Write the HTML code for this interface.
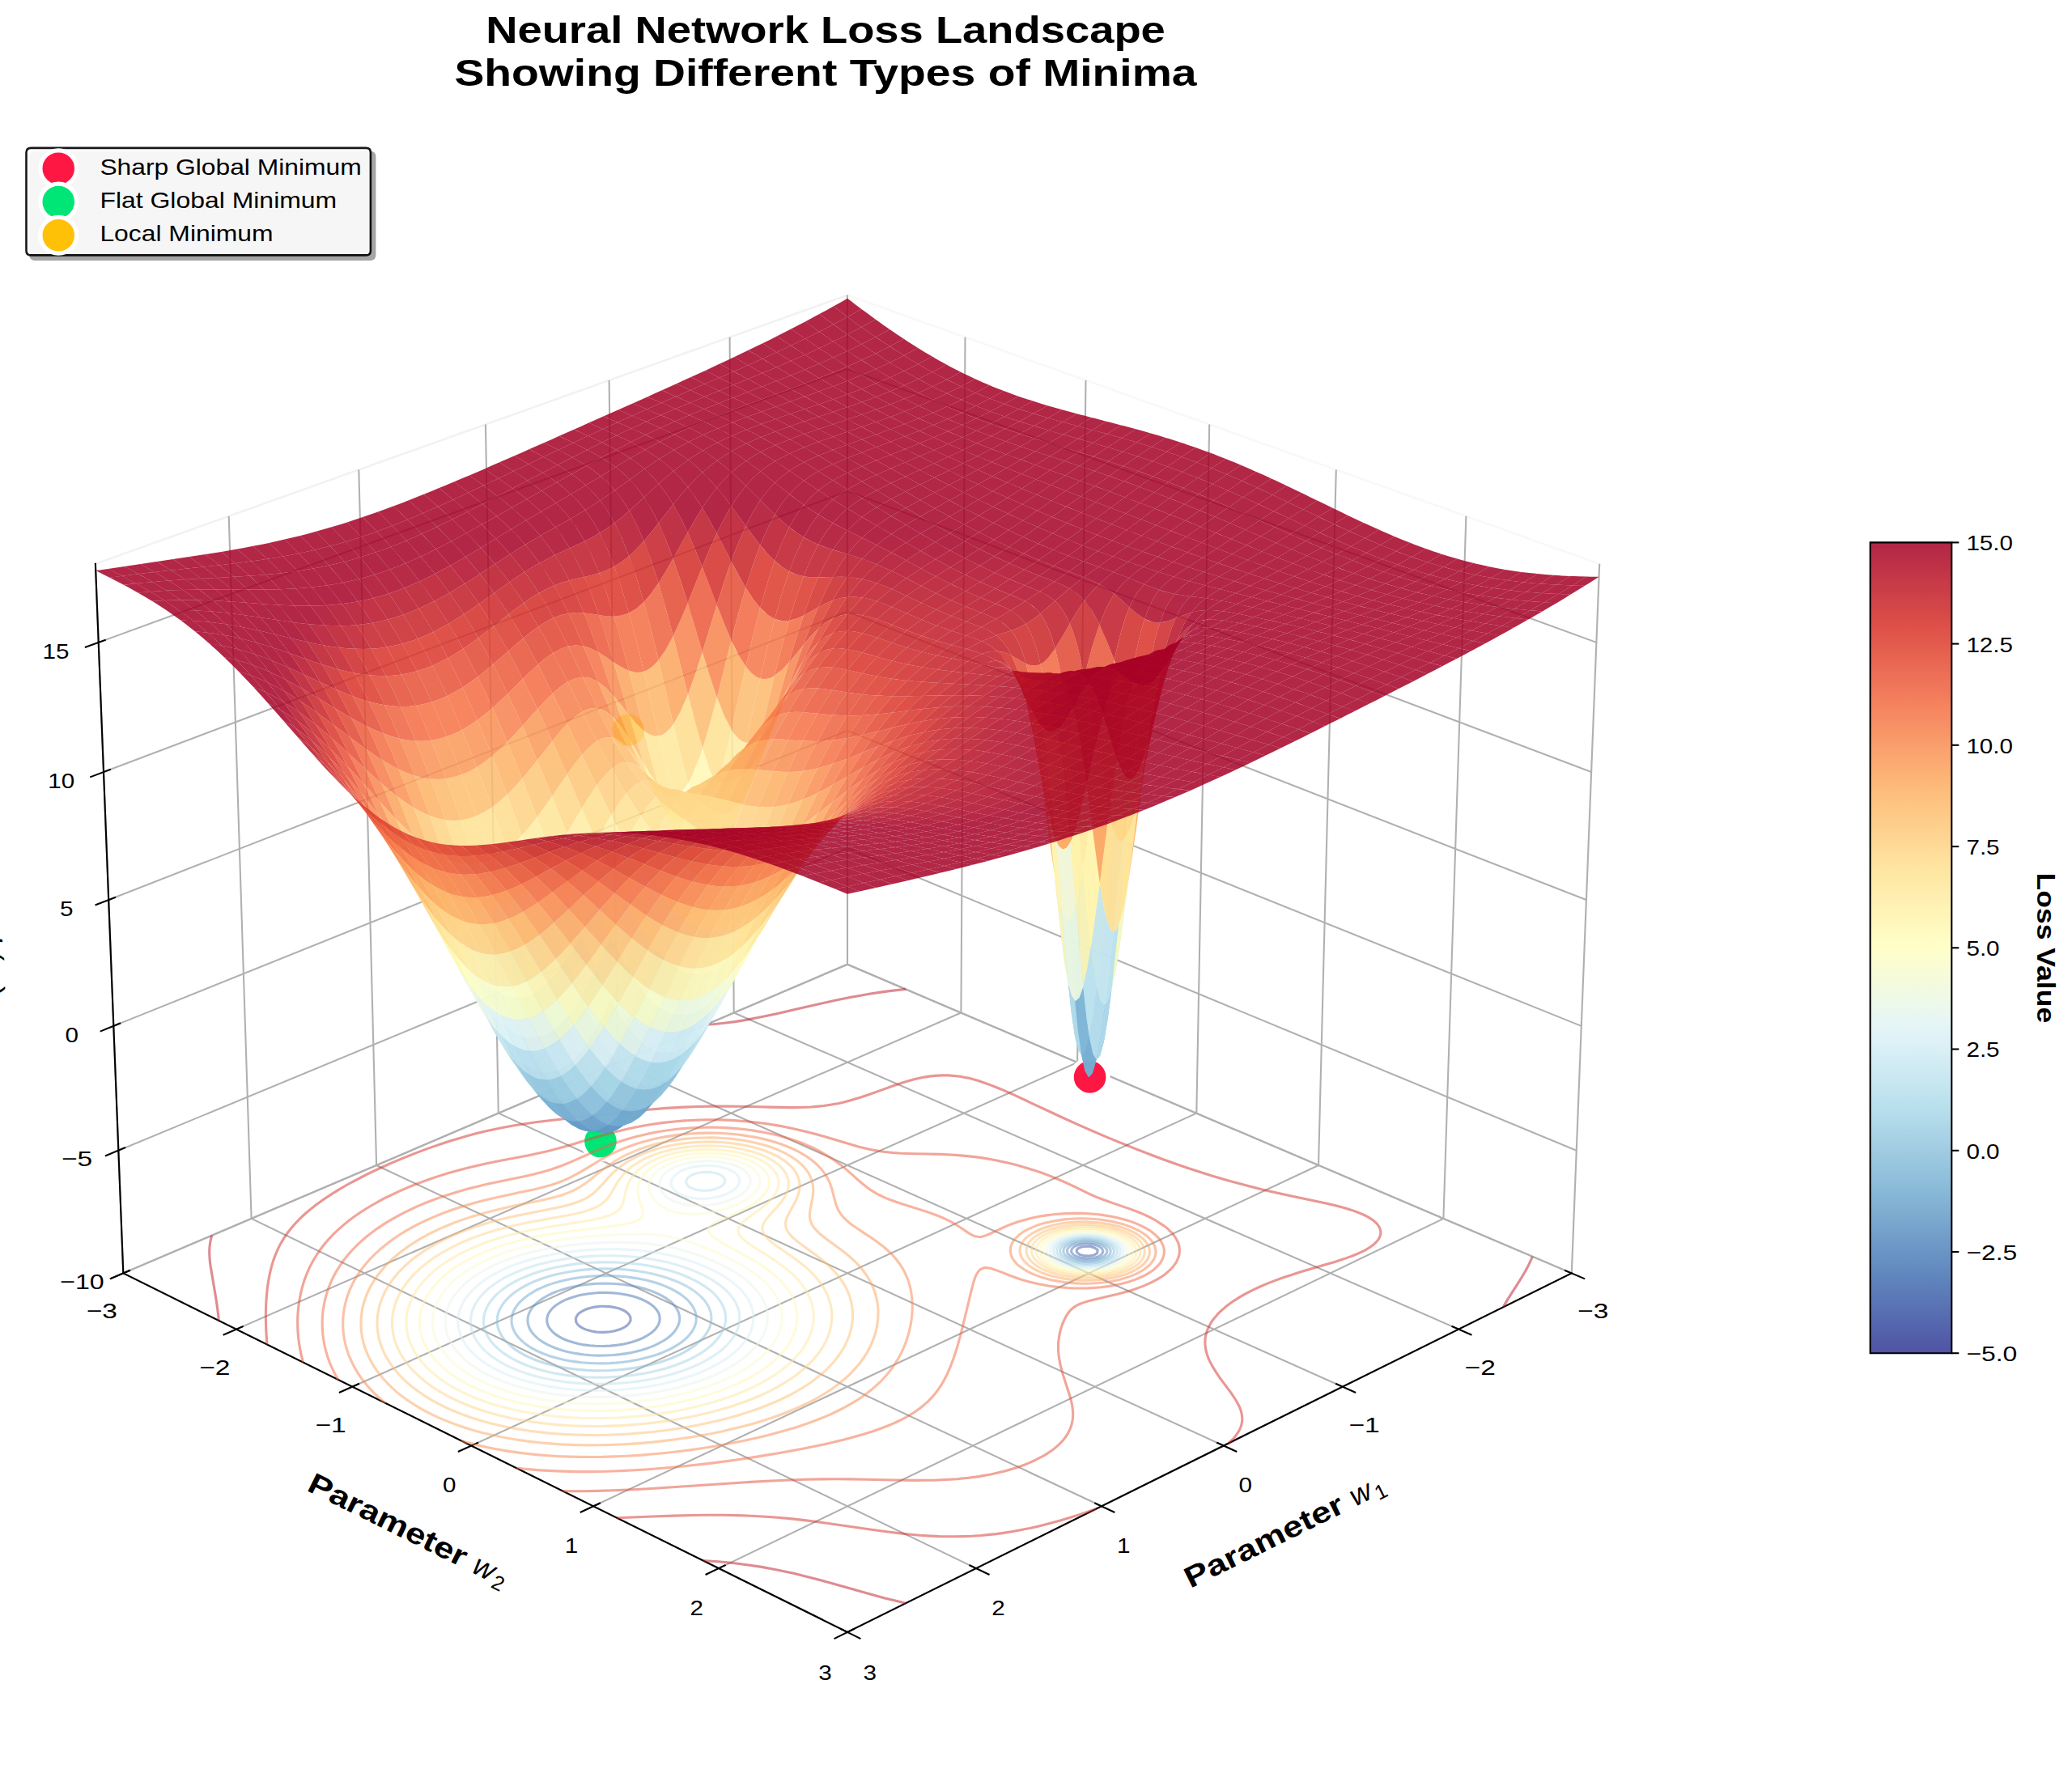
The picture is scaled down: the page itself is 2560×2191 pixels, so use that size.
<!DOCTYPE html><html><head><meta charset="utf-8"><title>Neural Network Loss Landscape</title><style>html,body{margin:0;padding:0;background:#fff;overflow:hidden}</style></head><body><svg xmlns="http://www.w3.org/2000/svg" width="2560" height="2191" viewBox="0 0 2560 2191" font-family="'Liberation Sans', sans-serif" style="display:block"><defs><clipPath id="c0"><rect x="18.3" y="168.7" width="2003.4" height="2003.4"/></clipPath></defs>
<g fill="#ffffff"><path d="M0 2191l2560 0l0-2191l-2560 0z"/><path d="M18.3 2172.1l2003.4 0l0-2003.4l-2003.4 0z"/></g>
<path d="M1047 1191.7l894.8 381.7l34.4-876.6l-929.2-332.1l0 0" fill="none" opacity="0.5" stroke="#f2f2f2" stroke-width="2.58" stroke-linejoin="miter"/>
<path d="M1047 1191.7l-894.7 381.7l-34.4-876.6l929.1-332.1l0 0" fill="none" opacity="0.5" stroke="#e6e6e6" stroke-width="2.58" stroke-linejoin="miter"/>
<path d="M1047 1191.7l-894.7 381.7l894.7 443.5l894.8-443.5l0 0" fill="none" opacity="0.5" stroke="#ececec" stroke-width="2.58" stroke-linejoin="miter"/>
<g fill="none" stroke="#b0b0b0" stroke-width="2.07"><path d="M1941.8 1573.4l-894.8-381.7l0-827l0 0"/><path d="M1802.1 1642.6l-895.4-391.1l-5.1-834.8l0 0"/><path d="M1658.8 1713.7l-895.8-400.8l-10.4-843l0 0"/><path d="M1511.8 1786.5l-896-410.9l-15.9-851.1l0 0"/><path d="M1361 1861.3l-895.9-421.3l-21.8-859.5l0 0"/><path d="M1206.1 1938.1l-895.5-432.2l-27.9-868l0 0"/><path d="M1047 2016.9l-894.7-443.5l-34.4-876.6l0 0"/><path d="M1047 364.7l0 827l-894.7 381.7l0 0"/><path d="M1192.5 416.7l-5.1 834.8l-895.4 391.1l0 0"/><path d="M1341.5 469.9l-10.4 843l-895.8 400.8l0 0"/><path d="M1494.2 524.5l-15.9 851.1l-896 410.9l0 0"/><path d="M1650.8 580.5l-21.8 859.5l-895.9 421.3l0 0"/><path d="M1811.4 637.9l-28 868l-895.4 432.2l0 0"/><path d="M1976.2 696.8l-34.4 876.6l-894.8 443.5l0 0"/><path d="M152.3 1573.4l894.7-381.7l894.8 381.7l0 0"/><path d="M146.4 1421.7l900.6-373.5l900.7 373.5l0 0"/><path d="M140.3 1267.9l906.7-365l906.7 365l0 0"/><path d="M134.2 1112l912.8-356.2l912.9 356.2l0 0"/><path d="M128 954l919-347.1l919.1 347.1l0 0"/><path d="M121.7 793.9l925.3-337.8l925.4 337.8l0 0"/></g>
<g fill="none" stroke="#000000" stroke-width="2.07" stroke-linecap="square"><path d="M1941.8 1573.4l-894.8 443.5l0 0"/><path d="M1934.1 1570.1l23.1 9.9l0 0"/></g>
<text transform="translate(1949.1 1628.9)" font-size="25.83" fill="#000000"  textLength="38.2" lengthAdjust="spacingAndGlyphs">−3</text>
<path d="M1794.4 1639.3l23.1 10.1l0 0" fill="none" stroke="#000000" stroke-width="2.07" stroke-linecap="square"/>
<text transform="translate(1809.6 1698.7)" font-size="25.83" fill="#000000"  textLength="38.2" lengthAdjust="spacingAndGlyphs">−2</text>
<path d="M1651.1 1710.2l23.1 10.4l0 0" fill="none" stroke="#000000" stroke-width="2.07" stroke-linecap="square"/>
<text transform="translate(1666.5 1770.2)" font-size="25.83" fill="#000000"  textLength="38.2" lengthAdjust="spacingAndGlyphs">−1</text>
<path d="M1504.1 1783l23.2 10.6l0 0" fill="none" stroke="#000000" stroke-width="2.07" stroke-linecap="square"/>
<text transform="translate(1530.6 1843.7)" font-size="25.83" fill="#000000"  textLength="16.5" lengthAdjust="spacingAndGlyphs">0</text>
<path d="M1353.2 1857.7l23.2 10.9l0 0" fill="none" stroke="#000000" stroke-width="2.07" stroke-linecap="square"/>
<text transform="translate(1379.9 1919)" font-size="25.83" fill="#000000"  textLength="16.5" lengthAdjust="spacingAndGlyphs">1</text>
<path d="M1198.4 1934.4l23.2 11.2l0 0" fill="none" stroke="#000000" stroke-width="2.07" stroke-linecap="square"/>
<text transform="translate(1225.2 1996.4)" font-size="25.83" fill="#000000"  textLength="16.5" lengthAdjust="spacingAndGlyphs">2</text>
<path d="M1039.3 2013.1l23.2 11.5l0 0" fill="none" stroke="#000000" stroke-width="2.07" stroke-linecap="square"/>
<text transform="translate(1066.4 2075.8)" font-size="25.83" fill="#000000"  textLength="16.5" lengthAdjust="spacingAndGlyphs">3</text>
<g transform="translate(1471.2 1963.8) rotate(-26.37)" fill="#000000"><text x="0" y="-0.8" font-size="36.17" font-weight="bold" textLength="214.8" lengthAdjust="spacingAndGlyphs">Parameter</text><text x="227.4" y="-0.8" font-size="36.17" font-style="italic">w</text><text x="256.9" y="5.2" font-size="25.32" >1</text></g>
<g fill="none" stroke="#000000" stroke-width="2.07" stroke-linecap="square"><path d="M152.3 1573.4l894.7 443.5l0 0"/><path d="M160 1570.1l-23.1 9.9l0 0"/></g>
<text transform="translate(106.8 1628.9)" font-size="25.83" fill="#000000"  textLength="38.2" lengthAdjust="spacingAndGlyphs">−3</text>
<path d="M299.7 1639.3l-23.1 10.1l0 0" fill="none" stroke="#000000" stroke-width="2.07" stroke-linecap="square"/>
<text transform="translate(246.3 1698.7)" font-size="25.83" fill="#000000"  textLength="38.2" lengthAdjust="spacingAndGlyphs">−2</text>
<path d="M443 1710.2l-23.2 10.4l0 0" fill="none" stroke="#000000" stroke-width="2.07" stroke-linecap="square"/>
<text transform="translate(389.4 1770.2)" font-size="25.83" fill="#000000"  textLength="38.2" lengthAdjust="spacingAndGlyphs">−1</text>
<path d="M590 1783l-23.2 10.6l0 0" fill="none" stroke="#000000" stroke-width="2.07" stroke-linecap="square"/>
<text transform="translate(547 1843.7)" font-size="25.83" fill="#000000"  textLength="16.5" lengthAdjust="spacingAndGlyphs">0</text>
<path d="M740.9 1857.7l-23.2 10.9l0 0" fill="none" stroke="#000000" stroke-width="2.07" stroke-linecap="square"/>
<text transform="translate(697.7 1919)" font-size="25.83" fill="#000000"  textLength="16.5" lengthAdjust="spacingAndGlyphs">1</text>
<path d="M895.7 1934.4l-23.2 11.2l0 0" fill="none" stroke="#000000" stroke-width="2.07" stroke-linecap="square"/>
<text transform="translate(852.4 1996.4)" font-size="25.83" fill="#000000"  textLength="16.5" lengthAdjust="spacingAndGlyphs">2</text>
<path d="M1054.8 2013.1l-23.3 11.5l0 0" fill="none" stroke="#000000" stroke-width="2.07" stroke-linecap="square"/>
<text transform="translate(1011.2 2075.8)" font-size="25.83" fill="#000000"  textLength="16.5" lengthAdjust="spacingAndGlyphs">3</text>
<g transform="translate(377.4 1842.1) rotate(-333.6)" fill="#000000"><text x="0" y="-0.8" font-size="36.17" font-weight="bold" textLength="214.8" lengthAdjust="spacingAndGlyphs">Parameter</text><text x="227.4" y="-0.8" font-size="36.17" font-style="italic">w</text><text x="256.9" y="5.2" font-size="25.32" >2</text></g>
<g fill="none" stroke="#000000" stroke-width="2.07" stroke-linecap="square"><path d="M152.3 1573.4l-34.4-876.6l0 0"/><path d="M160 1570.1l-23.1 9.9l0 0"/></g>
<text transform="translate(74.1 1593.1)" font-size="25.83" fill="#000000"  textLength="54.6" lengthAdjust="spacingAndGlyphs">−10</text>
<path d="M154.1 1418.4l-23.2 9.7l0 0" fill="none" stroke="#000000" stroke-width="2.07" stroke-linecap="square"/>
<text transform="translate(76 1441.4)" font-size="25.83" fill="#000000"  textLength="38.2" lengthAdjust="spacingAndGlyphs">−5</text>
<path d="M148.1 1264.7l-23.4 9.5l0 0" fill="none" stroke="#000000" stroke-width="2.07" stroke-linecap="square"/>
<text transform="translate(80.5 1287.6)" font-size="25.83" fill="#000000"  textLength="16.5" lengthAdjust="spacingAndGlyphs">0</text>
<path d="M142.1 1109l-23.6 9.2l0 0" fill="none" stroke="#000000" stroke-width="2.07" stroke-linecap="square"/>
<text transform="translate(74 1131.8)" font-size="25.83" fill="#000000"  textLength="16.5" lengthAdjust="spacingAndGlyphs">5</text>
<path d="M135.9 951.1l-23.7 8.9l0 0" fill="none" stroke="#000000" stroke-width="2.07" stroke-linecap="square"/>
<text transform="translate(59.2 973.8)" font-size="25.83" fill="#000000"  textLength="32.9" lengthAdjust="spacingAndGlyphs">10</text>
<path d="M129.7 791l-23.9 8.7l0 0" fill="none" stroke="#000000" stroke-width="2.07" stroke-linecap="square"/>
<text transform="translate(52.6 813.7)" font-size="25.83" fill="#000000"  textLength="32.9" lengthAdjust="spacingAndGlyphs">15</text>
<g transform="translate(-27 1052.8) rotate(-272.2)" fill="#000000"><text x="0" y="-0.7" font-size="36.17" font-weight="bold" textLength="90.8" lengthAdjust="spacingAndGlyphs">Loss</text><text x="103.4" y="-0.7" font-size="36.17" font-style="italic">L</text><text x="123.5" y="-0.7" font-size="36.17" >(</text><text x="137.6" y="-0.7" font-size="36.17" font-style="italic">w</text><text x="167.2" y="-0.7" font-size="36.17" >)</text></g>
<path d="M1346.6 1353.3c5.9 0 11.6-2.4 15.8-6.6c4.2-4.2 6.6-9.8 6.6-15.8c0-5.9-2.4-11.6-6.6-15.8c-4.2-4.2-9.9-6.6-15.8-6.6c-5.9 0-11.6 2.4-15.8 6.6c-4.2 4.2-6.6 9.9-6.6 15.8c0 6 2.4 11.6 6.6 15.8c4.2 4.2 9.9 6.6 15.8 6.6z" fill="#ff1744" stroke="#ffffff" stroke-width="5.17" clip-path="url(#c0)"/>
<text transform="translate(600.2 53.3)" font-size="46.5" fill="#000000" font-weight="bold" textLength="839.6" lengthAdjust="spacingAndGlyphs">Neural Network Loss Landscape</text>
<text transform="translate(561.4 106)" font-size="46.5" fill="#000000" font-weight="bold" textLength="917.2" lengthAdjust="spacingAndGlyphs">Showing Different Types of Minima</text>
<g stroke="#ffffff" stroke-width="5.17" clip-path="url(#c0)"><path d="M776.4 924.5c6 0 11.6-2.4 15.8-6.6c4.2-4.2 6.6-9.9 6.6-15.8c0-5.9-2.4-11.6-6.6-15.8c-4.2-4.2-9.8-6.6-15.8-6.6c-5.9 0-11.6 2.4-15.8 6.6c-4.2 4.2-6.6 9.9-6.6 15.8c0 5.9 2.4 11.6 6.6 15.8c4.2 4.2 9.9 6.6 15.8 6.6z" fill="#ffc107"/><path d="M742 1432.9c5.9 0 11.6-2.4 15.8-6.6c4.2-4.2 6.5-9.9 6.5-15.8c0-5.9-2.3-11.6-6.5-15.8c-4.2-4.2-9.9-6.6-15.8-6.6c-6 0-11.7 2.4-15.9 6.6c-4.2 4.2-6.5 9.9-6.5 15.8c0 5.9 2.3 11.6 6.5 15.8c4.2 4.2 9.9 6.6 15.9 6.6z" fill="#00e676"/></g>
<path d="M43.3 320.6l414.1 0q5.7 0 5.7-5.7l0-121.1q0-5.7-5.7-5.7l-414.1 0q-5.7 0-5.7 5.7l0 121.1q0 5.7 5.7 5.7z" fill="#4d4d4d" opacity="0.5" stroke="#4d4d4d" stroke-width="2.58" stroke-linejoin="miter"/>
<path d="M38.2 315.4l414.1 0q5.6 0 5.6-5.7l0-121.1q0-5.7-5.6-5.7l-414.1 0q-5.7 0-5.7 5.7l0 121.1q0 5.7 5.7 5.7z" fill="#ffffff" opacity="0.9" stroke="#000000" stroke-width="2.58" stroke-linejoin="miter"/>
<path d="M72.3 230.5c5.9 0 11.6-2.4 15.8-6.6c4.2-4.1 6.5-9.8 6.5-15.8c0-5.9-2.3-11.6-6.5-15.8c-4.2-4.2-9.9-6.5-15.8-6.5c-6 0-11.7 2.3-15.9 6.5c-4.2 4.2-6.5 9.9-6.5 15.8c0 6 2.3 11.7 6.5 15.8c4.2 4.2 9.9 6.6 15.9 6.6z" fill="#ff1744" stroke="#ffffff" stroke-width="5.17"/>
<text transform="translate(123.4 215.6)" font-size="28.42" fill="#000000"  textLength="323.2" lengthAdjust="spacingAndGlyphs">Sharp Global Minimum</text>
<path d="M72.3 271.8c5.9 0 11.6-2.3 15.8-6.5c4.2-4.2 6.5-9.9 6.5-15.9c0-5.9-2.3-11.6-6.5-15.8c-4.2-4.2-9.9-6.5-15.8-6.5c-6 0-11.7 2.3-15.9 6.5c-4.2 4.2-6.5 9.9-6.5 15.8c0 6 2.3 11.7 6.5 15.9c4.2 4.2 9.9 6.5 15.9 6.5z" fill="#00e676" stroke="#ffffff" stroke-width="5.17"/>
<text transform="translate(123.4 256.9)" font-size="28.42" fill="#000000"  textLength="292.8" lengthAdjust="spacingAndGlyphs">Flat Global Minimum</text>
<path d="M72.3 313.1c5.9 0 11.6-2.3 15.8-6.5c4.2-4.2 6.5-9.9 6.5-15.8c0-6-2.3-11.7-6.5-15.9c-4.2-4.2-9.9-6.5-15.8-6.5c-6 0-11.7 2.3-15.9 6.5c-4.2 4.2-6.5 9.9-6.5 15.9c0 5.9 2.3 11.6 6.5 15.8c4.2 4.2 9.9 6.5 15.9 6.5z" fill="#ffc107" stroke="#ffffff" stroke-width="5.17"/>
<text transform="translate(123.4 298.2)" font-size="28.42" fill="#000000"  textLength="214.1" lengthAdjust="spacingAndGlyphs">Local Minimum</text>
<path d="M728.6 1616.5l6.2-1.4l7.4-0.8l2.9-0.1l8.3 0.4l6.6 1.1l5.7 1.5l4.7 2l3.8 2.4l2.9 2.8l1.8 3.2l0.2 4.2l-1.9 3.4l-2.8 3l-3.9 2.5l-4.6 2.1l-6.6 2l-5.5 0.9l-7.7 0.7l-8-0.3l-2.2-0.2l-4.7-0.8l-5.8-1.5l-4.8-1.9l-3.9-2.3l-3.1-2.8l-1.3-2l-0.6-1.2l-0.4-3.9l1.4-3.4l1.6-2.1l0.9-1l3.7-2.5l4.4-2.2l5.3-1.8M1337.4 1540.5l0.4 0l7.8-0.3l1.4 0.1l5.5 1.7l3.5 2.5l0.2 0.4l-0.6 3.7l-1.7 1.1l-2.1 1.2l-1.1 0.3l-5.4 0.8l-5.1-0.1l-6-1.4l-3.4-2.6l-0.7-2.7l1.1-1.6l1.3-1.2l4.9-1.9l0 0" fill="none" stroke="#3a54a4" stroke-opacity="0.5" stroke-width="3.1" clip-path="url(#c0)"/>
<path d="M703.3 1604.5l5.3-1.8l5.8-1.6l6.2-1.3l6.7-1.1l9.3-1l6.1-0.3l3.7 0l8.5 0.2l7.7 0.6l6.9 1l6.6 1.2l5.6 1.4l5.4 1.7l4.9 1.8l4.6 2l4.1 2.3l3.7 2.4l3.2 2.6l2.8 2.9l2.2 3.1l1 1.7l0.7 1.7l0.9 3.7l-0.1 4.1l-1 3.7l-0.5 1.1l-1.2 2.4l-2.8 3.6l-2.5 2.5l-3.4 2.7l-3.8 2.5l-4.2 2.4l-4.6 2.1l-5.1 1.9l-5.4 1.8l-5.9 1.5l-6.4 1.4l-7 1l-7.5 0.7l-8.4 0.4l-9.5-0.2l-7.1-0.5l-7.2-0.9l-6.4-1.2l-6.3-1.6l-5.1-1.5l-5-1.9l-4.6-2.1l-4.1-2.3l-3.7-2.4l-3.2-2.7l-2.7-2.9l-2.3-3.2l-1.5-3.2l-0.6-2.2l-0.3-1.5l-0.1-3l0.2-1.1l0.6-2.9l0.7-1.8l0.9-1.8l2.7-3.9l2.2-2.4l3.2-2.7l3.7-2.6l4-2.4l4.5-2.2l4.9-1.9M1332.6 1538.4l1.4-0.3l5.1-0.8l5.7-0.1l3.9 0.4l3.1 0.5l5.2 1.8l3.8 2.4l0.9 1.1l1 2.2l-0.2 2.1l-2.1 3.1l-4 2.2l-1.5 0.4l-4.1 1.1l-8.5 0.6l-7.1-0.9l-5.4-1.6l-3.9-2.4l-2.3-3.1l-0.1-0.8l1.1-3.5l0.8-0.7l2.4-1.8l4.8-1.9l0 0" fill="none" stroke="#4471b2" stroke-opacity="0.5" stroke-width="3.1" clip-path="url(#c0)"/>
<path d="M708.8 1589.9l6.4-1.2l8.1-1.2l6-0.6l7.9-0.6l8.4-0.3l9.3 0.2l10.5 0.7l3.6 0.3l8.7 1.2l4.8 0.8l6.2 1.3l5.8 1.5l5.4 1.6l5.1 1.8l4.8 1.9l4.4 2.1l4.2 2.2l3.9 2.3l3.6 2.5l3.2 2.6l2.8 2.8l2.9 3.5l1.7 2.7l1.7 3.3l1.2 4.7l0.3 2.9l-0.1 1.5l-0.5 4l-1.3 3.7l-1.8 3.4l-2.2 3.3l-2.6 3.1l-3.1 2.9l-3.3 2.7l-3.7 2.5l-4.1 2.5l-4.3 2.2l-4.6 2.2l-4.9 2l-5.3 1.9l-5.5 1.7l-6.9 1.8l-5.3 1.1l-6.6 1.2l-7 1l-8.7 0.9l-10.3 0.5l-9.2 0.1l-8.4-0.4l-8.5-0.7l-6.4-0.9l-6.9-1.1l-6-1.3l-5.9-1.5l-5.4-1.7l-5.2-1.8l-4.8-2l-4.4-2.1l-4.2-2.2l-3.8-2.4l-3.5-2.6l-3.1-2.7l-3.4-3.6l-1.8-2.3l-2.4-4.1l-1-2.5l-1-3.6l-0.4-3.9l0.4-4.3l1-3.6l0.5-1.1l1.1-2.5l2.1-3.3l2.5-3.1l3.2-3.2l3-2.5l3.5-2.7l3.9-2.4l4.2-2.3l4.4-2.2l4.8-2l5.1-1.9l5.4-1.7l5.7-1.6l6.1-1.4M1334.8 1535.4l7.6-0.6l6.6 0.4l6.4 1.2l5.1 1.8l4.2 2.6l2.4 2.7l0.8 2.6l-0.1 1.3l-1 2.2l-2.7 2.8l-4.1 2.2l-5.3 1.6l-6.6 1.1l-1.6 0l-8.5-0.2l-6.5-1.1l-5.2-1.8l-4.1-2.3l-2.9-2.8l-0.4-0.9l-0.5-2.8l0.2-1.3l2.1-3l3.4-2.5l4.7-1.9l6-1.3l0 0" fill="none" stroke="#588cc0" stroke-opacity="0.5" stroke-width="3.1" clip-path="url(#c0)"/>
<path d="M672.5 1589.8l4.9-1.9l5.3-1.8l5.5-1.7l5.7-1.5l7.6-1.7l4.8-1l9.7-1.5l3.9-0.5l8.1-0.9l10.4-0.6l9.4-0.2l8.7 0.2l8.1 0.4l8.7 0.7l5.9 0.8l6.8 1l6.4 1.2l6.1 1.3l5.8 1.4l5.4 1.6l5.3 1.7l4.9 1.8l4.8 2l4.4 2l4.2 2.2l4 2.3l3.7 2.4l3.5 2.6l3.1 2.6l2.9 2.8l3.3 3.9l1.5 2.2l2.2 3.8l1.2 2.9l1 3.6l0.5 3.9l-0.1 4.2l-0.6 3.4l-0.4 1.2l-0.8 2.5l-1.7 3.6l-2 3.3l-2.5 3.2l-2.7 3l-3 2.9l-3.4 2.7l-3.6 2.6l-3.8 2.5l-4.2 2.4l-4.3 2.3l-4.7 2.1l-4.8 2.1l-5.2 1.9l-5.4 1.8l-5.6 1.6l-7.8 2l-4.4 1l-6.5 1.2l-6.8 1.2l-10.7 1.2l-4.2 0.4l-8.1 0.5l-8.7 0.3l-9.4-0.1l-10.3-0.6l-5.3-0.4l-7.3-0.9l-6.9-1l-6.6-1.2l-6.1-1.4l-5.9-1.5l-7.2-2.1l-3.6-1.3l-4.9-1.9l-4.7-2l-4.5-2.1l-4.1-2.3l-3.9-2.4l-3.6-2.5l-3.3-2.6l-3-2.7l-3.2-3.3l-2-2.6l-2.6-4l-1.2-2.5l-1.4-3.5l-0.9-4.5l-0.3-3.1l0-1.4l0.5-4.1l1-3.9l1.9-4.3l1.5-2.7l2.3-3.3l2.6-3.1l3.4-3.3l2.7-2.4l3.5-2.7l3.7-2.5l4-2.4l4.2-2.3l4.5-2.1l4.7-2.1M1331.2 1533.8l4.3-0.6l2.7-0.3l7 0l2 0.1l5.3 0.6l6 1.4l5 1.8l4.1 2.3l3 2.8l1.1 2l0.5 1.4l-0.1 2.7l-0.9 2l-0.8 1.2l-3.1 2.7l-4.1 2.1l-5.1 1.7l-6.2 1.3l-7.9 0.5l-1.9-0.1l-7.6-0.6l-1.6-0.3l-4.6-1l-5.1-1.8l-4.2-2.2l-3.2-2.7l-1.8-3.4l-0.2-1.4l0.6-3l0.3-0.6l2.6-2.9l3.6-2.3l4.6-1.9l5.7-1.5l0 0" fill="none" stroke="#6ea6ce" stroke-opacity="0.5" stroke-width="3.1" clip-path="url(#c0)"/>
<path d="M686.5 1575.1l6-1.4l6.3-1.3l6.9-1.2l6.5-0.9l7.2-0.9l10.3-0.9l10.1-0.5l9.3-0.1l8.7 0.1l8.1 0.4l7.7 0.6l10.2 1.1l4 0.6l9.6 1.6l3.4 0.6l6 1.4l8.3 2.1l3.1 0.8l5.3 1.7l5.1 1.8l4.9 1.8l4.7 2l4.4 2l4.3 2.2l4 2.3l3.8 2.3l3.6 2.5l3.3 2.6l3.1 2.7l2.9 2.8l2.6 2.9l2.3 3.1l2 3.2l1.7 3.3l1.3 3.5l1 3.8l0.4 3.9l-0.1 4.2l-0.8 4.5l-0.9 3.1l-1.5 3.6l-2.1 3.7l-2 3l-2.6 3.3l-2.7 2.8l-3 2.9l-3.3 2.8l-3.5 2.6l-3.7 2.6l-4 2.4l-4.2 2.4l-4.4 2.3l-4.6 2.1l-4.9 2.1l-5.1 1.9l-5.2 1.9l-5.5 1.7l-8.2 2.3l-3.6 0.9l-6.2 1.4l-7.7 1.5l-5.6 0.9l-8.1 1.1l-6.4 0.8l-7.8 0.6l-8.2 0.5l-9.7 0.2l-9 0l-9.4-0.4l-11-0.9l-3.5-0.4l-9-1.2l-4.9-0.8l-10.3-2.1l-2.4-0.6l-5.8-1.5l-5.7-1.6l-5.3-1.7l-5.1-1.8l-4.9-2l-4.6-2.1l-4.4-2.1l-4.1-2.3l-3.9-2.3l-3.7-2.5l-3.4-2.6l-3.2-2.7l-3.3-3.1l-2.3-2.6l-2.4-3l-2.2-3.1l-2.4-4.6l-0.8-2.1l-1.2-3.6l-0.8-4.4l-0.1-4.4l0.4-4.2l0.9-3.9l1.6-4.3l1.5-2.9l2-3.4l2.4-3.2l2.6-3.1l2.9-2.9l3.7-3.3l2.8-2.3l3.6-2.5l3.8-2.5l4-2.4l4.3-2.3l4.4-2.1l4.7-2.1l4.9-2l5.1-1.8l5.3-1.7l5.6-1.7l5.8-1.5M1327.9 1532.4l0.8-0.2l5.8-0.9l5.9-0.4l2.1 0l6.2 0.3l6.9 1l5.8 1.4l4.9 1.9l4.2 2.2l3.2 2.7l0.5 0.6l1.6 2.6l0.6 2.3l-0.1 1.7l-0.6 2l-2.1 3.1l-3.2 2.5l-4.2 2.2l-5 1.7l-6 1.3l-8.1 0.9l-8.7-0.1l-7.1-0.9l-6-1.4l-5.1-1.8l-4.2-2.3l-3.3-2.6l-2.3-3.1l-0.3-0.8l-0.5-3l0.2-1.1l1.5-3.3l1-1l1.8-1.8l3.8-2.3l4.6-1.9l5.4-1.5l0 0" fill="none" stroke="#87bdd9" stroke-opacity="0.5" stroke-width="3.1" clip-path="url(#c0)"/>
<path d="M674 1569.2l5.8-1.5l6.1-1.4l7.1-1.4l5.7-1l8.4-1.3l5.3-0.7l7.4-0.8l10.3-0.8l10-0.4l9.3-0.2l8.7 0.2l8.3 0.3l7.8 0.5l9.2 0.9l5.4 0.6l7.1 1l6.3 1l8.6 1.7l3.7 0.9l5.8 1.4l5.6 1.5l5.4 1.6l5.2 1.7l5 1.8l4.8 1.9l4.7 2l4.4 2.1l4.2 2.1l4.1 2.3l3.9 2.3l3.9 2.6l3.2 2.3l3.3 2.6l3.1 2.7l2.8 2.9l2.6 2.9l2.5 3.2l2 3l1.8 3.3l1.5 3.4l1.1 3.6l0.8 3.8l0.4 4l-0.1 4.2l-0.8 4.5l-0.7 2.8l-1.4 3.6l-1.8 3.8l-1.9 3.1l-2.2 3.2l-2.6 3.1l-3.3 3.5l-2.5 2.4l-3.2 2.8l-3.4 2.7l-3.7 2.6l-3.8 2.5l-4.1 2.4l-4.3 2.4l-4.4 2.2l-4.6 2.2l-4.9 2l-5 2l-5.2 1.9l-9.2 3l-1.8 0.5l-5.8 1.6l-6.1 1.5l-6.7 1.5l-6 1.2l-9.2 1.5l-4.6 0.7l-8.3 1l-11.4 1.1l-3.2 0.2l-8.3 0.4l-8.8 0.2l-9.3 0l-10-0.4l-10.8-0.8l-3.3-0.3l-8.7-1l-5.7-0.9l-8-1.3l-5.1-1l-6.2-1.4l-5.9-1.5l-5.7-1.6l-5.4-1.7l-5.2-1.8l-5-1.9l-4.8-2l-4.5-2.1l-4.4-2.2l-4.1-2.2l-3.9-2.4l-3.8-2.5l-3.5-2.5l-4.2-3.5l-2.1-1.9l-2.9-2.8l-3.2-3.6l-1.8-2.4l-2.8-4.3l-1.1-2.1l-1.7-3.7l-1.2-3.2l-0.9-3.6l-0.5-3.9l-0.1-4l0.3-4.2l1-4.5l1-3l1.5-3.6l1.8-3.5l2.1-3.3l2.4-3.2l2.6-3.1l2.9-3l3-2.8l3.3-2.8l3.5-2.6l3.7-2.6l3.9-2.4l4.1-2.4l4.2-2.2l4.5-2.2l4.6-2l4.9-2l5-1.9l5.2-1.8l5.4-1.7l5.6-1.6M1331.2 1529.8l3.4-0.3l4-0.3l5.6-0.1l3.7 0.2l4 0.4l6.6 1.1l5.7 1.5l4.9 1.9l4.7 2.7l2.8 2.2l2.5 3l0.6 1.3l0.6 2.3l0 2l-0.9 2.6l-0.4 0.8l-2.4 2.9l-3.4 2.5l-4.1 2.1l-5 1.8l-5.8 1.4l-6.8 1l-8.4 0.4l-8-0.5l-6.7-1l-5.9-1.5l-5-1.9l-4.3-2.1l-3.5-2.6l-2.6-3l-1.4-3.5l-0.1-0.8l0.6-3.7l2-3.1l2.9-2.7l3.8-2.3l4.6-1.9l5.4-1.6l6.3-1.2l0 0" fill="none" stroke="#a3d3e6" stroke-opacity="0.5" stroke-width="3.1" clip-path="url(#c0)"/>
<path d="M861.1 1449.8l6.1-1.2l8.8-0.2l6.6 0.9l5.4 1.5l4 2.1l2.7 2.7l1 2l0.2 1.4l-0.5 2.4l-2.2 3l-3.5 2.5l-4.5 2l-5.4 1.5l-1.3 0.2l-5.7 0.6l-4.6 0.1l-5.1-0.5l-2-0.3l-5.3-1.6l-4.1-2l-2.9-2.7l-1.2-3.3l0.1-1.1l1.3-3.5l3-2.6l4-2.2l5.1-1.7M651.3 1567l5.3-1.8l5.5-1.6l5.6-1.6l10.7-2.6l1.2-0.3l6.3-1.2l8.3-1.5l4.8-0.8l8.5-1.1l11.8-1.3l1.3-0.1l9.4-0.7l10-0.4l9.3-0.2l8.9 0l8.4 0.3l8 0.4l9 0.7l5.9 0.6l7 0.9l6.8 1l6.5 1.1l6.2 1.2l9.3 2.1l2.6 0.7l5.6 1.5l5.4 1.6l5.2 1.7l7.4 2.6l2.6 1l4.8 1.9l4.5 2l4.4 2l4.3 2.2l5.3 2.9l2.7 1.6l3.7 2.4l3.6 2.5l3.4 2.5l3.9 3.3l2.3 2.1l2.8 2.8l2.6 2.9l2.4 3.1l2.3 3.3l1.8 3.1l1.6 3.4l1.6 4.3l0.8 2.9l0.6 3.8l0.3 4l-0.2 4.3l-0.3 2.6l-0.9 3.8l-1.2 3.7l-2 4.5l-1.4 2.5l-2 3.3l-2.4 3.2l-2.6 3.2l-2.7 2.9l-3 2.9l-3.2 2.9l-3.4 2.7l-3.5 2.6l-3.8 2.6l-5.8 3.5l-2.3 1.3l-4.2 2.4l-4.5 2.2l-4.7 2.2l-4.8 2l-5 2l-5.1 2l-5.4 1.8l-5.5 1.7l-5.7 1.7l-8.8 2.3l-3.2 0.8l-6.3 1.4l-7.7 1.5l-5.5 1l-8.7 1.3l-5.5 0.7l-7.5 0.8l-10.7 0.9l-10.5 0.6l-9.7 0.2l-9.2 0l-8.7-0.2l-8.3-0.5l-7.9-0.6l-10-1l-4.8-0.6l-8.2-1.3l-5.4-0.9l-10.1-2.1l-2.5-0.6l-5.9-1.4l-5.8-1.6l-6.9-2.2l-3.9-1.3l-5.1-1.8l-4.9-2l-4.7-2l-4.5-2.1l-4.3-2.2l-4.1-2.3l-4-2.3l-5.9-4.1l-1.4-0.9l-3.3-2.6l-3.2-2.7l-4.2-4l-1.5-1.7l-2.6-2.9l-2.3-3.1l-2.1-3.1l-1.9-3.3l-1.6-3.4l-1.3-3.5l-1.1-3.7l-0.8-4.8l-0.3-4.5l0.3-4.3l0.6-4l1-3.9l1.4-3.7l2.3-5l1.2-2l2.3-3.6l2.2-2.9l2.8-3.3l2.7-2.8l3-2.9l3.2-2.8l3.4-2.6l3.5-2.6l6.4-4.1l1.3-0.9l4.1-2.3l4.3-2.3l4.4-2.1l4.6-2.1l4.8-2l5-1.9l5.1-1.8M1321.9 1529.7l6.1-1.3l7.1-0.8l3.9-0.2l4.5 0l4.2 0.1l7.3 0.8l6.3 1.2l5.5 1.6l4.9 1.9l4.2 2.2l3.5 2.5l2.7 3l1.7 3.4l0.3 1.3l-0.1 2.8l-0.2 1l-1.7 3.3l-2.6 2.8l-3.5 2.4l-4.1 2.2l-4.9 1.8l-6.2 1.6l-6 1l-7.6 0.6l-9.3-0.2l-5.9-0.5l-7.5-1.4l-4.7-1.3l-5-1.9l-4.4-2.2l-3.8-2.6l-2.6-2.7l-1.9-3.4l-0.5-4.2l1.2-3.4l1.1-1.5l1.2-1.5l3.1-2.6l3.9-2.3l4.6-1.9l5.2-1.6l0 0" fill="none" stroke="#bde2ee" stroke-opacity="0.5" stroke-width="3.1" clip-path="url(#c0)"/>
<path d="M848.6 1444.2l5.4-1.6l6.2-1.2l7-0.8l9.2-0.2l7.5 0.6l2.5 0.3l3.9 0.7l5.5 1.4l4.9 1.8l4.2 2l3.4 2.4l2.8 2.6l0.4 0.5l1.4 2.6l0.7 2.4l0.1 1.2l-0.3 2.7l-0.6 1.6l-0.9 1.7l-2.3 3l-3 2.6l-3.7 2.4l-4.1 2.1l-4.8 1.9l-5.3 1.6l-5.9 1.3l-6.8 1l-3.3 0.3l-4.6 0.1l-4.5 0l-7.3-0.7l-6.2-1.2l-5.3-1.6l-4.5-1.9l-3.8-2.2l-3.1-2.6l-2.4-2.8l-1.5-3.2l-0.3-1.6l-0.1-2.1l0.3-1.8l1-2.7l0.4-0.7l2.3-3l2.9-2.7l3.7-2.3l4.2-2.1l4.7-1.8M661.6 1554.9l5.9-1.5l6-1.4l6.7-1.3l6-1.1l8.6-1.4l4.8-0.7l8-1l11.6-1.2l10-0.8l8.1-0.4l8.3-0.3l8.7-0.1l9.1 0.1l9.6 0.3l2.2 0.1l8.1 0.5l11.1 1.1l3.4 0.3l9 1.3l4.6 0.7l9.8 1.8l2.8 0.6l5.9 1.3l9.8 2.5l1.5 0.5l5.5 1.6l5.2 1.6l5.1 1.8l4.9 1.8l4.8 1.9l4.7 1.9l4.5 2l4.4 2.1l4.2 2.2l4.1 2.2l3.9 2.3l3.8 2.3l3.7 2.5l5.1 3.7l1.7 1.4l3.1 2.6l3 2.8l2.8 2.8l2.6 2.9l2.6 3.3l2 2.9l2 3.2l1.7 3.3l1.5 3.5l1.2 3.7l1.1 4.7l0.4 4.5l0.1 4.2l-0.4 4.1l-0.8 3.9l-1.1 3.8l-2.1 5.2l-1 1.9l-2.1 3.7l-1.9 2.9l-2.5 3.3l-2.5 3l-4 4.2l-1.7 1.7l-3.2 2.9l-3.3 2.7l-3.5 2.7l-3.7 2.6l-3.8 2.5l-4 2.4l-4.2 2.4l-4.3 2.3l-4.5 2.3l-4.7 2.1l-4.8 2.1l-4.9 2l-5.2 2l-5.2 1.8l-5.5 1.8l-8.2 2.5l-3.2 0.9l-6 1.5l-10.8 2.5l-1.6 0.4l-6.5 1.3l-7.6 1.3l-6.1 1l-7.4 1l-12.2 1.3l-2.6 0.3l-8.6 0.7l-10.4 0.5l-9.8 0.3l-9.3 0l-8.8-0.2l-8.4-0.4l-8.5-0.5l-11.5-1.1l-3.3-0.4l-9.4-1.3l-4.6-0.7l-9.8-1.8l-3.3-0.7l-6.1-1.4l-8.3-2.1l-3.5-0.9l-5.6-1.7l-5.3-1.7l-5.2-1.8l-5-1.9l-4.8-2l-4.7-2.1l-4.4-2.1l-4.3-2.2l-4.1-2.3l-4-2.4l-3.7-2.4l-3.6-2.5l-3.5-2.6l-3.6-3.1l-2.6-2.3l-2.9-2.9l-3.1-3.4l-2.1-2.5l-3.2-4.5l-1.1-1.7l-2.5-4.5l-1-2.1l-1.4-3.5l-1.5-5.1l-0.5-2.1l-0.5-3.8l-0.2-4l0.1-4.1l0.6-4.3l1.1-4.5l0.8-2.8l1.5-3.7l1.7-3.5l2-3.4l2.1-3.3l3.6-4.6l1.4-1.7l2.8-3l2.9-2.9l3.2-2.8l3.3-2.7l3.4-2.7l3.7-2.6l3.8-2.4l3.9-2.4l4.2-2.4l4.2-2.2l4.4-2.2l4.6-2.1l4.8-2l4.8-1.9l5.1-1.9l5.2-1.8l5.4-1.7l5.5-1.6l5.7-1.5M1319 1528.4l5.9-1.4l8.3-1.1l6.3-0.3l3.4 0l8.1 0.4l6.9 0.9l6.1 1.3l5.5 1.6l4.8 1.9l4.3 2.2l3.9 2.8l2.5 2.6l2.2 3.5l0.8 3.5l0 0.8l-1.1 3.9l-1.8 2.8l-2.8 2.7l-3.5 2.5l-4.2 2.1l-4.8 1.8l-5.5 1.6l-6.3 1.2l-7.2 0.8l-8.5 0.2l-6.1-0.3l-7.2-0.8l-6.4-1.3l-5.6-1.5l-5-1.9l-4.3-2.2l-3.7-2.4l-3-2.8l-2.2-3.2l-1.2-3.6l0.4-3.8l0.2-0.6l1.4-2.7l2.5-2.9l3.2-2.5l3.9-2.2l4.6-2l5.2-1.6l0 0" fill="none" stroke="#d6eef5" stroke-opacity="0.5" stroke-width="3.1" clip-path="url(#c0)"/>
<path d="M844.8 1438.4l5.7-1.4l6.3-1.1l7-0.8l8.1-0.5l8.8 0.2l7 0.6l6.5 1l5.8 1.3l5.3 1.6l4.8 1.7l4.2 2.1l3.7 2.2l3.2 2.5l2.6 2.7l1.9 3.1l0.8 2l0.4 1.4l0.2 2.8l0 1l-0.6 2.7l-0.8 1.8l-0.8 1.5l-2.1 3.1l-2.8 2.7l-3.1 2.6l-3.6 2.4l-4 2.2l-4.4 2l-4.8 1.9l-5.2 1.7l-5.6 1.5l-6 1.2l-6.7 1l-7.4 0.7l-8.6 0.1l-6.9-0.4l-6.8-0.9l-5.8-1.4l-5.2-1.6l-4.6-1.9l-4-2.1l-3.5-2.4l-3-2.6l-2.4-2.8l-1.9-3.1l-1.3-3.3l-0.4-3.7l0.3-2.7l0.3-1.5l0.8-2.1l1.8-3.2l2.4-2.9l2.9-2.7l3.5-2.4l3.8-2.3l4.3-2l4.7-1.8l5.2-1.7M638.7 1552.5l5.4-1.7l5.6-1.6l5.7-1.5l10-2.4l8.2-1.7l8-1.5l11.6-1.9l6.9-0.9l7.9-0.9l14-1.4l8.3-0.6l10.2-0.6l13.8-0.4l8.7-0.1l9.1 0l9.5 0.3l3.6 0.2l7.8 0.5l9.9 0.9l4.7 0.6l7.9 1.1l5.4 0.9l9.6 2l2.6 0.5l5.8 1.4l5.6 1.5l10.7 3.3l10.2 3.5l9.6 3.7l9.2 3.9l8.8 4.2l8.2 4.4l4 2.2l3.8 2.4l6 4l1.3 0.9l3.4 2.5l3.2 2.6l4.4 3.9l1.7 1.6l2.8 2.8l2.8 3.2l2.2 2.7l2.6 3.7l1.7 2.6l1.8 3.3l1.6 3.5l1.3 3.5l1.1 3.7l0.8 4.1l0.5 4.5l0 4.2l-0.3 4.1l-0.7 4l-1.3 4.5l-1 2.9l-1.6 3.6l-2.1 4.1l-1.6 2.7l-2.3 3.3l-2.3 3.1l-3.2 3.7l-2.2 2.4l-2.9 2.9l-3.2 2.8l-3.3 2.8l-3.4 2.7l-3.6 2.6l-3.9 2.6l-3.8 2.5l-4.1 2.4l-4.2 2.4l-4.4 2.3l-4.5 2.2l-4.6 2.1l-4.8 2.1l-5 2.1l-5.1 1.9l-5.2 1.9l-11 3.6l-5.7 1.7l-5.8 1.6l-6.8 1.7l-5.4 1.3l-12 2.4l-7.6 1.4l-7.1 1.2l-13.1 1.7l-8.7 1l-7.9 0.7l-8 0.6l-8.9 0.4l-9.8 0.3l-9.4 0l-8.9-0.1l-8.6-0.3l-10.6-0.7l-11.3-1l-1.7-0.2l-10.6-1.3l-3.9-0.5l-9.8-1.7l-3.6-0.6l-6.4-1.3l-6.2-1.4l-6-1.5l-5.8-1.5l-9.4-2.9l-1.6-0.5l-5.3-1.8l-5.1-1.9l-4.9-1.9l-4.8-2l-4.5-2.1l-4.5-2.2l-4.2-2.2l-4.1-2.3l-3.9-2.4l-3.8-2.4l-4.5-3.2l-2.6-1.9l-3.3-2.7l-3.1-2.7l-3.3-3.1l-2.4-2.5l-2.6-3l-2.4-3l-2.3-3.1l-2-3.2l-1.9-3.2l-1.6-3.4l-1.9-4.7l-0.7-2.3l-1-3.6l-0.7-4.1l-0.4-4.6l0.1-4.4l0.3-4.2l0.8-4l1-3.9l1.5-4.2l1.3-3.2l1.8-3.5l2.2-3.7l2-3l2.3-3.2l2.6-3.1l2.7-3l2.9-2.9l5.1-4.6l1.2-1l3.4-2.7l3.5-2.6l5.4-3.6l2.2-1.4l3.9-2.4l4.2-2.3l4.2-2.3l4.4-2.2l4.6-2.1l4.7-2l4.8-2l5-1.8l5.1-1.9l5.3-1.7M1321.8 1525.7l6.5-1.1l9.4-0.7l8.8 0l8.7 0.8l5.6 0.9l6 1.3l5.4 1.7l4.8 1.9l4.2 2.2l3.7 2.5l3.1 2.7l2.2 3.1l1.5 3.8l-0.1 4l-1.3 3.3l-2.2 3l-2.9 2.7l-3.6 2.4l-4.2 2.2l-4.8 1.8l-5.4 1.6l-6.1 1.3l-6.9 0.9l-4.1 0.3l-3.8 0.2l-5.5 0l-7.9-0.5l-6.9-1l-6.2-1.3l-5.6-1.6l-5-1.9l-4.3-2.1l-3.8-2.5l-3.2-2.8l-2.4-2.9l-1.6-3.5l-0.3-4l0.8-3.1l1.9-3.1l2.7-2.8l3.4-2.5l3.9-2.2l4.6-2l5.1-1.7l5.8-1.3l0 0" fill="none" stroke="#e9f6e8" stroke-opacity="0.5" stroke-width="3.1" clip-path="url(#c0)"/>
<path d="M831.8 1436.5l5-1.7l5.6-1.5l5.9-1.3l6.4-1l7-0.8l7.8-0.5l8.7 0l4.6 0.2l7.3 0.6l6.7 0.9l6.1 1.2l5.5 1.4l5.1 1.6l4.7 1.8l4.3 2l3.9 2.2l3.4 2.4l3 2.5l2.4 2.8l2 3.2l1.3 3.2l0.3 1.5l0.2 2.2l0 1.8l-0.4 2.3l-0.4 1.4l-1.4 3.3l-2 3.1l-2.4 2.9l-2.9 2.8l-3.2 2.5l-3.5 2.5l-3.8 2.3l-4.1 2.1l-4.3 2.1l-4.7 1.9l-5.9 2.1l-4.2 1.4l-5.5 1.5l-5.7 1.4l-6.2 1.3l-6.6 1l-7.1 0.9l-9 0.4l-8.4-0.3l-6.8-0.8l-6-1.3l-5.2-1.6l-4.7-1.9l-4.1-2.1l-3.7-2.3l-3.3-2.4l-3-2.6l-2.8-3.2l-1.9-2.5l-1.9-3.3l-1.3-3.1l-0.8-3.6l-0.2-3.8l0.6-4.1l0.7-2.1l1.5-3.3l2-3.1l2.5-2.9l2.9-2.7l3.3-2.5l3.6-2.4l4-2.2l4.3-2l4.8-1.8M621.6 1548.6l10.5-3.4l11.1-3.3l11.6-2.9l12.2-2.7l6.4-1.2l13.1-2.2l13.7-1.9l14.4-1.7l14.8-1.4l7.7-0.6l7.8-0.5l18.1-1l19.2-0.6l12.8 0.1l4.8 0l8 0.4l7.6 0.7l6.8 0.9l6.3 1.1l6.1 1.3l5.7 1.4l8.9 2.7l6.8 2.3l9.8 3.6l9.5 3.8l9.2 3.9l8.9 4l8.6 4.2l8.4 4.4l7.9 4.5l7.6 4.7l7.1 5l3.3 2.5l4.3 3.6l2 1.8l2.9 2.7l3.4 3.5l2 2.3l3.6 4.5l1.1 1.6l2.9 4.5l1.1 1.9l1.8 3.6l1.4 3.3l1.2 3.6l1 3.7l0.7 4.1l0.4 4.4l0 4.2l-0.3 4.1l-0.7 4l-1.2 4.7l-0.9 2.8l-1.4 3.6l-2 4l-1.6 2.9l-2 3.3l-2.3 3.2l-2.4 3.2l-2.6 3l-3.7 3.9l-2.1 2.1l-3.1 2.8l-4.5 3.8l-2.1 1.7l-3.6 2.7l-3.7 2.6l-3.8 2.5l-6.7 4l-1.5 0.8l-4.2 2.4l-4.4 2.3l-4.6 2.2l-4.6 2.1l-4.8 2.1l-10.1 4l-10.5 3.8l-11.1 3.5l-11.8 3.2l-12.3 3l-12.9 2.7l-13.6 2.3l-7.1 1l-12.6 1.6l-9.8 1l-7.9 0.7l-8.2 0.5l-8.5 0.4l-8.7 0.2l-9.4 0.1l-9.2-0.1l-10-0.4l-10.5-0.6l-11.1-0.9l-8.4-0.9l-7.3-0.9l-9.5-1.5l-4.3-0.7l-10.6-2l-2.4-0.5l-6.2-1.4l-9.4-2.3l-2.4-0.7l-5.7-1.6l-5.4-1.7l-5.4-1.8l-8.9-3.3l-1.2-0.5l-4.8-2l-4.7-2l-4.5-2.2l-4.4-2.1l-4.2-2.3l-6.1-3.5l-1.9-1.2l-3.8-2.4l-3.6-2.6l-3.5-2.5l-3.3-2.7l-3.2-2.7l-3-2.7l-2.9-2.9l-2.6-2.9l-2.6-2.9l-3.2-4.4l-1.3-1.8l-2.9-4.6l-1-1.9l-1.9-4l-1.2-2.7l-1.2-3.6l-1.2-4.3l-0.9-4.8l-0.2-2l-0.3-3.9l0-4.1l0.4-4.2l0.7-4.3l1.2-4.6l0.7-2.1l1.3-3.7l1.8-3.9l1.7-3.2l2-3.4l2.9-4.3l1.6-2.2l3.3-4l1.9-2.2l4.8-4.7l1.1-1.1l3.2-2.8l5.4-4.3l1.3-1.1l3.6-2.6l3.7-2.5l3.8-2.4l6.3-3.7l1.9-1l4.2-2.3l4.4-2.1l4.5-2.2l4.7-2l4.7-2l4.9-1.9l5.1-1.9M1318.6 1524.3l6.3-1.2l7.3-0.8l9.6-0.4l8.3 0.4l7.2 0.7l6.5 1.2l5.9 1.4l5.3 1.7l4.8 1.9l4.2 2.2l3.7 2.4l3.2 2.7l2.5 3l1.7 3.4l0.7 3.9l-0.6 3.5l-0.6 1.3l-1 2l-2.4 2.9l-3.1 2.6l-3.6 2.4l-4.2 2.1l-4.7 1.9l-5.4 1.6l-5.9 1.4l-8.1 1.2l-6.1 0.5l-4.3 0.1l-4.4 0l-4.3-0.1l-7.5-0.7l-6.7-1.1l-6.1-1.3l-5.5-1.7l-4.9-1.8l-4.4-2.2l-4-2.5l-3.2-2.5l-2.7-3l-1-1.6l-0.9-1.6l-0.9-3.8l0.3-3.3l0.3-1.1l0.9-2.3l2.2-3l2.8-2.7l3.5-2.5l4-2.2l4.5-1.9l5.1-1.7l5.7-1.4l0 0" fill="none" stroke="#f7fcce" stroke-opacity="0.5" stroke-width="3.1" clip-path="url(#c0)"/>
<path d="M840.5 1428.5l6.2-1.2l6.5-1l7.1-0.7l7.7-0.5l8.5-0.1l9.6 0.4l5.8 0.5l6.8 0.8l6.2 1.1l5.9 1.3l5.4 1.5l5 1.6l4.7 1.8l4.3 2l4 2.1l3.6 2.3l3.2 2.5l2.8 2.6l2.6 3.2l1.7 2.7l1.5 3.3l0.8 3.7l0 4l-0.9 4.1l-1.2 3l-1.7 3.2l-2.2 3l-2.6 2.8l-2.8 2.8l-3.1 2.6l-3.4 2.5l-3.6 2.4l-3.7 2.3l-4 2.2l-4.1 2.2l-8.7 4.1l-9 4l-9.1 4l-4.5 2.1l-4.1 2.1l-3.6 2.5l-2.5 2.9l-0.6 2.4l0.2 1.5l0.9 2l2.4 2.9l1.6 1.5l1.4 1.2l3.4 2.4l3.7 2.4l7.7 4.6l12 6.6l12.2 6.6l7.9 4.6l7.7 4.6l7.3 4.8l7 5l5.9 4.8l0.6 0.5l3 2.7l2.9 2.7l2.8 2.9l2.6 2.9l2.8 3.4l2 2.7l2.4 3.6l1.7 2.7l1.8 3.4l2.1 4.8l0.8 2.1l1.2 3.7l0.9 4l0.8 4.5l0.3 4.4l-0.1 4.2l-0.3 4.1l-0.7 3.9l-1 4.2l-1.6 4.9l-0.8 2.1l-1.5 3.5l-2.8 5.2l-1 1.6l-3 4.5l-1.4 2l-3.8 4.7l-1.4 1.5l-2.7 3l-3.2 3.1l-2.9 2.7l-3.2 2.8l-4.9 3.9l-2 1.5l-3.7 2.6l-3.8 2.6l-3.9 2.5l-4 2.4l-8.1 4.5l-4.9 2.5l-9.2 4.3l-9.8 4.2l-10.2 3.9l-10.8 3.6l-11.3 3.5l-11.8 3.2l-12.4 2.9l-13 2.7l-6.7 1.2l-13.9 2.2l-14.7 1.9l-7.6 0.8l-9.9 0.9l-10.9 0.7l-11.8 0.5l-8.8 0.3l-9.1 0l-9.5-0.1l-9.9-0.3l-10.4-0.5l-10.9-0.8l-9-0.9l-7.4-0.9l-7.9-1l-6.2-1l-7.8-1.3l-5.5-1.1l-10.5-2.2l-8.1-2l-5.8-1.5l-11.2-3.4l-5.4-1.7l-5.2-1.9l-5-1.9l-4.9-1.9l-4.8-2.1l-4.6-2l-4.5-2.2l-4.3-2.2l-4.2-2.3l-4-2.3l-3.9-2.4l-3.8-2.5l-3.6-2.5l-5.5-4.1l-1.3-1.1l-3.2-2.7l-3.1-2.7l-3.5-3.4l-2.2-2.3l-2.6-3l-2.5-3l-2.3-3l-2.3-3.5l-1.8-2.9l-1.9-3.3l-1.6-3.3l-1.4-3.4l-1.6-4.5l-0.8-2.6l-0.8-3.7l-0.7-3.7l-0.4-4.6l-0.1-4.5l0.2-4.3l0.5-4.1l0.8-4l1-3.9l1.5-4.4l2.1-4.9l0.8-1.7l1.8-3.5l2-3.4l2.2-3.3l3.6-4.7l1.3-1.6l4.3-4.8l1.2-1.2l2.9-3l3.5-3.2l2.8-2.4l3.4-2.7l5.2-3.8l1.9-1.3l3.7-2.6l3.9-2.4l4-2.4l4.1-2.3l4.2-2.2l8.8-4.3l9.4-4.1l9.8-3.8l10.3-3.6l10.9-3.3l11.4-3.1l11.9-2.8l12.4-2.5l12.9-2.3l13.5-2.1l13.8-1.8l21.3-2.6l21.3-2.5l13.7-1.9l6.5-1.1l6.2-1.2l5.7-1.5l5.1-1.8l4.2-2.2l2.8-2.7l1.2-3.6l0-0.3l-0.3-3.9l-1.1-3.3l-0.3-1.5l-0.8-1.9l-3.1-10.4l-0.8-6.1l-0.1-1.3l0.2-4l0.9-4.2l0.6-2l1.5-3.3l1.8-3.2l2.2-3.1l2.5-2.8l2.9-2.7l3.2-2.6l3.5-2.4l3.8-2.2l4.1-2.2l4.5-2l4.7-1.8l5-1.7l5.4-1.5l5.7-1.4M1309.7 1524.3l5.6-1.5l6.1-1.3l6.9-0.9l8.7-0.5l8.8 0l9.7 0.8l5.1 0.6l6.2 1.2l5.8 1.5l5.2 1.7l4.8 2l4.3 2.1l3.7 2.5l3.3 2.6l2.7 2.9l2 3.3l1.1 3.7l0.1 3.4l-0.2 0.9l-0.8 2.6l-1.9 3.2l-2.5 2.8l-3.2 2.6l-3.7 2.3l-4.2 2.2l-4.7 1.9l-5.2 1.6l-5.9 1.4l-6.4 1.2l-7.2 0.8l-2.8 0.2l-5.3 0.2l-4.2 0l-8.1-0.4l-9-1.1l-4.9-0.8l-5.9-1.5l-5.4-1.6l-5-1.9l-4.4-2.2l-4-2.3l-3.4-2.6l-3.1-3.3l-1.9-2.7l-1.4-3.5l-0.3-3.4l0.1-0.7l0.6-3l1.7-3.2l2.3-3l3.4-2.8l3.2-2.2l4-2.2l4.5-1.9l5.1-1.7l0 0" fill="none" stroke="#fff7b3" stroke-opacity="0.5" stroke-width="3.1" clip-path="url(#c0)"/>
<path d="M827.4 1426.5l5.6-1.4l6-1.3l8.2-1.4l4.8-0.6l7.1-0.7l9.9-0.6l8.9-0.1l8.1 0.3l9 0.8l5.3 0.6l7.6 1.3l4.9 0.9l5.7 1.4l5.3 1.5l6.3 2.2l3.3 1.3l4.4 2l4 2l3.8 2.3l3.4 2.3l3.1 2.6l2.7 2.7l2.4 2.8l1.9 3l1.5 3.3l0.6 1.6l0.4 1.9l0.4 2.5l0.1 1.2l-0.1 2.8l-0.2 1.3l-0.5 2.3l-1.2 3.5l-1.8 3.6l-1.8 2.8l-2.2 3l-2.5 2.9l-4.2 4l-1.5 1.4l-3.1 2.7l-6.6 5l-13.7 10l-3.2 2.6l-2.9 2.7l-2.5 3l-1.7 3.3l-0.3 1.1l0 2.8l0.2 1.1l1.5 3.4l0.4 0.6l1.9 2.3l2.8 2.8l3.1 2.6l3.4 2.5l7.2 4.8l15 9.4l7.4 4.8l7.1 4.9l6.9 5.1l3.2 2.6l6.2 5.3l2.9 2.8l2.9 3l2.6 2.7l3.4 4.2l1.4 1.9l3 4.3l1.3 2l2 3.7l1.5 3l1.5 3.4l1.5 4l1.3 4.9l0.5 2.1l0.6 3.9l0.4 4l0.1 4.1l-0.2 4.3l-0.6 4.5l-0.9 4.6l-0.5 1.8l-1.1 3.7l-1.7 4.5l-1.1 2.7l-1.7 3.4l-2.9 5l-1.1 1.7l-3.1 4.5l-1.5 2l-4 4.8l-1.2 1.3l-2.8 3l-3.6 3.5l-2.4 2.3l-3.3 2.8l-5.5 4.4l-1.3 1l-3.6 2.6l-3.8 2.6l-3.8 2.5l-4 2.5l-8.4 4.8l-8.8 4.5l-9.3 4.4l-9.8 4.1l-10.3 3.9l-10.7 3.7l-11.2 3.5l-11.7 3.3l-12.3 3l-12.7 2.8l-13.3 2.5l-13.9 2.2l-14.5 2l-7.5 0.9l-15.6 1.4l-8.1 0.6l-8.3 0.5l-8.8 0.3l-9.8 0.3l-9.4 0l-9.1-0.1l-8.8-0.2l-10-0.5l-10.8-0.7l-11.6-1l-11.8-1.4l-10-1.3l-6.9-1.1l-10.8-2l-8.8-1.8l-12.1-2.9l-5.9-1.6l-11.2-3.3l-10.6-3.6l-10.1-3.8l-9.4-4.1l-9-4.3l-4.3-2.3l-4.1-2.3l-4-2.3l-3.9-2.4l-3.7-2.5l-5.9-4.2l-1.2-0.9l-3.4-2.7l-3.2-2.6l-4.9-4.6l-1.1-1l-2.8-2.8l-4.1-4.5l-1.2-1.4l-2.4-3.1l-2.2-3.1l-2.1-3.1l-2-3.2l-1.8-3.3l-1.6-3.4l-2-4.8l-0.8-2.1l-1.1-3.5l-1.2-4.8l-0.8-4.9l-0.2-1.5l-0.3-3.9l-0.1-4l0.2-4.1l0.4-4.2l0.8-4.4l1.1-4.5l1.5-4.6l0.7-2l1.5-3.6l2.2-4.4l1.4-2.6l2-3.4l3.4-4.9l1.2-1.6l3.6-4.5l1.5-1.7l4.7-5l0.9-1l3-2.8l4.3-3.8l2.1-1.8l3.4-2.6l6.8-4.9l0.4-0.3l3.7-2.5l3.9-2.4l4-2.4l8.3-4.6l8.8-4.3l9.2-4.1l9.7-3.9l10.1-3.6l10.7-3.4l11.1-3.2l11.6-2.9l12.1-2.7l12.6-2.5l13.1-2.3l13.9-2.2l27.4-4.2l11.5-2l6.1-1.3l5.9-1.4l5.6-1.6l5-1.7l4.5-2.1l3.9-2.3l3.2-2.6l2.4-3l1.8-3.3l0.2-0.9l1-2.6l0.4-1.9l0.5-1.7l0.5-2.6l0.3-1.2l0.7-3.7l0.9-3.7l1.4-4.5l2-4.8l0.5-1l2.5-4.1l1.5-2.2l3.1-3.7l1.9-2l3-2.7l3.6-2.9l3-2.1l3.7-2.3l3.9-2.2l4.2-2.1l4.5-2l4.7-1.8l5-1.7l5.3-1.6M1317.7 1519.9l6.7-1l7.7-0.7l9.5-0.3l8.2 0.3l7.4 0.7l6.7 1l6.2 1.3l5.6 1.6l5.2 1.7l4.7 2l4.3 2.1l3.9 2.4l3.4 2.6l2.9 3l2.1 3l1.5 3.5l0.5 4l-0.4 3.1l-1.3 3.4l-2.1 3l-2.7 2.8l-3.2 2.6l-3.7 2.3l-4.3 2.1l-4.7 1.9l-5.1 1.7l-6.7 1.7l-5.3 1l-8.2 1l-6.4 0.5l-3.9 0.1l-8.7 0l-7.8-0.6l-7.1-0.9l-6.4-1.3l-5.9-1.4l-5.4-1.7l-4.9-1.9l-4.4-2.1l-4.1-2.3l-3.5-2.6l-3-2.7l-2.4-3.1l-1.8-3.3l-0.8-3.8l0.2-3.7l0.2-0.6l0.9-2.9l2-3.1l2.5-2.8l3.1-2.6l3.7-2.4l4.1-2.1l4.5-2l5-1.7l5.5-1.5l6-1.3l0 0" fill="none" stroke="#fee99d" stroke-opacity="0.5" stroke-width="3.1" clip-path="url(#c0)"/>
<path d="M814.7 1424.7l5.3-1.6l5.5-1.4l5.8-1.4l6.1-1.2l6.4-1l6.8-0.9l10.6-0.9l4.3-0.2l8.3-0.3l9 0.2l4.8 0.2l7.5 0.5l9.4 1.2l4.2 0.6l6.1 1.1l5.9 1.3l5.5 1.4l5.3 1.5l4.9 1.7l4.7 1.8l4.4 1.9l4.1 2.1l3.9 2.2l3.6 2.3l3.3 2.4l3 2.6l2.7 2.6l2.7 3.5l1.7 2.4l1.6 3.2l1.5 4.5l0.5 2.5l0.2 1.8l-0.1 3.9l-0.6 3.7l-1 3.5l-1.9 4.4l-1.2 2.3l-2 3.1l-2.1 3l-4.8 5.9l-10.5 11.4l-4.2 5.3l-0.5 0.6l-1.9 3.3l-0.7 1.4l-0.5 2l-0.5 2.5l0.1 1.5l0.4 2.3l1.4 3.3l2.1 3.1l2.6 2.9l3 2.7l3.1 2.6l3.9 2.9l6.5 4.5l14.2 9.8l6.9 5l6.5 5.2l3.2 2.7l5.1 4.6l0.9 0.8l2.8 2.9l3.4 3.8l1.8 2l3.5 4.5l1.2 1.6l2.9 4.5l1.1 1.9l2 3.7l1.5 3l1.4 3.5l1.3 3.8l1.4 4.8l0.9 4.6l0.3 1.7l0.4 4l0.2 4.2l-0.2 4.2l-0.4 4.4l-0.7 4.5l-0.4 1.9l-0.9 3.8l-1.3 4l-2 5.2l-0.7 1.7l-1.9 3.7l-1.7 3.2l-2 3.3l-2.1 3.3l-2.3 3.2l-2.5 3.2l-2.5 3l-2.7 3.1l-4 4l-1.9 1.8l-3.1 2.9l-4.9 4.2l-1.7 1.4l-3.4 2.7l-3.6 2.6l-3.8 2.6l-7.8 5l-8.2 4.8l-8.7 4.6l-9.2 4.5l-9.6 4.2l-10.1 4l-10.5 3.8l-10.9 3.6l-11.4 3.4l-11.9 3.2l-12.4 3l-12.8 2.8l-13.3 2.5l-13.8 2.3l-14.4 2l-15.1 1.7l-14 1.3l-11 0.8l-10.5 0.5l-14 0.5l-9 0.1l-9.3 0l-9.7-0.2l-13.5-0.5l-8.3-0.5l-9.7-0.7l-11.5-1.1l-9.6-1.1l-7.1-1l-13.8-2.2l-13.1-2.5l-6.3-1.4l-12.1-2.9l-11.5-3.2l-11-3.5l-10.3-3.7l-9.9-4l-9.3-4.2l-8.8-4.3l-8.3-4.6l-7.8-4.9l-3.7-2.4l-7-5.2l-3.4-2.6l-3.2-2.7l-4.8-4.4l-1.3-1.2l-2.8-2.8l-4.2-4.5l-1.1-1.4l-2.5-3l-2.3-3.1l-2.2-3l-2.3-3.7l-1.7-2.7l-1.8-3.5l-1.6-3.2l-1.5-3.4l-1.7-4.6l-0.8-2.4l-1-3.6l-0.9-4.3l-0.7-4.8l-0.5-4.6l-0.1-4.5l0.2-4.3l0.4-4.3l0.6-4.1l0.9-3.9l1-3.9l1.2-3.8l1.4-3.7l2-4.5l1.4-2.7l1.8-3.4l2.8-4.5l1.5-2.2l2.5-3.5l2.2-2.9l2.8-3.2l2.5-2.9l3.8-3.9l2-1.9l3.1-2.9l6.5-5.5l3.4-2.6l7.2-5.2l3.7-2.5l7.8-4.8l8.3-4.5l8.7-4.4l9.1-4.2l9.5-3.9l10-3.7l10.5-3.5l10.8-3.3l11.4-3l11.8-2.8l12.1-2.7l12.6-2.4l19.3-3.5l19.2-3.4l12.3-2.5l7.2-1.8l4.2-1.2l5.2-1.7l4.8-1.9l4.3-2.1l3.9-2.3l3.3-2.6l3-2.7l2.7-3.2l2-2.8l3.8-6.4l1.8-3.2l3.8-6.4l2.1-3.1l2.2-3l2.4-2.9l2.6-2.9l3.1-3l2.7-2.4l3.2-2.5l3.5-2.5l3.6-2.3l3.9-2.2l4-2.2l4.3-2l4.6-1.9l4.7-1.9l5-1.7M1313.7 1518.1l6.4-1.1l7.4-0.8l10.1-0.6l8.6 0.1l7.9 0.6l7 0.8l6.5 1.2l6 1.3l5.6 1.5l5.1 1.8l4.7 2l4.3 2.1l3.9 2.4l3.4 2.6l3 2.8l2.4 3l1.8 3.4l1.1 3.7l0 3.6l-0.1 0.6l-0.8 2.9l-1.6 3.3l-2.3 3l-3.4 3.1l-2.7 2.1l-3.8 2.3l-4.2 2.1l-4.7 2l-5.1 1.7l-5.6 1.5l-6 1.3l-6.7 1.1l-7.3 0.7l-8.1 0.4l-5.1 0l-8.3-0.3l-7.5-0.7l-6.9-1l-7.2-1.6l-4.8-1.2l-5.4-1.7l-4.9-1.9l-4.5-2.1l-4.1-2.3l-3.6-2.5l-3.2-2.7l-2.7-2.9l-2-3.2l-1.5-3.9l-0.3-4.2l0.9-4l1.4-3l2.2-3l2.7-2.8l3.3-2.5l3.7-2.3l4.1-2.1l4.5-2l5-1.7l5.4-1.6l6-1.3l0 0" fill="none" stroke="#fed687" stroke-opacity="0.5" stroke-width="3.1" clip-path="url(#c0)"/>
<path d="M802 1422.9l5-1.7l5.2-1.6l5.4-1.5l5.7-1.4l6-1.2l6.2-1.2l6.6-1l6.8-0.8l7.3-0.7l7.6-0.5l9.3-0.2l8.6 0l8.7 0.4l6.7 0.5l7.1 0.7l9.4 1.4l3.6 0.6l6 1.2l6.7 1.6l4.5 1.2l5.2 1.5l4.9 1.7l4.7 1.8l4.5 1.9l4.2 2l4 2.1l3.7 2.3l3.5 2.3l3.2 2.5l3 2.5l2.7 2.7l2.5 2.9l2.1 2.9l1.8 3.1l1.7 3.8l0.9 2.9l0.4 1.6l0.3 2l0.3 2.3l0 3.9l-0.5 3.8l-0.9 3.6l-1.1 3.5l-1.3 3.4l-5 9.8l-1.2 1.8l-0.7 1.4l-2.2 3.9l-2.8 5.9l-1.2 3.9l-0.6 4.2l0.5 3.9l1.2 3.4l0.6 1.1l1.3 2.1l2.3 3l2.7 2.8l3 2.7l5.2 4.1l4.7 3.5l17.2 12.5l6.6 5.3l3.1 2.6l3.1 2.7l5.8 5.5l2.7 2.9l5.1 5.9l4.5 6.2l2.1 3.2l2.8 5.1l0.8 1.5l1.8 3.8l1.9 5.1l0.6 1.6l1.1 3.7l1 4.2l0.7 4.6l0.5 4.4l0.2 4.3l-0.1 4.1l-0.3 4.1l-0.5 4l-0.7 3.9l-1 4.3l-1.5 4.9l-0.7 2l-1.4 3.6l-2.2 4.9l-1 2.1l-1.9 3.5l-1.9 3.2l-2.1 3.3l-2.3 3.3l-4.9 6.2l-5.4 6.1l-2.9 3l-6.1 5.7l-3.3 2.8l-6.8 5.4l-3.6 2.7l-3.7 2.6l-7.8 5l-8.2 4.9l-8.7 4.6l-9.1 4.5l-9.5 4.2l-9.9 4.1l-10.4 3.9l-10.8 3.7l-11.2 3.5l-11.6 3.4l-12.1 3.1l-12.4 2.9l-12.9 2.8l-13.4 2.5l-13.9 2.3l-14.3 2.1l-14.9 1.8l-15.4 1.5l-15.8 1.2l-10.6 0.6l-15.2 0.6l-14.6 0.3l-13.1-0.1l-13.9-0.4l-8.5-0.4l-16.3-1l-7.8-0.7l-15.1-1.7l-7.2-0.9l-13.9-2.2l-13.3-2.4l-12.6-2.8l-12.1-3l-11.4-3.2l-10.9-3.5l-10.4-3.8l-9.8-3.9l-9.4-4.2l-8.8-4.4l-8.4-4.6l-7.9-4.7l-7.5-5l-3.5-2.6l-6.8-5.2l-3.2-2.7l-3.1-2.8l-5.8-5.6l-2.8-2.9l-5.1-6l-3.8-4.9l-0.8-1.2l-2.2-3.2l-3.9-6.4l-1.7-3.3l-2.3-4.8l-0.8-2l-1.4-3.5l-1.7-5.4l-0.5-1.7l-0.9-3.6l-0.9-4.7l-0.7-4.8l-0.3-4.6l-0.1-4.4l0.2-4.4l0.4-4.2l0.6-4.2l0.8-4l0.9-3.9l1.2-3.8l1.3-3.8l1.5-3.7l2.2-4.8l1.1-2.3l2-3.4l3-4.9l1.2-1.8l2.7-3.9l2-2.5l5.2-6.2l5.6-5.9l3-2.8l6.3-5.6l3.4-2.7l6.9-5.3l7.4-5l7.8-4.8l8.1-4.6l8.6-4.4l9-4.2l9.4-4l9.8-3.8l10.2-3.6l10.7-3.4l11-3.1l11.5-3l11.9-2.7l12.2-2.6l18.8-3.7l18.7-3.7l12.1-2.6l5.7-1.4l7.9-2.4l2.8-0.9l4.9-1.8l4.5-2l4.2-2.2l3.8-2.3l3.5-2.5l3.1-2.7l2.9-2.7l2.8-2.8l5.2-5.7l5.1-5.8l4.8-4.9l3.5-3.4l4.9-4.1l1.3-1.1l3.3-2.5l3.5-2.4l3.7-2.3l4.9-2.8l3-1.6l4.2-2.1l4.4-2l4.6-1.9l4.8-1.8M1309.1 1516l6.2-1.1l8.4-1.1l5.9-0.5l8.2-0.3l5.3 0.1l8.1 0.3l7.3 0.8l6.9 0.9l7.2 1.5l4.9 1.2l5.5 1.6l5.1 1.8l4.6 1.9l4.3 2.2l4 2.3l3.5 2.6l3.1 2.7l2.6 3l2.1 3.2l1.4 3.5l0.6 4.3l-0.6 4.1l-1.1 3.1l-1.9 3.1l-2.5 2.9l-2.9 2.7l-3.5 2.4l-3.7 2.3l-4.2 2.2l-4.7 1.9l-5.1 1.7l-5.4 1.6l-5.9 1.4l-6.4 1.2l-7 0.9l-7.6 0.6l-8.5 0.2l-9.6-0.3l-5.4-0.3l-7.2-0.9l-6.8-1l-7.7-1.8l-4.2-1.1l-5.3-1.7l-5-1.9l-4.5-2.1l-4.2-2.2l-3.7-2.5l-3.3-2.6l-2.9-2.8l-2.3-3.1l-1.9-3.4l-0.5-1.7l-0.5-1.9l-0.2-2.4l0.1-1.7l0.3-2.1l1.3-3.4l1.8-3.2l2.5-2.9l2.9-2.7l3.4-2.4l3.8-2.3l4.1-2.1l4.6-2l4.9-1.7l5.4-1.6l5.9-1.4l0 0" fill="none" stroke="#fdbf71" stroke-opacity="0.5" stroke-width="3.1" clip-path="url(#c0)"/>
<path d="M580.9 1504.1l10.7-3.2l11.2-3.1l11.5-2.9l12-2.8l12.1-2.6l30.7-6.3l11.9-2.7l5.6-1.5l5.4-1.6l5.2-1.7l4.9-1.8l4.6-1.9l4.3-2.1l4.1-2.2l3.8-2.4l3.6-2.4l4.2-3.1l5.7-4.5l12.8-10.2l6.8-5l3.5-2.4l3.6-2.4l3.8-2.3l7.9-4.3l4.2-2.1l4.4-2l4.5-2l4.6-1.8l6.7-2.4l3.2-1.1l5.2-1.6l5.5-1.5l5.6-1.4l5.9-1.3l6-1.2l7.4-1.2l5.6-0.8l6.9-0.9l10.8-0.9l4.1-0.2l8-0.3l8.6-0.1l9.2 0.2l10.1 0.6l2.6 0.2l8.5 1l5.4 0.6l7.6 1.3l5 0.9l5.8 1.2l6 1.5l5.1 1.4l5.2 1.5l4.9 1.7l4.8 1.8l4.5 1.8l4.3 2l4.1 2l3.9 2.2l3.7 2.2l3.5 2.4l3.2 2.4l3.1 2.6l2.8 2.6l2.6 2.8l2.3 2.9l2.1 2.9l1.8 3.2l1.6 3.2l1.2 3.4l1.1 4.4l0.6 4.2l0.2 4.1l-0.2 3.9l-0.4 3.8l-1.5 7.4l-1.7 8.7l-0.5 4.2l-0.1 4.1l0.5 3.8l1.1 3.5l1.5 3.3l2.1 3.1l2.4 2.9l2.8 2.8l2.9 2.7l6.2 5l3.7 2.7l13.7 10l6.7 5.1l6.3 5.3l3.1 2.7l5.7 5.6l4.3 4.8l0.9 1l2.4 3l4.5 6.3l2 3.2l2.5 4.4l1.1 2.2l1.5 3.5l1.9 4.7l0.8 2.4l1.1 3.6l0.9 3.8l0.9 4.4l0.6 4.4l0.4 4.4l0.1 4.2l-0.1 4.2l-0.2 4l-0.5 4l-0.6 4l-0.9 4.4l-1.2 4.9l-0.6 2l-1.3 3.7l-1.7 4.4l-1.1 2.8l-1.6 3.5l-2.5 4.7l-1.1 2.1l-4.1 6.6l-4.6 6.4l-5.1 6.2l-4.7 5.1l-0.9 0.9l-2.9 3l-6.3 5.7l-3.3 2.7l-3.4 2.8l-7.1 5.3l-3.8 2.6l-7.8 5l-8.3 4.8l-8.7 4.7l-9.1 4.4l-9.5 4.3l-9.9 4.1l-10.4 3.9l-10.7 3.7l-11.2 3.6l-11.5 3.4l-11.9 3.2l-12.3 3l-12.6 2.9l-13.1 2.7l-13.5 2.4l-13.9 2.3l-14.3 2.1l-14.8 1.9l-15.2 1.7l-17.3 1.5l-14.9 1l-17 0.8l-17.8 0.4l-11.2 0.1l-9.2-0.1l-8.8-0.2l-17.1-0.7l-13.7-1l-10.4-0.9l-13-1.4l-9.3-1.2l-14-2.1l-13.4-2.5l-12.7-2.7l-12.2-2.9l-11.6-3.3l-11-3.4l-10.6-3.7l-10.1-3.9l-9.5-4.1l-9.1-4.3l-8.7-4.4l-8.2-4.7l-7.7-4.9l-7.3-5l-6.9-5.3l-3.3-2.6l-5.9-5.2l-3.3-3.2l-2.8-2.8l-5.4-5.9l-4-4.9l-0.9-1.1l-2.3-3.1l-4.3-6.3l-3.8-6.5l-3.3-6.7l-1.5-3.4l-1.6-4.1l-1.7-5.4l-0.3-1l-1.1-4.1l-1.1-5l-0.7-4.9l-0.1-0.9l-0.4-3.9l-0.2-4.4l0-4.5l0.2-4.3l0.4-4.2l0.6-4.2l0.7-4l0.9-4l1.2-4l1.5-4.7l1.9-4.8l0.6-1.5l1.7-3.6l2.5-4.9l1.2-2l4.1-6.7l4.7-6.5l5.1-6.2l5.5-6l5.9-5.7l6.4-5.6l3.3-2.7l6.9-5.2l7.3-5l7.7-4.9l8.1-4.6l8.5-4.5l8.8-4.3l9.2-4l9.6-3.9l10-3.7l10.4-3.5M1282.9 1520.2l4.6-1.9l4.9-1.8l5.3-1.6l5.7-1.4l6.2-1.2l6.5-1l7.2-0.8l8.6-0.5l9.1-0.1l8.3 0.4l7.5 0.5l7 0.9l6.5 1.1l6 1.4l5.8 1.4l5.4 1.7l5 1.8l4.6 2l4.3 2.1l4 2.4l3.5 2.5l3.2 2.7l2.9 2.8l2.2 3.1l1.8 3.4l0.4 1.1l0.8 2.6l0.2 1.8l0 2.3l-0.1 1.6l-1 3.5l-1.6 3.3l-2.2 3l-2.5 2.9l-3.1 2.6l-3.6 2.4l-3.8 2.3l-4.2 2.2l-4.6 1.9l-5 1.8l-5.3 1.7l-5.7 1.4l-7.2 1.4l-5.6 0.9l-7.3 0.8l-10 0.6l-9.1 0l-8.2-0.3l-7.6-0.7l-7.1-0.9l-6.5-1.2l-6-1.4l-5.8-1.5l-5.4-1.7l-4.9-1.9l-4.6-2l-4.3-2.2l-3.9-2.4l-3.5-2.6l-3.1-2.7l-2.7-2.9l-2.2-3.2l-1.6-3.4l-0.3-0.9l-0.6-2.8l-0.2-1.6l0.3-3.8l1.2-3.5l1.6-3.3l2.3-3l2.6-2.8l3.2-2.6l3.5-2.4l4-2.2l4.2-2.1l0 0" fill="none" stroke="#fca55d" stroke-opacity="0.5" stroke-width="3.1" clip-path="url(#c0)"/>
<path d="M476.1 1733.9l-5.3-4.4l-3.1-2.8l-5.9-5.6l-2.8-2.9l-5.3-5.9l-4.3-5.3l-0.6-0.8l-2.3-3l-4.3-6.3l-3.8-6.5l-3.5-6.7l-3-6.8l-1.4-3.4l-2.3-7.1l-1-3.6l-0.9-3.7l-1-4.6l-0.7-4.9l-0.5-4.7l-0.3-4.6l-0.1-4.5l0-4.4l0.3-4.3l0.4-4.3l0.6-4.1l0.8-4.1l0.9-3.9l1.1-4.3l1.4-4.6l1.7-4.7l0.6-1.7l1.6-3.6l2.1-4.5l1.3-2.6l3.9-6.8l4.3-6.6l2.3-3.2l5-6.3l5.3-6.1l5.8-5.8l6.1-5.6l3.2-2.8l6.7-5.3l7-5.2l7.4-5l7.8-4.8l8.1-4.6l8.5-4.4l8.8-4.3l9.2-4l9.5-3.9l9.9-3.7l10.2-3.6l10.6-3.3l11-3.1l11.4-3l11.7-2.8l15-3.3l16.9-3.6l17.4-3.7l10.8-2.6l5.6-1.5l5.5-1.6l5-1.6l5-1.8l4.7-1.9l4.5-2l4.4-2.1l4.1-2.1l8-4.4l26.6-16l8.1-4.4l8.4-4.1l8.9-3.9l4.7-1.9l4.8-1.8l4.9-1.7l5.1-1.7l10.7-3l5.6-1.5l9.4-2l2.3-0.5l6.2-1.2l13.1-2l6.9-0.8l9.7-0.8l10.1-0.6l9.3-0.3l8.7 0l8.2 0.2l7.8 0.4l7.4 0.6l9.6 1l4.3 0.6l8.5 1.3l4.3 0.7l6.1 1.2l11.4 2.6l5.4 1.5l5.1 1.6l5 1.6l4.8 1.8l4.7 1.8l4.4 1.9l4.3 2l5.6 2.8l2.4 1.4l3.8 2.2l3.6 2.3l3.4 2.3l4.8 3.8l1.5 1.3l2.8 2.6l3.5 3.6l1.7 1.9l3.3 4.3l1.1 1.6l2.4 3.9l1.3 2.3l1.5 3.3l1.8 4.4l1.5 4.6l5 19l1.5 4l1.3 2.7l1.9 3.2l2.1 3.1l2.5 2.9l2.7 2.7l3 2.7l3.2 2.6l6.9 4.9l10.9 7.3l7.3 4.7l7 5l6.8 5.1l3.2 2.6l6 5.4l2.8 2.8l5.2 5.9l4.6 6.1l4.1 6.4l1.7 3.3l1.7 3.7l1.4 3.2l1.4 3.6l1.1 3.6l1.2 4.2l1 4.6l0.7 4.5l0.6 4.4l0.3 4.3l0.2 4.2l0 4.2l-0.1 4.1l-0.3 4.1l-0.4 3.9l-0.5 4l-0.6 3.9l-1.6 7.6l-1.6 5.8l-1.5 5l-1.4 4l-2.6 6.4l-0.3 0.8l-3.3 6.9l-3.7 6.8l-4.2 6.6l-4.5 6.5l-5 6.2l-5.5 6l-2.9 3l-6.2 5.7l-3.3 2.8l-6.8 5.5l-3.6 2.6l-3.8 2.6l-3.8 2.6l-8.1 4.9l-8.5 4.7l-8.9 4.6l-9.4 4.3l-9.8 4.2l-10.2 3.9l-10.6 3.8l-11 3.7l-11.4 3.4l-11.7 3.3l-12 3.2l-12.5 3l-19.3 4.2l-13.1 2.6l-20.4 3.7l-14.1 2.2l-14.4 2.1l-14.8 1.9l-19.9 2.2l-11.7 1.1l-15.1 1.3l-18.1 1.1l-15.6 0.7l-15 0.5l-11.9 0.1l-16.3-0.1l-12.6-0.3l-13.7-0.5l-16.4-1.1l-12.9-1.1l-10.4-1.1l-7.4-0.9l-14.3-2l-13.6-2.4l-13.1-2.6l-12.5-2.8l-11.9-3.1l-7.2-2.1M1295.9 1510.2l0.1 0l5.8-1.3l8.7-1.3l4.7-0.7l7.5-0.6l9.2-0.4l8.9 0l8.4 0.4l7.3 0.5l7.1 0.9l6.6 1l6.2 1.3l5.9 1.4l5.5 1.5l5.2 1.8l4.9 1.8l4.6 2.1l4.3 2.1l4 2.3l3.7 2.5l3.3 2.6l1 1l1.9 1.8l2.6 3l2.1 3.2l1.5 3.5l1 4.4l0 3.9l-0.8 3.7l-1.3 3.3l-2.1 3.1l-2.2 3l-2.8 2.7l-3.3 2.6l-3.4 2.4l-3.9 2.3l-4.2 2.1l-4.5 2l-5 1.8l-5.3 1.7l-5.4 1.6l-6 1.3l-6.4 1.2l-6.7 1l-7.4 0.8l-8.7 0.5l-9.3 0.2l-8.5-0.3l-7.9-0.5l-7.4-0.8l-8-1.3l-5.3-0.9l-6.1-1.4l-7.9-2.3l-3.1-0.9l-5.1-1.9l-4.8-1.9l-4.4-2.2l-4.1-2.3l-7.3-4.9l-3.1-2.8l-2.5-3l-2.4-3.1l-1.6-3.3l-1.1-3.7l-0.3-4l0.4-3.8l1.2-3.5l1.8-3.2l2.1-3l2.9-2.8l2.8-2.7l3.4-2.5l3.7-2.3l4.1-2.1l4.4-2l4.6-1.9l5-1.8l5.4-1.5l5.8-1.4l0 0" fill="none" stroke="#f7844e" stroke-opacity="0.5" stroke-width="3.1" clip-path="url(#c0)"/>
<path d="M417.9 1705.1l-0.7-1.2l-2.9-5.2l-0.8-1.4l-3.2-6.7l-3-6.8l-2.5-7.1l-2.1-7.1l-1.8-7.3l-1.2-7l-0.6-4.3l-0.5-5.2l-0.3-4.6l-0.1-5.9l0-4l0.2-4.1l0.4-4.1l0.4-4.2l0.7-4.2l0.8-4.4l0.9-4.3l1.2-4.5l1.3-4.5l0.5-1.5l1.3-3.7l2.9-7.4l3.4-7.1l2.5-4.6l1.3-2.3l4.2-6.6l4.5-6.5l5-6.2l5.3-6.1l5.7-5.8l6-5.7l6.4-5.5l6.8-5.3l7.1-5.1l7.4-5l7.8-4.7l8-4.6l8.4-4.5l8.7-4.2l9.1-4.2l9.3-3.9l9.7-3.8l10-3.6l10.4-3.4l10.7-3.3l11-3.1l11.4-2.9l11.7-2.8l18-3.9l30.4-6.3l11.8-2.7l11.2-3l5.4-1.5l5.3-1.7l9.9-3.5l9.4-3.7l9-4l26.6-11.8l9.2-3.9l9.4-3.6l9.9-3.5l10.3-3.2l10.8-3l5.6-1.4l11.7-2.6l10.6-2l1.8-0.3l6.4-1l13.7-1.7l7.1-0.7l7.5-0.6l9.4-0.5l9.4-0.3l8.8-0.1l8.4 0.2l8 0.3l8.4 0.5l10.8 1l2.9 0.2l9 1.2l4.4 0.6l12.5 2.1l6 1.2l11.4 2.7l5.4 1.4l5.3 1.5l10.1 3.3l4.8 1.7l4.7 1.8l4.6 1.9l4.4 1.9l4.3 1.9l4.1 2.1l4.1 2.1l7.6 4.4l3.7 2.2l3.6 2.3l3.4 2.4l6.6 4.9l6.3 5l9 7.8l5.8 5.3l6.4 5.5l6 4.8l3.4 2.4l5.3 3.4l2.1 1.2l4 2.2l4.3 2.1l4.4 2l4.7 1.9l7.8 2.8l7.2 2.4l31.4 9.9l9.9 3.6l4.8 1.9l4.6 1.9l4.4 2.1l4.2 2.1l4.1 2.2l3.9 2.3l7.3 4.8l7.2 4.9l3.8 2.3l4.5 2.1l7 0.9l0.8-0.2l5.4-1.6l4.6-1.9l17.4-8.2l4.5-1.9l4.7-1.9l4.9-1.8l5.1-1.6l10.9-3.1l5.6-1.4l12.4-2.5l6.6-1l3-0.3l3.9-0.5l15-1.2l12.1-0.3l8.6 0.1l8.1 0.4l8.9 0.7l5.9 0.6l13.2 2.1l6.1 1.3l11.5 3l5.3 1.6l5 1.8l4.8 2l4.5 2l4.3 2.2l4 2.3l3.6 2.4l6.5 5.3l2.7 3l0.8 1l1.7 2l1.9 3.5l1.5 3.3l0.9 3.8l0.2 2l-0.1 2.2l-0.1 1.6l-0.9 3.6l-1.3 3.4l-1.8 3.2l-2.2 3l-5.6 5.5l-3.3 2.5l-3.6 2.4l-3.9 2.2l-4.2 2.2l-4.5 2l-4.7 1.9l-5 1.8l-5.4 1.6l-5.7 1.5l-12.2 2.6l-6.8 1l-7 0.9l-7.6 0.6l-8.1 0.5l-8.6 0.1l-9.4-0.1l-7.7-0.4l-14.9-1.4l-7.1-0.9l-13.1-2.4l-6-1.4l-5.8-1.4l-5.8-1.6l-5.5-1.6l-5.2-1.8l-10-3.7l-9.7-3.9l-5-1.8l-5.3-1.8l-6.3-1.2l-2.9-0.1l-4.6 2l-2.9 2.9l-1.9 3l-1.6 3.4l-1.5 4.3l-0.9 2.8l-3.8 14.7l-1.7 7.4l-7.2 29.9l-3.8 14.9l-4.2 14.9l-3.6 11.1l-4 10.8l-4.7 10.7l-4.1 7.7l-1.4 2.5l-4.3 6.6l-4.8 6.4l-4 4.6l-1.4 1.5l-2.9 3l-4.6 4.1l-1.8 1.5l-3.4 2.8l-3.6 2.6l-3.8 2.6l-6.3 3.9l-1.8 1.1l-4.2 2.3l-4.5 2.3l-4.6 2.2l-4.7 2.2l-4.9 2l-10.2 4l-10.7 3.8l-11.2 3.5l-11.6 3.3l-12 3.2l-20.7 4.9l-10.7 2.4l-19.6 4l-27 5l-27.9 4.6l-28.6 4.3l-29.5 3.9l-30.4 3.4l-23.6 2.3l-24.2 1.9l-16.7 1.1l-16.9 0.8l-17.5 0.7l-18.1 0.3l-17.2 0l-11.3-0.2l-15.4-0.5l-15.4-0.8l-10.9-0.7l-14.5-1.3l-8.9-1l0 0" fill="none" stroke="#f16640" stroke-opacity="0.5" stroke-width="3.1" clip-path="url(#c0)"/>
<path d="M374.6 1683.6l-0.4-1.4l-1.9-7.3l-1.5-7.4l-1.3-7.5l-0.9-7.6l-0.7-8.3l-0.2-7.3l0-6.2l0.2-5.9l0.6-7.1l0.6-5.3l1.1-7.1l1.6-8.1l2-7.8l2.4-7.7l1.7-4.6l2-4.8l0.6-1.5l3.3-7.1l3.8-6.9l4.1-6.7l4.5-6.5l4.8-6.2l5.2-6.1l5.6-5.9l6-5.7l6.3-5.5l6.5-5.4l7-5.1l7.2-5.1l7.5-4.8l7.9-4.7l8.1-4.6l8.3-4.4l8.7-4.2l8.9-4.2l9.2-4l9.5-3.8l9.7-3.7l10-3.6l10.3-3.4l10.6-3.3l10.9-3.1l11.2-2.9l11.6-2.8l11.8-2.7l18.3-3.7l37.1-7.2l12.4-2.6l11.2-2.6l11.2-2.9l16.2-4.6l10.5-3.2l15.8-4.7l16-4.7l10.9-2.9l17.1-4.1l11.9-2.5l12.4-2.3l6.3-1l13.3-1.9l15.7-1.7l10.6-0.8l2.5-0.2l15.7-0.7l10.4-0.2l8.7 0l8.4 0.1l15.8 0.7l14.8 1.1l14 1.5l13.3 1.8l12.6 2.1l12.1 2.3l5.9 1.3l17 4l10.8 2.9l10.7 3l41.9 12.4l11.3 2.7l5.9 1.3l6.3 1.1l7.4 1.2l11.6 1.2l10.3 0.7l15.1 0.5l16.8 0.3l16.7 0.4l8 0.3l9.2 0.6l10.6 0.8l10 1l6.9 0.8l7.1 1l12.4 2.1l6.2 1.2l12.6 2.7l10.6 2.7l11.6 3.3l9.7 3l10.1 3.4l9.7 3.6l9.4 3.8l9.1 3.9l8.7 4l12.9 6.3l8.6 4.2l9 4l9.6 3.7l10 3.6l10.2 3.5l10.2 3.5l9.9 3.6l9.4 3.9l4.4 2.1l4.4 2.1l4.1 2.2l3.9 2.4l7.3 4.9l3.5 2.5l3 2.8l1.3 1.4l1.6 1.4l2.6 3l1.3 1.9l1 1.2l1.9 3.3l0.4 0.9l1.3 2.5l1.1 3.7l0.6 4l0 4.2l-0.3 2.5l-0.9 3.6l-1.6 3.7l-1.4 2.9l-4.4 6l-2.7 2.8l-6 5.3l-3.4 2.5l-3.7 2.4l-3.9 2.2l-4.1 2.2l-4.2 2.1l-4.5 2l-4.7 2l-4.8 1.8l-5.1 1.8l-5.2 1.7l-11.1 3.1l-5.7 1.5l-11.9 2.8l-17.9 4.1l-5.7 1.6l-5.3 1.6l-4.9 1.9l-4.3 2.2l-3.6 2.4l-3.1 2.7l-2.5 3l-2.2 3.1l-1.9 3.3l-1.9 3.9l-2.1 5.3l-0.4 1.1l-1.3 4l-1.2 4.9l-0.9 4.8l-0.6 4.6l-0.4 4.6l0 4.3l0.1 4.3l0.4 4.2l0.6 4.4l0.8 4.6l1 4.6l1.6 6.4l2.5 8.2l8 24.9l1.4 5.6l0.8 4.1l0.6 4.4l0.4 4.4l-0.1 4.3l-0.4 4.6l-1 5l-0.7 2.4l-1.3 3.6l-1.7 3.6l-1.9 3.4l-2.2 3.3l-2.5 3.2l-2.8 3.1l-3.9 3.8l-2.3 2l-3.4 2.8l-3.6 2.6l-3.9 2.6l-4 2.5l-4.3 2.4l-6.7 3.4l-2.3 1.1l-4.9 2.1l-5 2.1l-5.2 2l-5.4 1.8l-5.6 1.8l-8.4 2.4l-3.3 0.9l-6.2 1.5l-8.6 1.9l-4.5 0.8l-10.2 1.8l-3.8 0.5l-9.2 1.2l-11.9 1.2l-1.8 0.2l-9.3 0.6l-10.5 0.5l-10 0.4l-9.8 0.1l-13.2 0.1l-23.8-0.4l-25.2-0.5l-10.8-0.3l-18.5-0.3l-19.1-0.1l-18.5 0.1l-19.4 0.4l-25 0.9l-17.2 0.8l-25.3 1.4l-16.7 1.1l-109.4 7.3l-23.9 1.2l-18.1 0.8l-20.2 0.6l-19.5 0.3l-14.3 0l-9.7-0.1l0 0" fill="none" stroke="#e34933" stroke-opacity="0.5" stroke-width="3.1" clip-path="url(#c0)"/>
<path d="M330 1661.5l-0.4-4.8l-0.5-7l-0.4-7.8l-0.3-11.8l0-8l0.2-8l0.4-8l0.7-8.2l0.9-8.2l1.2-7.7l1.8-9.2l1-4.3l1.2-4.4l1.3-4.5l0.3-1.1l2.7-7.4l3.1-7.2l3.5-7l4-6.7l3.3-4.8l1.1-1.7l4.9-6.2l5.2-6l5.7-5.9l6-5.6l6.4-5.4l6.7-5.3l7.2-5.3l7-4.8l7.5-4.8l7.7-4.8l7.9-4.6l8.1-4.5l12.6-6.5l8.5-4.3l13.1-6.2l13.5-6.1l13.8-5.8l14.2-5.7l14.5-5.5l9.9-3.5l10-3.4l10.3-3.4l10.5-3.2l10.7-3.1l11.1-3l11.3-2.8l11.7-2.6l12.1-2.4l12.5-2.3l12.9-2l13.4-1.9l20.6-2.5l27.8-3.1l18.7-2.1l9-1.1l6.9-0.8l42.7-4.7l13.3-1.3l19.4-1.6l2.7-0.2l22.9-1.3l16-0.6l16.5-0.4l17.2 0l17.6 0.1l24 0.5l12.6 0.4l28.8 0.5l8.8-0.1l9.3-0.3l4.8-0.2l7.4-0.6l9-0.9l4.7-0.7l8.8-1.5l3.6-0.6l5.7-1.3l9.3-2.4l1.6-0.5l10.2-3.1l9.8-3.2l14.4-5.1l19-6.8l9.8-3.2l10.2-3l5.4-1.5l5.6-1.3l5.8-1.2l6.3-1l6.8-0.7l8.6-0.5l8.4 0l9.5 0.8l4.6 0.6l6.2 1.1l5.8 1.2l5.4 1.4l5.2 1.5l5 1.7l9.5 3.4l9.2 3.6l8.8 3.7l12.9 5.8l21.2 9.9l34.1 15.9l21.6 9.8l17.7 7.8l17.9 7.7l18.3 7.6l18.6 7.5l19.1 7.4l14.5 5.4l14.8 5.3l15.1 5.2l15.4 5.1l15.7 4.9l16.2 4.8l16.6 4.6l11.3 3l17.3 4.3l17.8 4.1l18.2 3.9l42.8 9l11.8 2.8l11.3 3.1l5.4 1.6l5.3 1.7l5 1.9l4.8 1.9l4.5 2.1l4.2 2.2l3.9 2.4l3.5 2.6l3.5 3.4l1.9 2.6l1.7 3.4l0.8 3.9l-0.3 3.4l-0.4 1.2l-0.8 2.1l-1.9 3.1l-0.5 0.7l-1.9 2.1l-2.8 2.6l-3.2 2.5l-3.5 2.3l-3.8 2.3l-4.1 2.1l-4.3 2l-4.5 1.9l-4.8 1.8l-9.8 3.5l-10.3 3.3l-10.7 3.2l-32.2 9.5l-10.5 3.3l-10.2 3.4l-9.9 3.6l-9.6 3.7l-9.1 3.9l-8.8 4.1l-8.4 4.3l-7.9 4.5l-7.4 4.7l-3.5 2.5l-5.4 4l-1.3 1l-3.1 2.7l-3 2.7l-3 2.9l-2.4 2.8l-3.8 4.6l-1 1.4l-3.1 5l-0.7 1.4l-2 4.3l-0.9 2.5l-1.1 3.6l-0.8 4l-0.3 4.6l0.1 4.4l0.5 4.1l0.8 4.1l1.2 4.1l1.9 5l1 2.2l1.8 3.6l2.8 5l3.6 5.8l4.3 6.4l9 12.1l5.7 7.8l4.5 6.8l2.1 3.5l2.9 5.5l0.8 1.9l1.4 3.8l1 4.2l0.5 4.5l-0.2 4.4l-0.7 3.6l-0.4 1.5l-0.8 2.2l-1.7 3.7l-1.9 3.2l-2.7 3.7l-2.2 2.6l-2.8 2.9l-3.5 3.3M1353.9 1864.8l-9.8 3.4l-11.1 3.7l-11.4 3.6l-11.7 3.5l-12 3.3l-12.4 3.1l-12.8 3l-13.4 2.7l-9.3 1.6l-11.9 1.9l-7.5 1l-7.7 0.8l-11 1.1l-11.1 0.7l-10.4 0.4l-10.1 0.2l-9.6 0l-10-0.2l-10.4-0.5l-14.1-0.9l-16-1.5l-7.8-0.8l-15.3-1.9l-20.2-2.7l-68-9.8l-15.1-1.9l-15.5-1.7l-17.7-1.6l-14.6-1.1l-18.1-1l-16.5-0.6l-18.3-0.3l-18.9 0l-19.5 0.2l-22 0.6l-26.5 0.9l-43.9 1.8l0 0" fill="none" stroke="#d42d27" stroke-opacity="0.5" stroke-width="3.1" clip-path="url(#c0)"/>
<path d="M872.1 1266.3l8.9-0.6l7-0.7l6.8-0.7l13.1-1.7l12.4-2l13.3-2.5l10.3-2l16.9-3.7l27.7-6.4l27.6-6.3l16.9-3.6l17.2-3.5l11.7-2.2l12-2.1l12.4-1.9l12.8-1.8l13.3-1.5l6.8-0.7M270.3 1631.9l-0.4-4.7l-1.3-10.6l-1.2-8.6l-1.6-9.8l-5.7-33.7l-0.8-6.2l-0.3-3.7l-0.2-3.9l-0.1-4.4l0.2-4.3l0.4-4.1l0.7-4.1l0.9-3.9l1-3.3M1893.3 1552.7l-1.3 3.3l-1.4 3.2l-3.1 6.4l-3.4 6.2l-3.7 6.2l-5.7 9.1l-11.7 18.3l-3.7 6.2l-2 3.6M1119.2 1981.2l-13.2-3.1l-12.8-3.2l-12.5-3.3l-22.2-6.3l-32.8-9.3l-18.5-5.1l-14-3.5l-11.5-2.8l-13.2-2.9l-13.6-2.7l-14-2.6l-14.5-2.2l-15-2l-8.4-0.9l-15.5-1.5l-8.3-0.6l-10.3-0.6l0 0" fill="none" stroke="#bd1726" stroke-opacity="0.5" stroke-width="3.1" clip-path="url(#c0)"/>
<g fill-opacity="0.85" clip-path="url(#c0)"><path d="M1047 368.8l-8.6 4.9l-8.7 4.9l8.7 6.5l8.6 6.4l8.7-4.7l8.7-4.9l-8.7-6.5l-4.3-3.3z" fill="#a50026"/><path d="M1064.4 381.9l-8.7 4.9l-8.7 4.7l8.7 6.4l8.7 6.3l8.7-4.7l8.7-4.8l-8.7-6.4l-4.4-3.2z" fill="#a50026"/><path d="M1029.7 378.6l-8.7 4.8l-8.7 4.7l8.7 6.4l8.7 6.3l8.7-4.6l8.6-4.7l-8.6-6.4l-4.4-3.3z" fill="#a50026"/><path d="M1081.8 394.7l-8.7 4.8l-8.7 4.7l8.7 6.1l8.8 6.1l8.6-4.6l8.7-4.8l-8.7-6.1l-4.4-3.1z" fill="#a50026"/><path d="M1047 391.5l-8.6 4.7l-8.7 4.6l8.6 6.3l8.7 6.2l8.7-4.5l8.7-4.6l-8.7-6.3l-4.3-3.2z" fill="#a50026"/><path d="M1012.3 388.1l-8.7 4.7l-8.7 4.6l8.6 6.3l8.7 6.2l8.7-4.5l8.8-4.6l-8.7-6.3l-4.4-3.2z" fill="#a50026"/><path d="M1099.2 407l-8.7 4.8l-8.6 4.6l8.7 5.9l8.7 5.8l8.7-4.6l8.7-4.7l-8.8-5.8l-4.3-3z" fill="#a50026"/><path d="M1064.4 404.2l-8.7 4.6l-8.7 4.5l8.8 6l8.7 6l8.7-4.4l8.7-4.5l-8.8-6.1l-4.3-3z" fill="#a50026"/><path d="M1029.7 400.8l-8.8 4.6l-8.7 4.5l8.7 6.1l8.7 6l8.7-4.3l8.7-4.4l-8.7-6.2l-4.3-3.1z" fill="#a50026"/><path d="M994.9 397.4l-8.8 4.6l-8.7 4.6l8.6 6l8.7 6l8.8-4.4l8.7-4.3l-8.7-6.2l-4.3-3.1z" fill="#a50026"/><path d="M1116.7 418.8l-8.7 4.7l-8.7 4.6l8.8 5.7l8.8 5.5l8.6-4.6l8.7-4.7l-8.8-5.5l-4.3-2.8z" fill="#a50026"/><path d="M1081.9 416.4l-8.7 4.5l-8.7 4.4l8.7 5.9l8.8 5.7l8.7-4.3l8.6-4.5l-8.7-5.8l-4.4-2.9z" fill="#a50026"/><path d="M1047 413.3l-8.7 4.4l-8.7 4.3l8.7 5.9l8.7 5.9l8.8-4.2l8.7-4.3l-8.7-6l-4.4-3z" fill="#a50026"/><path d="M1012.2 409.9l-8.7 4.3l-8.8 4.4l8.7 5.9l8.7 5.8l8.8-4.1l8.7-4.2l-8.7-6l-4.3-3.1z" fill="#a50026"/><path d="M977.4 406.6l-8.8 4.5l-8.8 4.4l8.7 5.8l8.7 5.7l8.8-4.2l8.7-4.2l-8.7-6l-4.3-3z" fill="#a50026"/><path d="M1134.2 430l-8.7 4.7l-8.6 4.6l8.7 5.4l8.8 5.2l8.7-4.6l8.7-4.7l-8.8-5.2l-4.4-2.7z" fill="#a50026"/><path d="M1099.3 428.1l-8.6 4.5l-8.7 4.3l8.7 5.6l8.8 5.4l8.7-4.2l8.7-4.4l-8.8-5.5l-4.4-2.8z" fill="#a50026"/><path d="M1064.5 425.3l-8.7 4.3l-8.8 4.2l8.8 5.7l8.7 5.6l8.7-4l8.8-4.2l-8.8-5.7l-4.4-3z" fill="#a50026"/><path d="M1029.6 422l-8.7 4.2l-8.8 4.1l8.7 5.8l8.8 5.7l8.7-4l8.7-4l-8.7-5.9l-4.3-2.9z" fill="#a50026"/><path d="M994.7 418.6l-8.7 4.2l-8.8 4.2l8.7 5.7l8.7 5.7l8.8-4l8.7-4.1l-8.7-5.8l-4.3-3z" fill="#a50026"/><path d="M959.8 415.5l-8.7 4.4l-8.8 4.3l8.6 5.6l8.7 5.5l8.8-4.1l8.8-4.2l-8.7-5.7l-4.3-2.9z" fill="#a50026"/><path d="M1151.8 440.6l-8.7 4.7l-8.7 4.6l8.8 5l8.8 4.8l8.7-4.5l8.7-4.7l-8.8-4.8l-4.4-2.5z" fill="#a50026"/><path d="M1116.9 439.3l-8.7 4.4l-8.7 4.2l8.8 5.4l8.7 5.1l8.7-4.2l8.7-4.3l-8.8-5.2l-4.4-2.7z" fill="#a50026"/><path d="M1082 436.9l-8.8 4.2l-8.7 4l8.8 5.5l8.7 5.4l8.8-4l8.7-4.1l-8.8-5.4l-4.4-2.8z" fill="#a50026"/><path d="M1047 433.8l-8.7 4l-8.7 4l8.7 5.6l8.7 5.5l8.8-3.9l8.7-3.9l-8.7-5.6l-4.4-2.9z" fill="#a50026"/><path d="M1012.1 430.3l-8.7 4.1l-8.8 4l8.7 5.5l8.7 5.5l8.8-3.7l8.8-3.9l-8.8-5.7l-4.3-2.9z" fill="#a50026"/><path d="M977.2 427l-8.8 4.2l-8.8 4.1l8.7 5.4l8.7 5.4l8.8-3.8l8.8-3.9l-8.7-5.7l-4.4-2.8z" fill="#a50026"/><path d="M942.3 424.2l-8.9 4.4l-8.8 4.2l8.7 5.3l8.7 5.2l8.8-4l8.8-4l-8.7-5.5l-4.3-2.8z" fill="#a50026"/><path d="M1169.4 450.5l-8.7 4.7l-8.7 4.5l8.9 4.7l8.8 4.6l8.7-4.6l8.6-4.7l-8.8-4.5l-4.4-2.3z" fill="#a50026"/><path d="M1134.4 449.9l-8.7 4.3l-8.7 4.2l8.8 5l8.9 4.9l8.7-4.2l8.6-4.4l-8.8-4.8l-4.4-2.5z" fill="#a50026"/><path d="M1099.5 447.9l-8.7 4.1l-8.8 4l8.8 5.3l8.8 5.1l8.7-3.9l8.7-4.1l-8.7-5.1l-4.4-2.7z" fill="#a50026"/><path d="M1064.5 445.1l-8.7 3.9l-8.8 3.9l8.8 5.4l8.8 5.2l8.7-3.7l8.7-3.8l-8.7-5.4l-4.4-2.7z" fill="#a50026"/><path d="M1029.6 441.8l-8.8 3.9l-8.8 3.7l8.8 5.5l8.7 5.3l8.8-3.6l8.7-3.7l-8.7-5.5l-4.4-2.8z" fill="#a50026"/><path d="M994.6 438.4l-8.8 3.9l-8.8 3.8l8.7 5.4l8.7 5.3l8.8-3.7l8.8-3.7l-8.7-5.5l-4.4-2.7z" fill="#a50026"/><path d="M959.6 435.3l-8.8 4l-8.8 4l8.7 5.2l8.7 5.2l8.8-3.8l8.8-3.8l-8.7-5.4l-4.3-2.7z" fill="#a50026"/><path d="M924.6 432.8l-8.8 4.3l-8.9 4.2l8.7 5l8.7 4.9l8.8-3.9l8.9-4l-8.7-5.2l-4.3-2.6z" fill="#a50026"/><path d="M1152 459.7l-8.6 4.4l-8.7 4.2l8.8 4.7l8.8 4.5l8.7-4.2l8.7-4.3l-8.8-4.6l-4.5-2.3z" fill="#a50026"/><path d="M1187 459.7l-8.6 4.7l-8.7 4.6l8.9 4.3l8.8 4.2l8.7-4.6l8.7-4.7l-8.9-4.1l-4.4-2.2z" fill="#a50026"/><path d="M1117 458.4l-8.7 4.1l-8.7 3.9l8.8 5l8.8 4.8l8.8-3.9l8.7-4l-8.9-4.9l-4.4-2.5z" fill="#a50026"/><path d="M1082 456l-8.7 3.8l-8.7 3.7l8.7 5.2l8.8 5.1l8.8-3.7l8.7-3.7l-8.8-5.1l-4.4-2.7z" fill="#a50026"/><path d="M1047 452.9l-8.7 3.7l-8.8 3.6l8.8 5.3l8.7 5.1l8.8-3.5l8.8-3.6l-8.8-5.2l-4.4-2.7z" fill="#a50026"/><path d="M1012 449.4l-8.8 3.7l-8.8 3.7l8.8 5.2l8.7 5.2l8.8-3.5l8.8-3.5l-8.7-5.3l-4.4-2.7z" fill="#a50026"/><path d="M977 446.1l-8.8 3.8l-8.8 3.8l8.7 5.1l8.7 5.1l8.8-3.5l8.8-3.6l-8.7-5.3l-4.3-2.7z" fill="#a50026"/><path d="M942 443.3l-8.9 4l-8.8 3.9l8.7 5l8.7 4.9l8.8-3.7l8.9-3.7l-8.7-5.2l-4.4-2.6z" fill="#a50026"/><path d="M906.9 441.3l-8.8 4.2l-8.9 4.1l8.7 4.8l8.7 4.6l8.8-3.8l8.9-4l-8.7-4.9l-4.3-2.5z" fill="#a50026"/><path d="M1169.7 469l-8.7 4.3l-8.7 4.2l8.9 4.4l8.8 4.2l8.7-4.2l8.7-4.4l-8.8-4.2l-4.5-2.1z" fill="#a50026"/><path d="M1134.7 468.3l-8.7 4l-8.8 3.9l8.9 4.7l8.8 4.6l8.7-3.9l8.7-4.1l-8.8-4.5l-4.4-2.3z" fill="#a50026"/><path d="M1204.8 468.2l-8.7 4.7l-8.7 4.6l8.9 4l8.9 3.9l8.7-4.6l8.6-4.8l-8.9-3.8l-4.4-2z" fill="#a50026"/><path d="M1099.6 466.4l-8.7 3.7l-8.8 3.7l8.8 4.9l8.9 4.8l8.7-3.6l8.7-3.7l-8.8-4.8l-4.4-2.5z" fill="#a50026"/><path d="M1064.6 463.5l-8.8 3.6l-8.8 3.5l8.8 5.1l8.8 5l8.8-3.4l8.7-3.5l-8.8-5.1l-4.3-2.6z" fill="#a50026"/><path d="M1029.5 460.2l-8.8 3.5l-8.8 3.5l8.8 5.1l8.8 5.1l8.8-3.4l8.7-3.4l-8.7-5.1l-4.4-2.7z" fill="#a50026"/><path d="M994.4 456.8l-8.8 3.6l-8.8 3.5l8.8 5l8.7 5l8.8-3.3l8.8-3.4l-8.7-5.2l-4.4-2.6z" fill="#a50026"/><path d="M959.4 453.7l-8.9 3.7l-8.8 3.7l8.7 4.9l8.7 4.8l8.9-3.4l8.8-3.5l-8.7-5.1l-4.4-2.5z" fill="#a50026"/><path d="M924.3 451.2l-8.9 4l-8.8 3.8l8.7 4.7l8.7 4.7l8.8-3.7l8.9-3.6l-8.7-4.9l-4.4-2.5z" fill="#a50026"/><path d="M889.2 449.6l-8.9 4.2l-8.9 4.1l8.7 4.4l8.7 4.5l8.9-3.9l8.9-3.9l-8.7-4.6l-4.4-2.4z" fill="#a50026"/><path d="M1152.3 477.5l-8.7 4.1l-8.7 3.9l8.9 4.4l8.8 4.2l8.7-3.9l8.7-4.1l-8.8-4.2l-4.5-2.2z" fill="#a50026"/><path d="M1187.4 477.5l-8.7 4.4l-8.7 4.2l8.9 4.1l8.9 3.9l8.7-4.3l8.7-4.4l-8.9-3.9l-4.4-2z" fill="#a50026"/><path d="M1117.2 476.2l-8.7 3.7l-8.7 3.6l8.8 4.7l8.8 4.6l8.8-3.6l8.7-3.7l-8.8-4.6l-4.5-2.3z" fill="#a50026"/><path d="M1222.5 476l-8.6 4.8l-8.7 4.6l8.9 3.7l8.9 3.5l8.7-4.6l8.6-4.9l-8.9-3.4l-4.4-1.8z" fill="#a50026"/><path d="M1082.1 473.8l-8.7 3.5l-8.8 3.4l8.8 4.9l8.8 4.8l8.8-3.4l8.8-3.5l-8.9-4.8l-4.4-2.4z" fill="#a50026"/><path d="M1047 470.6l-8.7 3.4l-8.8 3.4l8.7 4.9l8.8 4.9l8.8-3.2l8.8-3.3l-8.8-5l-4.4-2.5z" fill="#a50026"/><path d="M1011.9 467.2l-8.8 3.4l-8.8 3.3l8.8 5l8.7 4.9l8.9-3.2l8.8-3.2l-8.8-5.1l-4.4-2.5z" fill="#a50026"/><path d="M976.8 463.9l-8.8 3.5l-8.9 3.4l8.8 4.9l8.7 4.8l8.9-3.3l8.8-3.3l-8.7-5l-4.4-2.5z" fill="#a50026"/><path d="M941.7 461.1l-8.9 3.6l-8.8 3.7l8.7 4.6l8.7 4.7l8.9-3.4l8.8-3.5l-8.7-4.8l-4.4-2.5z" fill="#a50026"/><path d="M906.6 459l-8.9 3.9l-8.9 3.9l8.7 4.4l8.7 4.4l8.9-3.6l8.9-3.6l-8.7-4.7l-4.4-2.3z" fill="#a50026"/><path d="M871.4 457.9l-8.9 4.1l-8.9 4.1l8.7 4.2l8.6 4.2l9-3.9l8.9-3.8l-8.7-4.5l-4.3-2.2z" fill="#a50026"/><path d="M1170 486.1l-8.7 4.1l-8.7 3.9l8.9 4.2l8.9 4l8.7-4l8.7-4.2l-8.9-3.9l-4.4-2z" fill="#a50026"/><path d="M1134.9 485.5l-8.7 3.7l-8.8 3.6l8.9 4.5l8.8 4.3l8.8-3.7l8.7-3.8l-8.8-4.2l-4.5-2.2z" fill="#a50026"/><path d="M1205.2 485.4l-8.7 4.4l-8.7 4.3l8.9 3.8l8.9 3.6l8.7-4.4l8.7-4.5l-8.9-3.5l-4.5-1.9z" fill="#a50026"/><path d="M1099.8 483.5l-8.8 3.5l-8.8 3.4l8.9 4.7l8.8 4.6l8.8-3.4l8.7-3.5l-8.8-4.6l-4.4-2.3z" fill="#a50026"/><path d="M1240.3 483.1l-8.6 4.9l-8.7 4.6l8.9 3.4l9 3.3l8.7-4.8l8.6-4.8l-8.9-3.2l-4.5-1.7z" fill="#a50026"/><path d="M1064.6 480.7l-8.8 3.3l-8.8 3.2l8.8 4.9l8.9 4.7l8.8-3.1l8.7-3.3l-8.8-4.8l-4.4-2.4z" fill="#a50026"/><path d="M1029.5 477.4l-8.8 3.2l-8.9 3.2l8.8 4.9l8.8 4.8l8.8-3.1l8.8-3.2l-8.8-4.9l-4.3-2.5z" fill="#a50026"/><path d="M994.3 473.9l-8.8 3.3l-8.9 3.3l8.8 4.8l8.8 4.8l8.8-3.2l8.8-3.1l-8.7-4.9l-4.4-2.5z" fill="#a50026"/><path d="M959.1 470.8l-8.8 3.5l-8.9 3.4l8.7 4.6l8.8 4.6l8.9-3.2l8.8-3.2l-8.7-4.8l-4.4-2.5z" fill="#a50026"/><path d="M924 468.4l-8.9 3.6l-8.9 3.6l8.7 4.5l8.7 4.4l8.9-3.4l8.9-3.4l-8.7-4.7l-4.4-2.3z" fill="#a50026"/><path d="M888.8 466.8l-8.9 3.8l-9 3.9l8.7 4.2l8.7 4.2l9-3.6l8.9-3.7l-8.7-4.4l-4.4-2.2z" fill="#a50026"/><path d="M853.6 466.1l-8.9 4l-9 4.1l8.7 4l8.7 4l8.9-3.9l8.9-3.8l-8.6-4.2l-4.4-2.1z" fill="#a50026"/><path d="M1152.6 494.1l-8.7 3.8l-8.8 3.7l8.9 4.2l8.9 4.1l8.8-3.7l8.7-3.9l-8.9-4l-4.4-2.1z" fill="#a50026"/><path d="M1187.8 494.1l-8.7 4.2l-8.7 4l8.9 3.9l8.9 3.7l8.7-4.1l8.7-4.3l-8.9-3.6l-4.4-1.9z" fill="#a50026"/><path d="M1117.4 492.8l-8.7 3.5l-8.8 3.4l8.9 4.5l8.8 4.4l8.8-3.5l8.7-3.5l-8.8-4.3l-4.4-2.2z" fill="#a50026"/><path d="M1223 492.6l-8.7 4.5l-8.7 4.4l9 3.5l8.9 3.4l8.7-4.5l8.7-4.6l-9-3.3l-4.4-1.7z" fill="#a50026"/><path d="M1082.2 490.4l-8.7 3.3l-8.8 3.1l8.8 4.7l8.8 4.6l8.8-3.1l8.8-3.3l-8.8-4.6l-4.4-2.4z" fill="#a50026"/><path d="M1258.2 489.7l-8.6 4.8l-8.7 4.8l9 3.1l8.9 3l8.7-4.8l8.7-5l-9-2.9l-4.5-1.5z" fill="#a50026"/><path d="M1047 487.2l-8.8 3.2l-8.8 3.1l8.8 4.8l8.8 4.7l8.9-3.1l8.8-3.1l-8.9-4.7l-4.4-2.4z" fill="#a50026"/><path d="M1011.8 483.8l-8.8 3.1l-8.8 3.2l8.7 4.7l8.8 4.7l8.9-3l8.8-3l-8.8-4.8l-4.4-2.5z" fill="#a50026"/><path d="M976.6 480.5l-8.8 3.2l-8.9 3.2l8.7 4.7l8.8 4.6l8.9-3.1l8.9-3l-8.8-4.8l-4.4-2.4z" fill="#a50026"/><path d="M941.4 477.7l-8.9 3.4l-8.9 3.4l8.7 4.4l8.8 4.5l8.9-3.2l8.9-3.3l-8.8-4.6l-4.3-2.3z" fill="#a50026"/><path d="M906.2 475.6l-8.9 3.7l-9 3.6l8.7 4.2l8.8 4.3l8.9-3.5l8.9-3.4l-8.7-4.4l-4.4-2.3z" fill="#a50026"/><path d="M870.9 474.5l-8.9 3.8l-8.9 3.9l8.6 4l8.7 4l9-3.7l8.9-3.6l-8.7-4.2l-4.3-2.1z" fill="#a50026"/><path d="M835.7 474.2l-8.9 4l-9 4.1l8.6 3.8l8.7 3.8l9-3.8l9-3.9l-8.7-4l-4.4-2z" fill="#a50026"/><path d="M1170.4 502.3l-8.7 3.9l-8.8 3.7l8.9 4l8.9 3.9l8.8-3.9l8.7-4l-8.9-3.7l-4.5-2z" fill="#a50026"/><path d="M1135.1 501.6l-8.7 3.5l-8.8 3.5l8.9 4.3l8.9 4.2l8.8-3.5l8.7-3.7l-8.9-4.1l-4.4-2.1z" fill="#a50026"/><path d="M1205.6 501.5l-8.7 4.3l-8.7 4.1l8.9 3.6l9 3.5l8.7-4.2l8.7-4.4l-8.9-3.4l-4.5-1.7z" fill="#a50026"/><path d="M1099.9 499.7l-8.8 3.3l-8.8 3.1l8.9 4.6l8.9 4.5l8.8-3.3l8.7-3.3l-8.8-4.4l-4.5-2.3z" fill="#a50026"/><path d="M1240.9 499.3l-8.7 4.6l-8.7 4.5l9 3.2l8.9 3.2l8.7-4.7l8.7-4.7l-8.9-3l-4.5-1.5z" fill="#a50026"/><path d="M1064.7 496.8l-8.8 3.1l-8.9 3.1l8.9 4.7l8.8 4.6l8.8-3l8.8-3.2l-8.8-4.6l-4.4-2.3z" fill="#a50026"/><path d="M1276.2 495.6l-8.7 5l-8.7 4.8l9 2.9l9 2.8l8.7-4.9l8.7-5l-9-2.7l-4.5-1.4z" fill="#a50026"/><path d="M1029.4 493.5l-8.8 3l-8.9 3l8.8 4.8l8.9 4.7l8.8-3l8.8-3l-8.8-4.7l-4.4-2.4z" fill="#a50026"/><path d="M994.2 490.1l-8.9 3l-8.9 3.1l8.8 4.7l8.8 4.6l8.9-3l8.8-3l-8.8-4.7l-4.4-2.4z" fill="#a50026"/><path d="M958.9 486.9l-8.9 3.3l-8.9 3.2l8.8 4.5l8.7 4.5l8.9-3.1l8.9-3.1l-8.8-4.6l-4.3-2.3z" fill="#a50026"/><path d="M923.6 484.5l-8.9 3.4l-8.9 3.5l8.7 4.2l8.8 4.4l8.9-3.3l8.9-3.3l-8.8-4.5l-4.3-2.2z" fill="#a50026"/><path d="M888.3 482.9l-8.9 3.6l-9 3.7l8.8 4.1l8.7 4.1l8.9-3.6l9-3.4l-8.8-4.3l-4.3-2.1z" fill="#a50026"/><path d="M817.8 482.3l-9 4l-9 4.1l8.7 3.7l8.6 3.7l9-4l9-3.9l-8.7-3.8l-4.3-1.9z" fill="#a50026"/><path d="M853.1 482.2l-9 3.9l-9 3.8l8.7 3.9l8.7 3.9l9-3.8l8.9-3.7l-8.7-4l-4.3-2z" fill="#a50026"/><path d="M1152.9 509.9l-8.7 3.7l-8.8 3.5l8.9 4.1l8.9 4l8.8-3.7l8.7-3.7l-8.9-3.9l-4.4-2z" fill="#a50026"/><path d="M1188.2 509.9l-8.7 4l-8.8 3.9l9 3.7l8.9 3.7l8.8-4l8.7-4.2l-9-3.5l-4.4-1.8z" fill="#a50026"/><path d="M1117.6 508.6l-8.7 3.3l-8.8 3.3l8.8 4.4l8.9 4.3l8.8-3.4l8.8-3.4l-8.9-4.2l-4.4-2.2z" fill="#a50026"/><path d="M1223.5 508.4l-8.7 4.4l-8.7 4.2l8.9 3.4l9 3.3l8.7-4.4l8.7-4.5l-8.9-3.2l-4.5-1.6z" fill="#a50026"/><path d="M1082.3 506.1l-8.8 3.2l-8.8 3l8.9 4.6l8.8 4.6l8.9-3.2l8.8-3.1l-8.9-4.5l-4.4-2.3z" fill="#a50026"/><path d="M1258.8 505.4l-8.7 4.7l-8.7 4.7l9 3l9 2.9l8.7-4.7l8.7-4.9l-9-2.8l-4.5-1.4z" fill="#a50026"/><path d="M1047 503l-8.8 3l-8.8 3l8.8 4.6l8.8 4.7l8.9-3l8.8-3l-8.8-4.6l-4.4-2.4z" fill="#a50026"/><path d="M1294.2 501.2l-8.7 5l-8.7 4.9l9 2.7l9.1 2.7l8.7-5.1l8.6-5.1l-9-2.5l-4.5-1.3z" fill="#a50026"/><path d="M1011.7 499.5l-8.8 3l-8.9 3l8.8 4.7l8.8 4.7l8.9-3l8.9-2.9l-8.9-4.7l-4.4-2.4z" fill="#a50026"/><path d="M976.4 496.2l-8.9 3.1l-8.9 3.1l8.8 4.6l8.8 4.5l8.9-3l8.9-3l-8.8-4.6l-4.4-2.3z" fill="#a50026"/><path d="M941.1 493.4l-8.9 3.3l-8.9 3.3l8.7 4.3l8.8 4.4l8.9-3.1l8.9-3.2l-8.7-4.5l-4.4-2.2z" fill="#a50026"/><path d="M905.8 491.4l-9 3.4l-8.9 3.6l8.7 4.1l8.8 4.2l8.9-3.4l9-3.3l-8.8-4.4l-4.4-2.1z" fill="#a50026"/><path d="M799.8 490.4l-9 4l-9 4l8.6 3.6l8.7 3.7l9-4l9-3.9l-8.6-3.7l-4.4-1.9z" fill="#a50026"/><path d="M870.4 490.2l-8.9 3.7l-9 3.8l8.7 3.9l8.7 3.9l9-3.6l9-3.5l-8.7-4.1l-4.4-2.1z" fill="#a50026"/><path d="M835.1 489.9l-9 3.9l-9 4l8.7 3.7l8.7 3.8l9-3.9l9-3.7l-8.7-3.9l-4.3-1.9z" fill="#a50026"/><path d="M1170.7 517.8l-8.7 3.7l-8.8 3.7l9 4l8.9 3.8l8.8-3.8l8.7-4l-8.9-3.7l-4.5-1.8z" fill="#a50026"/><path d="M1135.4 517.1l-8.8 3.4l-8.8 3.4l8.9 4.2l9 4.2l8.7-3.5l8.8-3.6l-8.9-4l-4.5-2z" fill="#a50026"/><path d="M1206.1 517l-8.7 4.2l-8.8 4l9 3.6l8.9 3.5l8.8-4.3l8.7-4.3l-9-3.3l-4.4-1.7z" fill="#a50026"/><path d="M1100.1 515.2l-8.8 3.1l-8.9 3.2l8.9 4.5l8.9 4.4l8.8-3.2l8.8-3.3l-8.9-4.3l-4.4-2.2z" fill="#a50026"/><path d="M1241.4 514.8l-8.7 4.5l-8.7 4.4l9 3.2l9 3.1l8.7-4.6l8.7-4.7l-9-2.9l-4.5-1.5z" fill="#a50026"/><path d="M1064.7 512.3l-8.8 3l-8.9 3l8.9 4.6l8.9 4.7l8.8-3.1l8.8-3l-8.8-4.6l-4.5-2.3z" fill="#a50026"/><path d="M1276.8 511.1l-8.7 4.9l-8.7 4.7l9.1 2.9l9 2.7l8.7-4.9l8.7-4.9l-9.1-2.7l-4.5-1.3z" fill="#a50026"/><path d="M1029.4 509l-8.9 2.9l-8.9 3l8.9 4.6l8.8 4.7l8.9-2.9l8.8-3l-8.8-4.7l-4.4-2.3z" fill="#a50026"/><path d="M1312.2 506.3l-8.6 5.1l-8.7 5.1l9 2.5l9.1 2.5l8.7-5.1l8.6-5.2l-9-2.4l-4.5-1.2z" fill="#a50026"/><path d="M994 505.5l-8.9 3l-8.9 3l8.8 4.6l8.9 4.7l8.8-3l8.9-2.9l-8.8-4.7l-4.4-2.3z" fill="#a50026"/><path d="M958.6 502.4l-8.9 3.2l-8.9 3.1l8.8 4.5l8.8 4.5l8.9-3.1l8.9-3.1l-8.8-4.5l-4.4-2.3z" fill="#a50026"/><path d="M923.3 500l-9 3.3l-8.9 3.4l8.7 4.2l8.8 4.4l9-3.3l8.9-3.3l-8.8-4.4l-4.4-2.2z" fill="#a50026"/><path d="M781.8 498.4l-9.1 4l-9 4.1l8.6 3.6l8.7 3.6l9.1-4l9-4l-8.7-3.7l-4.3-1.8z" fill="#a50026"/><path d="M887.9 498.4l-9 3.5l-9 3.6l8.8 4.1l8.7 4.1l9-3.6l9-3.4l-8.8-4.2l-4.4-2.1z" fill="#a50026"/><path d="M817.1 497.8l-9 3.9l-9 4l8.7 3.7l8.7 3.7l9-4l9-3.8l-8.7-3.8l-4.3-1.9z" fill="#a50026"/><path d="M852.5 497.7l-9 3.7l-9 3.9l8.7 3.8l8.7 3.9l9-3.8l9-3.7l-8.7-3.9l-4.3-2z" fill="#a50026"/><path d="M1153.2 525.2l-8.8 3.6l-8.7 3.5l8.9 4.2l8.9 4l8.8-3.7l8.8-3.8l-8.9-3.8l-4.5-2z" fill="#a50026"/><path d="M1188.6 525.2l-8.7 4l-8.8 3.8l9 3.8l8.9 3.7l8.8-4.1l8.7-4.1l-8.9-3.5l-4.5-1.8z" fill="#a50026"/><path d="M1117.8 523.9l-8.8 3.3l-8.8 3.2l8.9 4.4l8.9 4.4l8.9-3.4l8.8-3.5l-9-4.2l-4.4-2.1z" fill="#a50026"/><path d="M1224 523.7l-8.7 4.3l-8.8 4.3l9 3.4l9 3.3l8.8-4.5l8.7-4.5l-9-3.1l-4.5-1.6z" fill="#a50026"/><path d="M1082.4 521.5l-8.8 3l-8.8 3.1l8.8 4.6l8.9 4.6l8.9-3.2l8.8-3.2l-8.9-4.4l-4.4-2.3z" fill="#a50026"/><path d="M1259.4 520.7l-8.7 4.7l-8.7 4.6l9 3l9 3l8.8-4.8l8.7-4.9l-9-2.7l-4.6-1.4z" fill="#a50026"/><path d="M1047 518.3l-8.8 3l-8.9 2.9l8.9 4.7l8.8 4.7l8.9-3l8.9-3l-8.9-4.7l-4.4-2.3z" fill="#a50026"/><path d="M1294.9 516.5l-8.7 4.9l-8.7 4.9l9 2.8l9.1 2.6l8.7-5l8.7-5.2l-9.1-2.5l-4.5-1.2z" fill="#a50026"/><path d="M1011.6 514.9l-8.9 2.9l-8.8 3l8.8 4.7l8.8 4.7l8.9-3l8.9-3l-8.8-4.7l-4.4-2.3z" fill="#a50026"/><path d="M976.2 511.5l-8.9 3.1l-8.9 3.1l8.8 4.6l8.8 4.6l8.9-3.1l9-3l-8.9-4.7l-4.4-2.3z" fill="#a50026"/><path d="M1330.3 511.2l-8.6 5.2l-8.7 5.1l9.1 2.5l9.1 2.5l8.7-5.3l8.6-5.2l-9.1-2.4l-4.5-1.2z" fill="#a50026"/><path d="M940.8 508.7l-8.9 3.3l-9 3.3l8.8 4.3l8.8 4.5l8.9-3.2l9-3.2l-8.8-4.5l-4.4-2.3z" fill="#a50026"/><path d="M905.4 506.7l-9 3.4l-9 3.6l8.8 4.1l8.8 4.3l8.9-3.5l9-3.3l-8.8-4.4l-4.4-2.1z" fill="#a50026"/><path d="M763.7 506.5l-9.1 4l-9.1 4l8.7 3.7l8.7 3.7l9-4.1l9.1-4.1l-8.7-3.6l-4.3-1.8z" fill="#a50026"/><path d="M799.1 505.7l-9 4l-9.1 4l8.7 3.7l8.7 3.7l9-4l9.1-4l-8.7-3.7l-4.4-1.9z" fill="#a50026"/><path d="M869.9 505.5l-9 3.7l-9 3.8l8.8 3.9l8.7 4.1l9-3.7l9-3.6l-8.7-4.1l-4.4-2.1z" fill="#a50026"/><path d="M834.5 505.3l-9 3.8l-9 4l8.7 3.7l8.7 3.9l9-3.9l9-3.8l-8.7-3.9l-4.3-1.9z" fill="#a50026"/><path d="M1171.1 533l-8.8 3.8l-8.8 3.7l9 4l9 4l8.7-4l8.8-4l-8.9-3.7l-4.5-1.9z" fill="#a50026"/><path d="M1135.7 532.3l-8.8 3.5l-8.9 3.4l9 4.3l8.9 4.3l8.8-3.6l8.8-3.7l-8.9-4l-4.5-2.1z" fill="#a50026"/><path d="M1206.5 532.3l-8.7 4.1l-8.8 4.1l9 3.6l9 3.6l8.8-4.3l8.7-4.4l-9-3.3l-4.5-1.7z" fill="#a50026"/><path d="M1100.2 530.4l-8.8 3.2l-8.9 3.2l8.9 4.5l9 4.6l8.8-3.4l8.8-3.3l-8.9-4.4l-4.4-2.2z" fill="#a50026"/><path d="M1242 530l-8.7 4.5l-8.8 4.5l9 3.2l9.1 3.2l8.7-4.7l8.7-4.7l-9-3l-4.5-1.5z" fill="#a50026"/><path d="M1064.8 527.6l-8.9 3l-8.9 3l8.9 4.7l8.9 4.7l8.9-3.1l8.8-3.1l-8.9-4.6l-4.4-2.3z" fill="#a50026"/><path d="M1277.5 526.3l-8.7 4.9l-8.8 4.8l9.1 2.9l9.1 2.9l8.7-5l8.7-5.1l-9.1-2.6l-4.5-1.4z" fill="#a50026"/><path d="M1029.3 524.2l-8.9 3l-8.9 3l8.9 4.7l8.9 4.8l8.9-3.1l8.8-3l-8.8-4.7l-4.5-2.3z" fill="#a50026"/><path d="M1313 521.5l-8.7 5.2l-8.7 5l9.1 2.7l9.1 2.6l8.7-5.3l8.7-5.2l-9.1-2.5l-4.6-1.2z" fill="#a50026"/><path d="M993.9 520.8l-9 3l-8.9 3.1l8.8 4.7l8.9 4.7l8.9-3.1l8.9-3l-8.8-4.7l-4.4-2.4z" fill="#a50026"/><path d="M958.4 517.7l-9 3.2l-8.9 3.2l8.8 4.6l8.8 4.6l9-3.3l8.9-3.1l-8.8-4.6l-4.4-2.3z" fill="#a50026"/><path d="M1348.5 516l-8.6 5.2l-8.7 5.3l9.1 2.4l9.1 2.5l8.7-5.4l8.7-5.3l-9.2-2.4l-4.5-1.2z" fill="#a50026"/><path d="M922.9 515.3l-9 3.3l-8.9 3.5l8.7 4.4l8.8 4.5l9-3.5l9-3.4l-8.8-4.5l-4.4-2.2z" fill="#a50026"/><path d="M745.5 514.5l-9 4.1l-9.1 4l8.6 3.8l8.7 3.8l9.1-4.2l9.1-4.1l-8.7-3.7l-4.3-1.8z" fill="#a50026"/><path d="M887.4 513.7l-9 3.6l-9 3.7l8.8 4.1l8.8 4.3l9-3.7l9-3.6l-8.8-4.3l-4.4-2.1z" fill="#a50026"/><path d="M781 513.7l-9.1 4.1l-9 4.1l8.6 3.7l8.7 3.8l9.1-4.2l9.1-4.1l-8.7-3.7l-4.4-1.9z" fill="#a50026"/><path d="M816.5 513.1l-9.1 4l-9 4l8.7 3.8l8.7 3.9l9.1-4.1l9-4l-8.7-3.9l-4.4-1.8z" fill="#a50026"/><path d="M851.9 513l-9 3.8l-9 3.9l8.7 4l8.8 4.1l9-4l9-3.8l-8.7-4.1l-4.4-2z" fill="#a50026"/><path d="M1153.5 540.5l-8.8 3.7l-8.8 3.6l9 4.2l8.9 4.2l8.8-3.8l8.9-3.9l-9-4l-4.5-2z" fill="#a50026"/><path d="M1189 540.5l-8.8 4l-8.7 4l8.9 3.9l9 3.8l8.8-4.2l8.8-4.3l-9-3.6l-4.5-1.8z" fill="#a50026"/><path d="M1118 539.2l-8.8 3.3l-8.8 3.4l8.9 4.5l8.9 4.5l8.9-3.5l8.8-3.6l-8.9-4.3l-4.5-2.1z" fill="#a50026"/><path d="M1224.5 539l-8.7 4.4l-8.8 4.3l9 3.5l9 3.5l8.8-4.6l8.8-4.7l-9.1-3.2l-4.5-1.6z" fill="#a50026"/><path d="M1082.5 536.8l-8.8 3.1l-8.9 3.1l8.9 4.8l8.9 4.7l8.9-3.3l8.9-3.3l-9-4.6l-4.4-2.3z" fill="#a50026"/><path d="M1260 536l-8.7 4.7l-8.7 4.7l9 3.2l9.1 3.1l8.7-5l8.8-4.9l-9.1-2.9l-4.5-1.4z" fill="#a50026"/><path d="M1047 533.6l-8.8 3l-8.9 3.1l8.8 4.8l8.9 4.9l8.9-3.2l8.9-3.2l-8.9-4.7l-4.4-2.3z" fill="#a50026"/><path d="M1295.6 531.7l-8.7 5.1l-8.7 5l9 2.8l9.1 2.8l8.7-5.2l8.8-5.2l-9.1-2.6l-4.6-1.4z" fill="#a50026"/><path d="M1011.5 530.2l-8.9 3l-8.9 3.1l8.9 4.8l8.8 4.9l9-3.2l8.9-3.1l-8.9-4.8l-4.4-2.4z" fill="#a50026"/><path d="M976 526.9l-8.9 3.1l-9 3.3l8.9 4.7l8.8 4.9l9-3.4l8.9-3.2l-8.9-4.7l-4.4-2.4z" fill="#a50026"/><path d="M1331.2 526.5l-8.7 5.2l-8.7 5.3l9.1 2.5l9.1 2.6l8.7-5.4l8.7-5.3l-9.1-2.5l-4.6-1.2z" fill="#a50026"/><path d="M940.5 524.1l-9 3.4l-9 3.5l8.9 4.6l8.8 4.7l9-3.6l8.9-3.4l-8.8-4.6l-4.4-2.3z" fill="#a50026"/><path d="M727.4 522.6l-9.2 4.1l-9.1 4l8.7 3.9l8.6 4l9.2-4.2l9.1-4.2l-8.7-3.8l-4.3-1.9z" fill="#a50026"/><path d="M905 522.1l-9 3.6l-9 3.7l8.7 4.5l8.9 4.5l9-3.8l8.9-3.6l-8.8-4.5l-4.4-2.2z" fill="#a50026"/><path d="M762.9 521.9l-9.1 4.1l-9.1 4.2l8.7 3.8l8.7 4l9.1-4.4l9-4.2l-8.7-3.8l-4.3-1.9z" fill="#a50026"/><path d="M798.4 521.1l-9.1 4.1l-9.1 4.2l8.7 3.9l8.8 4l9-4.3l9.1-4.2l-8.7-3.9l-4.4-1.9z" fill="#a50026"/><path d="M869.4 521l-9 3.8l-9 4l8.7 4.2l8.8 4.4l9-4.1l9.1-3.9l-8.8-4.3l-4.4-2z" fill="#a50026"/><path d="M833.9 520.7l-9 4l-9.1 4.1l8.7 4.1l8.8 4.2l9-4.3l9.1-4l-8.8-4.1l-4.3-2z" fill="#a50026"/><path d="M1366.8 520.7l-8.7 5.3l-8.7 5.4l9.1 2.4l9.2 2.5l8.7-5.5l8.6-5.4l-9.1-2.4l-4.6-1.2z" fill="#a50026"/><path d="M1171.5 548.5l-8.9 3.9l-8.8 3.8l9 4.2l9 4.1l8.8-4.1l8.8-4.2l-9-3.8l-4.5-2z" fill="#a50026"/><path d="M1135.9 547.8l-8.8 3.6l-8.9 3.5l9 4.5l9 4.4l8.8-3.8l8.8-3.8l-8.9-4.2l-4.5-2.1z" fill="#a50026"/><path d="M1207 547.7l-8.8 4.3l-8.8 4.2l9 3.8l9.1 3.7l8.8-4.5l8.7-4.5l-9-3.5l-4.5-1.7z" fill="#a50026"/><path d="M1100.4 545.9l-8.9 3.3l-8.9 3.3l9 4.7l8.9 4.7l8.9-3.5l8.8-3.5l-8.9-4.5l-4.5-2.3z" fill="#a50026"/><path d="M1242.6 545.4l-8.8 4.7l-8.8 4.6l9.1 3.4l9 3.3l8.8-4.8l8.8-4.9l-9.1-3.1l-4.5-1.6z" fill="#a50026"/><path d="M1064.8 543l-8.9 3.2l-8.9 3.2l9 4.8l8.9 5l8.9-3.4l8.8-3.3l-8.9-4.7l-4.4-2.4z" fill="#a50026"/><path d="M1278.2 541.8l-8.8 4.9l-8.7 5l9 3l9.1 3.1l8.8-5.2l8.7-5.2l-9.1-2.8l-4.5-1.4z" fill="#a50026"/><path d="M1029.3 539.7l-8.9 3.1l-9 3.2l8.9 5l8.9 4.9l8.9-3.3l8.9-3.2l-8.9-4.9l-4.4-2.4z" fill="#a50026"/><path d="M1313.8 537l-8.8 5.2l-8.7 5.2l9.1 2.8l9.1 2.7l8.8-5.4l8.7-5.4l-9.1-2.6l-4.6-1.2z" fill="#a50026"/><path d="M993.7 536.3l-8.9 3.2l-9 3.4l8.9 4.9l8.8 5l9-3.5l8.9-3.3l-8.8-4.9l-4.5-2.4z" fill="#a50026"/><path d="M958.1 533.3l-8.9 3.4l-9 3.6l8.8 4.8l8.9 5l8.9-3.7l9-3.5l-8.8-4.9l-4.5-2.3z" fill="#a50026"/><path d="M922.5 531l-8.9 3.6l-9 3.8l8.8 4.8l8.8 4.9l9-4l9-3.8l-8.8-4.7l-4.5-2.4z" fill="#a50026"/><path d="M1349.4 531.4l-8.7 5.3l-8.7 5.4l9.1 2.6l9.2 2.6l8.7-5.5l8.7-5.5l-9.2-2.5l-4.5-1.2z" fill="#a50026"/><path d="M709.1 530.7l-9.1 4.1l-9.2 4l8.7 4.2l8.6 4.2l9.2-4.3l9.1-4.3l-8.6-4l-4.4-1.9z" fill="#a50026"/><path d="M744.7 530.2l-9.1 4.2l-9.2 4.2l8.7 4l8.7 4.2l9.1-4.5l9.2-4.3l-8.7-4l-4.4-1.9z" fill="#a50026"/><path d="M887 529.4l-9.1 3.9l-9 4.1l8.8 4.6l8.8 4.9l9-4.4l9.1-4.1l-8.9-4.5l-4.3-2.3z" fill="#a50026"/><path d="M780.2 529.4l-9 4.2l-9.1 4.4l8.7 4l8.7 4.3l9.1-4.5l9.1-4.5l-8.8-4l-4.3-2z" fill="#a50026"/><path d="M851.4 528.8l-9.1 4l-9 4.3l8.8 4.4l8.7 4.7l9.1-4.5l9-4.3l-8.8-4.4l-4.3-2.2z" fill="#a50026"/><path d="M815.8 528.8l-9.1 4.2l-9 4.3l8.7 4.3l8.8 4.5l9-4.6l9.1-4.4l-8.8-4.2l-4.3-2.1z" fill="#a50026"/><path d="M1385 525.4l-8.6 5.4l-8.7 5.5l9.1 2.5l9.2 2.5l8.7-5.5l8.7-5.5l-9.2-2.5l-4.6-1.2z" fill="#a50026"/><path d="M1153.8 556.2l-8.8 3.8l-8.8 3.8l8.9 4.5l9 4.4l8.9-4.1l8.8-4.1l-9-4.1l-4.5-2.1z" fill="#a50026"/><path d="M1189.4 556.2l-8.8 4.2l-8.8 4.1l9 4.1l9 4l8.9-4.4l8.8-4.5l-9.1-3.7l-4.5-1.9z" fill="#a50026"/><path d="M1118.2 554.9l-8.8 3.5l-8.9 3.5l9 4.8l8.9 4.7l8.9-3.8l8.9-3.8l-9-4.4l-4.5-2.3z" fill="#a50026"/><path d="M1225 554.7l-8.7 4.5l-8.8 4.5l9 3.7l9 3.7l8.8-4.8l8.8-4.9l-9-3.3l-4.5-1.7z" fill="#a50026"/><path d="M1082.6 552.5l-8.8 3.3l-8.9 3.4l8.9 4.9l8.9 4.9l8.9-3.5l8.9-3.6l-8.9-4.7l-4.5-2.4z" fill="#a50026"/><path d="M1260.7 551.7l-8.8 4.9l-8.8 4.8l9.1 3.4l9.1 3.3l8.7-5.2l8.8-5.1l-9.1-3.1l-4.5-1.5z" fill="#a50026"/><path d="M1047 549.4l-8.9 3.2l-8.9 3.3l8.9 5.1l8.9 5.1l9-3.5l8.9-3.4l-8.9-5l-4.5-2.4z" fill="#a50026"/><path d="M1296.3 547.4l-8.7 5.2l-8.8 5.2l9.1 3l9.1 3l8.8-5.4l8.7-5.5l-9.1-2.7l-4.5-1.4z" fill="#a50026"/><path d="M1011.4 546l-8.9 3.3l-9 3.5l8.9 5.1l8.9 5.1l9-3.6l8.9-3.5l-8.9-4.9l-4.4-2.5z" fill="#a50026"/><path d="M975.8 542.9l-9 3.5l-8.9 3.7l8.8 5.1l8.9 5.3l9-4l8.9-3.7l-8.8-5l-4.5-2.5z" fill="#a50026"/><path d="M1332 542.1l-8.7 5.4l-8.8 5.4l9.2 2.8l9.1 2.8l8.7-5.6l8.8-5.6l-9.2-2.6l-4.6-1.3z" fill="#a50026"/><path d="M940.2 540.3l-9 3.8l-9 4l8.8 5.2l8.9 5.3l9-4.4l9-4.1l-8.9-5l-4.4-2.4z" fill="#a50026"/><path d="M904.6 538.4l-9.1 4.1l-9 4.4l8.8 5.1l8.9 5.5l9-4.9l9-4.5l-8.8-4.9l-4.4-2.4z" fill="#a50026"/><path d="M690.8 538.8l-9.1 4.1l-9.2 4.1l8.6 4.4l8.7 4.4l9.2-4.3l9.1-4.3l-8.6-4.2l-4.4-2.1z" fill="#a50026"/><path d="M726.4 538.6l-9.1 4.3l-9.2 4.3l8.7 4.3l8.7 4.4l9.2-4.6l9.1-4.5l-8.7-4.2l-4.3-2z" fill="#a50026"/><path d="M868.9 537.4l-9 4.3l-9.1 4.5l8.8 5.1l8.8 5.4l9.1-5.1l9-4.7l-8.8-4.9l-4.4-2.3z" fill="#a50026"/><path d="M762.1 538l-9.2 4.3l-9.1 4.5l8.7 4.3l8.8 4.6l9.1-4.7l9.1-4.7l-8.7-4.3l-4.4-2z" fill="#a50026"/><path d="M797.7 537.3l-9.1 4.5l-9.1 4.5l8.7 4.6l8.8 4.9l9.1-5l9.1-4.7l-8.8-4.5l-4.4-2.2z" fill="#a50026"/><path d="M833.3 537.1l-9.1 4.4l-9 4.6l8.7 4.8l8.8 5.2l9.1-5.1l9-4.8l-8.7-4.7l-4.4-2.2z" fill="#a50026"/><path d="M1367.7 536.3l-8.7 5.5l-8.7 5.5l9.1 2.7l9.2 2.6l8.7-5.6l8.7-5.7l-9.2-2.5l-4.5-1.3z" fill="#a50026"/><path d="M1403.4 530.3l-8.7 5.5l-8.7 5.5l9.2 2.7l9.2 2.6l8.7-5.6l8.7-5.6l-9.2-2.6l-4.6-1.2z" fill="#a50026"/><path d="M1171.8 564.5l-8.8 4.1l-8.9 4.1l9 4.3l9.1 4.4l8.8-4.4l8.8-4.4l-9-4l-4.5-2.1z" fill="#a50026"/><path d="M1136.2 563.8l-8.9 3.8l-8.9 3.8l9 4.7l9 4.7l8.9-4.1l8.8-4l-9-4.4l-4.4-2.3z" fill="#a50026"/><path d="M1207.5 563.7l-8.8 4.5l-8.9 4.4l9.1 4l9 4l8.8-4.8l8.8-4.7l-9-3.7l-4.5-1.8z" fill="#a50026"/><path d="M1100.5 561.9l-8.9 3.6l-8.9 3.5l9 5l9 4.9l8.9-3.8l8.8-3.7l-8.9-4.7l-4.5-2.4z" fill="#a50026"/><path d="M1243.1 561.4l-8.8 4.9l-8.8 4.8l9.1 3.6l9.1 3.6l8.8-5.1l8.8-5.1l-9.1-3.3l-4.5-1.7z" fill="#a50026"/><path d="M1064.9 559.2l-8.9 3.4l-9 3.5l9 5.1l8.9 5.1l8.9-3.7l8.9-3.6l-8.9-4.9l-4.5-2.5z" fill="#a50026"/><path d="M1278.8 557.8l-8.8 5.1l-8.7 5.2l9.1 3.2l9.1 3.3l8.8-5.4l8.7-5.4l-9.1-3l-4.5-1.5z" fill="#a50026"/><path d="M1029.2 555.9l-8.9 3.5l-9 3.6l8.9 5.3l9 5.3l8.9-3.9l8.9-3.6l-8.9-5.1l-4.4-2.5z" fill="#a50026"/><path d="M993.5 552.8l-8.9 3.7l-9 4l8.9 5.3l8.9 5.5l9-4.3l8.9-4l-8.9-5.1l-4.4-2.6z" fill="#a50026"/><path d="M1314.5 552.9l-8.7 5.5l-8.8 5.4l9.1 3l9.2 3l8.7-5.7l8.8-5.6l-9.1-2.8l-4.6-1.4z" fill="#a50026"/><path d="M957.9 550.1l-9 4.1l-9 4.4l8.9 5.6l8.8 5.7l9-5l9-4.4l-8.9-5.3l-4.4-2.5z" fill="#a50026"/><path d="M922.2 548.1l-9 4.5l-9 4.9l8.8 5.8l8.9 6.1l9-5.8l9-5l-8.9-5.3l-4.4-2.6z" fill="#a50026"/><path d="M886.5 546.9l-9 4.7l-9.1 5.1l8.9 5.9l8.8 6.4l9-6.1l9.1-5.4l-8.9-5.5l-4.4-2.6z" fill="#a50026"/><path d="M850.8 546.2l-9 4.8l-9.1 5.1l8.8 5.8l8.8 6.4l9.1-6l9-5.6l-8.8-5.4l-4.4-2.6z" fill="#a50026"/><path d="M815.2 546.1l-9.1 4.7l-9.1 5l8.8 5.4l8.7 6l9.1-5.7l9.1-5.4l-8.8-5.2l-4.4-2.5z" fill="#a50026"/><path d="M708.1 547.2l-9.1 4.3l-9.2 4.3l8.7 4.6l8.7 4.8l9.2-4.7l9.1-4.6l-8.7-4.4l-4.3-2.2z" fill="#a50026"/><path d="M743.8 546.8l-9.1 4.5l-9.2 4.6l8.7 4.6l8.8 5l9.1-4.9l9.2-4.9l-8.8-4.6l-4.3-2.2z" fill="#a50026"/><path d="M779.5 546.3l-9.1 4.7l-9.1 4.7l8.7 5l8.8 5.5l9.1-5.3l9.1-5.1l-8.8-4.9l-4.3-2.4z" fill="#a50026"/><path d="M1350.3 547.3l-8.8 5.6l-8.7 5.6l9.2 2.8l9.1 2.8l8.8-5.7l8.7-5.8l-9.2-2.6l-4.6-1.4z" fill="#a50026"/><path d="M672.5 547l-9.2 4l-9.2 4.1l8.6 4.7l8.7 4.8l9.2-4.4l9.2-4.4l-8.7-4.4l-4.3-2.2z" fill="#a50026"/><path d="M1386 541.3l-8.7 5.7l-8.7 5.6l9.2 2.8l9.2 2.8l8.7-5.8l8.7-5.8l-9.2-2.6l-4.6-1.4z" fill="#a50026"/><path d="M1421.8 535.4l-8.7 5.6l-8.7 5.6l9.2 2.8l9.3 2.8l8.7-5.7l8.6-5.6l-9.2-2.8l-4.6-1.3z" fill="#a50026"/><path d="M1154.1 572.7l-8.8 4l-8.9 4.1l9 4.6l9 4.7l8.9-4.4l8.9-4.3l-9.1-4.4l-4.5-2.1z" fill="#a50026"/><path d="M1189.8 572.6l-8.8 4.4l-8.8 4.4l9 4.3l9 4.3l8.9-4.7l8.8-4.7l-9-4l-4.5-2z" fill="#a50026"/><path d="M1118.4 571.4l-8.8 3.7l-8.9 3.8l9 5l8.9 5l8.9-4.1l8.9-4l-9-4.7l-4.5-2.4z" fill="#a50026"/><path d="M1225.5 571.1l-8.8 4.7l-8.8 4.8l9.1 3.9l9.1 3.9l8.8-5l8.8-5.1l-9.1-3.6l-4.5-1.8z" fill="#a50026"/><path d="M1082.7 569l-8.9 3.6l-8.9 3.7l9 5.2l8.9 5.2l9-3.9l8.9-3.9l-9-4.9l-4.5-2.5z" fill="#a50026"/><path d="M1261.3 568.1l-8.8 5.1l-8.8 5.1l9.1 3.6l9.1 3.5l8.8-5.4l8.8-5.4l-9.1-3.3l-4.6-1.6z" fill="#a50026"/><path d="M1047 566.1l-8.9 3.6l-8.9 3.9l8.9 5.3l8.9 5.4l9-4.1l8.9-3.9l-8.9-5.1l-4.5-2.6z" fill="#a50026"/><path d="M1011.3 563l-8.9 4l-9 4.3l8.9 5.5l8.9 5.6l9-4.7l9-4.1l-9-5.3l-4.4-2.6z" fill="#a50026"/><path d="M1297 563.8l-8.7 5.4l-8.8 5.4l9.1 3.3l9.1 3.2l8.8-5.7l8.8-5.6l-9.2-3l-4.5-1.5z" fill="#a50026"/><path d="M975.6 560.5l-9 4.4l-9 5l8.9 5.9l8.9 5.9l9-5.6l9-4.8l-8.9-5.5l-4.4-2.7z" fill="#a50026"/><path d="M939.9 558.6l-9 5l-9 5.8l8.8 6.4l8.9 6.7l9-6.8l9-5.8l-8.8-5.7l-4.5-2.8z" fill="#a50026"/><path d="M904.2 557.5l-9.1 5.4l-9 6.1l8.8 7l8.9 7.6l9-7.7l9.1-6.5l-8.9-6.1l-4.4-3z" fill="#a50026"/><path d="M868.4 556.7l-9 5.6l-9.1 6l8.9 7.3l8.8 8.1l9-7.8l9.1-6.9l-8.8-6.4l-4.5-3z" fill="#a50026"/><path d="M832.7 556.1l-9.1 5.4l-9.1 5.7l8.8 6.9l8.9 8l9.1-7.2l9-6.6l-8.8-6.4l-4.4-3z" fill="#a50026"/><path d="M1332.8 558.5l-8.8 5.6l-8.7 5.7l9.1 3l9.2 3l8.8-5.8l8.7-5.9l-9.1-2.8l-4.6-1.4z" fill="#a50026"/><path d="M797 555.8l-9.1 5.1l-9.1 5.3l8.7 6.2l8.8 7.1l9.1-6.3l9.1-6l-8.7-6l-4.4-2.8z" fill="#a50026"/><path d="M761.3 555.7l-9.2 4.9l-9.1 4.9l8.7 5.5l8.8 6.1l9.1-5.5l9.2-5.4l-8.8-5.5l-4.4-2.5z" fill="#a50026"/><path d="M725.5 555.9l-9.1 4.6l-9.2 4.7l8.7 5l8.8 5.4l9.1-5.1l9.2-5l-8.8-5l-4.3-2.3z" fill="#a50026"/><path d="M689.8 555.8l-9.2 4.4l-9.2 4.4l8.7 4.9l8.7 5.1l9.2-4.7l9.2-4.7l-8.7-4.8l-4.3-2.3z" fill="#a50026"/><path d="M654.1 555.1l-9.2 4.1l-9.3 4l8.7 5.1l8.7 5.1l9.2-4.4l9.2-4.4l-8.7-4.8l-4.3-2.3z" fill="#a50026"/><path d="M1368.6 552.6l-8.7 5.8l-8.8 5.7l9.2 2.9l9.2 3l8.8-6l8.7-5.8l-9.2-2.8l-4.6-1.4z" fill="#a50026"/><path d="M1404.4 546.6l-8.7 5.8l-8.7 5.8l9.2 2.8l9.2 2.9l8.8-5.9l8.7-5.8l-9.3-2.8l-4.6-1.4z" fill="#a50026"/><path d="M1440.2 540.9l-8.6 5.6l-8.7 5.7l9.2 3l9.3 3l8.7-5.8l8.6-5.6l-9.2-3l-4.6-1.5z" fill="#a50026"/><path d="M868 924.8l-8.9 24.6l-4.5 10l-4.5 8.2l9 29.1l4.5 11.9l4.5 10l4.5-9l8.9-23.7l4.4-14.4l-4.4-9.2l-9-23.5z" fill="#fff8b5"/><path d="M1172.2 581.4l-8.9 4.3l-8.9 4.4l9.1 4.6l9 4.6l8.9-4.6l8.8-4.7l-9-4.3l-4.5-2.1z" fill="#a50026"/><path d="M1136.4 580.8l-8.9 4l-8.9 4.1l9.1 4.9l9 5l8.9-4.4l8.8-4.3l-9-4.7l-4.5-2.3z" fill="#a50026"/><path d="M1207.9 580.6l-8.8 4.7l-8.9 4.7l9.1 4.3l9.1 4.2l8.8-5l8.9-5.1l-9.1-3.9l-4.6-1.9z" fill="#a50026"/><path d="M1100.7 578.9l-8.9 3.9l-9 3.9l9 5.2l9 5.2l8.9-4.1l8.9-4.1l-8.9-5l-4.5-2.5z" fill="#a50026"/><path d="M1243.7 578.3l-8.8 5.1l-8.8 5l9 3.9l9.1 3.9l8.9-5.4l8.8-5.4l-9.1-3.5l-4.6-1.8z" fill="#a50026"/><path d="M1064.9 576.3l-8.9 3.9l-9 4.1l9 5.4l9 5.4l8.9-4.3l8.9-4.1l-8.9-5.2l-4.5-2.6z" fill="#a50026"/><path d="M886.1 569l-9.1 6.9l-9 7.8l8.9 9l8.8 10l9.1-10.2l9-8.9l-8.9-7.6l-4.4-3.5z" fill="#a50026"/><path d="M850.3 568.3l-9 6.6l-9.1 7.2l8.8 9.2l8.9 10.6l9-9.6l9.1-8.6l-8.8-8.1l-4.5-3.8z" fill="#a50026"/><path d="M921.9 569.4l-9.1 6.5l-9 7.7l8.9 8.1l8.9 8.5l9-9.7l9-8l-8.9-6.7l-4.4-3.3z" fill="#a50026"/><path d="M1279.5 574.6l-8.8 5.4l-8.8 5.4l9.1 3.6l9.1 3.5l8.8-5.7l8.8-5.7l-9.1-3.2l-4.6-1.7z" fill="#a50026"/><path d="M1029.2 573.6l-9 4.1l-9 4.7l9 5.6l8.9 5.6l9-4.9l8.9-4.4l-8.9-5.4l-4.5-2.7z" fill="#a50026"/><path d="M885.9 971.5l-8.9 27.1l-4.4 11l-4.5 9l4.4 7.9l4.5 5.8l4.4 3.5l4.4 1.4l4.5-9.4l8.9-24.3l4.5-14.7l-4.4-1.4l-4.5-3.3l-4.4-5.3z" fill="#f8fccb"/><path d="M957.6 569.9l-9 5.8l-9 6.8l8.9 6.9l8.9 7l9-8l9-6.7l-8.9-5.9l-4.4-3z" fill="#a50026"/><path d="M993.4 571.3l-9 4.8l-9 5.6l8.9 6.1l9 6.1l8.9-6.3l9-5.2l-8.9-5.6l-4.4-2.8z" fill="#a50026"/><path d="M814.5 567.2l-9.1 6l-9.1 6.3l8.9 8.4l8.8 9.8l9.1-8l9.1-7.6l-8.9-8l-4.4-3.5z" fill="#a50026"/><path d="M850.1 967.6l-4.5 6.5l-4.5 4.7l-4.6 2.8l-4.5 1l9 29.5l4.5 12.2l4.5 10.2l4.5-0.9l4.6-3l4.5-4.9l4.5-7.1l-4.5-10l-9-25.6z" fill="#fafdc9"/><path d="M778.8 566.2l-9.2 5.4l-9.1 5.5l8.8 7.1l8.8 8.3l9.1-6.5l9.1-6.5l-8.8-7.1l-4.4-3.2z" fill="#a50026"/><path d="M1315.3 569.8l-8.8 5.6l-8.8 5.7l9.2 3.3l9.1 3.2l8.8-5.9l8.8-5.9l-9.2-3l-4.5-1.5z" fill="#a50026"/><path d="M885.8 861.7l-8.9 33.3l-8.9 29.8l9 26.6l4.5 10.9l4.4 9.2l8.9-32.9l8.9-36.9l-9-17.4l-4.4-10.7z" fill="#fee090"/><path d="M743 565.5l-9.2 5l-9.1 5.1l8.7 6l8.8 6.8l9.1-5.7l9.2-5.6l-8.8-6.1l-4.4-2.8z" fill="#a50026"/><path d="M707.2 565.2l-9.2 4.7l-9.2 4.7l8.7 5.4l8.8 5.8l9.2-5.1l9.2-5.1l-8.8-5.4l-4.3-2.5z" fill="#a50026"/><path d="M671.4 564.6l-9.2 4.4l-9.2 4.4l8.7 5.3l8.7 5.5l9.2-4.8l9.2-4.8l-8.7-5.1l-4.3-2.4z" fill="#a50026"/><path d="M849.9 858.3l-9 20.8l-9 15.8l9.1 38.1l9.1 34.6l4.5-8.2l9-21.6l4.4-13l-9-31.7l-4.6-17.1z" fill="#fedc8c"/><path d="M1351.1 564.1l-8.7 5.9l-8.8 5.8l9.2 3.1l9.2 3.1l8.8-6.1l8.7-5.9l-9.2-3l-4.6-1.4z" fill="#a50026"/><path d="M868.1 1018.6l-4.5 7.1l-4.5 4.9l-4.6 3l-4.5 0.9l4.4 8.2l4.5 6.1l4.4 3.9l4.4 1.7l4.6-1.3l4.5-3.3l4.5-5.3l4.5-7.3l-4.4-1.4l-4.4-3.5l-4.5-5.8z" fill="#ecf8e2"/><path d="M635.6 563.2l-9.2 4.1l-9.3 4l8.7 5.5l8.7 5.5l9.2-4.4l9.3-4.5l-8.7-5.1l-4.3-2.6z" fill="#a50026"/><path d="M1387 558.2l-8.7 5.8l-8.8 6l9.2 2.9l9.2 3.1l8.8-6.1l8.7-6l-9.2-2.9l-4.6-1.4z" fill="#a50026"/><path d="M867.8 805.7l-9 27.7l-8.9 24.9l9.1 34.8l9 31.7l8.9-29.8l8.9-33.3l-9-26.7l-4.5-14.4z" fill="#fdbb6d"/><path d="M903.7 901.7l-8.9 36.9l-8.9 32.9l4.5 7.3l4.4 5.3l4.5 3.3l4.4 1.4l8.9-33.6l8.9-37.5l-4.5-1.6l-4.4-3.2l-4.5-4.8z" fill="#feeba1"/><path d="M868 583.7l-9.1 8.6l-9 9.6l8.9 12.1l8.9 13.6l9-13.1l9-11.8l-8.8-10l-4.5-4.6z" fill="#a50026"/><path d="M1422.9 552.2l-8.7 5.8l-8.8 5.9l9.3 3l9.2 3.1l8.7-5.9l8.8-5.9l-9.3-3l-4.6-1.5z" fill="#a50026"/><path d="M903.8 583.6l-9 8.9l-9.1 10.2l8.9 10.9l8.9 11.7l9.1-13.6l9-11.5l-8.9-8.5l-4.5-4.1z" fill="#a50026"/><path d="M831.9 894.9l-4.5 5.8l-4.5 4.3l-4.6 2.9l-4.6 1.4l9.2 38.4l9.1 34.9l4.5-1l4.6-2.8l4.5-4.7l4.5-6.5l-9.1-34.6l-4.5-18.7z" fill="#fee79b"/><path d="M832.2 582.1l-9.1 7.6l-9.1 8l8.9 11.8l8.9 13.8l9-11.1l9.1-10.3l-8.9-10.6l-4.4-4.8z" fill="#a50026"/><path d="M1154.4 590.1l-8.8 4.3l-8.9 4.4l9 4.9l9 4.9l8.9-4.6l8.9-4.7l-9-4.6l-4.5-2.3z" fill="#a50026"/><path d="M1190.2 590l-8.8 4.7l-8.9 4.6l9.1 4.6l9 4.6l8.9-5l8.9-5l-9.1-4.2l-4.5-2.2z" fill="#a50026"/><path d="M939.6 582.5l-9 8l-9 9.7l8.9 8.9l8.9 9l9-11.9l9-9.8l-8.9-7l-4.4-3.5z" fill="#a50026"/><path d="M1118.6 588.9l-8.9 4.1l-8.9 4.1l9 5.3l9 5.2l9-4.5l8.9-4.3l-9-5l-4.6-2.5z" fill="#a50026"/><path d="M1458.7 546.8l-8.6 5.6l-8.7 5.8l9.2 3.1l9.3 3.3l8.7-5.9l8.7-5.6l-9.3-3.2l-4.6-1.6z" fill="#a50026"/><path d="M1226.1 588.4l-8.9 5.1l-8.8 5l9.1 4.2l9.1 4.2l8.8-5.4l8.8-5.3l-9.1-3.9l-4.5-1.9z" fill="#a50026"/><path d="M1082.8 586.7l-8.9 4.1l-8.9 4.3l9 5.4l8.9 5.4l9-4.5l8.9-4.3l-9-5.2l-4.5-2.6z" fill="#a50026"/><path d="M796.3 579.5l-9.1 6.5l-9.1 6.5l8.8 10l8.9 12l9.1-8.4l9.1-8.4l-8.8-9.8l-4.5-4.4z" fill="#a50026"/><path d="M975.4 581.7l-9 6.7l-9 8l8.9 7.1l9 7l9-9.2l9-7.4l-9-6.1l-4.4-3z" fill="#a50026"/><path d="M1261.9 585.4l-8.8 5.4l-8.9 5.4l9.2 3.8l9.1 3.8l8.8-5.7l8.8-5.6l-9.1-3.5l-4.6-1.8z" fill="#a50026"/><path d="M1047 584.3l-8.9 4.4l-9 4.9l9 5.6l8.9 5.6l9-5.1l9-4.6l-9-5.4l-4.5-2.7z" fill="#a50026"/><path d="M1011.2 582.4l-9 5.2l-8.9 6.3l8.9 6l8.9 6l9-6.7l9-5.6l-8.9-5.6l-4.5-2.8z" fill="#a50026"/><path d="M760.5 577.1l-9.2 5.6l-9.1 5.7l8.8 7.9l8.8 9.5l9.2-6.6l9.1-6.7l-8.8-8.3l-4.4-3.7z" fill="#a50026"/><path d="M903.5 791.3l-8.9 35.2l-8.8 35.2l8.9 22.6l9 17.4l8.8-39l8.9-39.2l-8.9-14.2l-4.5-8.6z" fill="#fcaa5f"/><path d="M1297.7 581.1l-8.8 5.7l-8.8 5.7l9.2 3.5l9.1 3.5l8.8-6l8.8-5.9l-9.1-3.2l-4.6-1.7z" fill="#a50026"/><path d="M885.6 747.5l-8.9 29.1l-8.9 29.1l9 29.3l9 26.7l8.8-35.2l8.9-35.2l-8.9-21l-4.5-11.3z" fill="#f7844e"/><path d="M724.7 575.6l-9.2 5.1l-9.2 5.1l8.7 6.5l8.8 7.3l9.2-5.6l9.2-5.6l-8.8-6.8l-4.4-3.1z" fill="#a50026"/><path d="M849.7 745.2l-9 21.4l-9 19.5l9.1 35.9l9.1 36.3l8.9-24.9l9-27.7l-9.1-30.4l-4.5-15.2z" fill="#f7814c"/><path d="M885.7 602.7l-9 11.8l-9 13.1l8.9 15.2l9 16.3l8.9-18l9-15.8l-8.9-11.7l-4.4-5.5z" fill="#a50026"/><path d="M688.8 574.6l-9.2 4.8l-9.2 4.8l8.7 5.7l8.8 6.2l9.2-5.1l9.2-5.2l-8.8-5.8l-4.3-2.7z" fill="#a50026"/><path d="M1333.6 575.8l-8.8 5.9l-8.8 5.9l9.2 3.3l9.2 3.3l8.8-6.1l8.8-6.1l-9.2-3.1l-4.6-1.6z" fill="#a50026"/><path d="M849.9 601.9l-9.1 10.3l-9 11.1l8.9 16l9 18.4l9-15.5l9-14.6l-8.9-13.6l-4.5-6.3z" fill="#a50026"/><path d="M831.7 786.1l-9 16.6l-9.1 13l9.2 39.5l9.1 39.7l9-15.8l9-20.8l-9.1-36.3l-4.5-18.1z" fill="#fca55d"/><path d="M903.7 988.8l-8.9 27.7l-4.5 11.3l-4.5 9.4l4.4-0.8l4.4-2.9l4.4-4.8l4.4-6.6l4.5-9.2l8.9-23.4l4.5-14l-4.4 5.9l-4.4 4.2l-4.4 2.5z" fill="#fbfdc7"/><path d="M653 573.4l-9.3 4.5l-9.2 4.4l8.7 5.7l8.7 5.8l9.3-4.8l9.2-4.8l-8.7-5.5l-4.4-2.6z" fill="#a50026"/><path d="M617.1 571.3l-9.3 4l-9.2 4.1l8.6 5.8l8.7 6l9.3-4.5l9.3-4.4l-8.7-5.5l-4.3-2.8z" fill="#a50026"/><path d="M921.6 600.2l-9 11.5l-9.1 13.6l9 12.2l8.9 12.3l9-17.3l9-14.4l-8.9-9l-4.5-4.5z" fill="#a50026"/><path d="M867.6 700.5l-9 22.3l-8.9 22.4l9 30.1l9.1 30.4l8.9-29.1l8.9-29.1l-9-23.7l-4.5-11.7z" fill="#ea5739"/><path d="M832 982.6l-4.6-0.6l-4.6-2.3l-4.7-3.7l-4.6-5l9 27.9l9 21.7l4.7 5.8l4.6 4.4l4.6 2.8l4.6 0.9l-4.5-10.2l-9-26.1z" fill="#fdfec2"/><path d="M1369.5 570l-8.7 5.9l-8.8 6.1l9.2 3.1l9.2 3.2l8.8-6.2l8.7-6.1l-9.2-3.1l-4.6-1.5z" fill="#a50026"/><path d="M814 597.7l-9.1 8.4l-9.1 8.4l8.9 14.5l9 17.3l9-11.6l9.1-11.4l-8.9-13.8l-4.5-6.1z" fill="#a50026"/><path d="M867.7 627.6l-9 14.6l-9 15.5l8.9 20.5l9 22.3l9-21.5l9-19.9l-9-16.3l-4.4-7.8z" fill="#bb1526"/><path d="M885.8 1037.2l-4.5 7.3l-4.5 5.3l-4.5 3.3l-4.6 1.3l4.4-0.4l4.4-2.5l4.4-4.4l4.4-6.1l4.5-2l4.5-3.8l4.6-5.6l4.5-7.5l-4.4 6.6l-4.4 4.8l-4.4 2.9z" fill="#eff9dd"/><path d="M921.4 823.5l-8.9 39.2l-8.8 39l4.4 6.4l4.5 4.8l4.4 3.2l4.5 1.6l8.8-39.6l8.9-39.7l-4.4-2l-4.5-3.1l-4.4-4.3z" fill="#fdbb6d"/><path d="M850 1034.5l-4.6-0.9l-4.6-2.8l-4.6-4.4l-4.7-5.8l4.5 8.2l4.5 6.3l4.4 4.3l4.4 2.4l4.6 5.5l4.6 4l4.6 2.4l4.6 0.7l-4.4-1.7l-4.4-3.9l-4.5-6.1z" fill="#eff9dd"/><path d="M1405.4 563.9l-8.7 6l-8.8 6.1l9.3 3.1l9.2 3.1l8.8-6.1l8.7-6.1l-9.2-3.1l-4.7-1.5z" fill="#a50026"/><path d="M885.6 659.1l-9 19.9l-9 21.5l9 23.3l9 23.7l8.9-28.1l8.9-25.9l-8.9-17.3l-4.5-8.6z" fill="#d42d27"/><path d="M957.4 596.4l-9 9.8l-9 11.9l8.9 9l8.9 8.6l9-13.9l9.1-11.3l-9-7l-4.4-3.5z" fill="#a50026"/><path d="M903.5 625.3l-9 15.8l-8.9 18l8.9 17.1l8.9 17.3l9-23.3l9-20.4l-8.9-12.3l-4.5-6.2z" fill="#b71126"/><path d="M849.7 657.7l-9.1 16.2l-9 16.3l9 26.3l9.1 28.7l8.9-22.4l9-22.3l-9-22.3l-4.5-10.5z" fill="#d22b27"/><path d="M903.4 693.5l-8.9 25.9l-8.9 28.1l9 22.8l8.9 21l8.9-33.9l8.9-31.4l-8.9-15.7l-4.5-8.3z" fill="#e44c34"/><path d="M831.8 623.3l-9.1 11.4l-9 11.6l8.9 20.4l9 23.5l9-16.3l9.1-16.2l-9-18.4l-4.5-8.3z" fill="#b50f26"/><path d="M778.1 592.5l-9.1 6.7l-9.2 6.6l8.9 11.4l8.9 13.9l9.1-8.1l9.1-8.5l-8.9-12l-4.4-5.2z" fill="#a50026"/><path d="M1441.4 558.2l-8.8 5.9l-8.7 5.9l9.3 3.2l9.3 3.3l8.7-6l8.7-5.9l-9.3-3.3l-4.6-1.6z" fill="#a50026"/><path d="M921.5 917.7l-8.9 37.5l-8.9 33.6l4.4-0.7l4.4-2.5l4.4-4.2l4.4-5.9l8.9-31.6l9-35.1l-4.5 4.3l-4.4 3l-4.4 1.5z" fill="#fee99d"/><path d="M1172.5 599.3l-8.9 4.7l-8.9 4.6l9.1 4.9l9.1 4.8l8.9-4.9l8.8-4.9l-9-4.6l-4.6-2.3z" fill="#a50026"/><path d="M813.6 815.7l-4.5 5.1l-4.6 4l-4.5 3l-4.6 2l9.2 39.6l9.1 39.9l4.6-1.4l4.6-2.9l4.5-4.3l4.5-5.8l-9.1-39.7l-4.6-19.9z" fill="#fdb567"/><path d="M993.3 593.9l-9 7.4l-9 9.2l8.9 6.8l8.9 6.5l9-9.9l9-8l-8.9-6l-4.5-3z" fill="#a50026"/><path d="M1136.7 598.8l-8.9 4.3l-9 4.5l9.1 5.2l9 5.1l8.9-4.6l8.9-4.7l-9-4.9l-4.5-2.5z" fill="#a50026"/><path d="M831.6 690.2l-9 15.7l-9.1 14.6l9.1 31.3l9.1 34.3l9-19.5l9-21.4l-9.1-28.7l-4.5-13.5z" fill="#e34933"/><path d="M1208.4 598.5l-8.9 5l-8.9 5l9.1 4.5l9.1 4.4l8.9-5.2l8.9-5.3l-9.1-4.2l-4.6-2.1z" fill="#a50026"/><path d="M1100.8 597.1l-8.9 4.3l-9 4.5l9.1 5.4l9 5.4l8.9-4.6l8.9-4.5l-9-5.2l-4.5-2.7z" fill="#a50026"/><path d="M1244.2 596.2l-8.8 5.3l-8.8 5.4l9.1 4.1l9.1 4.1l8.8-5.7l8.9-5.6l-9.1-3.8l-4.6-1.9z" fill="#a50026"/><path d="M1065 595.1l-9 4.6l-9 5.1l9 5.5l9 5.6l9-5.2l8.9-4.8l-8.9-5.4l-4.5-2.7z" fill="#a50026"/><path d="M1029.1 593.6l-9 5.6l-9 6.7l9 5.8l9 5.7l9-6.8l8.9-5.8l-8.9-5.6l-4.5-2.8z" fill="#a50026"/><path d="M1477.3 553.1l-8.7 5.6l-8.7 5.9l9.3 3.3l9.3 3.4l8.7-5.8l8.7-5.7l-9.3-3.4l-4.7-1.7z" fill="#a50026"/><path d="M921.3 726l-8.9 31.4l-8.9 33.9l9 18l8.9 14.2l8.9-37.6l8.9-34.8l-8.9-11.3l-4.5-6.7z" fill="#f16640"/><path d="M813.7 909.3l-4.6 0.1l-4.6-1.1l-4.6-2.4l-4.6-3.3l9.1 35.8l9.1 32.6l4.6 5l4.7 3.7l4.6 2.3l4.6 0.6l-9.1-34.9l-4.6-18.8z" fill="#fee597"/><path d="M742.2 588.4l-9.2 5.6l-9.2 5.6l8.8 8.6l8.9 10.3l9.2-6.3l9.1-6.4l-8.8-9.5l-4.4-4.1z" fill="#a50026"/><path d="M1280.1 592.5l-8.8 5.6l-8.8 5.7l9.1 3.8l9.2 3.7l8.8-5.9l8.8-5.9l-9.1-3.5l-4.6-1.8z" fill="#a50026"/><path d="M939.4 618.1l-9 14.4l-9 17.3l8.9 12.2l9 11.5l8.9-20.6l9-17.2l-8.9-8.6l-4.5-4.5z" fill="#ad0826"/><path d="M921.4 649.8l-9 20.4l-9 23.3l9 16.8l8.9 15.7l9-28.1l9-24.4l-9-11.5l-4.4-6z" fill="#c82227"/><path d="M706.3 585.8l-9.2 5.2l-9.2 5.1l8.7 6.9l8.8 7.7l9.2-5.5l9.2-5.6l-8.8-7.3l-4.3-3.3z" fill="#a50026"/><path d="M795.8 614.5l-9.1 8.5l-9.1 8.1l8.9 17l9 20.4l9.1-10.8l9.1-11.4l-9-17.3l-4.4-7.5z" fill="#a90426"/><path d="M1316 587.6l-8.8 5.9l-8.8 6l9.2 3.5l9.2 3.5l8.8-6.2l8.8-6.1l-9.2-3.3l-4.6-1.7z" fill="#a50026"/><path d="M813.5 720.5l-9 12.8l-9.1 10.6l9.1 34.3l9.1 37.5l9.1-13l9-16.6l-9.1-34.3l-4.5-16z" fill="#ee613e"/><path d="M813.7 646.3l-9.1 11.4l-9.1 10.8l9 24.1l9 27.9l9.1-14.6l9-15.7l-9-23.5l-4.5-10.6z" fill="#c41e27"/><path d="M670.4 584.2l-9.2 4.8l-9.3 4.8l8.7 6.1l8.8 6.6l9.2-5.2l9.3-5.2l-8.8-6.2l-4.3-2.9z" fill="#a50026"/><path d="M634.5 582.3l-9.3 4.4l-9.3 4.5l8.7 6l8.8 6.3l9.2-4.9l9.3-4.8l-8.7-5.8l-4.4-2.9z" fill="#a50026"/><path d="M1352 582l-8.8 6.1l-8.8 6.1l9.2 3.3l9.2 3.3l8.8-6.3l8.8-6.2l-9.2-3.2l-4.6-1.6z" fill="#a50026"/><path d="M598.6 579.4l-9.3 4l-9.4 4l8.7 6.2l8.7 6.4l9.3-4.4l9.3-4.4l-8.7-6l-4.3-2.9z" fill="#a50026"/><path d="M975.3 610.5l-9.1 11.3l-9 13.9l9 8.2l8.9 7.5l9-15.3l9-12.3l-8.9-6.5l-4.5-3.4z" fill="#a50026"/><path d="M1387.9 576l-8.7 6.1l-8.8 6.2l9.2 3.2l9.3 3.3l8.8-6.3l8.7-6.3l-9.2-3.1l-4.6-1.6z" fill="#a50026"/><path d="M939.3 673.5l-9 24.4l-9 28.1l9 13.8l8.9 11.3l9-31.1l8.9-27l-8.9-9l-4.5-5.1z" fill="#d83128"/><path d="M759.8 605.8l-9.1 6.4l-9.2 6.3l8.9 12.4l8.9 15.2l9.1-7.2l9.2-7.8l-8.9-13.9l-4.5-6z" fill="#a50026"/><path d="M939.2 751.1l-8.9 34.8l-8.9 37.6l4.5 5.5l4.4 4.3l4.5 3.1l4.4 2l8.9-38.2l9-35.3l-8.9-5.3l-4.5-3.9z" fill="#f57547"/><path d="M1423.9 570l-8.7 6.1l-8.8 6.1l9.3 3.3l9.3 3.3l8.7-6.2l8.8-6.1l-9.3-3.3l-4.6-1.6z" fill="#a50026"/><path d="M939.2 838.4l-8.9 39.7l-8.8 39.6l4.4-0.1l4.4-1.5l4.4-3l4.5-4.3l8.9-36.8l8.9-36.9l-4.4 2.3l-4.5 1.4l-4.4 0.3z" fill="#fdb96b"/><path d="M957.2 635.7l-9 17.2l-8.9 20.6l8.9 10.5l8.9 9l9-22.8l9-18.8l-8.9-7.5l-4.5-4z" fill="#b71126"/><path d="M1011.1 605.9l-9 8l-9 9.9l9 6.2l9 5.8l9-10.1l9-8.3l-9-5.7l-4.5-2.9z" fill="#a50026"/><path d="M795.5 668.5l-9.1 9.8l-9.2 8.6l9.1 26.4l9.1 30.6l9.1-10.6l9-12.8l-9-27.9l-4.5-12.6z" fill="#d22b27"/><path d="M867.7 1054.4l-4.6-0.7l-4.6-2.4l-4.6-4l-4.6-5.5l4.4 0.6l4.4-1.3l4.4-2.9l4.4-4.6l4.6 3.9l4.6 2.7l4.6 1.2l4.6-0.4l-4.4 6.1l-4.4 4.4l-4.4 2.5z" fill="#f0f9db"/><path d="M1154.7 608.6l-8.9 4.7l-8.9 4.6l9.1 5.2l9 5.1l9-4.9l8.9-5l-9.1-4.8l-4.5-2.4z" fill="#a50026"/><path d="M1190.6 608.5l-8.8 4.9l-8.9 4.9l9 4.8l9.1 4.8l8.9-5.2l8.9-5.3l-9.1-4.4l-4.5-2.3z" fill="#a50026"/><path d="M1118.8 607.6l-8.9 4.5l-8.9 4.6l9 5.4l9 5.4l9-4.8l8.9-4.8l-9-5.1l-4.5-2.6z" fill="#a50026"/><path d="M795.4 743.9l-9.2 8.1l-9.1 5.5l9.1 34.6l9.2 37.7l4.6-2l4.5-3l4.6-4l4.5-5.1l-9.1-37.5l-4.6-17.6z" fill="#f46d43"/><path d="M1047 604.8l-8.9 5.8l-9 6.8l8.9 5.6l9 5.5l9-6.8l9-5.8l-9-5.6l-4.5-2.7z" fill="#a50026"/><path d="M1459.9 564.6l-8.7 5.9l-8.7 6l9.3 3.4l9.3 3.4l8.7-6l8.7-6l-9.3-3.4l-4.6-1.7z" fill="#a50026"/><path d="M1226.6 606.9l-8.9 5.3l-8.9 5.2l9.1 4.4l9.1 4.4l8.9-5.5l8.9-5.6l-9.1-4.1l-4.6-2.1z" fill="#a50026"/><path d="M1082.9 605.9l-8.9 4.8l-9 5.2l9 5.5l9 5.5l9-5.3l9-4.9l-9-5.4l-4.6-2.7z" fill="#a50026"/><path d="M777.6 631.1l-9.2 7.8l-9.1 7.2l8.9 18.5l9 22.3l9.2-8.6l9.1-9.8l-9-20.4l-4.5-8.9z" fill="#b30d26"/><path d="M723.8 599.6l-9.2 5.6l-9.2 5.5l8.8 8.9l8.9 10.7l9.2-5.8l9.2-6l-8.9-10.3l-4.4-4.5z" fill="#a50026"/><path d="M1262.5 603.8l-8.9 5.6l-8.8 5.7l9.1 4l9.2 4l8.8-5.9l8.9-5.9l-9.2-3.7l-4.5-1.9z" fill="#a50026"/><path d="M795.4 829.8l-4.6 1l-4.6 0.1l-9.3-2.1l9.2 36.7l9.2 37.1l4.6 3.3l4.6 2.4l4.6 1.1l4.6-0.1l-9.1-39.9l-4.6-20z" fill="#fdb366"/><path d="M1495.9 559.8l-8.7 5.7l-8.7 5.8l9.3 3.6l9.4 3.7l8.7-5.8l8.6-5.8l-9.3-3.6l-4.6-1.8z" fill="#a50026"/><path d="M1298.4 599.5l-8.8 5.9l-8.8 5.9l9.1 3.8l9.2 3.7l8.9-6.2l8.8-6.1l-9.2-3.5l-4.6-1.8z" fill="#a50026"/><path d="M687.9 596.1l-9.3 5.2l-9.2 5.2l8.8 7.1l8.8 7.9l9.2-5.4l9.2-5.4l-8.8-7.7l-4.4-3.5z" fill="#a50026"/><path d="M651.9 593.8l-9.3 4.8l-9.2 4.9l8.7 6.5l8.8 6.8l9.2-5.2l9.3-5.1l-8.8-6.6l-4.3-3.1z" fill="#a50026"/><path d="M1334.4 594.2l-8.8 6.1l-8.8 6.2l9.2 3.4l9.2 3.5l8.8-6.3l8.8-6.3l-9.2-3.3l-4.6-1.7z" fill="#a50026"/><path d="M615.9 591.2l-9.3 4.4l-9.3 4.4l8.8 6.5l8.7 6.7l9.3-4.9l9.3-4.8l-8.8-6.3l-4.3-3z" fill="#a50026"/><path d="M957.1 693l-8.9 27l-9 31.1l9 8.5l8.9 5.3l8.9-31.5l9-27.3l-8.9-5.7l-4.5-3.5z" fill="#dc3b2c"/><path d="M993.1 623.8l-9 12.3l-9 15.3l9 6.7l8.9 5.8l9-15.6l9.1-12.5l-9-5.8l-4.5-3z" fill="#a70226"/><path d="M813.5 971l-9.3-13l-9.4-15.7l9 25.1l9 20.2l9.4 18l9.3 15l-9-21.7l-4.5-13.2z" fill="#fff2ac"/><path d="M921.3 975.5l-8.9 26.5l-4.5 10.9l-4.5 9.2l8.7-17.6l8.8-22.1l9-18.8l9-23.7l-8.8 19.8l-4.4 8.5z" fill="#fff1aa"/><path d="M579.9 587.4l-9.3 3.9l-9.3 4l8.7 6.7l8.7 6.8l9.3-4.4l9.3-4.4l-8.7-6.4l-4.3-3.1z" fill="#a50026"/><path d="M1370.4 588.3l-8.8 6.2l-8.8 6.3l9.3 3.3l9.2 3.4l8.8-6.4l8.8-6.3l-9.3-3.3l-4.6-1.6z" fill="#a50026"/><path d="M741.5 618.5l-9.2 6l-9.2 5.8l8.9 12.8l8.9 15.5l9.2-5.9l9.2-6.6l-8.9-15.2l-4.5-6.5z" fill="#a50026"/><path d="M777.2 686.9l-9.1 7.3l-9.2 5.8l9.1 26.7l9.1 30.8l9.1-5.5l9.2-8.1l-9.1-30.6l-4.5-13.7z" fill="#d93429"/><path d="M975.1 651.4l-9 18.8l-9 22.8l9 7.4l8.9 5.7l9-23.1l9-19.1l-8.9-5.8l-4.5-3.2z" fill="#bd1726"/><path d="M1406.4 582.2l-8.7 6.3l-8.8 6.3l9.3 3.3l9.2 3.4l8.8-6.4l8.8-6.3l-9.3-3.3l-4.6-1.6z" fill="#a50026"/><path d="M831.5 1020.6l-9.3-15l-9.4-18l4.5 8l4.5 6.5l4.4 5l4.5 3.4l9.3 17.1l9.3 14.2l-4.4-2.4l-4.4-4.3l-4.5-6.3z" fill="#feffc0"/><path d="M1029.1 617.4l-9 8.3l-9 10.1l8.9 5.4l9 5.1l9-9.8l9-8l-9-5.5l-4.4-2.7z" fill="#a50026"/><path d="M957.1 764.9l-9 35.3l-8.9 38.2l4.5 0.7l4.4-0.3l4.5-1.4l4.4-2.3l9-35.4l9-32.7l-9 0.3l-4.5-0.8z" fill="#f57547"/><path d="M903.4 1022.1l-4.5 7.5l-4.6 5.6l-4.5 3.8l-4.5 2l8.7-16.7l8.7-21.1l4.6-3.1l4.5-4.5l4.6-5.9l4.5-7.3l-8.8 22.1l-4.3 9.5z" fill="#fffebe"/><path d="M759.3 646.1l-9.2 6.6l-9.2 5.9l9 18.8l9 22.6l9.2-5.8l9.1-7.3l-9-22.3l-4.5-9.7z" fill="#b91326"/><path d="M939.2 908.8l-9 35.1l-8.9 31.6l8.8-15.8l8.8-19.8l9-27.7l9-30.4l-8.9 15.1l-4.4 6.5z" fill="#fed687"/><path d="M1442.5 576.5l-8.8 6.1l-8.7 6.2l9.3 3.4l9.3 3.5l8.7-6.2l8.8-6.2l-9.3-3.4l-4.7-1.7z" fill="#a50026"/><path d="M1172.9 618.3l-8.9 5l-9 4.9l9.1 5.1l9.1 5l8.9-5.2l8.9-5.2l-9.1-4.8l-4.5-2.4z" fill="#a50026"/><path d="M1136.9 617.9l-8.9 4.8l-9 4.8l9.1 5.3l9.1 5.4l8.9-5.1l8.9-4.9l-9-5.1l-4.6-2.6z" fill="#a50026"/><path d="M1065 615.9l-9 5.8l-9 6.8l9 5.3l9.1 5.3l9-6.5l8.9-5.7l-9-5.5l-4.5-2.8z" fill="#a50026"/><path d="M795.3 902.6l-9.4-9.1l-9.4-11.2l9.2 31.2l9.1 28.8l9.4 15.7l9.3 13l-9.1-32.6l-4.6-17.7z" fill="#fed485"/><path d="M1208.8 617.4l-8.9 5.3l-8.9 5.2l9.1 4.7l9.2 4.6l8.9-5.4l8.8-5.6l-9.1-4.4l-4.5-2.2z" fill="#a50026"/><path d="M1101 616.7l-9 4.9l-9 5.3l9.1 5.4l9 5.4l9-5.2l8.9-5l-9-5.4l-4.5-2.7z" fill="#a50026"/><path d="M705.4 610.7l-9.2 5.4l-9.2 5.4l8.8 9.1l8.8 10.6l9.3-5.4l9.2-5.5l-8.9-10.7l-4.4-4.6z" fill="#a50026"/><path d="M1244.8 615.1l-8.9 5.6l-8.9 5.5l9.2 4.3l9.1 4.3l8.9-5.8l8.9-5.9l-9.2-4l-4.5-2z" fill="#a50026"/><path d="M777.1 757.5l-9.2 3.1l-9.3 1.2l9.1 32.1l9.2 34.9l9.3 2.1l4.6-0.1l4.6-1l-9.2-37.7l-4.6-17.8z" fill="#f46d43"/><path d="M1478.5 571.3l-8.7 6l-8.7 6l9.3 3.6l9.3 3.7l8.7-6.1l8.8-5.9l-9.4-3.7l-4.6-1.8z" fill="#a50026"/><path d="M1280.8 611.3l-8.9 5.9l-8.8 5.9l9.1 4l9.2 3.9l8.9-6.1l8.8-6.1l-9.2-3.7l-4.5-1.9z" fill="#a50026"/><path d="M1514.5 567l-8.6 5.8l-8.7 5.8l9.3 3.8l9.3 3.9l8.8-5.9l8.6-5.7l-9.3-3.9l-4.7-1.9z" fill="#a50026"/><path d="M669.4 606.5l-9.3 5.1l-9.2 5.2l8.7 7.4l8.8 8.1l9.3-5.4l9.3-5.4l-8.8-7.9l-4.4-3.7z" fill="#a50026"/><path d="M1316.8 606.5l-8.8 6.1l-8.9 6.2l9.2 3.7l9.2 3.6l8.9-6.3l8.8-6.4l-9.2-3.5l-4.6-1.7z" fill="#a50026"/><path d="M633.4 603.5l-9.3 4.8l-9.3 4.9l8.7 6.9l8.8 7.2l9.3-5.3l9.3-5.2l-8.8-6.8l-4.4-3.3z" fill="#a50026"/><path d="M1011.1 635.8l-9.1 12.5l-9 15.6l9 4.9l9 4.1l9-14.7l9-11.9l-9-5.1l-4.5-2.6z" fill="#ab0626"/><path d="M597.3 600l-9.3 4.4l-9.3 4.4l8.7 6.9l8.8 7.1l9.3-4.8l9.3-4.8l-8.7-6.7l-4.4-3.3z" fill="#a50026"/><path d="M1352.8 600.8l-8.8 6.3l-8.8 6.3l9.2 3.5l9.3 3.5l8.8-6.4l8.8-6.5l-9.2-3.4l-4.7-1.6z" fill="#a50026"/><path d="M975 706.1l-9 27.3l-8.9 31.5l8.9 2.4l9-0.3l8.9-29.2l9-25.5l-8.9-2.3l-4.5-1.8z" fill="#dd3d2d"/><path d="M723.1 630.3l-9.2 5.5l-9.3 5.4l8.9 12.5l8.9 15l9.3-4.8l9.2-5.3l-8.9-15.5l-4.5-6.7z" fill="#a70226"/><path d="M561.3 595.3l-9.4 3.9l-9.4 3.9l8.7 7.1l8.8 7.3l9.3-4.3l9.4-4.4l-8.7-6.8l-4.4-3.4z" fill="#a50026"/><path d="M957 835.1l-8.9 36.9l-8.9 36.8l8.8-11.9l8.9-15.1l9-31.7l8.9-31.5l-8.9 9.5l-4.4 3.9z" fill="#fca55d"/><path d="M1388.9 594.8l-8.8 6.3l-8.8 6.4l9.3 3.5l9.2 3.4l8.8-6.5l8.8-6.4l-9.2-3.4l-4.7-1.7z" fill="#a50026"/><path d="M758.9 700l-9.2 4.6l-9.3 3.4l9.1 25l9.1 28.8l9.3-1.2l9.2-3.1l-9.1-30.8l-4.6-13.9z" fill="#da362a"/><path d="M993 663.9l-9 19.1l-9 23.1l9 3.9l8.9 2.3l9.1-21.5l9-17.9l-9-4.1l-4.5-2.4z" fill="#c01a27"/><path d="M776.9 828.8l-9.3-4.5l-9.3-5.9l9.1 31.8l9.1 32.1l9.4 11.2l9.4 9.1l-9.2-37.1l-4.6-18.4z" fill="#fba35c"/><path d="M1047 628.5l-9 8l-9 9.8l9 4.8l9 4.5l9.1-8.9l9-7.6l-9.1-5.3l-4.5-2.6z" fill="#a50026"/><path d="M849.3 1041.8l-9.3-14.2l-9.3-17.1l4.4 2l4.4 0.4l4.4-0.8l4.4-2.1l9.3 13l9.3 10.6l-4.4 4.6l-4.4 2.9l-4.4 1.3z" fill="#feffc0"/><path d="M1425 588.8l-8.8 6.3l-8.8 6.4l9.3 3.4l9.3 3.5l8.8-6.4l8.8-6.3l-9.3-3.5l-4.7-1.7z" fill="#a50026"/><path d="M740.9 658.6l-9.2 5.3l-9.3 4.8l9 18l9 21.3l9.3-3.4l9.2-4.6l-9-22.6l-4.5-9.8z" fill="#bd1726"/><path d="M1155 628.2l-8.9 4.9l-8.9 5.1l9 5.2l9.1 5.3l9-5.2l8.9-5.2l-9.1-5l-4.5-2.6z" fill="#a50026"/><path d="M1083 626.9l-8.9 5.7l-9 6.5l9 5.2l9 5.2l9-6.1l9-5.7l-9-5.4l-4.5-2.7z" fill="#a50026"/><path d="M1119 627.5l-8.9 5l-9 5.2l9.1 5.4l9 5.4l9-5.2l9-5.1l-9.1-5.4l-4.5-2.6z" fill="#a50026"/><path d="M885.3 1041l-4.6 0.4l-4.6-1.2l-4.6-2.7l-4.6-3.9l8.7-13l8.8-17l4.6 1.4l4.6 0.6l4.6-0.6l4.5-1.8l-8.7 21.1l-4.4 9z" fill="#fffebe"/><path d="M1191 627.9l-8.9 5.2l-8.9 5.2l9.1 4.9l9.1 4.9l9-5.4l8.9-5.5l-9.2-4.6l-4.5-2.3z" fill="#a50026"/><path d="M687 621.5l-9.3 5.4l-9.3 5.4l8.9 9l8.8 10.3l9.3-5.2l9.2-5.2l-8.8-10.6l-4.4-4.7z" fill="#a50026"/><path d="M1227 626.2l-8.8 5.6l-8.9 5.4l9.1 4.6l9.1 4.5l8.9-5.7l8.9-5.8l-9.1-4.3l-4.6-2.1z" fill="#a50026"/><path d="M1461.1 583.3l-8.8 6.2l-8.7 6.2l9.3 3.6l9.3 3.6l8.8-6.2l8.7-6.1l-9.3-3.7l-4.7-1.8z" fill="#a50026"/><path d="M1263.1 623.1l-8.9 5.9l-8.9 5.8l9.2 4.2l9.2 4.2l8.9-6.1l8.8-6.1l-9.2-3.9l-4.5-2z" fill="#a50026"/><path d="M1497.2 578.6l-8.8 5.9l-8.7 6.1l9.3 3.7l9.4 3.9l8.7-6l8.7-5.9l-9.3-3.9l-4.7-1.9z" fill="#a50026"/><path d="M650.9 616.8l-9.3 5.2l-9.3 5.3l8.8 7.6l8.8 8.2l9.3-5.4l9.2-5.4l-8.8-8.1l-4.3-3.8z" fill="#a50026"/><path d="M1299.1 618.8l-8.8 6.1l-8.9 6.1l9.2 3.9l9.2 3.9l8.9-6.3l8.8-6.4l-9.2-3.6l-4.6-1.9z" fill="#a50026"/><path d="M1533.2 574.7l-8.6 5.7l-8.8 5.9l9.4 3.9l9.4 4.1l8.7-5.8l8.7-5.6l-9.4-4.1l-4.7-2.1z" fill="#a50026"/><path d="M614.8 613.2l-9.3 4.8l-9.3 4.8l8.7 7.4l8.8 7.6l9.3-5.3l9.3-5.2l-8.8-7.2l-4.3-3.5z" fill="#a50026"/><path d="M975 767l-9 32.7l-9 35.4l8.9-7l8.9-9.5l9-30.2l9.1-27.9l-9 4l-4.5 1.5z" fill="#f26841"/><path d="M1335.2 613.4l-8.8 6.4l-8.9 6.3l9.3 3.7l9.2 3.6l8.8-6.5l8.9-6.5l-9.3-3.5l-4.6-1.7z" fill="#a50026"/><path d="M758.6 761.8l-9.3-0.4l-9.3-1.3l9.1 28l9.2 30.3l9.3 5.9l9.3 4.5l-9.2-34.9l-4.5-16.5z" fill="#ef633f"/><path d="M1029 646.3l-9 11.9l-9 14.7l9 3.4l9 3l9-12.9l9-10.8l-9-4.5l-4.5-2.4z" fill="#ab0626"/><path d="M578.7 608.8l-9.4 4.4l-9.3 4.3l8.7 7.4l8.8 7.5l9.3-4.7l9.4-4.9l-8.8-7.1l-4.4-3.5z" fill="#a50026"/><path d="M1371.3 607.5l-8.8 6.5l-8.8 6.4l9.2 3.6l9.3 3.5l8.8-6.6l8.8-6.5l-9.2-3.4l-4.7-1.8z" fill="#a50026"/><path d="M704.6 641.2l-9.2 5.2l-9.3 5.2l8.9 11.9l8.9 13.9l9.3-4.2l9.2-4.5l-8.9-15l-4.4-6.5z" fill="#a90426"/><path d="M542.5 603.1l-9.4 3.9l-9.4 3.8l8.8 7.5l8.7 7.7l9.4-4.3l9.4-4.2l-8.8-7.3l-4.3-3.5z" fill="#a50026"/><path d="M1407.4 601.5l-8.8 6.4l-8.8 6.5l9.3 3.5l9.3 3.5l8.8-6.5l8.8-6.5l-9.3-3.5l-4.6-1.7z" fill="#a50026"/><path d="M992.9 712.3l-9 25.5l-8.9 29.2l8.9-2.5l9-4l9-25l9-21.9l-9-0.2l-4.5-0.4z" fill="#da362a"/><path d="M1065.1 639.1l-9 7.6l-9.1 8.9l9.1 4.5l9 4.4l9-8l9-7l-9-5.2l-4.5-2.6z" fill="#a50026"/><path d="M1011 672.9l-9 17.9l-9.1 21.5l9 1.1l9 0.2l9.1-18.6l9-15.7l-9-3l-4.5-1.6z" fill="#be1827"/><path d="M740.4 708l-9.2 2.7l-9.3 2.2l9 22.1l9.1 25.1l9.3 1.3l9.3 0.4l-9.1-28.8l-4.5-12.9z" fill="#d93429"/><path d="M794.8 942.3l-9.5-16.5l-9.4-15.8l9 22.1l9 18.6l9.5 18.1l9.4 18.8l-9-20.2l-4.5-12z" fill="#fedc8c"/><path d="M1101.1 637.7l-9 5.7l-9 6.1l9.1 5.2l9.1 5.2l9-5.8l8.9-5.6l-9-5.4l-4.6-2.7z" fill="#a50026"/><path d="M722.4 668.7l-9.2 4.5l-9.3 4.2l9 16.4l9 19.1l9.3-2.2l9.2-2.7l-9-21.3l-4.5-9.4z" fill="#bd1726"/><path d="M1137.2 638.2l-9 5.1l-9 5.2l9.1 5.4l9.1 5.3l9-5.3l8.9-5.2l-9.1-5.3l-4.5-2.6z" fill="#a50026"/><path d="M1173.2 638.3l-8.9 5.2l-9 5.2l9.1 5.1l9.2 5.1l8.9-5.4l8.9-5.4l-9.1-4.9l-4.5-2.4z" fill="#a50026"/><path d="M1443.6 595.7l-8.8 6.3l-8.8 6.4l9.3 3.6l9.4 3.6l8.7-6.4l8.8-6.3l-9.3-3.6l-4.7-1.8z" fill="#a50026"/><path d="M1209.3 637.2l-8.9 5.5l-9 5.4l9.2 4.9l9.1 4.7l8.9-5.7l8.9-5.7l-9.1-4.5l-4.6-2.3z" fill="#a50026"/><path d="M668.4 632.3l-9.2 5.4l-9.3 5.4l8.8 9l8.9 9.9l9.2-5.2l9.3-5.2l-8.8-10.3l-4.4-4.7z" fill="#a50026"/><path d="M1245.3 634.8l-8.9 5.8l-8.9 5.7l9.2 4.5l9.2 4.3l8.9-5.9l8.9-6l-9.2-4.2l-4.6-2.1z" fill="#a50026"/><path d="M1479.7 590.6l-8.7 6.1l-8.8 6.2l9.3 3.8l9.4 3.8l8.8-6.2l8.7-6.1l-9.4-3.9l-4.6-1.9z" fill="#a50026"/><path d="M776.5 882.3l-9.4-11.9l-9.4-11.2l9.1 26.2l9.1 24.6l9.4 15.8l9.5 16.5l-9.1-28.8l-4.6-15.4z" fill="#fdb96b"/><path d="M1281.4 631l-8.8 6.1l-8.9 6.1l9.2 4.1l9.2 4l8.9-6.2l8.8-6.3l-9.2-3.9l-4.6-1.9z" fill="#a50026"/><path d="M632.3 627.3l-9.3 5.2l-9.3 5.3l8.8 8l8.8 8.4l9.3-5.6l9.3-5.5l-8.8-8.2l-4.4-3.9z" fill="#a50026"/><path d="M812.8 987.6l-9.4-18.8l-9.5-18.1l9 14.7l4.5 5.7l4.4 4.6l9.5 16.9l9.4 17.9l-4.5-3.4l-4.4-5l-4.5-6.5z" fill="#feea9f"/><path d="M938.9 939.9l-9 23.7l-9 18.8l8.8-24.7l8.8-25.2l9.1-17l9-20.4l-8.9 22.6l-4.4 11.3z" fill="#fed485"/><path d="M1515.8 586.3l-8.7 5.9l-8.7 6l9.4 3.9l9.3 4.1l8.8-6l8.7-5.9l-9.4-4.1l-4.7-2z" fill="#a50026"/><path d="M1317.5 626.1l-8.8 6.4l-8.9 6.3l9.2 3.8l9.3 3.7l8.8-6.4l8.9-6.5l-9.2-3.6l-4.7-1.8z" fill="#a50026"/><path d="M1552 582.9l-8.7 5.6l-8.7 5.8l9.4 4.2l9.4 4.3l8.7-5.8l8.7-5.6l-9.4-4.3l-4.7-2.1z" fill="#a50026"/><path d="M596.2 622.8l-9.4 4.9l-9.3 4.7l8.7 7.8l8.8 8.1l9.4-5.2l9.3-5.3l-8.8-7.6l-4.4-3.7z" fill="#a50026"/><path d="M956.9 881.8l-9 30.4l-9 27.7l8.8-22.2l8.9-22.6l9-23l9.1-24.7l-8.9 17.4l-4.5 8.6z" fill="#fdb366"/><path d="M1353.7 620.4l-8.9 6.5l-8.8 6.5l9.3 3.6l9.2 3.6l8.9-6.5l8.8-6.6l-9.3-3.5l-4.6-1.8z" fill="#a50026"/><path d="M560 617.5l-9.4 4.2l-9.4 4.3l8.8 7.8l8.7 8.1l9.4-4.7l9.4-4.8l-8.8-7.5l-4.4-3.8z" fill="#a50026"/><path d="M1047 655.6l-9 10.8l-9 12.9l9 2.8l9 2.6l9.1-10.9l9-9.3l-9-4.4l-4.5-2.3z" fill="#ad0826"/><path d="M758.3 818.4l-9.4-6.4l-9.4-6l9.1 26.4l9.1 26.8l9.4 11.2l9.4 11.9l-9.1-32.1l-4.6-16z" fill="#f88950"/><path d="M920.9 982.4l-4.5 7.3l-4.6 5.9l-4.5 4.5l-4.6 3.1l8.8-23.7l8.8-24.3l9.1-9.5l9.1-13.2l-8.8 25.2l-4.4 12.5z" fill="#fee496"/><path d="M686.1 651.6l-9.3 5.2l-9.2 5.2l8.8 11.3l8.9 12.7l9.3-4.4l9.3-4.2l-8.9-13.9l-4.4-6.2z" fill="#ab0626"/><path d="M866.9 1033.6l-9.3-10.6l-9.3-13l4.4-3.3l8.8-9.2l4.4-5.6l9.3 6.7l9.2 5l-8.8 17l-4.3 7.1z" fill="#fff5af"/><path d="M1389.8 614.4l-8.8 6.5l-8.8 6.6l9.3 3.5l9.3 3.6l8.8-6.6l8.8-6.6l-9.3-3.5l-4.6-1.8z" fill="#a50026"/><path d="M974.8 818.6l-8.9 31.5l-9 31.7l8.9-17l8.9-17.4l9-25.4l9-25.2l-8.9 11.1l-4.5 5.4z" fill="#f7844e"/><path d="M523.7 610.8l-9.4 3.7l-9.4 3.8l8.7 7.9l8.8 8l9.4-4.1l9.4-4.1l-8.7-7.7l-4.4-3.8z" fill="#a50026"/><path d="M1083.1 649.5l-9 7l-9 8l9.1 4.4l9 4.5l9.1-7.1l9-6.4l-9.1-5.2l-4.5-2.6z" fill="#a50026"/><path d="M1426 608.4l-8.8 6.5l-8.8 6.5l9.3 3.6l9.4 3.6l8.8-6.5l8.8-6.5l-9.4-3.6l-4.6-1.8z" fill="#a50026"/><path d="M1119.2 648.5l-8.9 5.6l-9 5.8l9 5.2l9.1 5.3l9-5.7l9-5.5l-9.1-5.3l-4.5-2.7z" fill="#a50026"/><path d="M1155.3 648.7l-8.9 5.2l-9 5.3l9.1 5.3l9.1 5.2l9-5.4l9-5.4l-9.2-5.1l-4.5-2.5z" fill="#a50026"/><path d="M1191.4 648.1l-8.9 5.4l-8.9 5.4l9.1 5l9.1 5l9-5.6l8.9-5.6l-9.1-4.7l-4.6-2.4z" fill="#a50026"/><path d="M649.9 643.1l-9.3 5.5l-9.3 5.6l8.8 9l8.9 9.8l9.3-5.5l9.3-5.5l-8.9-9.9l-4.4-4.6z" fill="#a50026"/><path d="M740 760.1l-9.3-1.5l-9.4-1.1l9.1 23.4l9.1 25.1l9.4 6l9.4 6.4l-9.2-30.3l-4.5-14.3z" fill="#ea5739"/><path d="M1227.5 646.3l-8.9 5.7l-8.9 5.7l9.2 4.6l9.1 4.6l9-5.9l8.9-5.9l-9.2-4.3l-4.6-2.2z" fill="#a50026"/><path d="M1462.2 602.9l-8.8 6.3l-8.7 6.4l9.3 3.7l9.4 3.8l8.7-6.4l8.8-6.2l-9.4-3.8l-4.6-1.9z" fill="#a50026"/><path d="M703.9 677.4l-9.3 4.2l-9.3 4.4l9 14.6l9 16.7l9.3-2.3l9.3-2.1l-9-19.1l-4.5-8.5z" fill="#bd1726"/><path d="M1029 679.3l-9 15.7l-9.1 18.6l9-0.3l9-0.4l9.1-15.2l9-13l-9-2.6l-4.5-1.4z" fill="#bd1726"/><path d="M830.7 1010.5l-9.4-17.9l-9.5-16.9l4.5 3.5l4.4 2.5l4.5 1.5l4.4 0.7l9.4 12.5l9.3 13.6l-4.4 2.1l-4.4 0.8l-4.4-0.4z" fill="#feeda4"/><path d="M1263.7 643.2l-8.9 6l-8.9 5.9l9.2 4.3l9.2 4.2l8.9-6.1l8.9-6.2l-9.2-4l-4.6-2.1z" fill="#a50026"/><path d="M992.9 760.5l-9.1 27.9l-9 30.2l9-10.7l8.9-11.1l9.1-24l9-22.3l-9 5.1l-4.5 2.5z" fill="#e75337"/><path d="M613.7 637.8l-9.3 5.3l-9.4 5.2l8.8 8.4l8.8 8.8l9.4-5.7l9.3-5.6l-8.8-8.4l-4.4-4.1z" fill="#a50026"/><path d="M1498.4 598.2l-8.7 6.1l-8.8 6.2l9.4 3.8l9.3 4l8.8-6.1l8.7-6l-9.3-4.1l-4.7-2z" fill="#a50026"/><path d="M721.9 712.9l-9.3 2.1l-9.3 2.3l9 18.9l9 21.3l9.4 1.1l9.3 1.5l-9.1-25.1l-4.5-11.4z" fill="#d62f27"/><path d="M1299.8 638.8l-8.8 6.3l-8.9 6.2l9.2 4l9.2 3.8l8.9-6.3l8.9-6.5l-9.3-3.7l-4.6-1.9z" fill="#a50026"/><path d="M1010.9 713.6l-9 21.9l-9 25l8.9-4.9l9-5.1l9.1-20l9-17.6l-9 0.4l-4.5 0.2z" fill="#d42d27"/><path d="M1534.6 594.3l-8.7 5.9l-8.8 6l9.4 4.1l9.4 4.1l8.8-5.8l8.7-5.8l-9.4-4.3l-4.7-2.1z" fill="#a50026"/><path d="M577.5 632.4l-9.4 4.8l-9.4 4.7l8.8 8.3l8.8 8.5l9.4-5.2l9.3-5.2l-8.8-8.1l-4.4-3.9z" fill="#a50026"/><path d="M1570.8 591.4l-8.7 5.6l-8.7 5.8l9.4 4.3l9.4 4.4l8.7-5.7l8.7-5.6l-9.4-4.4l-4.7-2.2z" fill="#a50026"/><path d="M1336 633.4l-8.9 6.5l-8.8 6.4l9.2 3.8l9.3 3.6l8.9-6.5l8.8-6.6l-9.2-3.6l-4.7-1.8z" fill="#a50026"/><path d="M902.7 1003.2l-4.5 1.8l-4.6 0.6l-4.6-0.6l-4.6-1.4l8.8-19.3l8.8-20l9.1-3.2l9.2-5.9l-8.8 24.3l-4.4 12z" fill="#fee79b"/><path d="M541.2 626l-9.4 4.1l-9.4 4.1l8.7 8.3l8.8 8.5l9.4-4.5l9.4-4.6l-8.7-8.1l-4.4-3.9z" fill="#a50026"/><path d="M1372.2 627.5l-8.8 6.6l-8.9 6.5l9.3 3.6l9.3 3.6l8.8-6.6l8.9-6.6l-9.3-3.6l-4.7-1.8z" fill="#a50026"/><path d="M667.6 662l-9.3 5.5l-9.3 5.5l8.8 10.8l8.9 11.9l9.3-5l9.3-4.7l-8.9-12.7l-4.4-5.8z" fill="#ad0826"/><path d="M1354.8 1217.9l-4.9 36.8l-4.7 27.5l-4.6 16.8l-4.4 5l4.4 19.7l4.5 7.6l4.7-4.8l4.9-17l4.5-5l4.6-16.7l4.7-27.6l4.9-36.9l-4.8 14.5l-4.8 4l-4.5-6.8z" fill="#6da4cc"/><path d="M1065.1 664.5l-9 9.3l-9.1 10.9l9.1 2.8l9.1 3l9-9.1l9-8l-9-4.5l-4.6-2.2z" fill="#ad0826"/><path d="M1408.4 621.4l-8.8 6.6l-8.8 6.6l9.3 3.5l9.3 3.6l8.8-6.6l8.9-6.5l-9.4-3.6l-4.6-1.8z" fill="#a50026"/><path d="M504.9 618.3l-9.4 3.6l-9.5 3.6l8.7 8.2l8.8 8.5l9.4-3.9l9.5-4.1l-8.8-8l-4.3-4z" fill="#a50026"/><path d="M1101.3 659.9l-9 6.4l-9.1 7.1l9.1 4.6l9.1 4.8l9-6.4l9-6l-9.1-5.3l-4.5-2.6z" fill="#a70226"/><path d="M1137.4 659.2l-9 5.5l-9 5.7l9.1 5.2l9.2 5.2l8.9-5.6l9-5.5l-9.1-5.2l-4.5-2.6z" fill="#a70226"/><path d="M1173.6 658.9l-9 5.4l-9 5.4l9.2 5.2l9.1 5l9-5.5l8.9-5.5l-9.1-5l-4.6-2.5z" fill="#a50026"/><path d="M631.3 654.2l-9.3 5.6l-9.4 5.7l8.9 9.3l8.8 9.9l9.3-5.9l9.4-5.8l-8.9-9.8l-4.4-4.6z" fill="#a50026"/><path d="M1444.7 615.6l-8.8 6.5l-8.8 6.5l9.3 3.6l9.4 3.7l8.8-6.4l8.8-6.4l-9.4-3.8l-4.7-1.8z" fill="#a50026"/><path d="M1209.7 657.7l-8.9 5.6l-9 5.6l9.2 4.8l9.2 4.7l8.9-5.7l8.9-5.8l-9.1-4.6l-4.6-2.3z" fill="#a50026"/><path d="M1245.9 655.1l-8.9 5.9l-9 5.9l9.2 4.4l9.2 4.4l9-6l8.9-6.1l-9.2-4.2l-4.6-2.1z" fill="#a50026"/><path d="M1480.9 610.5l-8.8 6.2l-8.7 6.4l9.3 3.8l9.4 3.8l8.8-6.2l8.7-6.2l-9.3-4l-4.7-1.9z" fill="#a50026"/><path d="M685.3 686l-9.3 4.7l-9.3 5l9 13.2l8.9 14.7l9.3-3.5l9.4-2.8l-9-16.7l-4.5-7.5z" fill="#bd1726"/><path d="M595 648.3l-9.3 5.2l-9.4 5.2l8.8 8.9l8.8 9.3l9.4-5.7l9.3-5.7l-8.8-8.8l-4.4-4.2z" fill="#a50026"/><path d="M1282.1 651.3l-8.9 6.2l-8.9 6.1l9.2 4.1l9.2 4l8.9-6.2l8.9-6.4l-9.2-3.8l-4.6-2z" fill="#a50026"/><path d="M775.9 910l-9.5-13.7l-9.4-10.6l9 19.6l9 17.7l9.5 12.1l9.4 15.6l-9-18.6l-4.5-10.7z" fill="#fdbd6f"/><path d="M757.7 859.2l-9.4-9.6l-9.5-7.2l9.1 22l9.1 21.3l9.4 10.6l9.5 13.7l-9.1-24.6l-4.5-13z" fill="#fa9b58"/><path d="M1517.1 606.2l-8.7 6l-8.8 6.1l9.4 4l9.4 4.1l8.8-6l8.7-6l-9.4-4.1l-4.7-2.1z" fill="#a50026"/><path d="M1047 684.7l-9 13l-9.1 15.2l9.1-0.2l9 0.3l9.1-12l9.1-10.5l-9.1-3l-4.5-1.4z" fill="#b91326"/><path d="M1318.3 646.3l-8.9 6.5l-8.9 6.3l9.3 3.9l9.2 3.7l8.9-6.5l8.9-6.5l-9.3-3.6l-4.6-1.9z" fill="#a50026"/><path d="M1553.4 602.8l-8.7 5.8l-8.8 5.8l9.4 4.3l9.5 4.3l8.7-5.8l8.7-5.7l-9.4-4.4l-4.7-2.2z" fill="#a50026"/><path d="M558.7 641.9l-9.4 4.6l-9.4 4.5l8.8 8.8l8.8 9.1l9.4-5.1l9.4-5.1l-8.8-8.5l-4.4-4.2z" fill="#a50026"/><path d="M739.5 806l-9.4-4.7l-9.4-3l9.1 21.8l9 22.3l9.5 7.2l9.4 9.6l-9.1-26.8l-4.6-13.3z" fill="#f57245"/><path d="M1589.6 600.2l-8.7 5.6l-8.7 5.7l9.4 4.4l9.5 4.5l8.7-5.6l8.7-5.5l-9.5-4.6l-4.7-2.2z" fill="#a50026"/><path d="M703.3 717.3l-9.4 2.8l-9.3 3.5l9 16.3l9 18l9.4-0.8l9.3 0.4l-9-21.3l-4.5-9.7z" fill="#d22b27"/><path d="M721.3 757.5l-9.3-0.4l-9.4 0.8l9 19.5l9.1 20.9l9.4 3l9.4 4.7l-9.1-25.1l-4.5-12z" fill="#e34933"/><path d="M1354.5 640.6l-8.8 6.6l-8.9 6.5l9.3 3.7l9.3 3.6l8.8-6.6l8.9-6.6l-9.3-3.6l-4.6-1.8z" fill="#a50026"/><path d="M793.9 950.7l-9.4-15.6l-9.5-12.1l9 15.1l9 12.3l9.4 10.9l9.4 14.4l-4.4-4.6l-9-12.5z" fill="#fed081"/><path d="M848.3 1010l-9.3-13.6l-9.4-12.5l4.4-0.2l8.9-2.4l4.4-2l9.3 5.7l9.3 6.9l-8.8 10.6l-4.4 4.2z" fill="#fee79b"/><path d="M649 673l-9.4 5.8l-9.3 5.9l8.9 10.7l8.9 11.4l9.3-5.7l9.3-5.4l-8.9-11.9l-4.4-5.5z" fill="#b10b26"/><path d="M522.4 634.2l-9.5 4.1l-9.4 3.9l8.8 8.6l8.7 9l9.5-4.3l9.4-4.5l-8.8-8.5l-4.3-4.2z" fill="#a50026"/><path d="M1390.8 634.6l-8.9 6.6l-8.8 6.6l9.3 3.5l9.3 3.6l8.9-6.6l8.8-6.6l-9.3-3.6l-4.7-1.8z" fill="#a50026"/><path d="M1028.9 712.9l-9 17.6l-9.1 20l9.1-4.7l9-3.8l9.1-15.4l9-13.6l-9-0.3l-4.5 0.1z" fill="#ca2427"/><path d="M1083.2 673.4l-9 8l-9 9.1l9 3.3l9.1 3.6l9.1-7.7l9-6.9l-9.1-4.8l-4.5-2.3z" fill="#ad0826"/><path d="M1427.1 628.6l-8.9 6.5l-8.8 6.6l9.4 3.6l9.3 3.6l8.8-6.5l8.9-6.5l-9.4-3.7l-4.7-1.8z" fill="#a50026"/><path d="M884.4 1003.6l-9.2-5l-9.3-6.7l8.8-12.6l8.8-13.2l9.3-0.5l9.2-1.3l-8.8 20l-4.4 9.8z" fill="#fee294"/><path d="M1119.4 670.4l-9 6l-9 6.4l9.1 4.8l9.1 4.9l9-6l9.1-5.7l-9.2-5.2l-4.5-2.6z" fill="#a90426"/><path d="M974.7 847.4l-9.1 24.7l-9 23l8.9-21.7l8.9-19.5l9.1-18.5l9.1-19.4l-9 14.8l-4.5 8.1z" fill="#f8864f"/><path d="M612.6 665.5l-9.3 5.7l-9.4 5.7l8.9 9.7l8.8 10.3l9.4-6.1l9.3-6.1l-8.8-9.9l-4.5-4.7z" fill="#a90426"/><path d="M1010.8 750.5l-9 22.3l-9.1 24l9-10.5l9-9.1l9.1-18.3l9.1-16.9l-9 3.8l-4.6 2.3z" fill="#dd3d2d"/><path d="M992.7 796.8l-9 25.2l-9 25.4l8.9-16.6l9-14.8l9.1-19.6l9-19.2l-9 9.1l-4.5 5.2z" fill="#ee613e"/><path d="M1155.6 669.7l-9 5.5l-8.9 5.6l9.1 5.2l9.1 5l9-5.5l9-5.6l-9.1-5l-4.6-2.6z" fill="#a90426"/><path d="M486 625.5l-9.5 3.5l-9.5 3.5l8.8 8.5l8.7 8.7l9.5-3.7l9.5-3.8l-8.8-8.5l-4.3-4.1z" fill="#a50026"/><path d="M1191.8 668.9l-8.9 5.5l-9 5.5l9.2 5l9.1 4.8l9-5.6l9-5.7l-9.2-4.7l-4.6-2.4z" fill="#a70226"/><path d="M1338 1074.3l-4.8 26.5l-4.6 19.9l-4.6 12.5l-4.5 4.3l8.2 96.4l4.2 39.5l4.3 30.6l4.4-5l4.6-16.8l4.7-27.5l4.9-36.8l-4.3-26.4l-4.2-34.1l-4.2-39.8z" fill="#b0dcea"/><path d="M956.6 895.1l-9 20.4l-9.1 17l8.8-24.3l8.9-21.9l9.1-15.2l9.1-17.2l-8.9 19.5l-4.5 10.7z" fill="#fca85e"/><path d="M1228 666.9l-8.9 5.8l-8.9 5.7l9.1 4.6l9.2 4.5l9-5.9l8.9-5.9l-9.2-4.4l-4.6-2.2z" fill="#a70226"/><path d="M1463.4 623.1l-8.8 6.4l-8.8 6.4l9.3 3.7l9.4 3.7l8.8-6.3l8.8-6.3l-9.4-3.8l-4.7-1.9z" fill="#a50026"/><path d="M1336.2 1304l-4.3-7l-4.2-18.2l-4.1-28.2l-3.9-36.2l4.4 16.2l4.6 6.3l4.8-3.9l4.8-13.7l4 36.4l4 28.4l4.1 18.3l4.3 7.1l-4.9 17l-4.7 4.8l-4.5-7.6z" fill="#76afd2"/><path d="M1264.3 663.6l-8.9 6.1l-9 6l9.2 4.2l9.3 4.1l8.9-6.1l8.9-6.2l-9.2-4l-4.6-2z" fill="#a50026"/><path d="M576.3 658.7l-9.4 5.1l-9.4 5.1l8.8 9.4l8.9 9.8l9.4-5.5l9.3-5.7l-8.8-9.3l-4.4-4.5z" fill="#a50026"/><path d="M666.7 695.7l-9.3 5.4l-9.3 5.7l8.9 12.5l8.9 13.6l9.4-5.1l9.3-4.2l-8.9-14.7l-4.5-6.8z" fill="#be1827"/><path d="M1499.6 618.3l-8.7 6.2l-8.8 6.2l9.4 3.9l9.4 3.9l8.8-6.1l8.7-6l-9.4-4.1l-4.7-2z" fill="#a50026"/><path d="M1300.5 659.1l-8.9 6.4l-8.9 6.2l9.3 3.9l9.2 3.9l8.9-6.4l8.9-6.4l-9.2-3.7l-4.7-1.9z" fill="#a50026"/><path d="M811.8 975.7l-9.4-14.4l-9.4-10.9l9 9.7l8.9 7.1l4.7 2.8l9.3 8.5l4.7 5.4l-4.4-0.7l-4.5-1.5l-4.4-2.5z" fill="#feda8a"/><path d="M1535.9 614.4l-8.7 6l-8.8 6l9.5 4.1l9.4 4.2l8.7-5.9l8.8-5.8l-9.5-4.3l-4.7-2.1z" fill="#a50026"/><path d="M1572.2 611.5l-8.7 5.7l-8.7 5.8l9.4 4.3l9.5 4.4l8.7-5.6l8.7-5.7l-9.5-4.5l-4.7-2.2z" fill="#a50026"/><path d="M539.9 651l-9.4 4.5l-9.5 4.3l8.8 9.2l8.9 9.6l9.4-4.8l9.4-4.9l-8.8-9.1l-4.4-4.4z" fill="#a50026"/><path d="M1336.8 653.7l-8.9 6.5l-8.9 6.5l9.3 3.7l9.3 3.6l8.9-6.5l8.9-6.5l-9.3-3.6l-4.7-1.8z" fill="#a50026"/><path d="M938.5 932.5l-9.1 13.2l-9.1 9.5l8.8-23.4l8.9-21.1l9.1-11.1l9.1-13.3l-8.9 21.9l-4.4 11.9z" fill="#fdbb6d"/><path d="M1608.5 609.3l-8.7 5.5l-8.7 5.6l9.5 4.6l9.4 4.5l8.7-5.5l8.7-5.5l-9.5-4.6l-4.7-2.3z" fill="#a50026"/><path d="M1065.2 690.5l-9.1 10.5l-9.1 12l9.1 0.9l9.1 1.6l9.1-9.6l9-8.5l-9.1-3.6l-4.5-1.7z" fill="#b71126"/><path d="M630.3 684.7l-9.3 6.1l-9.4 6.1l8.9 10.9l8.9 11.6l9.3-6.4l9.4-6.2l-8.9-11.4l-4.5-5.5z" fill="#b50f26"/><path d="M684.6 723.6l-9.3 4.2l-9.4 5.1l9 14.7l9 15.9l9.3-3.5l9.4-2.1l-9-18l-4.5-8.3z" fill="#d02927"/><path d="M1373.1 647.8l-8.9 6.6l-8.8 6.6l9.3 3.5l9.3 3.5l8.9-6.6l8.8-6.5l-9.3-3.6l-4.6-1.7z" fill="#a50026"/><path d="M503.5 642.2l-9.5 3.8l-9.5 3.7l8.8 9l8.8 9.3l9.5-4l9.4-4.2l-8.7-9l-4.4-4.3z" fill="#a50026"/><path d="M1409.4 641.7l-8.8 6.6l-8.9 6.6l9.4 3.5l9.3 3.5l8.9-6.5l8.8-6.5l-9.3-3.6l-4.7-1.8z" fill="#a50026"/><path d="M1101.4 682.8l-9 6.9l-9.1 7.7l9.1 4l9.1 4.2l9.1-6.7l9-6.4l-9.1-4.9l-4.5-2.4z" fill="#af0926"/><path d="M702.6 757.9l-9.4 2.1l-9.3 3.5l9 17l9 18.1l9.4-1.2l9.4 0.9l-9.1-20.9l-4.5-9.9z" fill="#e0422f"/><path d="M593.9 676.9l-9.3 5.7l-9.4 5.5l8.8 10.3l8.9 10.9l9.4-6.2l9.3-6.2l-8.8-10.3l-4.5-4.9z" fill="#ad0826"/><path d="M1137.7 680.8l-9.1 5.7l-9 6l9.2 5l9.1 5l9-5.8l9-5.7l-9.1-5l-4.6-2.6z" fill="#ad0826"/><path d="M1173.9 679.9l-9 5.6l-9 5.5l9.2 5l9.1 4.9l9-5.6l9-5.6l-9.1-4.8l-4.6-2.5z" fill="#ab0626"/><path d="M720.7 798.3l-9.4-0.9l-9.4 1.2l9.1 18.8l9 19.4l4.7 0.2l4.7 1.1l9.4 4.3l-9-22.3l-4.6-11z" fill="#ef633f"/><path d="M1445.8 635.9l-8.9 6.5l-8.8 6.5l9.4 3.6l9.4 3.6l8.8-6.4l8.8-6.4l-9.4-3.7l-4.7-1.9z" fill="#a50026"/><path d="M1210.2 678.4l-9 5.7l-9 5.6l9.2 4.7l9.2 4.6l9-5.7l8.9-5.8l-9.2-4.5l-4.6-2.3z" fill="#a90426"/><path d="M738.8 842.4l-9.4-4.3l-4.7-1.1l-4.7-0.2l9.1 19.4l9 19.2l4.7 1.1l4.7 2.1l4.8 3.1l4.7 4l-9.1-21.3l-4.5-10.9z" fill="#f7844e"/><path d="M467 632.5l-9.5 3.3l-9.5 3.3l8.7 8.7l8.8 9l9.5-3.5l9.5-3.6l-8.7-8.7l-4.4-4.3z" fill="#a50026"/><path d="M1246.4 675.7l-8.9 5.9l-9 5.9l9.3 4.3l9.2 4.2l8.9-5.9l9-6.1l-9.3-4.1l-4.6-2.1z" fill="#a70226"/><path d="M1482.1 630.7l-8.8 6.3l-8.8 6.3l9.4 3.8l9.4 3.8l8.8-6.2l8.8-6.2l-9.4-3.9l-4.7-1.9z" fill="#a50026"/><path d="M1047 713l-9 13.6l-9.1 15.4l9.1-2.8l9-1.5l9.1-11.7l9.1-10.5l-9.1-1.6l-4.5-0.6z" fill="#c21c27"/><path d="M757 885.7l-4.7-4l-4.8-3.1l-4.7-2.1l-4.7-1.1l9.1 18.4l9 17.4l4.7 1.3l4.7 2.4l4.7 3.5l4.7 4.6l-9-17.7l-4.5-9.6z" fill="#fca55d"/><path d="M557.5 668.9l-9.4 4.9l-9.4 4.8l8.8 10l8.9 10.4l9.4-5.4l9.4-5.5l-8.9-9.8l-4.4-4.8z" fill="#a50026"/><path d="M648.1 706.8l-9.4 6.2l-9.3 6.4l8.9 12.4l9 13.2l9.3-6.4l9.3-5.7l-8.9-13.6l-4.5-6.4z" fill="#c21c27"/><path d="M1282.7 671.7l-8.9 6.2l-8.9 6.1l9.2 4l9.3 3.9l8.9-6.2l8.9-6.2l-9.2-3.9l-4.7-1.9z" fill="#a50026"/><path d="M920.3 955.2l-9.2 5.9l-9.1 3.2l8.8-19.2l8.9-17.3l9.1-7.9l9.2-9.2l-8.9 21.1l-4.4 11.5z" fill="#fdc374"/><path d="M1518.4 626.4l-8.7 6l-8.8 6.1l9.4 4l9.4 4l8.8-5.9l8.8-5.9l-9.4-4.2l-4.8-2.1z" fill="#a50026"/><path d="M1319.5 1137.5l-4.3-4l-4.3-11.9l-4.2-18.8l-4.2-24.4l8.5 78.7l4.3 32.3l4.4 25l3.9 36.2l4.1 28.2l4.2 18.2l4.3 7l-4.3-30.6l-4.2-39.5l-4.1-46.2z" fill="#b6dfec"/><path d="M1319 666.7l-8.9 6.4l-8.9 6.4l9.3 3.7l9.3 3.6l8.9-6.4l8.9-6.4l-9.3-3.6l-4.6-1.8z" fill="#a50026"/><path d="M1554.8 623l-8.8 5.8l-8.7 5.9l9.4 4.2l9.5 4.2l8.7-5.7l8.8-5.7l-9.5-4.4l-4.7-2.1z" fill="#a50026"/><path d="M865.9 991.9l-9.3-6.9l-9.3-5.7l8.9-5l8.9-5.6l9.2-2l9.2-0.6l-8.8 13.2l-4.4 6.4z" fill="#feda8a"/><path d="M829.6 983.9l-9.4-10.1l-4.6-3.8l-4.7-2.8l8.9 5l8.9 3.2l4.7-0.2l4.6 0.6l9.3 3.5l-8.8 3.5l-4.5 0.9z" fill="#feda8a"/><path d="M1591.1 620.4l-8.7 5.7l-8.7 5.6l9.4 4.4l9.5 4.5l8.7-5.6l8.7-5.5l-9.4-4.5l-4.8-2.3z" fill="#a50026"/><path d="M521 659.8l-9.4 4.2l-9.5 4l8.8 9.7l8.9 10l9.4-4.5l9.5-4.6l-8.9-9.6l-4.4-4.6z" fill="#a50026"/><path d="M775 923l-4.7-4.6l-4.7-3.5l-4.7-2.4l-4.7-1.3l9.1 16.1l9 14.5l4.6 0.5l4.7 1.6l4.7 2.7l4.7 3.8l-9-12.3l-4.5-7.3z" fill="#fdbd6f"/><path d="M1627.4 618.5l-8.7 5.5l-8.7 5.5l9.5 4.6l9.5 4.5l8.7-5.4l8.7-5.5l-9.5-4.6l-4.7-2.3z" fill="#a50026"/><path d="M611.6 696.9l-9.3 6.2l-9.4 6.2l8.9 11.4l8.9 12l9.4-6.7l9.3-6.6l-8.9-11.6l-4.4-5.5z" fill="#b91326"/><path d="M1355.4 661l-8.9 6.5l-8.9 6.5l9.3 3.5l9.3 3.5l8.9-6.5l8.9-6.5l-9.3-3.5l-4.7-1.8z" fill="#a50026"/><path d="M1028.9 742l-9.1 16.9l-9.1 18.3l9.1-7.4l9.1-5.5l9.1-13.8l9-12.8l-9 1.5l-4.6 1.3z" fill="#d42d27"/><path d="M665.9 732.9l-9.3 5.7l-9.3 6.4l8.9 14.1l9 15.1l9.4-5.9l9.3-4.8l-9-15.9l-4.5-7.5z" fill="#d22b27"/><path d="M1083.3 697.4l-9 8.5l-9.1 9.6l9.1 2.2l9.1 3l9.1-7.9l9-7.2l-9.1-4.2l-4.5-2z" fill="#b50f26"/><path d="M1391.7 654.9l-8.8 6.5l-8.9 6.6l9.3 3.4l9.4 3.5l8.9-6.5l8.8-6.5l-9.3-3.5l-4.7-1.8z" fill="#a50026"/><path d="M484.5 649.7l-9.5 3.6l-9.5 3.5l8.8 9.3l8.8 9.6l9.5-3.8l9.5-3.9l-8.8-9.3l-4.4-4.5z" fill="#a50026"/><path d="M575.2 688.1l-9.4 5.5l-9.4 5.4l8.8 10.9l8.9 11.4l9.4-5.9l9.4-6.1l-8.9-10.9l-4.4-5.2z" fill="#b10b26"/><path d="M1119.6 692.5l-9 6.4l-9.1 6.7l9.2 4.4l9.1 4.6l9.1-6.2l9-5.9l-9.1-5l-4.6-2.5z" fill="#b10b26"/><path d="M1428.1 648.9l-8.8 6.5l-8.9 6.5l9.4 3.5l9.4 3.4l8.8-6.4l8.9-6.3l-9.4-3.6l-4.7-1.8z" fill="#a50026"/><path d="M1155.9 691l-9 5.7l-9 5.8l9.2 4.9l9.1 4.8l9-5.6l9-5.7l-9.1-4.9l-4.6-2.4z" fill="#af0926"/><path d="M1010.7 777.2l-9 19.2l-9.1 19.6l9-12.4l9-9.7l9.2-15.1l9.1-14.5l-9.1 5.5l-4.5 3.4z" fill="#e14430"/><path d="M1375 1023.7l-10.2 101.7l-10 92.5l4.5 17.1l4.5 6.8l4.8-4l4.8-14.5l10.1-92.7l10.3-102l-4.8 8.2l-4.8 2l-4.6-4.4z" fill="#e4f4f1"/><path d="M1192.2 689.7l-9 5.6l-9 5.6l9.2 4.8l9.2 4.6l9-5.6l9-5.7l-9.2-4.6l-4.6-2.3z" fill="#ad0826"/><path d="M683.9 763.5l-9.3 4.8l-9.4 5.9l9 15.9l9 16.8l9.4-5l9.3-3.3l-9-18.1l-4.5-8.6z" fill="#e0422f"/><path d="M793 950.4l-4.7-3.8l-4.7-2.7l-4.7-1.6l-4.6-0.5l9 12.9l8.9 11.5l4.7-1.3l4.7-0.3l4.6 0.8l4.7 1.8l-8.9-7.1l-4.5-4.5z" fill="#feca7c"/><path d="M1228.5 687.5l-8.9 5.8l-9 5.7l9.2 4.4l9.2 4.3l9-5.8l9-5.9l-9.2-4.2l-4.7-2.1z" fill="#ab0626"/><path d="M1464.5 643.3l-8.8 6.4l-8.8 6.4l9.4 3.6l9.4 3.6l8.8-6.2l8.8-6.2l-9.4-3.8l-4.7-1.9z" fill="#a50026"/><path d="M629.4 719.4l-9.3 6.6l-9.4 6.7l8.9 12.8l9 13.5l9.3-7.2l9.4-6.8l-9-13.2l-4.4-6.3z" fill="#c62027"/><path d="M448 639.1l-9.6 3.2l-9.5 3.1l8.7 8.9l8.8 9.1l9.6-3.2l9.5-3.4l-8.8-9l-4.3-4.3z" fill="#a50026"/><path d="M1264.9 684l-9 6.1l-8.9 5.9l9.2 4.1l9.3 3.9l8.9-6l9-6.1l-9.3-3.9l-4.6-1.9z" fill="#a90426"/><path d="M538.7 678.6l-9.5 4.6l-9.4 4.5l8.8 10.5l8.9 10.9l9.4-5l9.5-5.1l-8.9-10.4l-4.4-5.1z" fill="#a90426"/><path d="M992.6 816l-9.1 19.4l-9.1 18.5l9-16.6l9-13.2l9.1-15.1l9.1-15.1l-9 9.7l-4.5 5.8z" fill="#ed5f3c"/><path d="M701.9 798.6l-9.3 3.3l-9.4 5l9.1 17.6l9 18l9.4-4.1l9.3-1.6l-9-19.4l-4.5-9.5z" fill="#ed5f3c"/><path d="M902 964.3l-9.2 1.3l-9.3 0.5l8.9-12.8l8.9-11.4l9.2-7l9.2-7.1l-8.9 17.3l-4.4 9.4z" fill="#fdc576"/><path d="M1500.9 638.5l-8.8 6.2l-8.8 6.2l9.4 3.8l9.5 3.8l8.8-6l8.7-6l-9.4-4l-4.7-2z" fill="#a50026"/><path d="M1301.2 679.5l-8.9 6.2l-8.9 6.2l9.2 3.8l9.3 3.6l9-6.2l8.9-6.3l-9.3-3.6l-4.6-1.9z" fill="#a50026"/><path d="M1537.3 634.7l-8.8 5.9l-8.8 5.9l9.5 4.1l9.5 4l8.7-5.7l8.8-5.8l-9.5-4.2l-4.7-2.1z" fill="#a50026"/><path d="M1373.4 1223.3l-4.9 36.9l-4.7 27.6l-4.6 16.7l-4.5 5l5.1-28l5.2-37.2l10.7-92.4l4.4-4.2l4.6-12.4l4.7-20l4.8-26.6l-10.6 79l-5.1 31.7z" fill="#b4deec"/><path d="M720 836.8l-9.3 1.6l-9.4 4.1l9.1 18.5l9 18.5l4.7-2.3l4.7-1.4l4.7-0.7l4.6 0.3l-9-19.2l-4.5-9.7z" fill="#f67c4a"/><path d="M1573.7 631.7l-8.8 5.7l-8.7 5.7l9.5 4.3l9.4 4.2l8.8-5.5l8.7-5.5l-9.5-4.5l-4.7-2.2z" fill="#a50026"/><path d="M1065.2 715.5l-9.1 10.5l-9.1 11.7l9.1-0.2l9.2 0.9l9-9.2l9.1-8.5l-9.1-3l-4.5-1.2z" fill="#be1827"/><path d="M592.9 709.3l-9.4 6.1l-9.4 5.9l8.9 12.1l9 12.8l9.3-6.7l9.4-6.8l-8.9-12l-4.5-5.8z" fill="#bd1726"/><path d="M1337.6 674l-8.9 6.4l-8.9 6.4l9.3 3.5l9.3 3.5l8.9-6.4l8.9-6.4l-9.3-3.5l-4.6-1.7z" fill="#a50026"/><path d="M1610 629.5l-8.7 5.5l-8.7 5.6l9.5 4.4l9.5 4.4l8.7-5.4l8.7-5.4l-9.5-4.5l-4.7-2.3z" fill="#a50026"/><path d="M502.1 668l-9.5 3.9l-9.5 3.8l8.8 10l8.9 10.4l9.5-4.1l9.5-4.3l-8.9-10l-4.4-4.9z" fill="#a50026"/><path d="M974.4 853.9l-9.1 17.2l-9.1 15.2l9-18.7l9-15.1l9.1-13.8l9.1-14.6l-9 13.2l-4.5 7.9z" fill="#f57748"/><path d="M1646.4 627.7l-8.7 5.5l-8.7 5.4l9.5 4.5l9.6 4.5l8.7-5.3l8.6-5.4l-9.5-4.6l-4.7-2.3z" fill="#a50026"/><path d="M647.3 745l-9.4 6.8l-9.3 7.2l9 14.4l9 15.1l9.3-7.5l9.3-6.8l-9-15.1l-4.4-7.2z" fill="#d62f27"/><path d="M738.1 875.4l-4.6-0.3l-4.7 0.7l-4.7 1.4l-4.7 2.3l9.1 18.3l9 18l4.7-2.5l4.7-1.6l4.6-0.8l4.7 0.3l-9-17.4l-4.5-9.1z" fill="#fa9b58"/><path d="M1357.4 936.2l-9.8 72.2l-9.6 65.9l8.3 83.1l4.2 34.1l4.3 26.4l10-92.5l10.2-101.7l-4.4-16.2l-8.8-45z" fill="#fffebe"/><path d="M1374 668l-8.9 6.5l-8.9 6.5l9.4 3.4l9.3 3.3l8.9-6.4l8.9-6.4l-9.4-3.5l-4.6-1.7z" fill="#a50026"/><path d="M1101.5 705.6l-9 7.2l-9.1 7.9l9.2 3.4l9.1 3.9l9.1-6.9l9-6.5l-9.1-4.6l-4.6-2.2z" fill="#b50f26"/><path d="M847.3 979.3l-9.3-3.5l-4.6-0.6l-4.7 0.2l9 2.1l8.9 1.5l9.2-6.4l9.3-3.9l-8.9 5.6l-4.4 2.6z" fill="#fed485"/><path d="M556.4 699l-9.5 5.1l-9.4 5l8.9 11.5l8.9 12.1l9.4-5.6l9.4-5.8l-8.9-11.4l-4.4-5.5z" fill="#b50f26"/><path d="M1410.4 661.9l-8.8 6.5l-8.9 6.5l9.4 3.3l9.3 3.3l8.9-6.3l8.9-6.4l-9.4-3.4l-4.7-1.8z" fill="#a50026"/><path d="M810.9 967.2l-4.7-1.8l-4.6-0.8l-4.7 0.3l-4.7 1.3l9 10l9 8.9l4.6-3.7l4.7-2.9l4.6-2l4.6-1.1l-8.9-3.2l-4.4-2.3z" fill="#fed283"/><path d="M756.2 911.2l-4.7-0.3l-4.6 0.8l-4.7 1.6l-4.7 2.5l9.1 17.4l9 16.7l4.7-3.4l4.6-2.6l4.7-1.6l4.7-0.5l-9-14.5l-4.6-7.9z" fill="#fdb567"/><path d="M1137.9 702.5l-9 5.9l-9.1 6.2l9.2 4.7l9.1 4.6l9.1-5.9l9-5.8l-9.1-4.8l-4.6-2.5z" fill="#b30d26"/><path d="M465.5 656.8l-9.5 3.4l-9.6 3.2l8.8 9.4l8.8 9.8l9.6-3.3l9.5-3.6l-8.8-9.6l-4.4-4.7z" fill="#a50026"/><path d="M665.2 774.2l-9.3 6.8l-9.3 7.5l9 16l9 16.8l9.3-7.8l9.3-6.6l-9-16.8l-4.5-8.1z" fill="#e24731"/><path d="M1174.2 700.9l-9 5.7l-9 5.6l9.2 4.8l9.2 4.6l9-5.6l9-5.7l-9.2-4.6l-4.6-2.4z" fill="#b10b26"/><path d="M610.7 732.7l-9.4 6.8l-9.3 6.7l8.9 13.4l9 14.3l9.3-7.5l9.4-7.4l-9-13.5l-4.4-6.5z" fill="#cc2627"/><path d="M956.2 886.3l-9.1 13.3l-9.1 11.1l8.9-18.1l9-14.6l9.1-12.3l9.2-13.2l-9 15.1l-4.5 9z" fill="#f88c51"/><path d="M1210.6 699l-9 5.7l-9 5.6l9.2 4.5l9.3 4.3l9-5.7l8.9-5.7l-9.2-4.3l-4.6-2.2z" fill="#af0926"/><path d="M1446.9 656.1l-8.9 6.3l-8.8 6.4l9.4 3.5l9.4 3.4l8.8-6.2l8.9-6.2l-9.4-3.6l-4.7-1.8z" fill="#a50026"/><path d="M1047 737.7l-9 12.8l-9.1 13.8l9-3.5l9.1-1.7l9.2-10.7l9.1-10l-9.2-0.9l-4.5 0z" fill="#ca2427"/><path d="M1247 696l-9 5.9l-9 5.8l9.3 4.1l9.2 4l9-5.8l9-6l-9.3-3.9l-4.6-2z" fill="#ad0826"/><path d="M1483.3 650.9l-8.8 6.2l-8.8 6.2l9.4 3.6l9.4 3.6l8.9-6l8.8-6l-9.5-3.8l-4.7-1.9z" fill="#a50026"/><path d="M519.8 687.7l-9.5 4.3l-9.5 4.1l8.8 10.8l8.9 11.5l9.5-4.5l9.5-4.8l-8.9-10.9l-4.4-5.3z" fill="#a90426"/><path d="M683.2 806.9l-9.3 6.6l-9.3 7.8l9 17.5l9.1 18.1l9.3-8l9.3-6.4l-9-18l-4.5-8.9z" fill="#ee613e"/><path d="M1283.4 691.9l-9 6.1l-8.9 6l9.2 3.8l9.3 3.7l9-6.1l8.9-6.1l-9.3-3.6l-4.6-1.9z" fill="#a90426"/><path d="M774.3 941.8l-4.7 0.5l-4.7 1.6l-4.6 2.6l-4.7 3.4l9.1 15.9l9 15l9.3-9.1l4.6-3.2l4.6-2.3l-8.9-11.5l-4.5-6.2z" fill="#fdc778"/><path d="M428.9 645.4l-9.6 3l-9.6 2.9l8.8 8.9l8.7 9.2l9.6-2.9l9.6-3.1l-8.8-9.1l-4.4-4.5z" fill="#a50026"/><path d="M883.5 966.1l-9.2 0.6l-9.2 2l8.9-5.5l8.9-4.9l9.2-8.8l9.2-7.6l-8.9 11.4l-4.4 6.3z" fill="#fdc778"/><path d="M1519.7 646.5l-8.7 6l-8.8 6l9.4 3.8l9.5 3.8l8.8-5.7l8.8-5.8l-9.5-4l-4.7-2.1z" fill="#a50026"/><path d="M574.1 721.3l-9.4 5.8l-9.4 5.6l8.9 12.8l8.9 13.5l9.5-6.3l9.4-6.5l-9-12.8l-4.4-6.1z" fill="#c21c27"/><path d="M1319.8 686.8l-8.9 6.3l-9 6.2l9.3 3.5l9.4 3.5l8.9-6.2l8.9-6.3l-9.3-3.5l-4.7-1.7z" fill="#a50026"/><path d="M1556.2 643.1l-8.8 5.8l-8.7 5.7l9.4 4.1l9.5 4l8.8-5.5l8.7-5.6l-9.4-4.2l-4.8-2.2z" fill="#a50026"/><path d="M701.3 842.5l-9.3 6.4l-9.3 8l9.1 18.7l9 18.9l9.3-8.6l9.3-6.4l-9-18.5l-4.5-9.3z" fill="#f67f4b"/><path d="M628.6 759l-9.4 7.4l-9.3 7.5l9 15l9 15.8l9.3-8.2l9.4-8l-9-15.1l-4.5-7.3z" fill="#db382b"/><path d="M1592.6 640.6l-8.7 5.5l-8.8 5.5l9.5 4.3l9.5 4.3l8.8-5.4l8.7-5.4l-9.5-4.4l-4.7-2.2z" fill="#a50026"/><path d="M1629 638.6l-8.7 5.4l-8.7 5.4l9.5 4.4l9.6 4.4l8.7-5.3l8.7-5.3l-9.6-4.5l-4.7-2.2z" fill="#a50026"/><path d="M1356.2 681l-8.9 6.4l-8.9 6.4l9.4 3.3l9.3 3.3l8.9-6.3l8.9-6.4l-9.3-3.3l-4.7-1.7z" fill="#a50026"/><path d="M719.4 879.5l-9.3 6.4l-9.3 8.6l9.1 19.2l9.1 19.2l9.3-9.7l9.2-7.4l-9-18l-4.5-9.1z" fill="#fb9d59"/><path d="M1665.4 636.9l-8.6 5.4l-8.7 5.3l9.5 4.5l9.6 4.4l8.7-5.3l8.6-5.3l-9.5-4.5l-4.8-2.2z" fill="#a50026"/><path d="M483.1 675.7l-9.5 3.6l-9.6 3.3l8.9 10.3l8.8 10.6l9.6-3.6l9.5-3.8l-8.9-10.4l-4.4-5.1z" fill="#a50026"/><path d="M1083.4 720.7l-9.1 8.5l-9 9.2l9.1 1.9l9.1 2.7l9.1-7.8l9.1-7.2l-9.1-3.9l-4.6-1.8z" fill="#bd1726"/><path d="M938 910.7l-9.2 9.2l-9.1 7.9l8.9-14.7l8.9-11.8l9.2-11.5l9.2-11.8l-9 14.6l-4.5 8.6z" fill="#fb9d59"/><path d="M1028.9 764.3l-9.1 14.5l-9.2 15.1l9.1-7l9.1-4.5l9.1-11.9l9.1-11.4l-9.1 1.7l-4.5 1.5z" fill="#d83128"/><path d="M1354.7 1309.5l-4.3-7.1l-4.1-18.3l-4-28.4l-4-36.4l5-22.8l5.1-30.2l10.4-75.1l4.1 24.9l4.2 19.3l4.2 12.2l4.4 4.3l-10.7 92.4l-5.2 37.2z" fill="#bde2ee"/><path d="M1392.7 674.9l-8.9 6.4l-8.9 6.4l9.4 3.3l9.4 3.2l8.9-6.3l8.8-6.4l-9.3-3.3l-4.7-1.7z" fill="#a50026"/><path d="M646.6 788.5l-9.4 8l-9.3 8.2l9 16.7l9 17.5l9.4-9l9.3-8.6l-9-16.8l-4.5-8.1z" fill="#e65036"/><path d="M737.5 915.8l-9.2 7.4l-9.3 9.7l9.1 19.1l9 18.8l9.3-11.7l9.2-9.2l-9-16.7l-4.5-8.6z" fill="#fdb96b"/><path d="M792.2 966.2l-4.6 2.3l-4.6 3.2l-9.3 9.1l9 14.1l9.1 13.3l9.2-13.1l9.2-10l-9-8.9l-4.5-4.9z" fill="#fed485"/><path d="M828.7 975.4l-4.6 1.1l-4.6 2l-4.7 2.9l-4.6 3.7l9 8l9 7.3l9.2-12.1l9.2-9.3l-8.9-1.5l-4.5-0.9z" fill="#fed485"/><path d="M537.5 709.1l-9.5 4.8l-9.5 4.5l8.9 12l8.9 12.7l9.5-5l9.5-5.4l-8.9-12.1l-4.5-5.8z" fill="#b71126"/><path d="M1119.8 714.6l-9 6.5l-9.1 6.9l9.2 4.1l9.1 4.2l9.1-6.3l9-6.1l-9.1-4.6l-4.6-2.4z" fill="#b71126"/><path d="M592 746.2l-9.4 6.5l-9.5 6.3l9 14.3l9 15l9.4-7.1l9.4-7.3l-9-14.3l-4.5-6.8z" fill="#d22b27"/><path d="M1156.2 712.2l-9 5.8l-9.1 5.9l9.2 4.6l9.2 4.6l9.1-5.8l9-5.7l-9.2-4.6l-4.6-2.4z" fill="#b50f26"/><path d="M1429.2 668.8l-8.9 6.4l-8.9 6.3l9.4 3.3l9.5 3.3l8.8-6.2l8.9-6.2l-9.4-3.4l-4.7-1.7z" fill="#a50026"/><path d="M1192.6 710.3l-9 5.7l-9 5.6l9.2 4.5l9.2 4.3l9.1-5.6l9-5.7l-9.3-4.3l-4.6-2.2z" fill="#b30d26"/><path d="M446.4 663.4l-9.6 3.1l-9.6 2.9l8.8 9.5l8.9 9.9l9.6-3l9.5-3.2l-8.8-9.8l-4.4-4.7z" fill="#a50026"/><path d="M664.6 821.3l-9.3 8.6l-9.4 9l9.1 18.3l9.1 19l9.3-10l9.3-9.3l-9.1-18.1l-4.5-8.8z" fill="#f36b42"/><path d="M755.6 949.9l-9.2 9.2l-9.3 11.7l9.1 18.5l9.1 17.9l9.2-14.4l9.2-12l-9-15l-4.5-7.8z" fill="#fece7f"/><path d="M1229 707.7l-8.9 5.7l-9 5.7l9.2 4.2l9.3 3.9l9-5.6l8.9-5.8l-9.2-4l-4.6-2z" fill="#b10b26"/><path d="M1465.7 663.3l-8.9 6.2l-8.8 6.2l9.4 3.4l9.5 3.4l8.8-6l8.8-6l-9.4-3.6l-4.7-1.8z" fill="#a50026"/><path d="M1321.2 906.7l-4.6 14l-4.5 11.1l-4.6 7.3l-4.5 3.5l8.4 92.1l8.1 102.8l4.5-4.3l4.6-12.5l4.6-19.9l4.8-26.5l-8.3-88.4l-4.2-41.4z" fill="#fee699"/><path d="M1010.6 793.9l-9.1 15.1l-9.1 15.1l9.1-9.9l9-6.8l9.2-12.7l9.1-12.3l-9.1 4.5l-4.5 3.1z" fill="#e14430"/><path d="M1265.5 704l-9 6l-9 5.8l9.3 3.8l9.3 3.7l9-5.9l8.9-5.9l-9.3-3.7l-4.6-1.9z" fill="#ad0826"/><path d="M682.7 856.9l-9.3 9.3l-9.3 10l9.1 19.6l9.1 20.1l9.2-11.2l9.3-10.2l-9-18.9l-4.6-9.4z" fill="#f88950"/><path d="M865.1 968.7l-9.3 3.9l-9.2 6.4l8.9 1.3l9 1.3l9.2-12.7l9.2-10.6l-8.9 4.9l-4.5 2.6z" fill="#feca7c"/><path d="M1502.2 658.5l-8.8 6l-8.9 6l9.5 3.6l9.5 3.6l8.8-5.8l8.8-5.8l-9.5-3.8l-4.7-1.9z" fill="#a50026"/><path d="M500.8 696.1l-9.5 3.8l-9.6 3.6l8.9 11.2l8.9 11.8l9.5-3.9l9.5-4.2l-8.9-11.5l-4.4-5.5z" fill="#ab0626"/><path d="M609.9 773.9l-9.4 7.3l-9.4 7.1l9 16l9 16.8l9.4-8.1l9.4-8.3l-9-15.8l-4.5-7.6z" fill="#de402e"/><path d="M700.8 894.5l-9.3 10.2l-9.2 11.2l9.1 20.6l9.1 20.8l9.2-12.8l9.3-11.6l-9.1-19.2l-4.5-9.6z" fill="#fcaa5f"/><path d="M1301.9 699.3l-8.9 6.1l-9 6.1l9.3 3.6l9.4 3.6l8.9-6.2l9-6.2l-9.4-3.5l-4.6-1.7z" fill="#a90426"/><path d="M555.3 732.7l-9.5 5.4l-9.5 5l9 13.4l9 14.2l9.4-5.7l9.4-6l-8.9-13.5l-4.5-6.5z" fill="#c41e27"/><path d="M919.7 927.8l-9.2 7.1l-9.2 7l8.9-9.6l9-7.5l9.2-12l9.1-11.5l-8.9 11.8l-4.5 7z" fill="#fca85e"/><path d="M1538.7 654.6l-8.8 5.8l-8.8 5.7l9.5 3.9l9.4 3.8l8.8-5.5l8.8-5.6l-9.5-4l-4.7-2.1z" fill="#a50026"/><path d="M773.7 980.8l-9.2 12l-9.2 14.4l9 17.2l9.1 16.6l9.2-17.4l9.2-15.4l-9.1-13.3l-4.5-7z" fill="#fee192"/><path d="M1065.3 738.4l-9.1 10l-9.2 10.7l9.2 0l9.1 1.1l9.1-8.8l9.1-8.4l-9.1-2.7l-4.6-1z" fill="#c41e27"/><path d="M409.7 651.3l-9.6 2.8l-9.7 2.7l8.8 8.9l8.8 9.1l9.6-2.6l9.6-2.8l-8.7-9.2l-4.4-4.5z" fill="#a50026"/><path d="M719 932.9l-9.3 11.6l-9.2 12.8l9.1 20.9l9.1 20.9l9.2-14.7l9.2-13.6l-9-18.8l-4.6-9.5z" fill="#fdc576"/><path d="M1575.1 651.6l-8.7 5.6l-8.8 5.5l9.5 4.1l9.5 4l8.8-5.3l8.7-5.3l-9.5-4.3l-4.7-2.1z" fill="#a50026"/><path d="M810.2 985.1l-9.2 10l-9.2 13.1l9 12.4l9 11.7l9.2-17.1l9.2-14.8l-9-7.3l-4.5-3.9z" fill="#fee090"/><path d="M1338.4 693.8l-8.9 6.3l-8.9 6.2l9.3 3.5l9.3 3.5l9-6.5l8.9-6.4l-9.3-3.3l-4.7-1.7z" fill="#a50026"/><path d="M1611.6 649.4l-8.7 5.4l-8.8 5.4l9.6 4.2l9.5 4.2l8.7-5.2l8.8-5.2l-9.6-4.4l-4.7-2.2z" fill="#a50026"/><path d="M737.1 970.8l-9.2 13.6l-9.2 14.7l9.1 20.6l9.1 20.4l9.2-17l9.2-15.9l-9.1-17.9l-4.5-9.2z" fill="#fede8e"/><path d="M627.9 804.7l-9.4 8.3l-9.4 8.1l9.1 17.7l9.1 18.6l9.3-9.2l9.3-9.3l-9-17.5l-4.5-8.4z" fill="#eb5a3a"/><path d="M1648.1 647.6l-8.7 5.3l-8.7 5.3l9.5 4.3l9.6 4.3l8.7-5.1l8.7-5.2l-9.6-4.4l-4.8-2.2z" fill="#a50026"/><path d="M992.4 824.1l-9.1 14.6l-9.1 13.8l9-11.4l9-8.1l9.2-12.9l9.1-12.7l-9 6.8l-4.6 4.5z" fill="#ea5739"/><path d="M1684.5 645.9l-8.6 5.3l-8.7 5.3l9.6 4.3l9.6 4.3l8.6-5.2l8.7-5.3l-9.6-4.3l-4.8-2.2z" fill="#a50026"/><path d="M1374.9 687.7l-8.9 6.4l-8.9 6.3l9.4 3.3l9.3 3.4l9-6.5l8.9-6.4l-9.4-3.2l-4.7-1.7z" fill="#a50026"/><path d="M755.3 1007.2l-9.2 15.9l-9.2 17l9.1 19.8l9.1 19.1l9.1-19.3l9.2-18.7l-9.1-16.6l-4.5-8.5z" fill="#feefa6"/><path d="M464 682.6l-9.5 3.2l-9.6 3l8.8 10.4l8.9 10.8l9.6-3.1l9.5-3.4l-8.8-10.6l-4.5-5.2z" fill="#a50026"/><path d="M1101.7 728l-9.1 7.2l-9.1 7.8l9.2 3.3l9.1 3.7l9.1-7l9.1-6.7l-9.1-4.2l-4.6-2.1z" fill="#bb1526"/><path d="M645.9 838.9l-9.3 9.3l-9.3 9.2l9.1 19.4l9.1 20.2l9.3-10.4l9.3-10.4l-9.1-19l-4.5-9.2z" fill="#f57748"/><path d="M573.1 759l-9.4 6l-9.4 5.7l9 15l9 16l9.4-6.5l9.4-6.9l-9-15l-4.5-7.3z" fill="#d62f27"/><path d="M791.8 1008.2l-9.2 15.4l-9.2 17.4l9.1 15.8l9 14.9l9.2-20.4l9.1-19l-9-11.7l-4.5-6.1z" fill="#feeca2"/><path d="M518.5 718.4l-9.5 4.2l-9.5 3.9l8.9 12.5l8.9 13.1l9.6-4.3l9.4-4.7l-8.9-12.7l-4.4-6.1z" fill="#b91326"/><path d="M1138.1 723.9l-9 6.1l-9.1 6.3l9.2 4.4l9.2 4.3l9.1-6.1l9-5.8l-9.2-4.6l-4.6-2.3z" fill="#b91326"/><path d="M664.1 876.2l-9.3 10.4l-9.3 10.4l9.1 20.9l9.1 21.6l9.3-11.8l9.3-11.8l-9.1-20.1l-4.6-9.9z" fill="#fa9857"/><path d="M1411.4 681.5l-8.8 6.4l-8.9 6.3l9.4 3.2l9.4 3.1l8.9-6.2l8.9-6.2l-9.5-3.3l-4.7-1.6z" fill="#a50026"/><path d="M846.6 979l-9.2 9.3l-9.2 12.1l8.9 6.8l9 6.3l9.2-17l9.2-14.9l-9-1.3l-4.4-0.7z" fill="#fed687"/><path d="M718.7 999.1l-9.2 15.2l-9.2 15.3l9.1 22.7l9.1 22.5l9.2-17.4l9.2-17.3l-9.1-20.4l-4.6-10.3z" fill="#feeba1"/><path d="M700.5 957.3l-9.3 13.3l-9.2 13.5l9.1 22.7l9.2 22.8l9.2-15.3l9.2-15.2l-9.1-20.9l-4.6-10.5z" fill="#fed687"/><path d="M682.3 915.9l-9.3 11.8l-9.3 11.8l9.1 22.1l9.2 22.5l9.2-13.5l9.3-13.3l-9.1-20.8l-4.6-10.3z" fill="#fdb96b"/><path d="M736.9 1040.1l-9.2 17.3l-9.2 17.4l9.2 21.9l9.1 21.2l9.1-19.3l9.2-19.6l-9.1-19.1l-4.5-9.8z" fill="#fffcba"/><path d="M1174.6 721.6l-9 5.7l-9.1 5.8l9.2 4.4l9.3 4.2l9-5.7l9-5.6l-9.2-4.3l-4.6-2.2z" fill="#b50f26"/><path d="M1393.8 1028.6l-10.3 102l-10.1 92.7l5.1-23.9l5.1-31.7l10.6-79l9.8-66.3l10-72.6l-10.2 46.3l-5 18.6z" fill="#fffcba"/><path d="M773.4 1041l-9.2 18.7l-9.1 19.3l9.1 18.4l9.1 17.3l9.1-21.7l9.1-21.3l-9-14.9l-4.6-7.8z" fill="#fffcba"/><path d="M755.1 1079l-9.2 19.6l-9.1 19.3l9.1 20.4l9.1 19.2l9.1-21.1l9.2-21.7l-9.1-17.3l-4.6-9.1z" fill="#f2fad6"/><path d="M1211.1 719.1l-9 5.7l-9.1 5.6l9.3 4.1l9.2 4l9-5.6l9.1-5.7l-9.3-3.9l-4.6-2.1z" fill="#b30d26"/><path d="M1448 675.7l-8.9 6.2l-8.8 6.2l9.4 3.2l9.4 3.2l8.9-6l8.9-6l-9.5-3.4l-4.7-1.7z" fill="#a50026"/><path d="M901.3 941.9l-9.2 7.6l-9.2 8.8l8.9-3.7l9-2.6l9.2-14.2l9.2-13l-9 7.5l-4.4 4.5z" fill="#fdb567"/><path d="M1047 759.1l-9.1 11.4l-9.1 11.9l9.1-2.2l9.1-0.5l9.2-10l9.1-9.5l-9.1-1.1l-4.6-0.2z" fill="#ce2827"/><path d="M974.2 852.5l-9.2 13.2l-9.1 12.3l9-11.1l9-7.8l9.2-13.1l9.1-13l-9 8.1l-4.5 5.3z" fill="#f36b42"/><path d="M591.1 788.3l-9.4 6.9l-9.4 6.5l9 16.8l9.1 17.8l9.4-7.4l9.3-7.8l-9-16.8l-4.5-8.1z" fill="#e24731"/><path d="M1247.5 715.8l-8.9 5.8l-9 5.6l9.2 3.9l9.3 3.7l9-5.7l9-5.8l-9.3-3.7l-4.6-1.9z" fill="#b10b26"/><path d="M718.5 1074.8l-9.1 16.8l-9.3 16l9.2 23.7l9.1 22.9l9.2-17.6l9.2-18.7l-9.1-21.2l-4.6-10.9z" fill="#f3fbd4"/><path d="M736.8 1117.9l-9.2 18.7l-9.2 17.6l9.2 22l9.1 20.9l9.2-19.2l9.1-20.4l-9.1-19.2l-4.5-10.1z" fill="#e2f4f4"/><path d="M427.2 669.4l-9.6 2.8l-9.6 2.6l8.8 9.5l8.8 9.9l9.7-2.6l9.6-2.8l-8.9-9.9l-4.4-4.8z" fill="#a50026"/><path d="M1484.5 670.5l-8.8 6l-8.8 6l9.4 3.3l9.5 3.4l8.8-5.8l8.9-5.7l-9.5-3.6l-4.7-1.8z" fill="#a50026"/><path d="M700.3 1029.6l-9.3 15l-9.2 14.3l9.2 24.5l9.1 24.2l9.3-16l9.1-16.8l-9.1-22.5l-4.6-11.3z" fill="#fff7b3"/><path d="M828.2 1000.4l-9.2 14.8l-9.2 17.1l9 10.9l9 10.1l9.2-20.7l9.1-19.1l-9-6.3l-4.5-3.4z" fill="#fee699"/><path d="M1339.9 834.7l-9.4 37.5l-9.3 34.5l8.5 79.2l8.3 88.4l9.6-65.9l9.8-72.2l-8.7-53.5l-4.4-25.1z" fill="#fdaf62"/><path d="M1284 711.5l-8.9 5.9l-9 5.9l9.3 3.7l9.3 4l9-6.2l9-6.1l-9.4-3.6l-4.6-1.8z" fill="#ad0826"/><path d="M773.3 1114.7l-9.2 21.7l-9.1 21.1l9.1 18l9 16.5l9.2-22.8l9.1-23.4l-9.1-14.9l-4.5-7.9z" fill="#e4f4f1"/><path d="M755 1157.5l-9.1 20.4l-9.2 19.2l9.1 19.4l9.1 17.8l9.1-20.5l9.1-21.8l-9-16.5l-4.6-8.8z" fill="#c9e8f2"/><path d="M791.5 1071.7l-9.1 21.3l-9.1 21.7l9 16.2l9.1 14.9l9.1-23.7l9.1-23.6l-9-12.8l-4.6-6.9z" fill="#f7fcce"/><path d="M1521.1 666.1l-8.8 5.8l-8.8 5.8l9.4 3.6l9.5 3.5l8.8-5.5l8.8-5.5l-9.4-3.8l-4.8-1.9z" fill="#a50026"/><path d="M1303 942.6l-4.4-0.6l-4.4-4.4l-4.4-7.7l-4.4-10.4l8.6 75.1l8.5 83.8l4.2 24.4l4.2 18.8l4.3 11.9l4.3 4l-8.1-102.8l-4.2-48.2z" fill="#fee496"/><path d="M536.3 743.1l-9.4 4.7l-9.6 4.3l9 14l9 14.8l9.5-4.9l9.5-5.3l-9-14.2l-4.5-6.8z" fill="#c82227"/><path d="M481.7 703.5l-9.5 3.4l-9.6 3.1l8.9 11.4l8.9 12.1l9.5-3.3l9.6-3.7l-8.9-11.8l-4.5-5.6z" fill="#ab0626"/><path d="M682 984.1l-9.3 13.2l-9.3 12.7l9.2 24.4l9.2 24.5l9.2-14.3l9.3-15l-9.2-22.8l-4.5-11.3z" fill="#fee496"/><path d="M809.8 1032.3l-9.1 19l-9.2 20.4l9.1 14l9 12.8l9.1-23.1l9.1-22.1l-9-10.1l-4.5-5.3z" fill="#fff6b1"/><path d="M609.1 821.1l-9.3 7.8l-9.4 7.4l9 18.8l9.1 19.7l9.4-8.5l9.4-8.9l-9.1-18.6l-4.5-9z" fill="#ee613e"/><path d="M718.4 1154.2l-9.2 16.4l-9.2 14.8l9.2 23.3l9.1 22.1l9.2-16l9.2-17.7l-9.1-20.9l-4.6-10.8z" fill="#cbe9f2"/><path d="M1320.6 706.3l-9 6.2l-8.9 6.2l9.3 3.9l9.3 4.6l9-7.1l8.9-6.8l-9.3-3.5l-4.7-1.8z" fill="#a90426"/><path d="M1557.6 662.7l-8.8 5.6l-8.8 5.5l9.6 3.8l9.5 3.8l8.8-5.3l8.7-5.3l-9.5-4l-4.7-2z" fill="#a50026"/><path d="M736.7 1197.1l-9.2 17.7l-9.2 16l9.1 20.6l9.1 18.9l9.2-17.1l9.2-18.9l-9.1-17.8l-4.5-9.5z" fill="#aedbea"/><path d="M663.7 939.5l-9.3 11.6l-9.3 11.1l9.2 23.7l9.1 24.1l9.3-12.7l9.3-13.2l-9.2-22.5l-4.5-11.1z" fill="#fdc778"/><path d="M700.1 1107.6l-9.2 14.8l-9.3 13.5l9.2 25.1l9.2 24.4l9.2-14.8l9.2-16.4l-9.1-22.9l-4.6-11.8z" fill="#e7f6eb"/><path d="M627.3 857.4l-9.4 8.9l-9.4 8.5l9.2 20.6l9.1 21.5l9.3-9.7l9.4-10.2l-9.1-20.2l-4.6-9.8z" fill="#f7814c"/><path d="M645.5 897l-9.4 10.2l-9.3 9.7l9.1 22.3l9.2 23l9.3-11.1l9.3-11.6l-9.1-21.6l-4.6-10.5z" fill="#fca85e"/><path d="M1594.1 660.2l-8.7 5.3l-8.8 5.3l9.6 4l9.5 4l8.8-5.1l8.7-5.1l-9.5-4.2l-4.8-2.1z" fill="#a50026"/><path d="M390.4 656.8l-9.6 2.6l-9.7 2.5l8.8 8.7l8.8 9.1l9.6-2.4l9.7-2.5l-8.8-9.1l-4.4-4.5z" fill="#a50026"/><path d="M1083.5 743l-9.1 8.4l-9.1 8.8l9.2 2.2l9.1 2.8l9.1-7.8l9.1-7.4l-9.1-3.7l-4.6-1.7z" fill="#c21c27"/><path d="M1630.7 658.2l-8.8 5.2l-8.7 5.2l9.6 4.2l9.5 4.1l8.8-5l8.7-5.1l-9.6-4.3l-4.8-2.1z" fill="#a50026"/><path d="M1357.1 700.4l-8.9 6.4l-9 6.5l9.4 4l9.4 4.5l8.9-7.7l8.9-7l-9.3-3.4l-4.7-1.6z" fill="#a50026"/><path d="M882.9 958.3l-9.2 10.6l-9.2 12.7l9 1.6l9 2l9.1-17.4l9.2-15.8l-9 2.6l-4.4 1.7z" fill="#fdc374"/><path d="M773.1 1192l-9.1 21.8l-9.1 20.5l9 16l9.1 14l9.1-21.5l9.1-22.9l-9-13l-4.5-7.2z" fill="#b4deec"/><path d="M1667.2 656.5l-8.7 5.2l-8.7 5.1l9.6 4.2l9.6 4.2l8.7-5l8.7-5.1l-9.6-4.3l-4.8-2.1z" fill="#a50026"/><path d="M681.8 1058.9l-9.3 13.3l-9.3 12.1l9.2 25.9l9.2 25.7l9.3-13.5l9.2-14.8l-9.1-24.2l-4.6-12.2z" fill="#fcfec5"/><path d="M955.9 878l-9.2 11.8l-9.2 11.5l9-8.9l9.1-6.1l9.1-13.8l9.2-13.4l-9 7.8l-4.5 5.1z" fill="#f67c4a"/><path d="M1703.7 654.6l-8.7 5.3l-8.6 5.2l9.6 4.1l9.6 4.1l8.7-5.1l8.6-5.2l-9.6-4.2l-4.8-2.1z" fill="#a50026"/><path d="M791.4 1145.8l-9.1 23.4l-9.2 22.8l9.1 14.9l9 13l9.2-24l9.1-24.8l-9.1-11.8l-4.5-6.6z" fill="#d4edf4"/><path d="M754.9 1234.3l-9.2 18.9l-9.2 17.1l9.1 16.9l9 14.8l9.2-17.9l9.2-19.8l-9.1-14l-4.5-7.7z" fill="#97c9e0"/><path d="M1028.8 782.4l-9.1 12.3l-9.2 12.7l9.1-4.1l9.1-1.9l9.2-11.1l9.1-10.6l-9.1 0.5l-4.5 0.8z" fill="#d93429"/><path d="M554.3 770.7l-9.5 5.3l-9.5 4.9l9 15.7l9 16.6l9.5-5.5l9.5-6l-9-16l-4.5-7.6z" fill="#d93429"/><path d="M1120 736.3l-9.1 6.7l-9.1 7l9.2 3.9l9.2 3.9l9.1-6.5l9.1-6.3l-9.2-4.3l-4.6-2.2z" fill="#bd1726"/><path d="M1393.7 694.2l-8.9 6.4l-9 6.5l9.4 3.5l9.4 3.6l9-7.1l8.9-6.6l-9.4-3.1l-4.7-1.6z" fill="#a50026"/><path d="M718.3 1230.8l-9.2 14.2l-9.3 12l9.1 21.5l9.1 19.6l9.3-12.8l9.2-15l-9.1-18.9l-4.5-10.1z" fill="#9bcce2"/><path d="M700 1185.4l-9.3 13l-9.3 11.1l9.2 24.4l9.2 23.1l9.3-12l9.2-14.2l-9.1-22.1l-4.6-11.5z" fill="#bbe1ed"/><path d="M444.9 688.8l-9.6 2.8l-9.7 2.6l8.9 10.4l8.8 10.9l9.7-2.6l9.6-2.9l-8.9-10.8l-4.4-5.2z" fill="#a50026"/><path d="M809.6 1098.5l-9.1 23.6l-9.1 23.7l9 13.5l9.1 11.8l9.1-25.2l9.1-25.3l-9.1-10.4l-4.5-5.7z" fill="#edf8df"/><path d="M663.4 1010l-9.3 11.7l-9.3 10.8l9.2 25.8l9.2 26l9.3-12.1l9.3-13.3l-9.2-24.5l-4.6-12.3z" fill="#feeca2"/><path d="M1319.7 1214.4l-7.9-87.2l-7.9-91l4.6 9.5l4.7 3.8l4.7-1.9l4.8-7.6l7.8 91.5l7.8 87.8l-4.8 13.7l-4.8 3.9l-4.6-6.3z" fill="#edf8df"/><path d="M1156.5 733.1l-9 5.8l-9.1 6.1l9.2 4.2l9.2 4.1l9.1-5.9l9.1-5.7l-9.3-4.2l-4.6-2.2z" fill="#b91326"/><path d="M499.5 726.5l-9.6 3.7l-9.5 3.3l8.9 12.7l8.9 13.5l9.6-3.6l9.5-4l-8.9-13.1l-4.5-6.3z" fill="#b91326"/><path d="M864.5 981.6l-9.2 14.9l-9.2 17l9 6l9.1 5.7l9.1-20.9l9.2-19.1l-9-2l-4.5-0.8z" fill="#fed687"/><path d="M1430.3 688.1l-8.9 6.2l-8.9 6.2l9.4 3.2l9.5 3l8.9-6.2l8.8-6l-9.4-3.2l-4.7-1.6z" fill="#a50026"/><path d="M681.6 1135.9l-9.2 11.8l-9.4 10.2l9.2 26.2l9.2 25.4l9.3-11.1l9.3-13l-9.2-24.4l-4.6-12.5z" fill="#dcf1f7"/><path d="M1193 730.4l-9 5.6l-9 5.7l9.2 4.1l9.3 3.8l9-5.6l9-5.5l-9.2-4l-4.6-2z" fill="#b71126"/><path d="M827.8 1053.3l-9.1 22.1l-9.1 23.1l9 11.7l9.1 10.4l9.1-25.1l9.1-24.5l-9-8.4l-4.5-4.5z" fill="#fffcba"/><path d="M736.5 1270.3l-9.2 15l-9.3 12.8l9.1 17.7l9.1 15.4l9.2-13.4l9.2-15.8l-9-14.8l-4.5-8.2z" fill="#81b7d7"/><path d="M572.3 801.7l-9.5 6l-9.5 5.5l9.1 17.6l9.1 18.7l9.4-6.3l9.5-6.9l-9.1-17.8l-4.5-8.5z" fill="#e54e35"/><path d="M846.1 1013.5l-9.1 19.1l-9.2 20.7l9.1 9.3l9 8.4l9.1-23.5l9.2-22.3l-9.1-5.7l-4.5-2.9z" fill="#feea9f"/><path d="M645.1 962.2l-9.3 10.4l-9.4 9.4l9.2 25l9.2 25.5l9.3-10.8l9.3-11.7l-9.1-24.1l-4.6-11.9z" fill="#fed283"/><path d="M1229.6 727.2l-9.1 5.7l-9 5.6l9.3 3.8l9.3 3.7l9-5.6l9-5.6l-9.3-3.7l-4.6-1.9z" fill="#b50f26"/><path d="M1466.9 682.5l-8.9 6l-8.9 6l9.5 3.1l9.5 3.1l8.8-5.8l8.9-5.7l-9.5-3.4l-4.7-1.6z" fill="#a50026"/><path d="M791.2 1219.9l-9.1 22.9l-9.1 21.5l9 11.9l9 9.6l9.2-22.2l9.1-23.6l-9-9l-4.5-5.3z" fill="#a6d5e7"/><path d="M1376.7 815.8l-9.5 53.9l-9.8 66.5l8.7 50.5l4.5 20.8l4.4 16.2l10.2-93.8l9.9-75.4l-4.6-7.3l-9.2-19.9z" fill="#f99153"/><path d="M937.5 901.3l-9.1 11.5l-9.2 12l9-5.3l9-3.4l9.2-15.4l9.2-14.4l-9.1 6.1l-4.5 4.1z" fill="#f99153"/><path d="M1266.1 723.3l-9 5.8l-9 5.7l9.3 3.8l9.3 4.4l9-5.9l9-6.1l-9.3-4l-4.7-1.8z" fill="#b10b26"/><path d="M590.4 836.3l-9.5 6.9l-9.4 6.3l9.1 19.7l9.1 20.7l9.4-7.2l9.4-7.9l-9.1-19.7l-4.5-9.5z" fill="#f36b42"/><path d="M626.8 916.9l-9.4 9l-9.4 8.3l9.2 23.5l9.2 24.3l9.4-9.4l9.3-10.4l-9.2-23l-4.5-11.3z" fill="#fdb366"/><path d="M773 1264.3l-9.2 19.8l-9.2 17.9l9.1 12.6l9 10l9.2-18.4l9.1-20.4l-9-9.6l-4.5-5.7z" fill="#87bdd9"/><path d="M663.2 1084.3l-9.3 10.7l-9.3 9.1l9.2 27l9.2 26.8l9.4-10.2l9.2-11.8l-9.2-25.7l-4.6-12.9z" fill="#f3fbd4"/><path d="M608.5 874.8l-9.4 7.9l-9.4 7.2l9.2 21.7l9.1 22.6l9.4-8.3l9.4-9l-9.1-21.5l-4.6-10.4z" fill="#f98e52"/><path d="M1503.5 677.7l-8.9 5.7l-8.8 5.8l9.5 3.3l9.5 3.3l8.8-5.5l8.8-5.5l-9.5-3.5l-4.7-1.8z" fill="#a50026"/><path d="M408 674.8l-9.7 2.5l-9.6 2.4l8.8 9.3l8.8 9.8l9.7-2.2l9.6-2.4l-8.8-9.9l-4.4-4.8z" fill="#a50026"/><path d="M1010.5 807.4l-9.1 12.7l-9.2 12.9l9.1-5.1l9.1-2.7l9.2-12.2l9.1-11.6l-9.1 1.9l-4.5 1.7z" fill="#e14430"/><path d="M809.5 1171.1l-9.1 24.8l-9.2 24l9.1 11.1l9 9l9.1-24.7l9.1-25.7l-9-8.3l-4.5-4.9z" fill="#c7e7f1"/><path d="M1302.7 718.7l-9 6.1l-9 6.2l9.3 4.8l9.3 6.8l9-7.9l9-7.5l-9.3-4.6l-4.7-2z" fill="#af0926"/><path d="M1302.5 1078.4l-8.3-59l-8.3-61.4l9 45.1l4.5 18.6l4.5 14.5l7.9 91l7.9 87.2l-4.4-25l-4.3-32.3l-4.3-37.7z" fill="#fff7b3"/><path d="M1065.3 760.2l-9.1 9.5l-9.2 10l9.2 0.9l9.2 1.9l9.1-8.9l9.1-8.4l-9.1-2.8l-4.6-1.2z" fill="#ca2427"/><path d="M517.3 752.1l-9.5 4l-9.6 3.6l9 14.3l9 15.2l9.6-3.9l9.5-4.4l-9-14.8l-4.5-7.1z" fill="#c82227"/><path d="M1540 673.8l-8.8 5.5l-8.8 5.5l9.5 3.6l9.6 3.5l8.8-5.2l8.8-5.3l-9.5-3.8l-4.8-1.9z" fill="#a50026"/><path d="M1339.2 713.3l-8.9 6.8l-9 7.1l9.3 6.1l9.4 8.7l9-11l9-9.2l-9.4-4.5l-4.7-2.1z" fill="#ab0626"/><path d="M1395.1 854.5l-9.9 75.4l-10.2 93.8l4.6 10.7l4.6 4.4l4.8-2l4.8-8.2l10.3-94l10-75.6l-4.8 2.8l-4.8 0.2l-4.7-2.5z" fill="#fdad60"/><path d="M699.8 1257l-9.3 9.8l-9.4 7.4l9.2 22.1l9.1 20.2l9.3-7.9l9.3-10.5l-9.1-19.6l-4.5-10.6z" fill="#8ec2dc"/><path d="M462.6 710l-9.6 2.9l-9.7 2.6l8.9 11.5l8.9 12.1l9.7-2.7l9.6-2.9l-8.9-12.1l-4.5-5.7z" fill="#ab0626"/><path d="M1576.6 670.8l-8.7 5.3l-8.8 5.3l9.5 3.8l9.6 3.7l8.7-5l8.8-5.1l-9.5-4l-4.8-2z" fill="#a50026"/><path d="M754.6 1302l-9.2 15.8l-9.2 13.4l9 13l9 10.5l9.3-13.8l9.2-16.3l-9-10l-4.5-6z" fill="#70a9cf"/><path d="M681.4 1209.5l-9.3 9.1l-9.4 6.9l9.2 25l9.2 23.7l9.4-7.4l9.3-9.8l-9.2-23.1l-4.6-12z" fill="#aedbea"/><path d="M827.7 1120.6l-9.1 25.3l-9.1 25.2l9 10.2l9 8.3l9.1-26.2l9.1-26.4l-9-7.5l-4.5-4.3z" fill="#e7f6eb"/><path d="M644.8 1032.5l-9.3 9.5l-9.4 8.1l9.2 26.9l9.3 27.1l9.3-9.1l9.3-10.7l-9.2-26l-4.6-12.9z" fill="#fff3ad"/><path d="M1613.2 668.6l-8.7 5.1l-8.8 5.1l9.6 4l9.5 3.9l8.8-4.9l8.7-4.9l-9.5-4.1l-4.8-2.1z" fill="#a50026"/><path d="M1649.8 666.8l-8.7 5.1l-8.8 5l9.6 4l9.6 4l8.7-4.8l8.8-4.9l-9.6-4.2l-4.8-2.1z" fill="#a50026"/><path d="M1375.8 707.1l-8.9 7l-8.9 7.7l9.3 5.6l9.4 6.7l9-11.3l8.9-8.6l-9.4-3.6l-4.7-1.8z" fill="#a50026"/><path d="M919.2 924.8l-9.2 13l-9.2 14.2l9-1.4l9-0.4l9.2-17.7l9.2-16.4l-9 3.4l-4.5 2.4z" fill="#fca55d"/><path d="M718 1298.1l-9.3 10.5l-9.3 7.9l9.1 18.1l9 15.9l9.4-8.4l9.3-10.9l-9.1-15.4l-4.5-8.6z" fill="#74add1"/><path d="M1101.8 750l-9.1 7.4l-9.1 7.8l9.2 3.3l9.2 3.5l9.1-7.3l9.1-6.9l-9.2-3.9l-4.6-2z" fill="#c21c27"/><path d="M1686.4 665.1l-8.7 5.1l-8.7 5l9.6 4l9.6 3.9l8.7-4.8l8.7-5l-9.6-4.1l-4.8-2z" fill="#a50026"/><path d="M371.1 661.9l-9.7 2.4l-9.7 2.3l8.8 8.5l8.8 8.8l9.7-2.1l9.7-2.1l-8.8-9.1l-4.4-4.4z" fill="#a50026"/><path d="M663 1157.9l-9.3 8.3l-9.5 6.3l9.3 26.9l9.2 26.1l9.4-6.9l9.3-9.1l-9.2-25.4l-4.6-13z" fill="#d4edf4"/><path d="M1722.9 663l-8.6 5.2l-8.7 5.1l9.6 3.9l9.7 3.8l8.7-5l8.7-5.2l-9.7-3.9l-4.8-1.9z" fill="#a50026"/><path d="M535.3 780.9l-9.5 4.4l-9.6 3.9l9.1 16.1l9 17.2l9.5-4.4l9.5-4.9l-9-16.6l-4.5-8z" fill="#da362a"/><path d="M845.9 1071l-9.1 24.5l-9.1 25.1l9 8.9l9 7.5l9.1-26.4l9.1-26l-9-6.2l-4.5-3.6z" fill="#fdfec2"/><path d="M626.4 982l-9.4 8.4l-9.4 7.2l9.2 26l9.3 26.5l9.4-8.1l9.3-9.5l-9.2-25.5l-4.6-12.6z" fill="#fedc8c"/><path d="M1138.4 745l-9.1 6.3l-9.1 6.5l9.2 4l9.3 3.8l9-6.2l9.1-6.1l-9.2-4.1l-4.6-2.1z" fill="#bd1726"/><path d="M992.2 833l-9.1 13l-9.2 13.1l9.1-5l9.1-2.7l9.2-13.4l9.1-12.8l-9.1 2.7l-4.5 2.2z" fill="#e95538"/><path d="M1412.5 700.5l-8.9 6.6l-9 7.1l9.5 3.8l9.4 3.9l8.9-8.3l9-6.9l-9.5-3l-4.7-1.6z" fill="#a50026"/><path d="M900.8 952l-9.2 15.8l-9.1 17.4l9 2.2l9 2.4l9.2-20.5l9.1-19.1l-9 0.4l-4.5 0.6z" fill="#fdbd6f"/><path d="M1175 741.7l-9.1 5.7l-9.1 5.9l9.3 4l9.2 3.7l9.1-5.7l9.1-5.7l-9.3-3.8l-4.6-2.1z" fill="#bb1526"/><path d="M1358.4 771.4l-9.2 28.6l-9.3 34.7l8.8 48l8.7 53.5l9.8-66.5l9.5-53.9l-9.1-23.3l-4.6-11z" fill="#e75337"/><path d="M864.2 1025.2l-9.2 22.3l-9.1 23.5l9 7.4l9 6.2l9.2-25.3l9.1-24.3l-9-4.7l-4.5-2.5z" fill="#feeca2"/><path d="M425.6 694.2l-9.6 2.4l-9.7 2.2l8.9 10.3l8.8 10.8l9.7-2.1l9.6-2.3l-8.8-10.9l-4.5-5.2z" fill="#a50026"/><path d="M809.3 1240l-9.1 23.6l-9.2 22.2l9 7.2l9 4.9l9.1-22.4l9.2-23.9l-9-4.7l-4.5-3.2z" fill="#9dcee3"/><path d="M553.3 813.2l-9.5 4.9l-9.5 4.4l9.1 18.2l9.1 19.3l9.5-4.9l9.5-5.6l-9.1-18.7l-4.5-8.9z" fill="#e65036"/><path d="M480.4 733.5l-9.6 2.9l-9.7 2.7l9 12.8l9 13.6l9.6-2.7l9.5-3.1l-8.9-13.5l-4.5-6.5z" fill="#b91326"/><path d="M791 1285.8l-9.1 20.4l-9.2 18.4l9 7.6l8.9 5l9.2-18.7l9.2-20.6l-9-4.9l-4.5-3.3z" fill="#7fb6d6"/><path d="M608 934.2l-9.4 7.3l-9.4 6.4l9.2 24.4l9.2 25.3l9.4-7.2l9.4-8.4l-9.2-24.3l-4.6-11.8z" fill="#fdbb6d"/><path d="M882.5 985.2l-9.2 19.1l-9.1 20.9l9 5.1l9 4.7l9.2-23.3l9.1-21.9l-9-2.4l-4.5-1.1z" fill="#fed687"/><path d="M644.6 1104.1l-9.4 7.5l-9.5 5.7l9.3 27.8l9.2 27.4l9.5-6.3l9.3-8.3l-9.2-26.8l-4.6-13.5z" fill="#eff9dd"/><path d="M1047 779.7l-9.1 10.6l-9.2 11.1l9.2-0.2l9.1 1.1l9.2-10.2l9.2-9.6l-9.2-1.9l-4.6-0.6z" fill="#d42d27"/><path d="M1211.5 738.5l-9 5.5l-9 5.6l9.2 3.7l9.3 3.7l9-5.5l9.1-5.5l-9.3-3.7l-4.6-1.9z" fill="#b71126"/><path d="M736.2 1331.2l-9.3 10.9l-9.4 8.4l9.1 13.3l9 10.8l9.3-8.6l9.3-11.3l-9-10.5l-4.5-6.2z" fill="#6399c7"/><path d="M1449.1 694.5l-8.8 6l-8.9 6.2l9.4 3.1l9.5 2.9l8.9-6.2l8.9-5.8l-9.5-3.1l-4.7-1.6z" fill="#a50026"/><path d="M571.5 849.5l-9.5 5.6l-9.5 4.9l9.1 20.4l9.2 21.5l9.5-5.6l9.4-6.4l-9.1-20.7l-4.6-10z" fill="#f47044"/><path d="M589.7 889.9l-9.4 6.4l-9.5 5.6l9.2 22.5l9.2 23.5l9.4-6.4l9.4-7.3l-9.1-22.6l-4.6-11z" fill="#f99355"/><path d="M1321.3 727.2l-9 7.5l-9 7.9l4.7 4.7l4.6 6l4.6 7.6l4.6 9.6l9.1-15.2l9.1-13.3l-9.4-8.7l-4.6-3.3z" fill="#b50f26"/><path d="M827.5 1189.6l-9.1 25.7l-9.1 24.7l9 6.9l9 4.7l9.1-25.1l9.1-26l-9-4.4l-4.5-3z" fill="#c1e4ef"/><path d="M1248.1 734.8l-9 5.6l-9 5.6l9.3 3.8l9.3 4.5l9-5.5l9-5.8l-9.3-4.4l-4.6-1.9z" fill="#b50f26"/><path d="M1284.7 731l-9 6.1l-9 5.9l9.3 5.9l4.7 4.1l4.6 5.4l9-7.8l9-8l-9.3-6.8l-4.6-2.6z" fill="#b30d26"/><path d="M1485.8 689.2l-8.9 5.7l-8.8 5.8l9.5 3l9.5 3l8.8-5.5l8.9-5.4l-9.5-3.3l-4.8-1.7z" fill="#a50026"/><path d="M1358 721.8l-9 9.2l-9 11l9.2 12.4l9.2 17l9.2-21.7l9.1-15.6l-9.4-6.7l-4.7-2.9z" fill="#b30d26"/><path d="M772.7 1324.6l-9.2 16.3l-9.3 13.8l9 7.9l9 5.1l9.2-14.1l9.2-16.4l-8.9-5l-4.5-3.5z" fill="#69a0ca"/><path d="M1321.8 770.5l-9.1 16.1l-9.1 15l4.5 19.3l4.5 23.8l4.3 28.6l4.3 33.4l9.3-34.5l9.4-37.5l-9-37.7l-4.5-14.5z" fill="#e24731"/><path d="M973.9 859.1l-9.2 13.4l-9.1 13.8l9-3.8l9.1-2l9.2-15l9.2-14.1l-9.1 2.7l-4.6 2.2z" fill="#f26841"/><path d="M626.1 1050.1l-9.5 6.7l-9.4 5.2l9.2 27.6l9.3 27.7l9.5-5.7l9.4-7.5l-9.3-27.1l-4.6-13.5z" fill="#fff7b3"/><path d="M1522.4 684.8l-8.8 5.5l-8.8 5.5l9.5 3.2l9.5 3.3l8.9-5.2l8.8-5.2l-9.6-3.5l-4.7-1.8z" fill="#a50026"/><path d="M681.1 1274.2l-9.4 5l-9.5 2.6l9.2 22.3l9.1 20.5l9.5-2.8l9.4-5.3l-9.1-20.2l-4.6-10.8z" fill="#8abeda"/><path d="M1303.6 801.6l-9 12l-4.5 4.2l-4.5 2.9l4.4 22.3l4.4 27.6l4.4 33.2l4.2 38.8l4.5-3.5l4.6-7.3l4.5-11.1l4.6-14l-4.3-33.4l-4.3-28.6l-4.5-23.8z" fill="#f16640"/><path d="M845.7 1137l-9.1 26.4l-9.1 26.2l9 6.5l9 4.4l9.1-26.6l9.2-26.8l-9.1-4.2l-4.5-2.8z" fill="#e4f4f1"/><path d="M388.7 679.7l-9.7 2.1l-9.7 2.1l8.8 9.2l8.8 9.5l9.7-1.8l9.7-2l-8.8-9.8l-4.4-4.7z" fill="#a50026"/><path d="M1340 742l-9.1 13.3l-9.1 15.2l4.6 12l4.5 14.5l9 37.7l9.3-34.7l9.2-28.6l-9.2-17l-4.6-6.7z" fill="#c82227"/><path d="M662.7 1225.5l-9.4 4.7l-9.5 2.4l9.2 25.3l9.2 23.9l9.5-2.6l9.4-5l-9.2-23.7l-4.6-12.3z" fill="#aad8e9"/><path d="M498.2 759.7l-9.5 3.1l-9.6 2.7l8.9 14.5l9.1 15.4l9.6-2.8l9.5-3.4l-9-15.2l-4.5-7.3z" fill="#c82227"/><path d="M1559.1 681.4l-8.8 5.3l-8.8 5.2l9.5 3.5l9.6 3.4l8.8-4.9l8.8-5l-9.6-3.7l-4.8-1.9z" fill="#a50026"/><path d="M1083.6 765.2l-9.1 8.4l-9.1 8.9l9.1 2.6l9.2 2.9l9.2-8.3l9.1-7.7l-9.2-3.5l-4.6-1.7z" fill="#c82227"/><path d="M699.4 1316.5l-9.4 5.3l-9.5 2.8l9.1 18.3l9.1 16.1l9.5-2.9l9.3-5.6l-9-15.9l-4.6-8.8z" fill="#6ea6ce"/><path d="M1595.7 678.8l-8.8 5.1l-8.7 5l9.5 3.7l9.6 3.6l8.8-4.7l8.7-4.8l-9.5-3.9l-4.8-2z" fill="#a50026"/><path d="M1394.6 714.2l-8.9 8.6l-9 11.3l9.3 7.9l9.4 8.4l4.6-9.5l4.5-7.6l9-11.4l-9.4-3.9l-4.7-1.9z" fill="#a90426"/><path d="M443.3 715.5l-9.6 2.3l-9.7 2.1l8.9 11.4l8.9 12l9.7-1.9l9.6-2.3l-8.9-12.1l-4.4-5.9z" fill="#a90426"/><path d="M1632.3 676.9l-8.7 4.9l-8.8 4.9l9.6 3.8l9.6 3.8l8.8-4.7l8.7-4.7l-9.6-4l-4.8-2z" fill="#a50026"/><path d="M1669 675.2l-8.8 4.9l-8.7 4.8l9.6 3.9l9.7 3.8l8.7-4.7l8.7-4.8l-9.6-3.9l-4.8-2z" fill="#a50026"/><path d="M1028.7 801.4l-9.1 11.6l-9.2 12.2l9.2-0.9l9.1 0.4l9.2-11.6l9.1-10.8l-9.1-1.1l-4.6-0.1z" fill="#dc3b2c"/><path d="M607.6 997.6l-9.5 6l-9.5 4.6l9.3 26.6l9.3 27.2l9.4-5.2l9.5-6.7l-9.3-26.5l-4.6-13.1z" fill="#fee090"/><path d="M644.2 1172.5l-9.4 4.3l-9.5 2.3l9.2 27.2l9.3 26.3l9.5-2.4l9.4-4.7l-9.2-26.1l-4.6-13.3z" fill="#cfebf3"/><path d="M863.9 1084.6l-9.1 26l-9.1 26.4l9 5.9l9.1 4.2l9.1-26.9l9.1-26.7l-9-3.8l-4.5-2.4z" fill="#fbfdc7"/><path d="M1705.6 673.3l-8.7 5l-8.7 4.8l9.7 3.9l9.6 3.7l8.7-4.8l8.7-4.9l-9.7-3.8l-4.8-1.9z" fill="#a50026"/><path d="M955.6 886.3l-9.2 14.4l-9.2 15.4l9.1-1.9l9-0.7l9.2-17.1l9.2-15.9l-9.1 2l-4.5 1.6z" fill="#f67f4b"/><path d="M1120.2 757.8l-9.1 6.9l-9.1 7.3l9.2 3.6l9.2 3.5l9.1-6.9l9.2-6.6l-9.3-3.8l-4.6-2z" fill="#c21c27"/><path d="M1303.3 742.6l-9 8l-9 7.8l4.6 6.9l4.6 9.1l4.6 11.9l4.5 15.3l9.1-15l9.1-16.1l-4.6-9.6l-4.6-7.6l-4.6-6z" fill="#c01a27"/><path d="M1742.3 670.8l-8.7 5.2l-8.7 5l9.7 3.7l9.7 3.5l8.7-5l8.6-5.1l-9.7-3.6l-4.8-1.8z" fill="#a50026"/><path d="M1376.7 734.1l-9.1 15.6l-9.2 21.7l9.2 21.1l9.1 23.3l4.8-21.3l4.7-17.8l4.6-14.5l4.6-11.8l-9.4-8.4l-4.6-4.1z" fill="#c01a27"/><path d="M516.2 789.2l-9.5 3.4l-9.6 2.8l9 16.5l9.1 17.4l9.6-3.1l9.5-3.7l-9-17.2l-4.6-8.2z" fill="#da362a"/><path d="M754.2 1354.7l-9.3 11.3l-9.3 8.6l9 8.1l8.9 5.3l9.4-8.8l9.3-11.5l-9-5.1l-4.5-3.6z" fill="#5c90c2"/><path d="M351.7 666.6l-9.7 2.2l-9.8 2.1l8.8 8.2l8.8 8.5l9.7-1.8l9.8-1.9l-8.8-8.8l-4.4-4.3z" fill="#a50026"/><path d="M1156.8 753.3l-9.1 6.1l-9 6.2l9.2 3.8l9.2 3.5l9.1-6l9.1-5.9l-9.2-3.7l-4.7-2z" fill="#be1827"/><path d="M589.2 947.9l-9.5 5.3l-9.5 4.1l9.2 25l9.2 25.9l9.5-4.6l9.5-6l-9.2-25.3l-4.6-12.3z" fill="#fdbd6f"/><path d="M1431.4 706.7l-9 6.9l-8.9 8.3l9.4 3.7l9.5 3.4l9-9.3l8.9-7l-9.5-2.9l-4.7-1.5z" fill="#a50026"/><path d="M717.5 1350.5l-9.3 5.6l-9.5 2.9l9.1 13.6l9 10.9l9.4-3l9.4-5.9l-9-10.8l-4.5-6.3z" fill="#6095c4"/><path d="M882.2 1035l-9.1 24.3l-9.2 25.3l9.1 5.1l9 3.8l9.1-26.1l9.2-25.4l-9.1-3.1l-4.5-1.9z" fill="#feeda4"/><path d="M937.2 916.1l-9.2 16.4l-9.2 17.7l9.1 0.3l9.1 0.8l9.1-19.5l9.2-18.3l-9 0.7l-4.6 0.7z" fill="#fa9b58"/><path d="M1193.5 749.6l-9.1 5.7l-9.1 5.7l9.3 3.6l9.3 3.4l9-5.6l9.1-5.4l-9.3-3.7l-4.6-1.8z" fill="#bb1526"/><path d="M625.7 1117.3l-9.5 4l-9.5 2.1l9.3 28l9.3 27.7l9.5-2.3l9.4-4.3l-9.2-27.4l-4.6-13.9z" fill="#edf8df"/><path d="M534.3 822.5l-9.5 3.7l-9.6 3.1l9.1 18.6l9.1 19.6l9.6-3.3l9.5-4.2l-9.1-19.3l-4.5-9.2z" fill="#e75337"/><path d="M1266.7 743l-9 5.8l-9 5.5l9.3 6.4l4.6 4.5l4.7 5.9l9-5.8l9-6.9l-4.6-5.4l-9.3-7.3z" fill="#b91326"/><path d="M827.3 1251.6l-9.2 23.9l-9.1 22.4l8.9 2.3l9 0l9.2-22.2l9.1-23.8l-9-0.2l-4.4-0.9z" fill="#9fd0e4"/><path d="M570.8 901.9l-9.5 4.6l-9.6 3.8l9.2 23l9.3 24l9.5-4.1l9.5-5.3l-9.2-23.5l-4.6-11.4z" fill="#fa9857"/><path d="M809 1297.9l-9.2 20.6l-9.2 18.7l9 2.4l8.9-0.2l9.2-18.6l9.2-20.6l-9 0l-4.4-0.8z" fill="#7fb6d6"/><path d="M1230.1 746l-9.1 5.5l-9 5.5l9.3 3.6l9.3 4.2l9.1-5.2l9-5.3l-9.3-4.5l-4.7-1.9z" fill="#b71126"/><path d="M900.5 989.8l-9.1 21.9l-9.2 23.3l9 3.9l9.1 3.1l9.2-24.5l9.1-23.3l-9-2.1l-4.6-1.1z" fill="#fed687"/><path d="M552.5 860l-9.5 4.2l-9.6 3.3l9.2 20.8l9.1 22l9.6-3.8l9.5-4.6l-9.2-21.5l-4.5-10.3z" fill="#f57245"/><path d="M406.3 698.8l-9.7 2l-9.7 1.8l8.8 10.1l8.9 10.6l9.7-1.6l9.7-1.8l-8.8-10.8l-4.5-5.2z" fill="#a50026"/><path d="M461.1 739.1l-9.6 2.3l-9.7 1.9l9 12.8l9 13.6l9.6-1.9l9.7-2.3l-9-13.6l-4.5-6.5z" fill="#b71126"/><path d="M918.8 950.2l-9.1 19.1l-9.2 20.5l9.1 2.3l9 2.1l9.2-22.1l9.2-20.8l-9.1-0.8l-4.5-0.2z" fill="#fdb96b"/><path d="M1468.1 700.7l-8.9 5.8l-8.9 6.2l9.5 2.8l9.5 2.7l8.9-5.9l8.9-5.6l-9.5-3l-4.8-1.5z" fill="#a50026"/><path d="M1065.4 782.5l-9.2 9.6l-9.2 10.2l9.2 1.8l9.2 2.4l9.2-9.6l9.1-8.9l-9.2-2.9l-4.6-1.3z" fill="#d02927"/><path d="M1395.4 750.4l-4.6 11.8l-4.6 14.5l-4.7 17.8l-4.8 21.3l9.2 22.1l4.6 9.3l4.6 7.3l4.9-29.6l4.8-24.5l4.7-19.8l4.7-15.8l-9.4-6.4l-4.7-3.9z" fill="#d02927"/><path d="M1010.4 825.2l-9.1 12.8l-9.2 13.4l9.1-1.1l9.1 0.2l9.2-13.3l9.2-12.5l-9.1-0.4l-4.6 0.3z" fill="#e44c34"/><path d="M845.5 1200.5l-9.1 26l-9.1 25.1l8.9 2.4l9 0.2l9.2-24.9l9.1-25.8l-9-0.5l-4.5-1z" fill="#c1e4ef"/><path d="M1504.8 695.8l-8.9 5.4l-8.8 5.5l9.5 3l9.5 2.9l8.9-5.2l8.8-5.1l-9.5-3.3l-4.8-1.6z" fill="#a50026"/><path d="M790.6 1337.2l-9.2 16.4l-9.2 14.1l8.9 2.4l8.9-0.3l9.3-14l9.2-16.4l-8.9 0.2l-4.5-0.9z" fill="#69a0ca"/><path d="M607.2 1062l-9.5 3.6l-9.6 2l9.3 27.8l9.3 28l9.5-2.1l9.5-4l-9.3-27.7l-4.6-13.8z" fill="#fff8b5"/><path d="M1285.6 820.7l-4.5 1.6l-4.5 0.3l-4.5-0.8l-4.5-1.6l4.5 18.2l4.5 22.5l4.5 27l4.3 31.6l4.4 10.4l4.4 7.7l4.4 4.4l4.4 0.6l-4.2-38.8l-4.4-33.2l-4.4-27.6z" fill="#f16640"/><path d="M1541.5 691.9l-8.8 5.2l-8.9 5.2l9.6 3.2l9.5 3.1l8.9-4.9l8.8-4.9l-9.6-3.4l-4.8-1.8z" fill="#a50026"/><path d="M1285.3 758.4l-9 6.9l-9 5.8l4.6 7.9l4.6 10.4l4.5 13.7l4.6 17.6l4.5-2.9l4.5-4.2l9-12l-4.5-15.3l-4.6-11.9l-4.6-9.1z" fill="#ca2427"/><path d="M1414.1 859l-10 75.6l-10.3 94l5-13.9l5-18.6l10.2-46.3l9.9-66.9l9.7-53.9l-9.8 17.9l-4.9 7z" fill="#f88950"/><path d="M863.8 1147.1l-9.2 26.8l-9.1 26.6l9 2.5l9 0.5l9.2-26.4l9.1-26.7l-9-0.8l-4.5-1.1z" fill="#e4f4f1"/><path d="M1578.2 688.9l-8.8 5l-8.8 4.9l9.5 3.4l9.6 3.4l8.8-4.6l8.8-4.8l-9.6-3.6l-4.8-1.9z" fill="#a50026"/><path d="M1413.5 721.9l-9 11.4l-4.5 7.6l-4.6 9.5l9.4 8l9.4 6.4l4.6-12.4l4.6-9.7l4.5-7.6l4.5-6.1l-9.5-3.4l-4.7-1.8z" fill="#ab0626"/><path d="M1102 772l-9.1 7.7l-9.2 8.3l9.2 3.1l9.2 3.1l9.2-7.8l9.1-7.3l-9.2-3.5l-4.6-1.8z" fill="#c82227"/><path d="M479.1 765.5l-9.7 2.3l-9.6 1.9l9 14.5l9 15.4l9.6-1.8l9.7-2.4l-9.1-15.4l-4.5-7.3z" fill="#c62027"/><path d="M1614.8 686.7l-8.7 4.8l-8.8 4.7l9.6 3.6l9.6 3.6l8.8-4.5l8.7-4.6l-9.6-3.8l-4.8-1.9z" fill="#a50026"/><path d="M662.2 1281.8l-9.5 0.2l-9.6-2.3l9.2 22.2l9.1 20.4l9.6 2.4l9.5-0.1l-9.1-20.5l-4.6-10.9z" fill="#8ec2dc"/><path d="M369.3 683.9l-9.8 1.9l-9.7 1.8l8.8 8.9l8.8 9.2l9.8-1.4l9.7-1.7l-8.8-9.5l-4.4-4.7z" fill="#a50026"/><path d="M1285.4 919.5l-8.7-25.6l-8.7-26.7l9 42.9l8.9 47.9l8.3 61.4l8.3 59l-8.5-83.8l-4.2-39.3z" fill="#fcaa5f"/><path d="M1651.5 684.9l-8.7 4.7l-8.8 4.7l9.7 3.7l9.6 3.6l8.8-4.5l8.7-4.5l-9.7-3.8l-4.8-2z" fill="#a50026"/><path d="M643.8 1232.6l-9.6 0.2l-9.6-2l9.3 25.1l9.2 23.8l9.6 2.3l9.5-0.2l-9.2-23.9l-4.6-12.5z" fill="#b0dcea"/><path d="M1338.3 1219.3l-7.8-87.8l-7.8-91.5l4.9-12.6l4.9-16.9l10.1-41.9l8.1 62.5l8.1 60.1l-10.4 75.1l-5.1 30.2z" fill="#fff3ad"/><path d="M735.6 1374.6l-9.4 5.9l-9.4 3l9 8.2l8.9 5.5l9.5-3.2l9.3-6l-8.9-5.3l-4.5-3.7z" fill="#578abf"/><path d="M992.1 851.4l-9.2 14.1l-9.2 15l9.1-0.7l9.1 0.3l9.2-15.3l9.2-14.3l-9.1-0.2l-4.6 0.4z" fill="#ed5f3c"/><path d="M1688.2 683.1l-8.7 4.8l-8.7 4.7l9.6 3.7l9.7 3.6l8.7-4.6l8.7-4.6l-9.6-3.7l-4.9-1.9z" fill="#a50026"/><path d="M588.6 1008.2l-9.5 3.3l-9.6 1.9l9.3 26.8l9.3 27.4l9.6-2l9.5-3.6l-9.3-27.2l-4.6-13.4z" fill="#fee192"/><path d="M680.5 1324.6l-9.5 0.1l-9.6-2.4l9.2 18.3l9.1 16l9.5 2.6l9.5-0.2l-9.1-16.1l-4.5-8.9z" fill="#72abd0"/><path d="M424 719.9l-9.7 1.8l-9.7 1.6l8.9 11.1l8.9 11.9l9.7-1.4l9.7-1.6l-8.9-12l-4.4-5.8z" fill="#a50026"/><path d="M1724.9 681l-8.7 4.9l-8.7 4.8l9.7 3.6l9.7 3.4l8.7-4.7l8.7-4.8l-9.7-3.5l-4.9-1.8z" fill="#a50026"/><path d="M1138.7 765.6l-9.2 6.6l-9.1 6.9l9.3 3.4l9.2 3.3l9.1-6.6l9.1-6.3l-9.2-3.5l-4.6-1.9z" fill="#c21c27"/><path d="M882 1093.5l-9.1 26.7l-9.1 26.9l9 2.5l9 0.8l9.1-26.8l9.2-26.6l-9.1-1l-4.5-1.1z" fill="#fbfdc7"/><path d="M1394.2 1088.7l-4.8 26.6l-4.7 20l-4.6 12.4l-4.4 4.2l10.9-99.7l10.8-89.7l4.5-3.2l4.6-7.2l4.6-10.9l4.6-14l-10.7 76.4l-5.4 42.3z" fill="#fee090"/><path d="M1761.6 678.1l-8.6 5.1l-8.7 5l9.7 3.4l9.8 3.2l8.6-5l8.7-5.1l-9.7-3.3l-4.9-1.6z" fill="#a50026"/><path d="M772.2 1367.7l-9.3 11.5l-9.4 8.8l9 2.4l8.9-0.3l9.3-8.8l9.3-11.5l-8.9 0.3l-4.5-0.9z" fill="#5c90c2"/><path d="M1047 802.3l-9.1 10.8l-9.2 11.6l9.2 1.3l9.1 1.8l9.2-11.1l9.2-10.2l-9.2-2.4l-4.6-1z" fill="#da362a"/><path d="M625.3 1179.1l-9.6 0.3l-9.6-1.8l9.3 27l9.2 26.2l9.6 2l9.6-0.2l-9.3-26.3l-4.6-13.5z" fill="#d4edf4"/><path d="M497.1 795.4l-9.7 2.4l-9.6 1.8l9 16.4l9.1 17.5l9.7-1.7l9.6-2.5l-9.1-17.4l-4.5-8.4z" fill="#d93429"/><path d="M1175.3 761l-9.1 5.9l-9.1 6l9.3 3.4l9.3 3.2l9.1-5.8l9.1-5.7l-9.3-3.4l-4.6-1.8z" fill="#be1827"/><path d="M570.2 957.3l-9.6 3l-9.6 1.9l9.3 25.2l9.2 26l9.6-1.9l9.5-3.3l-9.2-25.9l-4.6-12.6z" fill="#fdbd6f"/><path d="M332.2 670.9l-9.7 2l-9.8 1.9l8.7 7.9l8.8 8.1l9.8-1.5l9.8-1.7l-8.8-8.5l-4.4-4.1z" fill="#a50026"/><path d="M1248.7 754.3l-9 5.3l-9.1 5.2l9.3 5.6l4.7 3.9l4.6 5l9-3.6l9.1-4.6l-4.7-5.9l-4.6-4.5l-4.7-3.5z" fill="#bb1526"/><path d="M1414.2 764.8l-4.7 15.8l-4.7 19.8l-4.8 24.5l-4.9 29.6l4.7 5l4.7 2.5l4.8-0.2l4.8-2.8l4.8-29.6l4.9-24.5l4.7-19.8l4.7-15.7l-4.8 0l-4.8-0.8l-4.7-1.5z" fill="#d83128"/><path d="M1450.3 712.7l-8.9 7l-9 9.3l9.5 2.8l9.5 2.2l9-9l8.9-6.8l-9.5-2.7l-4.8-1.4z" fill="#a50026"/><path d="M973.7 880.5l-9.2 15.9l-9.2 17.1l9.1 0.1l9.1 0.6l9.2-17.7l9.2-16.4l-9.1-0.3l-4.5 0.2z" fill="#f57748"/><path d="M1212 757l-9.1 5.4l-9 5.6l9.3 3.4l9.3 3.5l9.1-5.1l9-5l-9.3-4.2l-4.6-1.8z" fill="#bb1526"/><path d="M900.3 1042l-9.2 25.4l-9.1 26.1l9 2.5l9.1 1l9.2-26.1l9.1-25.5l-9-1.2l-4.6-1z" fill="#feeda4"/><path d="M515.2 829.3l-9.6 2.5l-9.7 1.7l9.1 18.6l9.2 19.8l9.6-1.8l9.6-2.6l-9.1-19.6l-4.6-9.4z" fill="#e65036"/><path d="M698.7 1359l-9.5 0.2l-9.5-2.6l9 13.7l9 11l9.6 2.5l9.5-0.3l-9-10.9l-4.6-6.5z" fill="#6399c7"/><path d="M551.7 910.3l-9.5 2.7l-9.7 1.8l9.3 23.2l9.2 24.2l9.6-1.9l9.6-3l-9.3-24l-4.6-11.7z" fill="#fa9857"/><path d="M533.4 867.5l-9.6 2.6l-9.6 1.8l9.1 20.9l9.2 22l9.7-1.8l9.5-2.7l-9.1-22l-4.6-10.5z" fill="#f47044"/><path d="M606.7 1123.4l-9.6 0.4l-9.6-1.5l9.3 27.8l9.3 27.5l9.6 1.8l9.6-0.3l-9.3-27.7l-4.7-13.9z" fill="#f1fad9"/><path d="M955.3 913.5l-9.2 18.3l-9.1 19.5l9 0.9l9.1 0.9l9.2-20.1l9.2-18.8l-9.1-0.6l-4.5-0.1z" fill="#f99355"/><path d="M918.6 994.2l-9.1 23.3l-9.2 24.5l9.1 2.2l9 1.2l9.2-24.7l9.2-23.7l-9.1-1.1l-4.6-0.8z" fill="#fed283"/><path d="M1487.1 706.7l-8.9 5.6l-8.9 5.9l9.5 2.5l9.6 2.5l8.9-5.4l8.8-5.2l-9.5-2.9l-4.8-1.5z" fill="#a50026"/><path d="M441.8 743.3l-9.7 1.6l-9.7 1.4l9 12.5l8.9 13.4l9.8-1l9.7-1.5l-9-13.6l-4.5-6.5z" fill="#b30d26"/><path d="M386.9 702.6l-9.7 1.7l-9.8 1.4l8.8 9.7l8.9 10.3l9.8-1.1l9.7-1.3l-8.9-10.6l-4.4-5.1z" fill="#a50026"/><path d="M1083.7 788l-9.1 8.9l-9.2 9.6l9.2 2.5l9.2 2.7l9.2-9.1l9.1-8.4l-9.2-3.1l-4.6-1.5z" fill="#d02927"/><path d="M937 951.3l-9.2 20.8l-9.2 22.1l9.1 1.7l9.1 1.1l9.2-22.5l9.1-21.4l-9.1-0.9l-4.5-0.4z" fill="#fdb567"/><path d="M1523.8 702.3l-8.8 5.1l-8.9 5.2l9.6 2.9l9.6 2.8l8.8-4.8l8.8-4.9l-9.5-3.1l-4.8-1.6z" fill="#a50026"/><path d="M845.2 1254.2l-9.1 23.8l-9.2 22.2l9-2.4l8.9-4.6l9.2-21.8l9.2-23.1l-9 4l-4.5 1.2z" fill="#a8d6e8"/><path d="M1267.3 771.1l-9.1 4.6l-9 3.6l4.6 6.5l4.7 8.6l4.6 11.3l4.5 14.5l4.5 1.6l4.5 0.8l4.5-0.3l4.5-1.6l-4.6-17.6l-4.5-13.7l-4.6-10.4z" fill="#cc2627"/><path d="M1028.7 824.7l-9.2 12.5l-9.2 13.3l9.2 0.9l9.2 1.4l9.2-13l9.1-12l-9.1-1.8l-4.6-0.7z" fill="#e14430"/><path d="M826.9 1300.2l-9.2 20.6l-9.2 18.6l8.9-2.8l9-5.2l9.2-18.2l9.2-20l-8.9 4.6l-4.5 1.5z" fill="#8abeda"/><path d="M1560.6 698.8l-8.8 4.9l-8.9 4.9l9.6 3.1l9.6 3.1l8.8-4.6l8.8-4.6l-9.6-3.4l-4.7-1.7z" fill="#a50026"/><path d="M863.5 1203.5l-9.1 25.8l-9.2 24.9l9-1.9l9-4l9.2-24.3l9.1-25.1l-9 3.2l-4.5 1z" fill="#c9e8f2"/><path d="M1432.4 729l-4.5 6.1l-4.5 7.6l-4.6 9.7l-4.6 12.4l9.4 3.8l4.8 0.8l4.8 0l4.6-12.3l4.6-9.6l4.5-7.5l4.5-6l-9.5-2.2l-4.8-1.3z" fill="#ad0826"/><path d="M1597.3 696.2l-8.8 4.8l-8.8 4.6l9.6 3.4l9.7 3.2l8.8-4.4l8.7-4.4l-9.6-3.6l-4.8-1.8z" fill="#a50026"/><path d="M588.1 1067.6l-9.6 0.5l-9.7-1.1l9.4 27.6l9.3 27.7l9.6 1.5l9.6-0.4l-9.3-28l-4.6-13.9z" fill="#fff6b1"/><path d="M1120.4 779.1l-9.1 7.3l-9.2 7.8l9.3 3.1l9.2 2.9l9.2-7.4l9.1-7l-9.2-3.3l-4.7-1.7z" fill="#c62027"/><path d="M1634 694.3l-8.7 4.6l-8.8 4.5l9.7 3.5l9.6 3.4l8.8-4.3l8.7-4.4l-9.6-3.6l-4.8-1.9z" fill="#a50026"/><path d="M1670.8 692.6l-8.7 4.5l-8.8 4.5l9.7 3.5l9.7 3.5l8.7-4.3l8.7-4.4l-9.7-3.6l-4.8-1.9z" fill="#a50026"/><path d="M808.5 1339.4l-9.2 16.4l-9.3 14l8.9-3l8.9-5.5l9.3-13.8l9.3-16.1l-9 5.2l-4.4 1.7z" fill="#72abd0"/><path d="M753.5 1388l-9.3 6l-9.5 3.2l9 2.6l8.9-0.2l9.4-3.3l9.4-6.2l-8.9 0.3l-4.5-0.8z" fill="#578abf"/><path d="M1707.5 690.7l-8.7 4.6l-8.7 4.6l9.7 3.4l9.7 3.4l8.7-4.4l8.7-4.6l-9.7-3.4l-4.8-1.8z" fill="#a50026"/><path d="M459.8 769.7l-9.7 1.5l-9.8 1l9.1 14.3l9 15.2l9.7-0.8l9.7-1.3l-9-15.4l-4.6-7.4z" fill="#c41e27"/><path d="M349.8 687.6l-9.8 1.7l-9.8 1.5l8.8 8.5l8.8 8.9l9.8-1.2l9.8-1.3l-8.8-9.2l-4.4-4.5z" fill="#a50026"/><path d="M881.8 1150.4l-9.1 26.7l-9.2 26.4l9-1.4l9-3.2l9.2-25.8l9.2-26l-9.1 2.5l-4.5 0.6z" fill="#e9f6e8"/><path d="M1744.3 688.2l-8.7 4.8l-8.7 4.7l9.7 3.3l9.8 3.2l8.7-4.7l8.7-4.7l-9.8-3.2l-4.9-1.7z" fill="#a50026"/><path d="M1157.1 772.9l-9.1 6.3l-9.1 6.6l9.3 3.1l9.3 2.9l9.1-6.3l9.1-6l-9.3-3.2l-4.6-1.7z" fill="#c21c27"/><path d="M716.8 1383.5l-9.5 0.3l-9.6-2.5l9 8.3l9 5.6l9.5 2.4l4.8 0.1l4.7-0.5l-8.9-5.5l-4.5-3.7z" fill="#5a8ec1"/><path d="M1414 949.8l-10 72.6l-9.8 66.3l10.8-85.1l10.7-76.4l9.4-34.4l9.5-37.4l-10.3 44.6l-5.1 24.7z" fill="#fba35c"/><path d="M1781.1 684.7l-8.7 5.1l-8.6 5l9.7 3l9.8 2.8l8.7-4.9l8.6-5.1l-9.7-2.9l-4.9-1.5z" fill="#a50026"/><path d="M569.5 1013.4l-9.6 0.6l-9.7-0.8l9.3 26.6l9.3 27.2l9.7 1.1l9.6-0.5l-9.3-27.4l-4.6-13.5z" fill="#fede8e"/><path d="M404.6 723.3l-9.7 1.3l-9.8 1.1l8.9 10.8l8.9 11.5l9.8-0.7l9.7-1l-8.9-11.9l-4.4-5.6z" fill="#a50026"/><path d="M1010.3 850.5l-9.2 14.3l-9.2 15.3l9.2 0.8l9.1 0.9l9.2-15.1l9.3-13.9l-9.2-1.4l-4.6-0.5z" fill="#ea5739"/><path d="M1193.9 768l-9.1 5.7l-9.1 5.8l9.3 3l9.3 3l9.1-5.4l9.1-5.2l-9.3-3.5l-4.7-1.7z" fill="#bd1726"/><path d="M1375.7 1151.9l-4.4-4.3l-4.2-12.2l-4.2-19.3l-4.1-24.9l10.6-80.9l10.5-72.6l4.4 10.9l4.3 8.2l4.4 4.8l4.4 0.9l-10.8 89.7l-5.5 49.5z" fill="#fedc8c"/><path d="M1065.4 806.5l-9.2 10.2l-9.2 11.1l9.2 2.1l9.2 2l9.2-10.5l9.2-9.7l-9.2-2.7l-4.6-1.3z" fill="#d83128"/><path d="M1230.6 764.8l-9 5l-9.1 5.1l9.3 4.3l9.3 6l9.1-2.9l9-3l-4.6-5l-9.3-7z" fill="#bd1726"/><path d="M900.1 1097l-9.2 26.6l-9.1 26.8l9-0.8l9.1-2.5l9.1-26.1l9.2-26l-9.1 1.7l-4.5 0.3z" fill="#feffc0"/><path d="M477.8 799.6l-9.7 1.3l-9.7 0.8l9 16.2l9.1 17.3l9.7-0.5l9.7-1.2l-9.1-17.5l-4.5-8.3z" fill="#d83128"/><path d="M643.1 1279.7l-9.7-4.6l-9.7-6.8l9.2 21.8l9.2 20l9.7 7.3l9.6 4.9l-9.1-20.4l-4.6-10.9z" fill="#9bcce2"/><path d="M624.6 1230.8l-9.6-4.2l-9.8-6.2l9.3 24.5l9.2 23.4l9.7 6.8l9.7 4.6l-9.2-23.8l-4.6-12.4z" fill="#bde2ee"/><path d="M312.7 674.8l-9.8 1.9l-9.8 1.8l8.7 7.4l8.8 7.7l9.8-1.3l9.8-1.5l-8.8-8.1l-4.3-4z" fill="#a50026"/><path d="M1469.3 718.2l-8.9 6.8l-9 9l9.6 1.6l9.5 1.3l9-7.6l8.9-6.1l-9.6-2.5l-4.7-1.2z" fill="#a50026"/><path d="M551 962.2l-9.6 0.7l-9.7-0.5l9.2 25l9.3 25.8l9.7 0.8l9.6-0.6l-9.2-26l-4.7-12.8z" fill="#fdb96b"/><path d="M661.4 1322.3l-9.6-4.9l-9.7-7.3l9.1 18l9.1 15.8l9.7 7.6l9.7 5.1l-9.1-16l-4.6-8.9z" fill="#81b7d7"/><path d="M790 1369.8l-9.3 11.5l-9.3 8.8l8.9-3l8.9-5.6l9.3-8.8l9.3-11.4l-8.9 5.5l-4.4 1.8z" fill="#659bc8"/><path d="M991.9 880.1l-9.2 16.4l-9.2 17.7l9.2 0.7l9.1 0.6l9.2-17.4l9.2-16.3l-9.1-0.9l-4.6-0.5z" fill="#f47044"/><path d="M495.9 833.5l-9.7 1.2l-9.7 0.5l9.2 18.4l9.1 19.5l9.7-0.2l9.7-1l-9.2-19.8l-4.5-9.4z" fill="#e44c34"/><path d="M918.4 1045.4l-9.1 25.5l-9.2 26.1l9-0.3l9.1-1.7l9.2-25.5l9.2-24.9l-9.1 0.9l-4.5 0.1z" fill="#feea9f"/><path d="M1267.6 820.2l-8.9-5l-9-5.2l4.6 10.6l4.6 13l9.1 33.6l8.7 26.7l8.7 25.6l-4.3-31.6l-4.5-27l-4.5-22.5z" fill="#e44c34"/><path d="M532.5 914.8l-9.6 0.9l-9.7-0.1l9.2 22.9l9.3 23.9l9.7 0.5l9.6-0.7l-9.2-24.2l-4.7-11.7z" fill="#f99355"/><path d="M606.1 1177.6l-9.7-3.7l-9.7-5.5l9.3 26.3l9.2 25.7l9.8 6.2l9.6 4.2l-9.2-26.2l-4.7-13.4z" fill="#e0f3f8"/><path d="M1506.1 712.6l-8.8 5.2l-8.9 5.4l9.5 2.5l9.6 2.4l8.9-5l8.9-4.8l-9.6-2.8l-4.8-1.5z" fill="#a50026"/><path d="M514.2 871.9l-9.7 1l-9.7 0.2l9.2 20.7l9.2 21.8l9.7 0.1l9.6-0.9l-9.2-22l-4.5-10.6z" fill="#f36b42"/><path d="M1102.1 794.2l-9.1 8.4l-9.2 9.1l9.3 2.5l9.2 2.4l9.2-8.5l9.1-7.9l-9.2-2.9l-4.6-1.5z" fill="#ce2827"/><path d="M367.4 705.7l-9.8 1.3l-9.8 1.2l8.9 9.3l8.8 9.8l9.8-0.7l9.8-0.9l-8.9-10.3l-4.4-4.9z" fill="#a50026"/><path d="M1433.2 769.4l-4.7 15.7l-4.7 19.8l-4.9 24.5l-4.8 29.6l4.8-5.1l4.9-7l9.8-17.9l4.8-21.3l4.7-17.6l4.7-14.4l4.6-11.6l-9.6 3.5l-4.8 1.2z" fill="#cc2627"/><path d="M1542.9 708.6l-8.8 4.9l-8.8 4.8l9.5 2.8l9.6 2.8l8.9-4.5l8.8-4.6l-9.6-3.1l-4.8-1.5z" fill="#a50026"/><path d="M973.5 914.2l-9.2 18.8l-9.2 20.1l9.2 0.7l9.1 0.2l9.2-19.9l9.2-18.6l-9.1-0.6l-4.6-0.4z" fill="#f98e52"/><path d="M936.8 997l-9.2 23.7l-9.2 24.7l9.1 0.1l9.1-0.9l9.2-24.2l9.2-23.2l-9.1 0.3l-4.6-0.1z" fill="#fece7f"/><path d="M422.4 746.3l-9.7 1l-9.8 0.7l9 12.2l8.9 13l9.8-0.3l9.7-0.7l-8.9-13.4l-4.5-6.4z" fill="#af0926"/><path d="M955.1 953.1l-9.1 21.4l-9.2 22.5l9.1 0.5l9.1-0.3l9.2-22.2l9.2-21l-9.1-0.2l-4.6-0.3z" fill="#fdaf62"/><path d="M1579.7 705.6l-8.8 4.6l-8.8 4.6l9.6 3.1l9.7 3l8.8-4.3l8.8-4.4l-9.7-3.2l-4.8-1.7z" fill="#a50026"/><path d="M1047 827.8l-9.1 12l-9.2 13l9.1 1.5l9.2 1.4l9.3-12.3l9.1-11.5l-9.2-2l-4.6-1.1z" fill="#e0422f"/><path d="M1616.5 703.4l-8.7 4.4l-8.8 4.4l9.6 3.3l9.7 3.2l8.7-4.2l8.8-4.2l-9.6-3.4l-4.9-1.8z" fill="#a50026"/><path d="M587.5 1122.3l-9.7-3.1l-9.8-4.8l9.3 27.1l9.4 26.9l9.7 5.5l9.7 3.7l-9.3-27.5l-4.7-13.9z" fill="#f7fcce"/><path d="M1249.2 779.3l-9 3l-9.1 2.9l4.7 4.2l4.6 5.3l4.7 6.7l4.6 8.6l9 5.2l8.9 5l-4.5-14.5l-4.6-11.3l-4.7-8.6z" fill="#c82227"/><path d="M679.7 1356.6l-9.7-5.1l-9.7-7.6l9.1 13.5l9 11l9.7 7.7l9.6 5.2l-9-11l-4.5-6.5z" fill="#6ea6ce"/><path d="M1653.3 701.6l-8.7 4.4l-8.8 4.3l9.7 3.3l9.7 3.3l8.7-4.1l8.8-4.2l-9.7-3.5l-4.9-1.7z" fill="#a50026"/><path d="M1138.9 785.8l-9.1 7l-9.2 7.4l9.3 2.7l9.3 2.5l9.1-7l9.2-6.6l-9.3-2.9l-4.7-1.5z" fill="#c62027"/><path d="M1690.1 699.9l-8.7 4.4l-8.7 4.3l9.6 3.3l9.8 3.2l8.7-4.1l8.7-4.3l-9.7-3.4l-4.8-1.7z" fill="#a50026"/><path d="M1451.4 734l-4.5 6l-4.5 7.5l-4.6 9.6l-4.6 12.3l9.6-1.8l9.6-3.5l4.6-9.2l4.5-7.3l9-10.7l-9.5-1.3l-4.8-0.8z" fill="#a90426"/><path d="M1726.9 697.7l-8.7 4.6l-8.7 4.4l9.7 3.2l9.8 3.1l8.7-4.4l8.7-4.4l-9.8-3.2l-4.8-1.6z" fill="#a50026"/><path d="M1763.8 694.8l-8.7 4.7l-8.7 4.7l9.7 3l9.8 2.8l8.7-4.6l8.7-4.8l-9.8-2.8l-4.9-1.5z" fill="#a50026"/><path d="M734.7 1397.2l-4.7 0.5l-9.5-1l-4.8-1.5l8.9 2.7l8.9 0.1l9.6 2.1l9.5-0.5l-8.9 0.2l-4.5-1z" fill="#5a8ec1"/><path d="M1175.7 779.5l-9.1 6l-9.1 6.3l9.3 2.7l9.3 2.6l9.1-5.9l9.1-5.7l-9.3-3l-4.7-1.5z" fill="#c01a27"/><path d="M330.2 690.8l-9.8 1.5l-9.8 1.3l8.7 8.1l8.9 8.4l9.8-0.9l9.8-1l-8.8-8.9l-4.4-4.3z" fill="#a50026"/><path d="M440.3 772.2l-9.7 0.7l-9.8 0.3l9 13.8l9.1 14.8l9.7 0.2l9.8-0.3l-9-15.2l-4.6-7.3z" fill="#be1827"/><path d="M568.8 1067l-9.7-2.6l-9.7-4.1l9.3 27l9.3 27.1l9.8 4.8l9.7 3.1l-9.3-27.7l-4.7-13.9z" fill="#fff0a8"/><path d="M1800.6 690.6l-8.6 5.1l-8.7 4.9l9.8 2.7l9.8 2.5l8.7-4.9l8.7-5.1l-9.9-2.5l-4.9-1.3z" fill="#a50026"/><path d="M863.2 1248.3l-9.2 23.1l-9.2 21.8l9-6.9l8.9-8.8l9.2-20.8l9.3-22.2l-9 7.8l-4.5 3.2z" fill="#b6dfec"/><path d="M1212.5 774.9l-9.1 5.2l-9.1 5.4l9.3 3.2l9.4 3.7l9.1-3.9l9-3.3l-9.3-6l-4.7-2.3z" fill="#bd1726"/><path d="M844.8 1293.2l-9.2 20l-9.2 18.2l8.9-7.4l8.9-9.6l9.3-17.6l9.2-19.3l-8.9 8.8l-4.5 3.7z" fill="#9bcce2"/><path d="M881.5 1198.9l-9.1 25.1l-9.2 24.3l9-6l9-7.8l9.2-23.3l9.2-24.1l-9.1 6.7l-4.5 2.8z" fill="#d8eff6"/><path d="M771.4 1390.1l-9.4 6.2l-9.4 3.3l8.9-2.9l8.8-5.6l9.5-3.5l9.4-6.1l-8.9 5.6l-4.5 1.9z" fill="#6095c4"/><path d="M1028.7 852.8l-9.3 13.9l-9.2 15.1l9.2 1l9.2 0.8l9.2-14.5l9.2-13.4l-9.2-1.4l-4.6-0.8z" fill="#e75337"/><path d="M385.1 725.7l-9.8 0.9l-9.8 0.7l8.9 10.3l8.9 11l9.8-0.2l9.8-0.4l-8.9-11.5l-4.4-5.5z" fill="#a50026"/><path d="M1083.8 811.7l-9.2 9.7l-9.2 10.5l9.3 2l9.2 1.8l9.2-9.9l9.2-9.2l-9.2-2.4l-4.7-1.3z" fill="#d62f27"/><path d="M899.9 1147.1l-9.2 26l-9.2 25.8l9-5.1l9.1-6.7l9.2-24.6l9.2-24.9l-9.1 5.5l-4.5 2.2z" fill="#f0f9db"/><path d="M550.2 1013.2l-9.7-2l-9.7-3.3l9.3 25.9l9.3 26.5l9.7 4.1l9.7 2.6l-9.3-27.2l-4.6-13.4z" fill="#fed485"/><path d="M1488.4 723.2l-8.9 6.1l-9 7.6l9.6 1.1l9.6 1.3l8.9-6l8.9-5.2l-9.6-2.4l-4.7-1.3z" fill="#a50026"/><path d="M293.1 678.5l-9.9 1.7l-9.8 1.7l8.7 7l8.7 7.2l9.9-1.2l9.9-1.3l-8.8-7.7l-4.4-3.7z" fill="#a50026"/><path d="M458.4 801.7l-9.8 0.3l-9.7-0.2l9 15.8l9.1 16.8l9.8 0.7l9.7 0.1l-9.1-17.3l-4.5-8.2z" fill="#d22b27"/><path d="M697.7 1381.3l-9.6-5.2l-9.7-7.7l9.1 8.3l8.9 5.7l9.7 7.7l9.6 5.1l-9-5.6l-4.5-3.8z" fill="#659bc8"/><path d="M826.4 1331.4l-9.3 16.1l-9.3 13.8l8.9-7.9l8.9-10.2l9.3-13.3l9.3-15.5l-8.9 9.6l-4.5 4z" fill="#83b9d8"/><path d="M1525.3 718.3l-8.9 4.8l-8.9 5l9.6 2.4l9.6 2.4l8.9-4.5l8.8-4.5l-9.6-2.8l-4.8-1.4z" fill="#a50026"/><path d="M918.2 1095l-9.2 26l-9.1 26.1l9-4l9.1-5.5l9.2-25l9.2-24.8l-9.1 4.2l-4.6 1.7z" fill="#fff8b5"/><path d="M1010.2 881.8l-9.2 16.3l-9.2 17.4l9.2 0.3l9.2 0.1l9.2-16.8l9.2-15.5l-9.2-0.8l-4.6-0.5z" fill="#f36b42"/><path d="M531.7 962.4l-9.8-1.5l-9.7-2.5l9.3 24.3l9.3 25.2l9.7 3.3l9.7 2l-9.3-25.8l-4.6-12.6z" fill="#fdb164"/><path d="M1433.6 829l-9.7 53.9l-9.9 66.9l10.3-49.8l10.3-44.6l9.5-34.5l9.3-28.2l-9.9 17l-4.9 9.6z" fill="#e24731"/><path d="M1120.6 800.2l-9.1 7.9l-9.2 8.5l9.3 2.3l9.2 2l9.2-8l9.2-7.5l-9.3-2.5l-4.6-1.3z" fill="#cc2627"/><path d="M476.5 835.2l-9.7-0.1l-9.8-0.7l9.1 17.9l9.2 19l9.8 1.3l9.7 0.5l-9.1-19.5l-4.6-9.4z" fill="#e14430"/><path d="M1562.1 714.8l-8.8 4.6l-8.9 4.5l9.7 2.8l9.6 2.7l8.8-4.2l8.9-4.3l-9.7-3l-4.8-1.5z" fill="#a50026"/><path d="M1285.9 958l-8.4-53.1l-4.3-21.4l-4.4-17.7l9.3 18.4l4.7 7.6l4.6 6.1l4.3 26.8l8.2 69.7l4 41.8l-4.5-14.5l-9-40.2z" fill="#f88950"/><path d="M1599 712.2l-8.8 4.4l-8.8 4.3l9.6 3l9.7 2.9l8.8-4l8.8-4.1l-9.7-3.2l-4.8-1.6z" fill="#a50026"/><path d="M513.2 915.6l-9.7-1l-9.8-1.9l9.2 22.3l9.3 23.4l9.7 2.5l9.8 1.5l-9.3-23.9l-4.6-11.6z" fill="#f88950"/><path d="M494.8 873.1l-9.7-0.5l-9.8-1.3l9.2 20.1l9.2 21.3l9.8 1.9l9.7 1l-9.2-21.8l-4.6-10.5z" fill="#ef633f"/><path d="M347.8 708.2l-9.8 1l-9.8 0.9l8.8 8.8l8.8 9.3l9.9-0.4l9.8-0.5l-8.8-9.8l-4.5-4.7z" fill="#a50026"/><path d="M936.6 1044.6l-9.2 24.9l-9.2 25.5l9.1-3l9.1-4.2l9.2-24.4l9.2-23.8l-9.1 3l-4.6 1.1z" fill="#fee496"/><path d="M1635.8 710.3l-8.8 4.2l-8.7 4.2l9.6 3.1l9.7 3l8.8-3.9l8.8-4l-9.7-3.3l-4.9-1.7z" fill="#a50026"/><path d="M402.9 748l-9.8 0.4l-9.8 0.2l8.9 11.7l9 12.5l9.8 0.3l9.8 0.1l-8.9-13l-4.5-6.2z" fill="#ab0626"/><path d="M991.8 915.5l-9.2 18.6l-9.2 19.9l9.1-0.3l9.2-0.9l9.2-19l9.3-17.9l-9.2-0.1l-4.6-0.1z" fill="#f8864f"/><path d="M1672.7 708.6l-8.8 4.2l-8.7 4.1l9.7 3.1l9.7 3.1l8.7-3.9l8.8-4.1l-9.8-3.2l-4.8-1.7z" fill="#a50026"/><path d="M1065.4 831.9l-9.1 11.5l-9.3 12.3l9.3 1.3l9.2 1.1l9.2-11.6l9.2-10.8l-9.2-1.8l-4.6-1z" fill="#dd3d2d"/><path d="M1709.5 706.7l-8.7 4.3l-8.7 4.1l9.7 3.1l9.7 3l8.8-4l8.7-4.2l-9.8-3.1l-4.8-1.6z" fill="#a50026"/><path d="M1157.5 791.8l-9.2 6.6l-9.1 7l9.3 2.4l9.3 2.1l9.1-6.6l9.2-6.2l-9.3-2.6l-4.7-1.3z" fill="#c41e27"/><path d="M955 997.2l-9.2 23.2l-9.2 24.2l9.1-2l9.1-3l9.2-23.1l9.2-22.3l-9.1 1.9l-4.6 0.6z" fill="#fdc778"/><path d="M973.4 954l-9.2 21l-9.2 22.2l9.1-1.1l9.1-1.9l9.3-21.2l9.2-20.2l-9.2 0.9l-4.5 0.2z" fill="#fca85e"/><path d="M623.7 1268.3l-9.8-8.9l-9.8-10.8l9.2 21l9.2 19.4l9.8 11.6l9.8 9.5l-9.2-20l-4.6-10.7z" fill="#b0dcea"/><path d="M605.2 1220.4l-9.8-8.2l-9.8-9.9l9.3 23.7l9.2 22.6l9.8 10.8l9.8 8.9l-9.2-23.4l-4.6-12.1z" fill="#cfebf3"/><path d="M1746.4 704.2l-8.7 4.4l-8.7 4.4l9.8 2.9l9.7 2.8l8.7-4.3l8.7-4.4l-9.8-2.8l-4.8-1.5z" fill="#a50026"/><path d="M1231.1 785.2l-9 3.3l-9.1 3.9l9.3 4.9l9.4 7.1l9 1.7l9 3.9l-4.6-8.6l-4.7-6.7l-4.6-5.3z" fill="#c21c27"/><path d="M807.8 1361.3l-9.3 11.4l-9.3 8.8l8.9-8.2l8.8-10.4l9.4-8.6l9.3-11.1l-8.9 10.2l-4.4 4.3z" fill="#76afd2"/><path d="M1783.3 700.6l-8.7 4.8l-8.7 4.6l9.8 2.7l9.9 2.5l8.7-4.6l8.6-4.8l-9.8-2.5l-4.9-1.3z" fill="#a50026"/><path d="M1194.3 785.5l-9.1 5.7l-9.1 5.9l9.3 2.5l9.4 2.5l9.1-5.2l9.1-4.5l-9.4-3.7l-4.6-1.6z" fill="#be1827"/><path d="M586.7 1168.4l-9.8-7.3l-9.9-8.9l9.3 25.4l9.3 24.7l9.8 9.9l9.8 8.2l-9.2-25.7l-4.7-13.1z" fill="#ebf7e4"/><path d="M1303.9 1036.2l-8.1-79.2l-4.1-32.3l-4.3-26.8l4.7 4l4.7 1.9l4.8-0.4l4.8-2.5l4.2 27l8.2 70.1l3.9 42l-4.8 7.6l-4.7 1.9l-4.7-3.8z" fill="#fba35c"/><path d="M642.1 1310.1l-9.8-9.5l-9.8-11.6l9.2 17.5l9.1 15.5l9.8 12l9.7 9.9l-9.1-15.8l-4.5-8.7z" fill="#97c9e0"/><path d="M1470.5 736.9l-9 10.7l-4.5 7.3l-4.6 9.2l9.7-3.9l9.6-3.3l9-10.2l9-7.4l-9.6-1.3l-4.8-0.6z" fill="#a50026"/><path d="M1268 867.2l-8.8-22.6l-4.5-8.8l-4.4-7.1l9.3 17.6l9.2 19.5l4.4 17.7l8.5 46.4l4.2 28.1l-8.9-47.9l-4.5-22.4z" fill="#e95538"/><path d="M1820.3 695.8l-8.7 5.1l-8.7 4.9l9.9 2.4l9.9 2.1l8.6-5l8.7-5.1l-9.9-2.1l-4.9-1.1z" fill="#a50026"/><path d="M310.6 693.6l-9.9 1.3l-9.9 1.2l8.8 7.6l8.8 7.9l9.9-0.7l9.9-0.8l-8.9-8.4l-4.3-4.1z" fill="#a50026"/><path d="M420.8 773.2l-9.8-0.1l-9.8-0.3l9 13.3l9 14.1l9.9 1l9.8 0.6l-9.1-14.8l-4.5-7z" fill="#b91326"/><path d="M568 1114.4l-9.8-6.3l-9.8-7.8l9.3 26.1l9.3 25.8l9.9 8.9l9.8 7.3l-9.4-26.9l-4.6-13.5z" fill="#fffdbc"/><path d="M752.6 1399.6l-9.5 0.5l-9.6-2.1l8.9-2.7l8.9-5.4l9.6 1.9l9.4-0.7l-8.8 5.6l-4.5 1.8z" fill="#6399c7"/><path d="M1102.3 816.6l-9.2 9.2l-9.2 9.9l9.3 1.7l9.2 1.4l9.2-9.3l9.2-8.6l-9.2-2l-4.7-1.1z" fill="#d42d27"/><path d="M1452.4 764.1l-4.6 11.6l-4.7 14.4l-4.7 17.6l-4.8 21.3l9.9-19.3l9.9-17l9.2-21l9.1-14.8l-9.6 3.3l-4.9 2z" fill="#b71126"/><path d="M1047 855.7l-9.2 13.4l-9.2 14.5l9.2 0.5l9.2 0.2l9.3-13.6l9.2-12.6l-9.2-1.1l-4.6-0.6z" fill="#e54e35"/><path d="M1249.7 810l-9-3.9l-9-1.7l9.3 10.3l9.3 14l4.4 7.1l4.5 8.8l8.8 22.6l-9.1-33.6l-4.6-13z" fill="#d22b27"/><path d="M365.5 727.3l-9.8 0.5l-9.9 0.4l8.9 9.8l8.9 10.4l9.9 0.2l9.8 0l-8.9-11l-4.4-5.2z" fill="#a50026"/><path d="M715.7 1395.2l-9.6-5.1l-9.7-7.7l9 3l8.9 0.3l9.6 7.4l9.6 4.9l-8.9-0.1l-4.4-1z" fill="#659bc8"/><path d="M1507.5 728.1l-8.9 5.2l-8.9 6l9.6 1.4l9.6 1.7l8.9-4.8l8.9-4.7l-9.6-2.4l-4.8-1.2z" fill="#a50026"/><path d="M660.3 1343.9l-9.7-9.9l-9.8-12l9.1 13.1l9 10.9l9.8 12.3l9.7 10.1l-9-11l-4.5-6.4z" fill="#85bbd9"/><path d="M273.4 681.9l-9.9 1.6l-9.9 1.6l8.7 6.5l8.7 6.8l10-1.1l9.8-1.2l-8.7-7.2l-4.4-3.5z" fill="#a50026"/><path d="M549.4 1060.3l-9.8-5.3l-9.9-6.6l9.3 25.9l9.4 26l9.8 7.8l9.8 6.3l-9.3-27.1l-4.7-13.5z" fill="#fee79b"/><path d="M1544.4 723.9l-8.8 4.5l-8.9 4.5l9.7 2.5l9.6 2.4l8.9-4.2l8.8-4.2l-9.6-2.7l-4.8-1.4z" fill="#a50026"/><path d="M438.9 801.8l-9.8-0.6l-9.9-1l9.1 15.2l9.1 16.1l9.8 1.7l9.8 1.2l-9.1-16.8l-4.5-8z" fill="#cc2627"/><path d="M1581.4 720.9l-8.9 4.3l-8.8 4.2l9.7 2.7l9.6 2.7l8.8-4l8.9-4l-9.7-2.9l-4.8-1.5z" fill="#a50026"/><path d="M1139.2 805.4l-9.2 7.5l-9.2 8l9.3 1.9l9.3 1.6l9.2-7.5l9.2-7l-9.3-2.1l-4.7-1.2z" fill="#ca2427"/><path d="M1618.3 718.7l-8.8 4.1l-8.8 4l9.6 2.9l9.7 2.8l8.8-3.8l8.8-3.9l-9.7-3l-4.8-1.6z" fill="#a50026"/><path d="M1028.6 883.6l-9.2 15.5l-9.2 16.8l9.2-0.4l9.2-0.8l9.2-15.7l9.2-14.7l-9.2-0.2l-4.6-0.2z" fill="#ef633f"/><path d="M1655.2 716.9l-8.8 4l-8.8 3.9l9.7 3l9.8 2.9l8.7-3.7l8.8-3.9l-9.7-3.1l-4.9-1.5z" fill="#a50026"/><path d="M530.8 1007.9l-9.9-4.4l-9.8-5.5l9.3 24.9l9.3 25.5l9.9 6.6l9.8 5.3l-9.3-26.5l-4.7-13z" fill="#fec87a"/><path d="M789.2 1381.5l-9.4 6.1l-9.5 3.5l8.9-8.1l8.9-10.5l9.4-3.5l9.4-6.1l-8.8 10.4l-4.5 4.4z" fill="#70a9cf"/><path d="M1692.1 715.1l-8.8 4.1l-8.7 3.9l9.7 3l9.8 2.9l8.7-3.8l8.7-4l-9.7-3l-4.9-1.5z" fill="#a50026"/><path d="M881.2 1234.5l-9.3 22.2l-9.2 20.8l9-10.6l9-12.3l9.2-19.7l9.3-20.9l-9 11l-4.5 4.9z" fill="#cdeaf3"/><path d="M899.6 1187.1l-9.2 24.1l-9.2 23.3l9-9.5l9-11l9.2-21.9l9.3-22.6l-9.1 9.5l-4.5 4.2z" fill="#e7f6eb"/><path d="M1729 713l-8.7 4.2l-8.8 4l9.8 2.9l9.8 2.7l8.7-4l8.7-4.1l-9.7-2.8l-4.9-1.4z" fill="#a50026"/><path d="M457 834.4l-9.8-1.2l-9.8-1.7l9.1 17.2l9.1 18.2l9.9 2.5l9.8 1.9l-9.2-19l-4.5-9.1z" fill="#dc3b2c"/><path d="M328.2 710.1l-9.9 0.8l-9.9 0.7l8.8 8.2l8.9 8.7l9.9-0.1l9.8-0.2l-8.8-9.3l-4.4-4.5z" fill="#a50026"/><path d="M1176.1 797.1l-9.2 6.2l-9.1 6.6l9.3 2l9.4 1.9l9.1-6.1l9.2-5.6l-9.4-2.5l-4.7-1.3z" fill="#c21c27"/><path d="M918 1137.6l-9.2 24.9l-9.2 24.6l9-8.1l9.1-9.5l9.2-23.2l9.2-23.4l-9.1 7.9l-4.5 3.6z" fill="#fbfdc7"/><path d="M1765.9 710l-8.7 4.4l-8.7 4.3l9.8 2.7l9.9 2.5l8.7-4.3l8.7-4.4l-9.9-2.5l-4.9-1.3z" fill="#a50026"/><path d="M1083.9 835.7l-9.2 10.8l-9.2 11.6l9.2 0.9l9.3 0.6l9.2-10.8l9.2-10l-9.2-1.4l-4.7-0.8z" fill="#db382b"/><path d="M512.2 958.4l-9.8-3.5l-9.9-4.4l9.3 23.4l9.3 24.1l9.8 5.5l9.9 4.4l-9.3-25.2l-4.7-12.3z" fill="#fca55d"/><path d="M862.7 1277.5l-9.2 19.3l-9.3 17.6l9-11.6l8.9-13.3l9.3-16.6l9.3-18.3l-9 12.3l-4.5 5.5z" fill="#b2ddeb"/><path d="M383.3 748.6l-9.8 0l-9.9-0.2l8.9 11.1l9 11.8l9.9 0.8l9.8 0.7l-9-12.5l-4.4-5.9z" fill="#a50026"/><path d="M1010.2 915.9l-9.3 17.9l-9.2 19l9.2-1.4l9.2-2l9.2-17.9l9.3-16.8l-9.2 0.8l-4.6 0.2z" fill="#f67c4a"/><path d="M475.3 871.3l-9.8-1.9l-9.9-2.5l9.2 19.3l9.2 20.4l9.9 3.4l9.8 2.7l-9.2-21.3l-4.6-10.2z" fill="#eb5a3a"/><path d="M1213 792.4l-9.1 4.5l-9.1 5.2l9.3 2.7l9.4 3.1l9.1-2.7l9.1-0.8l-9.4-7.1l-4.7-2.6z" fill="#be1827"/><path d="M493.7 912.7l-9.8-2.7l-9.9-3.4l9.3 21.5l9.2 22.4l9.9 4.4l9.8 3.5l-9.3-23.4l-4.6-11.3z" fill="#f67c4a"/><path d="M936.4 1087.8l-9.2 24.8l-9.2 25l9-6.8l9.1-7.9l9.3-23.4l9.2-23.3l-9.1 6.3l-4.6 2.8z" fill="#fff0a8"/><path d="M1802.9 705.8l-8.6 4.8l-8.7 4.6l9.8 2.3l9.9 2.2l8.7-4.6l8.7-4.8l-9.9-2.1l-4.9-1.2z" fill="#a50026"/><path d="M678.4 1368.4l-9.7-10.1l-9.8-12.3l9 8.3l9 5.8l9.8 12.3l9.7 10l-8.9-5.7l-4.5-3.8z" fill="#7ab2d4"/><path d="M954.8 1039.6l-9.2 23.8l-9.2 24.4l9.1-5.3l9.1-6.3l9.2-22.9l9.3-22.4l-9.2 4.8l-4.5 2z" fill="#feda8a"/><path d="M991.7 952.8l-9.2 20.2l-9.3 21.2l9.2-2.6l9.2-3.3l9.2-19.9l9.3-19l-9.2 2l-4.6 0.8z" fill="#fb9d59"/><path d="M973.2 994.2l-9.2 22.3l-9.2 23.1l9.1-3.9l9.2-4.8l9.2-21.7l9.3-20.9l-9.2 3.3l-4.6 1.4z" fill="#fdbd6f"/><path d="M1840 700.2l-8.7 5.1l-8.6 5l9.8 2l10 1.8l8.6-5l8.7-5.2l-9.9-1.7l-5-1z" fill="#a50026"/><path d="M1358.8 1091.2l-8.1-60.1l-8.1-62.5l10.1-45.1l10.1-40.3l8.6 27.8l8.5 26.7l-10.5 72.6l-5.3 40.2z" fill="#fa9b58"/><path d="M844.2 1314.4l-9.3 15.5l-9.3 13.3l9-12.2l8.9-14l9.3-12.8l9.3-14.7l-8.9 13.3l-4.5 6z" fill="#9fd0e4"/><path d="M290.8 696.1l-9.8 1.2l-10 1.1l8.8 7.1l8.8 7.3l9.9-0.6l9.9-0.6l-8.8-7.9l-4.4-3.8z" fill="#a50026"/><path d="M1489.7 739.3l-9 7.4l-9 10.2l9.7-2.1l9.7-0.8l8.9-6.3l8.9-5.3l-9.6-1.7l-4.8-0.7z" fill="#a50026"/><path d="M1120.8 820.9l-9.2 8.6l-9.2 9.3l9.3 1.2l9.3 1l9.3-8.6l9.1-8l-9.3-1.6l-4.6-0.9z" fill="#d02927"/><path d="M401.2 772.8l-9.8-0.7l-9.9-0.8l9 12.5l9 13.5l9.9 1.6l9.8 1.3l-9-14.1l-4.5-6.8z" fill="#b30d26"/><path d="M1065.5 858.1l-9.2 12.6l-9.3 13.6l9.3 0l9.2-0.4l9.3-12.6l9.2-11.7l-9.3-0.6l-4.6-0.4z" fill="#e34933"/><path d="M1526.7 732.9l-8.9 4.7l-8.9 4.8l9.7 1.9l9.6 2l8.9-4.3l8.9-4.2l-9.6-2.4l-4.9-1.2z" fill="#a50026"/><path d="M345.8 728.2l-9.8 0.2l-9.9 0.1l8.8 9.3l8.9 9.7l9.9 0.5l9.9 0.4l-8.9-10.4l-4.4-5z" fill="#a50026"/><path d="M253.6 685.1l-9.9 1.5l-10 1.5l8.7 6.1l8.8 6.3l9.9-1l9.9-1.1l-8.7-6.8l-4.4-3.3z" fill="#a50026"/><path d="M1563.7 729.4l-8.8 4.2l-8.9 4.2l9.7 2.5l9.6 2.4l8.9-4l8.8-3.9l-9.6-2.7l-4.9-1.3z" fill="#a50026"/><path d="M1600.7 726.8l-8.9 4l-8.8 4l9.7 2.6l9.7 2.7l8.8-3.8l8.8-3.8l-9.7-2.8l-4.8-1.4z" fill="#a50026"/><path d="M733.5 1398l-9.6-4.9l-9.6-7.4l8.9-2.3l8.9-4.9l9.6 7l9.6 4.4l-8.9 5.4l-4.4 1.6z" fill="#6ea6ce"/><path d="M585.6 1202.3l-9.9-11.5l-10-12.8l9.3 22.5l9.2 21.5l10 14l9.9 12.6l-9.2-22.6l-4.7-11.7z" fill="#e5f5ef"/><path d="M1637.6 724.8l-8.8 3.9l-8.8 3.8l9.8 2.8l9.7 2.8l8.8-3.7l8.8-3.7l-9.8-2.9l-4.8-1.5z" fill="#a50026"/><path d="M1157.8 809.9l-9.2 7l-9.2 7.5l9.4 1.5l9.3 1.4l9.2-7l9.2-6.5l-9.4-1.9l-4.6-1z" fill="#c62027"/><path d="M604.1 1248.6l-9.9-12.6l-10-14l9.3 20.1l9.2 18.5l9.9 15l9.9 13.4l-9.2-19.4l-4.6-10.3z" fill="#cbe9f2"/><path d="M1674.6 723.1l-8.8 3.9l-8.7 3.7l9.7 2.9l9.8 2.8l8.7-3.7l8.8-3.7l-9.8-2.9l-4.9-1.5z" fill="#a50026"/><path d="M567 1152.2l-9.9-10.2l-10-11.6l9.3 24.1l9.3 23.5l10 12.8l9.9 11.5l-9.3-24.7l-4.6-12.6z" fill="#f8fccb"/><path d="M825.6 1343.2l-9.3 11.1l-9.4 8.6l8.9-12.6l8.9-14.4l9.4-8.3l9.4-10.6l-8.9 14l-4.5 6.4z" fill="#90c3dd"/><path d="M1711.5 721.2l-8.7 4l-8.7 3.8l9.7 2.8l9.8 2.7l8.8-3.8l8.7-3.9l-9.8-2.7l-4.9-1.4z" fill="#a50026"/><path d="M419.2 800.2l-9.8-1.3l-9.9-1.6l9 14.3l9.1 15.3l9.9 2.5l9.9 2.1l-9.1-16.1l-4.5-7.7z" fill="#c21c27"/><path d="M1231.7 804.4l-9.1 0.8l-9.1 2.7l9.4 4l9.4 4.8l4.5 1l4.5 2.1l4.5 3.6l4.5 5.3l-9.3-14l-4.7-5.6z" fill="#c21c27"/><path d="M770.3 1391.1l-9.4 0.7l-9.6-1.9l8.9-7.8l8.9-10.1l9.5 1.5l9.5-1l-8.9 10.5l-4.4 4.3z" fill="#72abd0"/><path d="M1322.7 1040l-8-79.6l-4.1-32.5l-4.2-27l4.8-4.6l9.7-13.7l4.8-8.1l4.3 18.1l8.4 47.4l4.2 28.6l-10.1 41.9l-4.9 16.9z" fill="#f7814c"/><path d="M1748.5 718.7l-8.7 4.1l-8.7 4l9.8 2.7l9.8 2.5l8.8-4l8.7-4.1l-9.9-2.5l-4.9-1.3z" fill="#a50026"/><path d="M1471.7 756.9l-9.1 14.8l-9.2 21l4.9-7.1l5-5.8l4.9-4.7l4.8-3.6l9.1-9.8l9-7.7l-9.7 0.8l-4.8 0.9z" fill="#a50026"/><path d="M1047 884.3l-9.2 14.7l-9.2 15.7l9.2-1.1l9.2-1.5l9.3-14.6l9.2-13.6l-9.2 0.4l-4.6 0z" fill="#eb5a3a"/><path d="M622.5 1289l-9.9-13.4l-9.9-15l9.1 16.8l9.1 14.9l10 15.7l9.9 14l-9.1-15.5l-4.6-8.5z" fill="#b4deec"/><path d="M1194.8 802.1l-9.2 5.6l-9.1 6.1l9.3 1.8l9.4 1.8l9.2-5.2l9.1-4.3l-9.4-3.1l-4.7-1.4z" fill="#c01a27"/><path d="M548.4 1100.3l-9.9-9l-10-10.1l9.3 24.7l9.3 24.5l10 11.6l9.9 10.2l-9.3-25.8l-4.7-13z" fill="#fff1aa"/><path d="M1785.6 715.2l-8.7 4.4l-8.7 4.3l9.8 2.3l9.9 2.2l8.7-4.3l8.7-4.4l-9.9-2.2l-4.9-1.1z" fill="#a50026"/><path d="M308.4 711.6l-9.9 0.6l-9.9 0.6l8.8 7.7l8.8 8.1l9.9 0l10-0.1l-8.9-8.7l-4.4-4.1z" fill="#a50026"/><path d="M1434.6 855.4l-9.5 37.4l-9.4 34.4l5.3-32l5.2-27.2l5.2-22.4l5.1-17.8l9.2-14.4l9.1-15.3l-5 10.2l-5 12.8l-5.1 15.7z" fill="#d93429"/><path d="M1102.4 838.8l-9.2 10l-9.2 10.8l9.3 0.4l9.3 0.2l9.2-9.9l9.2-9.3l-9.3-1l-4.6-0.6z" fill="#d93429"/><path d="M696.4 1382.4l-9.7-10l-9.8-12.3l9 3.2l8.9 0.7l9.8 12l9.7 9.7l-8.9-0.3l-4.5-1.1z" fill="#7ab2d4"/><path d="M1822.7 710.3l-8.7 4.8l-8.7 4.6l9.9 2l9.9 1.8l8.7-4.6l8.7-4.8l-10-1.8l-4.9-1z" fill="#a50026"/><path d="M529.7 1048.4l-9.9-7.7l-9.9-8.6l9.3 24.5l9.3 24.6l10 10.1l9.9 9l-9.4-26l-4.6-13z" fill="#feda8a"/><path d="M363.6 748.4l-9.9-0.4l-9.9-0.5l8.9 10.4l9 11l9.9 1.3l9.9 1.1l-9-11.8l-4.4-5.7z" fill="#a50026"/><path d="M437.4 831.5l-9.9-2.1l-9.9-2.5l9.1 16.2l9.2 17.3l9.9 3.5l9.8 3l-9.1-18.2l-4.6-8.7z" fill="#d83128"/><path d="M1453.4 792.7l-9.3 28.2l-9.5 34.5l5.1-18.6l5.1-15.7l5-12.8l5-10.2l9.2-14.3l9-12.3l-4.8 3.6l-4.9 4.7l-5 5.8z" fill="#bb1526"/><path d="M1415.7 927.2l-4.6 14l-4.6 10.9l-4.6 7.2l-4.5 3.2l5.4-37.6l5.2-32l5.2-26.4l5.2-21l4.5-2.6l4.5-3.8l9.1-11.3l-5.1 17.8l-5.2 22.4l-5.2 27.2z" fill="#e75337"/><path d="M1028.6 914.7l-9.3 16.8l-9.2 17.9l9.2-2.4l9.2-2.9l9.3-16.5l9.2-15.5l-9.2 1.5l-4.6 0.6z" fill="#f57245"/><path d="M1859.8 703.9l-8.7 5.2l-8.6 5l9.9 1.6l10 1.4l8.6-5l8.7-5.2l-10-1.4l-4.9-0.8z" fill="#a50026"/><path d="M511.1 998l-9.9-6.4l-10-7.2l9.3 23.6l9.4 24.1l9.9 8.6l9.9 7.7l-9.3-25.5l-4.7-12.5z" fill="#fdb96b"/><path d="M455.6 866.9l-9.8-3l-9.9-3.5l9.1 18.3l9.2 19.3l9.9 4.6l9.9 4l-9.2-20.4l-4.6-9.8z" fill="#e44c34"/><path d="M640.8 1322l-9.9-14l-10-15.7l9.1 12.7l9.1 10.6l9.9 16.1l9.9 14.3l-9-10.9l-4.6-6.3z" fill="#a3d3e6"/><path d="M271 698.4l-9.9 1.1l-9.9 1l8.7 6.6l8.8 6.8l9.9-0.5l10-0.6l-8.8-7.3l-4.4-3.6z" fill="#a50026"/><path d="M1508.9 742.4l-8.9 5.3l-8.9 6.3l9.6 0.2l9.7 1.1l8.9-4.6l8.9-4.4l-9.6-2l-4.8-1z" fill="#a50026"/><path d="M492.5 950.5l-9.9-5.2l-9.9-5.8l9.3 22l9.2 22.9l10 7.2l9.9 6.4l-9.3-24.1l-4.7-11.8z" fill="#f99153"/><path d="M474 906.6l-9.9-4l-9.9-4.6l9.2 20.2l9.3 21.3l9.9 5.8l9.9 5.2l-9.2-22.4l-4.7-10.9z" fill="#f46d43"/><path d="M1010.1 949.4l-9.3 19l-9.2 19.9l9.2-3.9l9.2-4.4l9.3-18.4l9.2-17.5l-9.2 2.9l-4.6 1.3z" fill="#f98e52"/><path d="M1139.4 824.4l-9.1 8l-9.3 8.6l9.4 0.9l9.3 0.7l9.2-7.9l9.2-7.4l-9.3-1.4l-4.7-0.7z" fill="#cc2627"/><path d="M1250.3 828.7l-4.5-5.3l-4.5-3.6l-4.5-2.1l-4.5-1l9.3 5.7l9.4 6.2l4.5 5l4.5 7.6l4.4 10.6l4.4 14l-9.2-19.5l-4.7-9.2z" fill="#cc2627"/><path d="M1546 737.8l-8.9 4.2l-8.9 4.3l9.7 2.1l9.7 2.2l8.9-4l8.8-3.9l-9.6-2.4l-4.9-1.3z" fill="#a50026"/><path d="M917.7 1169.5l-9.3 22.6l-9.2 21.9l9-12.2l9.1-13.3l9.2-20.3l9.3-21l-9.1 11.6l-4.5 5.5z" fill="#f6fbd0"/><path d="M936.1 1122.9l-9.2 23.4l-9.2 23.2l9-10.7l9.1-11.6l9.3-21.3l9.3-21.7l-9.2 9.8l-4.5 4.6z" fill="#fff7b3"/><path d="M991.6 988.3l-9.3 20.9l-9.2 21.7l9.2-5.5l9.1-6.1l9.3-20l9.3-19.3l-9.2 4.4l-4.6 2.1z" fill="#fdaf62"/><path d="M806.9 1362.9l-9.4 6.1l-9.4 3.5l8.9-12.5l8.8-14.5l9.5-3.6l9.4-6l-8.9 14.4l-4.4 6.6z" fill="#8cc0db"/><path d="M1583 734.8l-8.8 3.9l-8.9 4l9.7 2.4l9.7 2.4l8.9-3.7l8.8-3.7l-9.7-2.7l-4.8-1.3z" fill="#a50026"/><path d="M954.6 1076.2l-9.2 23.3l-9.3 23.4l9.1-8.9l9.2-9.8l9.2-21.6l9.3-21.5l-9.2 7.9l-4.5 3.7z" fill="#fee597"/><path d="M973.1 1030.9l-9.3 22.4l-9.2 22.9l9.1-7.2l9.2-7.9l9.3-21.2l9.2-20.6l-9.1 6.1l-4.6 2.8z" fill="#feca7c"/><path d="M1084 859.6l-9.2 11.7l-9.3 12.6l9.3-0.6l9.3-0.8l9.3-11.5l9.2-10.8l-9.3-0.2l-4.6-0.1z" fill="#e0422f"/><path d="M233.7 688.1l-9.9 1.5l-10 1.5l8.7 5.7l8.7 5.8l10-1l10-1.1l-8.8-6.3l-4.3-3z" fill="#a50026"/><path d="M899.2 1214l-9.3 20.9l-9.2 19.7l9-13.6l9-14.8l9.3-18.3l9.3-19.4l-9.1 13.3l-4.5 6.2z" fill="#e5f5ef"/><path d="M1620 732.5l-8.8 3.8l-8.8 3.8l9.7 2.6l9.8 2.6l8.8-3.6l8.8-3.6l-9.7-2.8l-4.9-1.4z" fill="#a50026"/><path d="M381.5 771.3l-9.9-1.1l-9.9-1.3l8.9 11.8l9 12.6l10 2.1l9.9 1.9l-9-13.5l-4.5-6.4z" fill="#ab0626"/><path d="M326.1 728.5l-10 0.1l-9.9 0l8.8 8.6l8.9 9l10 0.7l9.9 0.6l-8.9-9.7l-4.4-4.7z" fill="#a50026"/><path d="M1657.1 730.7l-8.8 3.7l-8.8 3.7l9.7 2.7l9.8 2.7l8.8-3.6l8.8-3.5l-9.8-2.8l-4.9-1.4z" fill="#a50026"/><path d="M1694.1 729l-8.8 3.7l-8.7 3.7l9.7 2.7l9.8 2.6l8.8-3.6l8.7-3.6l-9.8-2.7l-4.8-1.4z" fill="#a50026"/><path d="M1176.5 813.8l-9.2 6.5l-9.2 7l9.4 1.2l9.4 1.1l9.1-6.4l9.2-5.8l-9.4-1.8l-4.7-0.9z" fill="#c41e27"/><path d="M1731.1 726.8l-8.7 3.9l-8.8 3.8l9.8 2.6l9.9 2.4l8.7-3.7l8.7-3.8l-9.8-2.5l-4.9-1.3z" fill="#a50026"/><path d="M880.7 1254.6l-9.3 18.3l-9.3 16.6l9-14.8l9-16l9.3-15.5l9.3-17l-9 14.8l-4.5 7z" fill="#d1ecf4"/><path d="M1768.2 723.9l-8.7 4.1l-8.8 4l9.9 2.3l9.9 2.3l8.7-4l8.7-4.2l-9.9-2.2l-4.9-1.1z" fill="#a50026"/><path d="M1213.5 807.9l-9.1 4.3l-9.2 5.2l9.4 1.8l9.4 1.9l9.1-3.4l4.6-0.9l4.6-0.1l-9.4-4.8l-4.7-2.1z" fill="#be1827"/><path d="M1805.3 719.7l-8.7 4.4l-8.7 4.3l9.9 2.1l9.9 1.9l8.7-4.4l8.7-4.5l-9.9-1.8l-5-1z" fill="#a50026"/><path d="M658.9 1346l-9.9-14.3l-9.9-16.1l9 8.3l9 5.9l10 16l9.8 14.3l-9-5.8l-4.5-3.9z" fill="#99cae1"/><path d="M1268.8 865.8l-4.4-14l-4.4-10.6l-4.5-7.6l-4.5-5l9.5 5.9l9.4 4.5l4.5 8.6l4.4 12.2l4.3 16.5l4.3 21.6l-4.6-6.1l-9.3-16.5z" fill="#d83128"/><path d="M399.5 797.3l-9.9-1.9l-10-2.1l9.1 13.4l9 14.3l10 3l9.9 2.9l-9.1-15.3l-4.5-7.3z" fill="#bb1526"/><path d="M1065.5 883.9l-9.2 13.6l-9.3 14.6l9.3-1.8l9.3-2.1l9.3-13.3l9.2-12.4l-9.3 0.8l-4.6 0.4z" fill="#e75337"/><path d="M288.6 712.8l-10 0.6l-9.9 0.5l8.8 7.1l8.8 7.5l9.9 0.1l10 0l-8.8-8.1l-4.4-3.9z" fill="#a50026"/><path d="M1842.5 714.1l-8.7 4.8l-8.7 4.6l9.9 1.7l10 1.5l8.7-4.7l8.7-4.9l-10-1.4l-5-0.8z" fill="#a50026"/><path d="M1397.4 962.5l-4.4-0.9l-4.4-4.8l-4.3-8.2l-4.4-10.9l5.3-30.4l5.1-25.9l5.1-21.3l5.1-16.9l4.5 2.1l4.4 1.3l4.5 0.1l4.5-1.2l-5.2 21l-5.2 26.4l-5.2 32z" fill="#e65036"/><path d="M1121 841l-9.2 9.3l-9.2 9.9l9.3 0.1l9.4-0.1l9.2-9.1l9.2-8.5l-9.3-0.7l-4.7-0.4z" fill="#d42d27"/><path d="M751.3 1389.9l-9.6-4.4l-9.6-7l8.9-7.2l8.8-9.6l9.7 6.3l9.6 4l-8.9 10.1l-4.4 4.2z" fill="#7fb6d6"/><path d="M862.1 1289.5l-9.3 14.7l-9.3 12.8l8.9-15.6l9-17l9.3-11.9l9.4-13.8l-9 16l-4.5 7.6z" fill="#bfe3ef"/><path d="M1491.1 754l-9 7.7l-9.1 9.8l4.9-2.5l9.7-2.9l4.9-0.5l9-5.4l8.9-4.9l-9.7-1.1l-4.8-0.2z" fill="#a50026"/><path d="M714.3 1385.7l-9.7-9.7l-9.8-12l8.9-1.8l8.9-4.3l9.8 11.4l9.7 9.2l-8.9 4.9l-4.5 1.5z" fill="#83b9d8"/><path d="M343.8 747.5l-9.9-0.6l-10-0.7l8.9 9.7l8.9 10.2l10 1.5l10 1.3l-9-11l-4.4-5.3z" fill="#a50026"/><path d="M1879.7 706.9l-8.7 5.2l-8.6 5l10 1.3l10 1.1l8.6-5.1l8.7-5.3l-10-1l-5-0.6z" fill="#a50026"/><path d="M1528.2 746.3l-8.9 4.4l-8.9 4.6l9.7 1.5l9.7 1.7l8.9-4l8.9-3.9l-9.7-2.2l-4.8-1.1z" fill="#a50026"/><path d="M417.6 826.9l-9.9-2.9l-10-3l9.1 15.2l9.1 16.1l10 4.2l10 3.9l-9.2-17.3l-4.5-8.2z" fill="#cc2627"/><path d="M251.2 700.5l-10 1.1l-10 1l8.7 6.1l8.8 6.3l10-0.6l10-0.5l-8.8-6.8l-4.4-3.3z" fill="#a50026"/><path d="M1047 912.1l-9.2 15.5l-9.3 16.5l9.3-3.2l9.2-3.4l9.3-15.1l9.3-14.2l-9.3 2.1l-4.6 0.9z" fill="#f16640"/><path d="M1565.3 742.7l-8.8 3.9l-8.9 4l9.7 2.1l9.7 2.2l8.9-3.7l8.8-3.7l-9.7-2.4l-4.8-1.2z" fill="#a50026"/><path d="M1158.1 827.3l-9.2 7.4l-9.2 7.9l9.4 0.6l9.4 0.6l9.2-7.3l9.2-6.9l-9.4-1.1l-4.7-0.6z" fill="#c82227"/><path d="M565.7 1178l-10-14.1l-10.1-15l9.3 21.2l9.3 20.1l10 16.4l10 15.4l-9.2-21.5l-4.6-11.1z" fill="#f7fcce"/><path d="M1602.4 740.1l-8.8 3.7l-8.9 3.7l9.7 2.4l9.8 2.4l8.8-3.5l8.9-3.5l-9.8-2.6l-4.8-1.3z" fill="#a50026"/><path d="M547.1 1130.4l-10-12.5l-10-13.5l9.3 22.5l9.2 22l10.1 15l10 14.1l-9.3-23.5l-4.6-11.9z" fill="#fff5af"/><path d="M788.1 1372.5l-9.5 1l-9.5-1.5l8.8-12.2l8.9-14.1l9.5 1.1l9.5-1.3l-8.8 14.5l-4.5 6.5z" fill="#8ec2dc"/><path d="M1639.5 738.1l-8.8 3.6l-8.8 3.6l9.7 2.5l9.8 2.5l8.8-3.4l8.8-3.4l-9.8-2.7l-4.8-1.4z" fill="#a50026"/><path d="M435.9 860.4l-10-3.9l-10-4.2l9.2 17l9.2 18.1l10 5.5l9.9 5.1l-9.2-19.3l-4.6-9.3z" fill="#dd3d2d"/><path d="M528.5 1081.2l-10-11l-10.1-11.8l9.3 23.1l9.4 22.9l10 13.5l10 12.5l-9.3-24.5l-4.6-12.3z" fill="#fee294"/><path d="M584.2 1222l-10-15.4l-10-16.4l9.2 19l9.2 17.5l10 17.5l10.1 16.4l-9.2-18.5l-4.6-9.9z" fill="#e7f6eb"/><path d="M1676.6 736.4l-8.8 3.5l-8.8 3.6l9.8 2.6l9.8 2.5l8.8-3.4l8.7-3.5l-9.8-2.6l-4.9-1.4z" fill="#a50026"/><path d="M213.8 691.1l-10 1.5l-10 1.4l8.7 5.3l8.7 5.4l10-1l10-1.1l-8.7-5.8l-4.3-2.9z" fill="#a50026"/><path d="M1713.6 734.5l-8.7 3.6l-8.8 3.6l9.8 2.5l9.9 2.5l8.7-3.5l8.8-3.7l-9.9-2.4l-4.9-1.3z" fill="#a50026"/><path d="M843.5 1317l-9.4 10.6l-9.4 8.3l8.9-16l9-17.5l9.4-7.9l9.4-10.1l-9 17l-4.5 8z" fill="#b2ddeb"/><path d="M1102.6 860.2l-9.2 10.8l-9.3 11.5l9.3-0.9l9.4-1.1l9.2-10.5l9.3-9.8l-9.4 0.1l-4.6 0z" fill="#db382b"/><path d="M509.9 1032.1l-10-9.5l-10.1-10.1l9.3 22.9l9.3 23l10.1 11.8l10 11l-9.3-24.6l-4.7-12.3z" fill="#fdc576"/><path d="M1028.5 944.1l-9.2 17.5l-9.3 18.4l9.2-4.8l9.3-5.1l9.3-16.7l9.2-15.9l-9.2 3.4l-4.7 1.7z" fill="#f67f4b"/><path d="M1750.7 732l-8.7 3.8l-8.7 3.7l9.8 2.4l9.9 2.3l8.7-3.8l8.8-3.8l-9.9-2.3l-4.9-1.1z" fill="#a50026"/><path d="M454.2 898l-9.9-5.1l-10-5.5l9.2 18.9l9.2 19.8l10 6.9l10 6.5l-9.3-21.3l-4.6-10.2z" fill="#eb5a3a"/><path d="M1195.2 817.4l-9.2 5.8l-9.1 6.4l9.4 1.1l9.4 1l9.1-5.7l9.2-4.9l-9.4-1.9l-4.7-0.9z" fill="#c01a27"/><path d="M306.2 728.6l-10 0l-9.9-0.1l8.8 7.9l8.9 8.4l9.9 0.7l10 0.7l-8.9-9l-4.4-4.4z" fill="#a50026"/><path d="M1287.4 897.9l-4.3-21.6l-4.3-16.5l-4.4-12.2l-4.5-8.6l9.5 2.5l9.5 0l4.5 8.7l4.4 12.3l4.3 16.7l4.3 21.7l-4.8 2.5l-4.8 0.4l-4.7-1.9z" fill="#da362a"/><path d="M491.2 984.4l-9.9-7.9l-10.1-8.5l9.3 22l9.3 22.5l10.1 10.1l10 9.5l-9.4-24.1l-4.6-11.9z" fill="#fba35c"/><path d="M361.7 768.9l-10-1.3l-10-1.5l9 10.9l9 11.7l10 2.3l9.9 2.3l-9-12.6l-4.5-6z" fill="#a50026"/><path d="M472.7 939.5l-10-6.5l-10-6.9l9.3 20.6l9.2 21.3l10.1 8.5l9.9 7.9l-9.2-22.9l-4.7-11.1z" fill="#f67c4a"/><path d="M1787.9 728.4l-8.7 4.2l-8.7 4l9.9 2.1l9.9 1.9l8.7-4l8.7-4.2l-9.9-1.9l-5-1z" fill="#a50026"/><path d="M1232.3 816.7l-4.6 0.1l-9.1 2.3l-4.6 2l9.4 2l9.5 2.1l4.5-0.9l4.6 0.1l4.5 1.3l4.5 2.9l-9.4-6.2l-4.7-2.9z" fill="#be1827"/><path d="M1473 771.5l-9 12.3l-9.2 14.3l5-7.7l4.9-5.7l4.9-3.9l4.9-2.6l9-6.6l9-6l-9.7 1.6l-4.9 1.8z" fill="#a50026"/><path d="M676.9 1360.1l-9.8-14.3l-10-16l9 3.5l9 1.1l9.9 15.7l9.8 13.9l-8.9-0.7l-4.5-1.3z" fill="#99cae1"/><path d="M602.7 1260.6l-10.1-16.4l-10-17.5l9.1 15.9l9.2 14.2l10 18.3l10 17.2l-9.1-14.9l-4.6-8.2z" fill="#d6eef5"/><path d="M1010 980l-9.3 19.3l-9.3 20l9.3-6.6l9.2-6.9l9.3-18.2l9.3-17.5l-9.3 5.1l-4.6 2.5z" fill="#fb9d59"/><path d="M1825.1 723.5l-8.7 4.5l-8.7 4.4l9.9 1.7l10 1.6l8.7-4.4l8.7-4.6l-10-1.5l-4.9-0.8z" fill="#a50026"/><path d="M991.4 1019.3l-9.2 20.6l-9.3 21.2l9.2-8.5l9.2-8.9l9.3-19.2l9.3-18.7l-9.2 6.9l-4.7 3.4z" fill="#fdb96b"/><path d="M1862.4 717.1l-8.7 4.9l-8.7 4.7l10 1.4l10 1.2l8.7-4.8l8.7-5l-10-1.1l-5-0.6z" fill="#a50026"/><path d="M972.9 1061.1l-9.3 21.5l-9.2 21.6l9.1-10.4l9.2-10.9l9.3-19.6l9.3-19.6l-9.2 8.9l-4.6 4.3z" fill="#fed283"/><path d="M268.7 713.9l-10 0.5l-10 0.6l8.8 6.5l8.8 6.9l10 0.1l10 0l-8.8-7.5l-4.4-3.6z" fill="#a50026"/><path d="M1139.7 842.6l-9.2 8.5l-9.2 9.1l9.3-0.1l9.4-0.2l9.2-8.4l9.3-7.7l-9.4-0.6l-4.7-0.3z" fill="#d02927"/><path d="M954.4 1104.2l-9.3 21.7l-9.3 21.3l9.1-12.3l9.2-12.8l9.3-19.5l9.3-19.7l-9.2 10.9l-4.6 5.3z" fill="#fee99d"/><path d="M1084.1 882.5l-9.2 12.4l-9.3 13.3l9.3-2.2l9.3-2.3l9.3-12l9.3-11.2l-9.4 1.1l-4.6 0.5z" fill="#e34933"/><path d="M1510.4 755.3l-8.9 4.9l-9 5.4l9.7 0.2l9.7 1l8.9-4.2l9-4.1l-9.7-1.7l-4.9-0.8z" fill="#a50026"/><path d="M379.6 793.3l-9.9-2.3l-10-2.3l9 12.4l9 13.2l10 3.4l10 3.3l-9-14.3l-4.6-6.8z" fill="#b10b26"/><path d="M620.9 1292.3l-10-17.2l-10-18.3l9.1 12.3l9.1 10.2l10 18.8l10 17.5l-9.1-10.6l-4.5-6.1z" fill="#c5e6f0"/><path d="M1899.7 709.1l-8.7 5.3l-8.6 5.1l10 1l10 0.8l8.7-5.2l8.7-5.3l-10.1-0.8l-5-0.4z" fill="#a50026"/><path d="M935.8 1147.2l-9.3 21l-9.2 20.3l9.1-14.1l9.1-14.8l9.3-18.5l9.3-19l-9.2 12.8l-4.5 6.3z" fill="#fff8b5"/><path d="M1342.6 968.6l-8.3-54.1l-4.3-21.9l-4.3-18.1l9.8-16.8l9.8-15l4.4 7.5l4.4 9.3l8.7 23.7l-10.1 40.3l-5.1 22.4z" fill="#e14430"/><path d="M1547.6 750.6l-8.9 3.9l-8.9 4l9.7 2l9.7 2l8.9-3.8l8.9-3.8l-9.7-2.2l-4.9-1.1z" fill="#a50026"/><path d="M323.9 746.2l-10-0.7l-9.9-0.7l8.8 8.9l8.9 9.4l10.1 1.5l9.9 1.5l-8.9-10.2l-4.4-4.9z" fill="#a50026"/><path d="M1454.8 798.1l-9.1 15.3l-9.2 14.4l5.1-13.7l5-10.2l4.9-7.3l5-5.1l9-6.6l9-6.7l-4.9 2.6l-4.9 3.9l-4.9 5.7z" fill="#ab0626"/><path d="M1584.7 747.5l-8.8 3.7l-8.9 3.7l9.7 2.3l9.8 2.2l8.8-3.5l8.9-3.6l-9.8-2.4l-4.8-1.2z" fill="#a50026"/><path d="M231.2 702.6l-10 1.1l-10 1l8.7 5.6l8.8 5.8l10-0.6l10-0.5l-8.8-6.3l-4.3-3.1z" fill="#a50026"/><path d="M824.7 1335.9l-9.4 6l-9.5 3.6l8.9-16.1l8.9-17.5l9.5-3.6l9.5-5.9l-9 17.5l-4.4 8.2z" fill="#acdae9"/><path d="M917.3 1188.5l-9.3 19.4l-9.3 18.3l9-15.7l9.1-16.4l9.3-16.8l9.4-17.7l-9.1 14.8l-4.6 7.1z" fill="#f7fcce"/><path d="M1621.9 745.3l-8.9 3.5l-8.8 3.5l9.7 2.4l9.8 2.4l8.9-3.4l8.8-3.4l-9.8-2.5l-4.9-1.3z" fill="#a50026"/><path d="M1176.9 829.6l-9.2 6.9l-9.2 7.3l9.3 0.5l9.5 0.4l9.2-6.7l9.2-6.3l-9.4-1l-4.7-0.5z" fill="#c41e27"/><path d="M1659 743.5l-8.8 3.4l-8.8 3.4l9.8 2.6l9.8 2.4l8.8-3.3l8.8-3.4l-9.8-2.5l-4.9-1.3z" fill="#a50026"/><path d="M1696.1 741.7l-8.7 3.5l-8.8 3.4l9.8 2.5l9.8 2.5l8.8-3.4l8.8-3.5l-9.9-2.5l-4.9-1.2z" fill="#a50026"/><path d="M1733.3 739.5l-8.8 3.7l-8.7 3.5l9.8 2.4l9.9 2.3l8.7-3.5l8.8-3.7l-9.9-2.3l-4.9-1.2z" fill="#a50026"/><path d="M732.1 1378.5l-9.7-9.2l-9.8-11.4l8.9-6.5l8.9-8.7l9.7 10.5l9.7 8.5l-8.8 9.6l-4.5 3.9z" fill="#94c7df"/><path d="M397.7 821l-10-3.3l-10-3.4l9.1 14l9.1 14.9l10 4.6l10 4.5l-9.1-16.1l-4.5-7.8z" fill="#c01a27"/><path d="M193.8 694l-10 1.5l-10 1.5l8.6 4.9l8.7 5l10.1-1.1l10-1.1l-8.7-5.4l-4.3-2.6z" fill="#a50026"/><path d="M1065.6 908.2l-9.3 14.2l-9.3 15.1l9.3-3.7l9.3-3.7l9.3-13.6l9.3-12.8l-9.3 2.3l-4.7 1.1z" fill="#eb5a3a"/><path d="M1770.5 736.6l-8.8 3.8l-8.7 3.8l9.9 2.2l9.9 2l8.7-3.8l8.8-4l-9.9-1.9l-5-1.1z" fill="#a50026"/><path d="M898.7 1226.2l-9.3 17l-9.3 15.5l9-17.1l9-17.7l9.4-14.2l9.3-15.6l-9.1 16.4l-4.5 7.9z" fill="#ebf7e4"/><path d="M1251 828.6l-4.5-2.9l-4.5-1.3l-4.6-0.1l-4.5 0.9l9.4 2l9.5 1.7l4.6 0l4.5 1.4l4.5 3.2l4.5 5.5l-9.4-4.5l-4.7-2.9z" fill="#be1827"/><path d="M1214 821.1l-9.2 4.9l-9.1 5.7l9.4 1l9.4 1l9.2-4.9l9.2-3.6l-9.5-2.1l-4.7-1z" fill="#bd1726"/><path d="M1379.9 937.7l-8.5-26.7l-8.6-27.8l5-16.9l5-14.2l5-11.7l4.9-9.2l8.9 6.2l8.9 5.8l-5.1 16.9l-5.1 21.3l-5.1 25.9z" fill="#d93429"/><path d="M769.1 1372l-9.6-4l-9.7-6.3l8.9-11.5l8.9-13.4l9.6 5.5l9.6 3.4l-8.9 14.1l-4.4 6.4z" fill="#99cae1"/><path d="M1807.7 732.4l-8.7 4.2l-8.7 4l9.9 1.9l9.9 1.7l8.8-4.2l8.7-4.3l-10-1.6l-4.9-0.8z" fill="#a50026"/><path d="M1121.3 860.2l-9.3 9.8l-9.2 10.5l9.3-1.1l9.4-1.2l9.2-9.5l9.3-8.8l-9.4 0.2l-4.7 0.1z" fill="#d83128"/><path d="M286.3 728.5l-10 0l-10-0.1l8.8 7.3l8.8 7.7l10 0.7l10.1 0.7l-8.9-8.4l-4.4-4z" fill="#a50026"/><path d="M639.1 1315.6l-10-17.5l-10-18.8l9 8.1l9.1 6l10 18.8l9.9 17.6l-9-5.9l-4.5-3.9z" fill="#bde2ee"/><path d="M1845 726.7l-8.7 4.6l-8.7 4.4l10 1.5l10 1.4l8.7-4.6l8.7-4.7l-10-1.2l-5-0.7z" fill="#a50026"/><path d="M415.9 852.3l-10-4.5l-10-4.6l9.1 15.8l9.2 16.6l10.1 6l10 5.8l-9.2-18.1l-4.6-8.6z" fill="#d42d27"/><path d="M694.8 1364l-9.8-13.9l-9.9-15.7l8.9-1.2l8.9-3.5l9.9 15l9.8 13.2l-8.9 4.3l-4.4 1.2z" fill="#9fd0e4"/><path d="M341.7 766.1l-9.9-1.5l-10.1-1.5l9 10l8.9 10.7l10.1 2.4l10 2.5l-9-11.7l-4.5-5.5z" fill="#a50026"/><path d="M1306.4 900.9l-4.3-21.7l-4.3-16.7l-4.4-12.3l-4.5-8.7l9.6-2l9.6-3.4l4.4 5.3l4.5 7.8l4.4 10.9l4.3 14.4l-9.7 15.6l-4.8 6.2z" fill="#d22b27"/><path d="M1047 937.5l-9.2 15.9l-9.3 16.7l9.2-5.3l9.3-5.4l9.3-15l9.3-14.3l-9.3 3.7l-4.6 1.8z" fill="#f47044"/><path d="M1492.5 765.6l-9 6l-9 6.6l4.9-1.6l9.7-1.1l4.9 0.1l9-4.4l8.9-4.4l-9.7-1l-4.8-0.2z" fill="#a50026"/><path d="M1436.5 827.8l-9.1 11.3l-4.5 3.8l-4.5 2.6l5.1-16.3l5-12.1l5-8.8l4.9-6l9-4.9l9.1-5.9l-5 5.1l-4.9 7.3l-5 10.2z" fill="#b30d26"/><path d="M880.1 1258.7l-9.4 13.8l-9.3 11.9l8.9-17.9l9.1-18.7l9.3-11.2l9.4-12.7l-9 17.7l-4.5 8.7z" fill="#e1f3f6"/><path d="M1882.4 719.5l-8.7 5l-8.7 4.8l10 1.1l10.1 0.9l8.7-4.9l8.6-5.1l-10-0.8l-5-0.5z" fill="#a50026"/><path d="M434.3 887.4l-10-5.8l-10.1-6l9.2 17.4l9.2 18.3l10.1 7.5l10 7.3l-9.2-19.8l-4.6-9.6z" fill="#e24731"/><path d="M248.7 715l-10 0.5l-10 0.6l8.7 6.1l8.8 6.4l10-0.1l10.1-0.1l-8.8-6.9l-4.4-3.3z" fill="#a50026"/><path d="M1529.8 758.5l-9 4.1l-8.9 4.2l9.7 1.6l9.7 1.7l9-3.8l8.9-3.8l-9.7-2l-4.9-1z" fill="#a50026"/><path d="M1158.5 843.8l-9.3 7.7l-9.2 8.4l9.4-0.3l9.4-0.2l9.2-7.5l9.3-7.2l-9.5-0.4l-4.7-0.3z" fill="#ca2427"/><path d="M452.7 926.1l-10-7.3l-10.1-7.5l9.2 19l9.3 19.6l10.1 9.2l10 8.9l-9.2-21.3l-4.7-10.4z" fill="#f16640"/><path d="M1028.5 970.1l-9.3 17.5l-9.3 18.2l9.2-7.2l9.3-7.2l9.3-16.3l9.3-15.7l-9.3 5.4l-4.6 2.7z" fill="#f88950"/><path d="M1567 754.9l-8.9 3.8l-8.9 3.8l9.7 2l9.8 2.1l8.9-3.6l8.9-3.6l-9.8-2.2l-4.9-1.1z" fill="#a50026"/><path d="M1919.8 710.8l-8.7 5.3l-8.7 5.2l10.1 0.7l10.1 0.6l8.7-5.3l8.7-5.4l-10.1-0.5l-5.1-0.3z" fill="#a50026"/><path d="M471.2 968l-10-8.9l-10.1-9.2l9.2 20.3l9.3 20.7l10.1 11l10.1 10.6l-9.3-22.5l-4.6-11z" fill="#f8864f"/><path d="M508.4 1058.4l-10.1-12.4l-10.1-12.8l9.3 21.3l9.3 21.2l10.1 14.6l10.2 14.1l-9.4-22.9l-4.6-11.5z" fill="#fec87a"/><path d="M489.8 1012.5l-10.1-10.6l-10.1-11l9.3 21.1l9.3 21.2l10.1 12.8l10.1 12.4l-9.3-23l-4.6-11.5z" fill="#fdad60"/><path d="M527.1 1104.4l-10.2-14.1l-10.1-14.6l9.3 20.8l9.3 20.3l10.1 16.3l10.1 15.8l-9.2-22l-4.7-11.2z" fill="#fee496"/><path d="M1102.8 880.5l-9.3 11.2l-9.3 12l9.4-2.3l9.3-2.3l9.3-10.8l9.3-10.1l-9.4 1.2l-4.7 0.5z" fill="#dd3d2d"/><path d="M1604.2 752.3l-8.9 3.6l-8.8 3.5l9.7 2.3l9.8 2.3l8.9-3.5l8.8-3.4l-9.8-2.4l-4.8-1.2z" fill="#a50026"/><path d="M805.8 1345.5l-9.5 1.3l-9.5-1.1l8.9-15.8l8.9-17.1l9.5 0.6l9.5-1.5l-8.9 17.5l-4.4 8.3z" fill="#aedbea"/><path d="M545.6 1148.9l-10.1-15.8l-10.1-16.3l9.2 19.7l9.3 18.7l10.1 17.8l10.2 17.2l-9.3-20.1l-4.6-10.5z" fill="#fff3ad"/><path d="M1641.4 750.3l-8.8 3.4l-8.9 3.4l9.8 2.5l9.8 2.4l8.8-3.3l8.9-3.4l-9.8-2.4l-4.9-1.3z" fill="#a50026"/><path d="M211.2 704.7l-10 1.1l-10.1 1.1l8.7 5.2l8.7 5.4l10.1-0.7l10.1-0.7l-8.8-5.8l-4.3-2.8z" fill="#a50026"/><path d="M1678.6 748.6l-8.8 3.4l-8.8 3.3l9.8 2.5l9.8 2.4l8.8-3.3l8.8-3.3l-9.8-2.5l-4.9-1.2z" fill="#a50026"/><path d="M359.7 788.7l-10-2.5l-10.1-2.4l9 11.4l9.1 12.1l10 3.5l10 3.5l-9-13.2l-4.5-6.3z" fill="#a70226"/><path d="M304 744.8l-10.1-0.7l-10-0.7l8.9 8.1l8.9 8.7l10 1.4l10 1.5l-8.9-9.4l-4.4-4.5z" fill="#a50026"/><path d="M1715.8 746.7l-8.8 3.5l-8.8 3.4l9.9 2.4l9.8 2.3l8.8-3.4l8.8-3.5l-9.9-2.3l-4.9-1.2z" fill="#a50026"/><path d="M1009.9 1005.8l-9.3 18.7l-9.3 19.2l9.2-9.1l9.3-9.3l9.3-17.2l9.3-16.7l-9.3 7.2l-4.6 3.6z" fill="#fca55d"/><path d="M1195.7 831.7l-9.2 6.3l-9.2 6.7l9.4 0.5l9.4 0.5l9.2-6.2l9.2-5.8l-9.4-1l-4.7-0.5z" fill="#c01a27"/><path d="M564.2 1190.2l-10.2-17.2l-10.1-17.8l9.2 17.7l9.2 16.4l10.2 19l10.1 18.4l-9.2-17.5l-4.6-9.4z" fill="#fcfec5"/><path d="M1753 744.2l-8.8 3.7l-8.7 3.5l9.9 2.3l9.9 2.1l8.7-3.6l8.8-3.8l-9.9-2l-5-1.1z" fill="#a50026"/><path d="M173.8 697l-10.1 1.4l-10.1 1.5l8.7 4.6l8.7 4.8l10.1-1.2l10-1.2l-8.7-5l-4.3-2.5z" fill="#a50026"/><path d="M861.4 1284.4l-9.4 10.1l-9.4 7.9l8.9-18.5l9-19.3l9.4-7.5l9.5-9.3l-9.1 18.7l-4.4 9.1z" fill="#d6eef5"/><path d="M1790.3 740.6l-8.8 4l-8.7 3.8l9.9 2l10 1.8l8.7-3.9l8.7-4.1l-9.9-1.7l-5-0.9z" fill="#a50026"/><path d="M1269.9 839l-4.5-5.5l-4.5-3.2l-4.5-1.4l-4.6 0l9.5 1.3l9.5 0.9l4.6 0.1l4.5 1.5l4.5 3.2l4.5 5.6l-9.5 0l-4.8-1z" fill="#bd1726"/><path d="M991.3 1043.7l-9.3 19.6l-9.3 19.6l9.2-11.2l9.2-11.2l9.3-17.7l9.4-17.5l-9.3 9.3l-4.6 4.6z" fill="#fdbd6f"/><path d="M1232.9 825.2l-9.2 3.6l-9.2 4.9l9.5 1l9.5 1l9.2-4.4l9.1-2.4l-9.5-1.7l-4.7-1z" fill="#b91326"/><path d="M657.1 1329.8l-9.9-17.6l-10-18.8l9 3.8l8.9 1.6l10 18.4l10 17.2l-9-1.1l-4.5-1.5z" fill="#bde2ee"/><path d="M1827.6 735.7l-8.7 4.3l-8.8 4.2l10 1.6l10 1.5l8.7-4.3l8.8-4.4l-10-1.4l-5-0.7z" fill="#a50026"/><path d="M582.6 1226.7l-10.1-18.4l-10.2-19l9.2 14.9l9.1 13.4l10.2 19.9l10.1 19.3l-9.2-14.2l-4.5-7.7z" fill="#f0f9db"/><path d="M1474.5 778.2l-9 6.7l-9 6.6l4.9-3.3l4.8-2l9.8-1.5l9-4.6l9-4.5l-9.7 0.2l-4.9 0.8z" fill="#a50026"/><path d="M972.7 1082.9l-9.3 19.7l-9.3 19.5l9.2-13.2l9.1-13.4l9.4-17.4l9.3-17.6l-9.2 11.2l-4.6 5.7z" fill="#fed485"/><path d="M1084.2 903.7l-9.3 12.8l-9.3 13.6l9.4-3.8l9.3-3.7l9.3-12.1l9.3-11.4l-9.3 2.3l-4.7 1.2z" fill="#e54e35"/><path d="M377.7 814.3l-10-3.5l-10-3.5l9 12.8l9.1 13.7l10.1 4.7l10 4.7l-9.1-14.9l-4.5-7.1z" fill="#b50f26"/><path d="M1140 859.9l-9.3 8.8l-9.2 9.5l9.4-1.1l9.4-1.1l9.2-8.5l9.3-8.1l-9.4 0.2l-4.7 0.1z" fill="#d02927"/><path d="M266.3 728.4l-10.1 0.1l-10 0.1l8.8 6.6l8.8 7.1l10.1 0.5l10 0.6l-8.8-7.7l-4.4-3.7z" fill="#a50026"/><path d="M1418.4 845.5l-4.5 1.2l-4.5-0.1l-4.4-1.3l-4.5-2.1l5-13l5-9.8l4.9-7l5-4.8l9-2.7l9-3.6l-4.9 6l-5 8.8l-5 12.1z" fill="#b50f26"/><path d="M1865 729.3l-8.7 4.7l-8.7 4.6l10 1.2l10 1.1l8.7-4.7l8.8-4.9l-10.1-0.9l-5-0.5z" fill="#a50026"/><path d="M954.1 1122.1l-9.3 19l-9.3 18.5l9.1-15.1l9.2-15.2l9.3-16.6l9.3-17.2l-9.1 13.4l-4.6 6.6z" fill="#fee699"/><path d="M1511.9 766.8l-8.9 4.4l-9 4.4l9.7 1l9.7 1.4l9-3.9l8.9-4l-9.7-1.7l-4.8-0.8z" fill="#a50026"/><path d="M321.7 763.1l-10-1.5l-10-1.4l8.9 9.2l8.9 9.7l10.1 2.3l10 2.4l-8.9-10.7l-4.5-5.1z" fill="#a50026"/><path d="M1902.4 721.3l-8.6 5.1l-8.7 4.9l10 0.9l10.1 0.7l8.7-5.1l8.7-5.2l-10.1-0.6l-5-0.3z" fill="#a50026"/><path d="M1549.2 762.5l-8.9 3.8l-9 3.8l9.8 1.9l9.7 2l9-3.8l8.9-3.6l-9.8-2.1l-4.8-1z" fill="#a50026"/><path d="M749.8 1361.7l-9.7-8.5l-9.7-10.5l8.9-10.6l8.8-12.4l9.8 9.5l9.7 7.6l-8.9 13.4l-4.4 6z" fill="#acdae9"/><path d="M228.7 716.1l-10.1 0.7l-10.1 0.7l8.8 5.6l8.7 5.9l10.1-0.3l10.1-0.1l-8.8-6.4l-4.4-3.1z" fill="#a50026"/><path d="M395.9 843.2l-10-4.7l-10.1-4.7l9.1 14.4l9.1 15.1l10.1 6.2l10.1 6.1l-9.2-16.6l-4.5-8z" fill="#c62027"/><path d="M1586.5 759.4l-8.9 3.6l-8.9 3.6l9.7 2.1l9.8 2.2l8.9-3.5l8.9-3.4l-9.8-2.3l-4.9-1.2z" fill="#a50026"/><path d="M935.5 1159.6l-9.4 17.7l-9.3 16.8l9.1-16.8l9.1-17l9.4-15.1l9.4-15.9l-9.2 15.2l-4.6 7.6z" fill="#fff3ad"/><path d="M712.6 1357.9l-9.8-13.2l-9.9-15l8.9-5.6l8.9-7.7l9.9 14l9.8 12.3l-8.9 8.7l-4.4 3.6z" fill="#b0dcea"/><path d="M1177.3 844.7l-9.3 7.2l-9.2 7.5l9.4-0.1l9.5-0.1l9.2-7l9.2-6.5l-9.4-0.5l-4.7-0.2z" fill="#c41e27"/><path d="M1065.6 930.1l-9.3 14.3l-9.3 15l9.4-5.4l9.3-5.3l9.3-13.4l9.3-12.7l-9.3 3.7l-4.7 1.9z" fill="#ed5f3c"/><path d="M600.9 1256.8l-10.1-19.3l-10.2-19.9l9.1 11.7l9.1 9.9l10.2 20.4l10.1 19.7l-9.1-10.2l-4.6-5.9z" fill="#e7f6eb"/><path d="M1623.7 757.1l-8.8 3.4l-8.9 3.5l9.8 2.3l9.8 2.3l8.9-3.3l8.8-3.3l-9.8-2.4l-4.9-1.2z" fill="#a50026"/><path d="M1940 711.9l-8.7 5.4l-8.7 5.3l10.1 0.5l10.2 0.3l8.7-5.4l8.7-5.4l-10.2-0.3l-5-0.2z" fill="#a50026"/><path d="M1661 755.3l-8.9 3.4l-8.8 3.3l9.8 2.4l9.9 2.4l8.8-3.3l8.8-3.3l-9.8-2.4l-4.9-1.2z" fill="#a50026"/><path d="M842.6 1302.4l-9.5 5.9l-9.5 3.6l9-18.5l8.9-19.4l9.5-3.7l9.5-5.7l-9 19.3l-4.5 9.4z" fill="#d1ecf4"/><path d="M1698.2 753.6l-8.8 3.3l-8.8 3.3l9.9 2.5l9.8 2.4l8.8-3.4l8.8-3.4l-9.8-2.3l-5-1.2z" fill="#a50026"/><path d="M191.1 706.9l-10 1.2l-10.1 1.2l8.7 4.8l8.7 5.1l10.1-0.9l10-0.8l-8.7-5.4l-4.3-2.6z" fill="#a50026"/><path d="M1735.5 751.4l-8.8 3.5l-8.8 3.4l9.9 2.3l9.9 2.3l8.8-3.5l8.8-3.6l-9.9-2.1l-5-1.2z" fill="#a50026"/><path d="M1325.7 874.5l-4.3-14.4l-4.4-10.9l-4.5-7.8l-4.4-5.3l9.6-3.6l9.6-3.1l4.5 1.2l4.5 2.5l4.5 4l4.5 5.6l-9.8 15l-4.9 8.3z" fill="#be1827"/><path d="M1362.8 883.2l-8.7-23.7l-4.4-9.3l-4.4-7.5l9.7-11.2l4.9-4.2l4.9-3.2l9 2.4l8.9 4.7l-4.9 9.2l-5 11.7l-5 14.2z" fill="#be1827"/><path d="M1121.5 878.2l-9.3 10.1l-9.3 10.8l9.4-2.3l9.4-2.1l9.3-9.6l9.3-9.1l-9.4 1.1l-4.7 0.5z" fill="#d93429"/><path d="M1772.8 748.4l-8.8 3.8l-8.7 3.6l9.9 2.1l10 2l8.7-3.8l8.8-3.9l-10-1.8l-4.9-1z" fill="#a50026"/><path d="M414.2 875.6l-10.1-6.1l-10.1-6.2l9.2 16l9.2 16.6l10.1 7.7l10.1 7.7l-9.2-18.3l-4.6-8.8z" fill="#d93429"/><path d="M786.8 1345.7l-9.6-3.4l-9.6-5.5l8.8-15.1l8.9-16.3l9.7 4.7l9.6 2.7l-8.9 17.1l-4.5 8.1z" fill="#b9e0ed"/><path d="M1214.5 833.7l-9.2 5.8l-9.2 6.2l9.5 0.5l9.5 0.5l9.2-5.7l9.2-5.3l-9.5-1l-4.7-0.5z" fill="#bb1526"/><path d="M283.9 743.4l-10-0.6l-10.1-0.5l8.8 7.4l8.9 7.9l10.1 1.2l10.1 1.4l-8.9-8.7l-4.5-4.1z" fill="#a50026"/><path d="M916.8 1194.1l-9.3 15.6l-9.4 14.2l9.1-18.2l9.1-18.4l9.4-12.9l9.3-14.1l-9.1 17l-4.5 8.4z" fill="#fffebe"/><path d="M153.6 699.9l-10.1 1.5l-10.1 1.5l8.7 4.4l8.7 4.5l10.1-1.3l10.1-1.2l-8.7-4.8l-4.3-2.3z" fill="#a50026"/><path d="M1810.1 744.2l-8.7 4.1l-8.7 3.9l9.9 1.8l10 1.7l8.8-4.1l8.7-4.3l-10-1.5l-5-0.8z" fill="#a50026"/><path d="M339.6 783.8l-10-2.4l-10.1-2.3l9 10.4l9 11l10.1 3.3l10.1 3.5l-9.1-12.1l-4.5-5.8z" fill="#a50026"/><path d="M1047 959.4l-9.3 15.7l-9.3 16.3l9.3-7.3l9.3-7.1l9.4-14.4l9.3-13.9l-9.3 5.3l-4.7 2.7z" fill="#f57547"/><path d="M1456.5 791.5l-9.1 5.9l-9 4.9l4.9-4.1l4.9-2.5l4.9-1.4l4.9-0.7l9-4.4l9-4.5l-9.8 1.5l-4.8 2z" fill="#a50026"/><path d="M1288.9 841.5l-4.5-5.6l-4.5-3.2l-4.5-1.5l-4.6-0.1l9.6 0.4l9.5 0.3l4.6-0.6l4.5 0.2l4.6 1.6l4.5 3.1l-9.6 3.4l-4.8 1.2z" fill="#b71126"/><path d="M432.6 911.3l-10.1-7.7l-10.1-7.7l9.2 17.3l9.2 18l10.2 9.4l10.1 9.3l-9.3-19.6l-4.6-9.6z" fill="#e54e35"/><path d="M1251.8 828.9l-9.1 2.4l-9.2 4.4l9.5 0.9l9.5 0.9l9.2-4.2l9.1-2.2l-9.5-0.9l-4.7-0.6z" fill="#b50f26"/><path d="M1847.6 738.6l-8.8 4.4l-8.7 4.3l10 1.4l10.1 1.3l8.7-4.5l8.7-4.6l-10-1.1l-5-0.6z" fill="#a50026"/><path d="M675.1 1334.4l-10-17.2l-10-18.4l9-0.5l8.9-2.6l10 17.6l9.9 16.4l-8.9 3.5l-4.5 0.9z" fill="#c3e5f0"/><path d="M451.1 949.9l-10.1-9.3l-10.2-9.4l9.2 18.4l9.3 18.9l10.2 11.2l10.1 11.2l-9.3-20.7l-4.6-10.2z" fill="#f36b42"/><path d="M619.1 1279.3l-10.1-19.7l-10.2-20.4l9.1 8l9.1 6l10.1 20.5l10.1 19.7l-9.1-6l-4.5-3.8z" fill="#e2f4f4"/><path d="M1885.1 731.3l-8.8 4.9l-8.7 4.7l10.1 1l10.1 0.9l8.7-4.9l8.7-5l-10.1-0.7l-5-0.4z" fill="#a50026"/><path d="M1494 775.6l-9 4.5l-9 4.6l9.7 0.4l9.8 1.1l8.9-4.1l9-4.1l-9.7-1.4l-4.9-0.6z" fill="#a50026"/><path d="M246.2 728.6l-10.1 0.1l-10.1 0.3l8.8 6.1l8.8 6.5l10.1 0.3l10.1 0.4l-8.8-7.1l-4.4-3.3z" fill="#a50026"/><path d="M1028.4 991.4l-9.3 16.7l-9.3 17.2l9.3-9.2l9.3-9l9.3-15.2l9.3-14.9l-9.3 7.1l-4.6 3.6z" fill="#f88c51"/><path d="M469.6 990.9l-10.1-11.2l-10.2-11.2l9.3 19.2l9.2 19.4l10.2 13.1l10.2 13l-9.3-21.2l-4.6-10.6z" fill="#f88c51"/><path d="M1158.8 859.4l-9.3 8.1l-9.2 8.5l9.4-0.9l9.4-0.8l9.3-7.8l9.3-7.3l-9.5 0.1l-4.7 0.1z" fill="#ca2427"/><path d="M1400.5 843.2l-8.9-5.8l-8.9-6.2l4.9-7l4.9-5.2l4.9-3.6l4.9-2.5l9-2.1l9.1-2.2l-5 4.8l-4.9 7l-5 9.8z" fill="#ad0826"/><path d="M1531.3 770.1l-8.9 4l-9 3.9l9.8 1.7l9.7 1.9l9-3.9l8.9-3.7l-9.7-2l-4.9-0.9z" fill="#a50026"/><path d="M898.1 1223.9l-9.4 12.7l-9.3 11.2l9-19.3l9-19.4l9.5-10.2l9.4-11.6l-9.1 18.4l-4.6 9.1z" fill="#f7fcce"/><path d="M488.2 1033.2l-10.2-13l-10.2-13.1l9.3 19.4l9.3 19.4l10.2 14.9l10.2 14.9l-9.3-21.2l-4.6-10.6z" fill="#fdad60"/><path d="M1102.9 899.1l-9.3 11.4l-9.3 12.1l9.4-3.6l9.4-3.4l9.3-10.7l9.3-10.2l-9.4 2.1l-4.7 1.2z" fill="#de402e"/><path d="M1922.6 722.6l-8.7 5.2l-8.7 5.1l10.1 0.6l10.2 0.5l8.7-5.2l8.7-5.4l-10.2-0.3l-5-0.3z" fill="#a50026"/><path d="M1568.7 766.6l-8.9 3.6l-9 3.8l9.8 2l9.8 2.1l8.9-3.6l8.9-3.6l-9.8-2.2l-4.9-1z" fill="#a50026"/><path d="M357.7 807.3l-10.1-3.5l-10.1-3.3l9 11.7l9.1 12.3l10.1 4.6l10.1 4.7l-9.1-13.7l-4.5-6.5z" fill="#a90426"/><path d="M506.8 1075.7l-10.2-14.9l-10.2-14.9l9.3 19l9.2 18.7l10.3 16.7l10.2 16.5l-9.3-20.3l-4.7-10.4z" fill="#fdc778"/><path d="M1606 764l-8.9 3.4l-8.9 3.5l9.8 2.2l9.8 2.3l8.9-3.4l8.9-3.4l-9.8-2.3l-4.9-1.2z" fill="#a50026"/><path d="M208.5 717.5l-10 0.8l-10.1 0.9l8.7 5.2l8.7 5.4l10.1-0.5l10.1-0.3l-8.7-5.9l-4.4-2.8z" fill="#a50026"/><path d="M1960.3 712.6l-8.7 5.4l-8.7 5.4l10.2 0.3l5.1 0.1l8.6-5.4l8.7-5.6l-10.1-0.1z" fill="#a50026"/><path d="M301.7 760.2l-10.1-1.4l-10.1-1.2l8.9 8.4l8.9 8.9l10.1 2l10.1 2.2l-8.9-9.7l-4.5-4.7z" fill="#a50026"/><path d="M1009.8 1025.3l-9.4 17.5l-9.3 17.7l9.3-11.3l9.3-11.1l9.3-15.5l9.4-15.5l-9.3 9l-4.7 4.6z" fill="#fca55d"/><path d="M1643.3 762l-8.8 3.3l-8.9 3.3l9.8 2.4l9.8 2.4l8.9-3.3l8.9-3.3l-9.9-2.4l-4.9-1.2z" fill="#a50026"/><path d="M1680.6 760.2l-8.8 3.3l-8.8 3.3l9.8 2.5l9.9 2.4l8.8-3.3l8.8-3.3l-9.8-2.4l-5-1.2z" fill="#a50026"/><path d="M525.4 1116.8l-10.2-16.5l-10.3-16.7l9.3 18l9.2 17.2l10.3 18.3l10.2 18.1l-9.3-18.7l-4.6-9.7z" fill="#fede8e"/><path d="M1196.1 845.7l-9.2 6.5l-9.2 7l9.4 0l9.5 0.1l9.3-6.4l9.2-6.2l-9.5-0.5l-4.7-0.3z" fill="#be1827"/><path d="M1717.9 758.3l-8.8 3.4l-8.8 3.4l9.9 2.3l9.9 2.4l8.8-3.4l8.8-3.5l-9.9-2.3l-4.9-1.1z" fill="#a50026"/><path d="M823.6 1311.9l-9.5 1.5l-9.5-0.6l8.9-18.2l8.9-19l9.6 0.1l9.5-1.7l-8.9 19.4l-4.5 9.4z" fill="#d4edf4"/><path d="M1755.3 755.8l-8.8 3.6l-8.8 3.5l10 2.2l9.9 2.1l8.8-3.6l8.8-3.7l-10-2l-5-1z" fill="#a50026"/><path d="M171 709.3l-10.1 1.2l-10.1 1.3l8.6 4.6l8.7 4.7l10.2-1l10.1-0.9l-8.7-5.1l-4.4-2.4z" fill="#a50026"/><path d="M133.4 702.9l-10.1 1.5l-5.1 0.7l8.7 4.3l8.6 4.4l10.2-1.4l5.1-0.6l-8.7-4.5l-4.3-2.2z" fill="#a50026"/><path d="M1792.7 752.2l-8.8 3.9l-8.7 3.8l9.9 1.9l10 1.9l8.8-4l8.7-4l-10-1.7l-4.9-0.9z" fill="#a50026"/><path d="M1438.4 802.3l-9 3.6l-9 2.7l4.9-3.2l4.8-1.9l9.8-1.5l9-4.1l9.1-4.3l-4.9 0.7l-4.9 1.4l-4.9 2.5z" fill="#a50026"/><path d="M991.1 1060.5l-9.3 17.6l-9.4 17.4l9.3-13.3l9.2-13l9.4-15.5l9.4-15.6l-9.3 11.1l-4.7 5.6z" fill="#fdbb6d"/><path d="M543.9 1155.2l-10.2-18.1l-10.3-18.3l9.2 16.3l9.2 15.2l10.3 19.6l10.2 19.4l-9.2-16.4l-4.6-8.7z" fill="#feeca2"/><path d="M375.8 833.8l-10.1-4.7l-10.1-4.6l9.1 13.1l9.1 13.7l10.1 6l10.1 6l-9.1-15.1l-4.6-7.3z" fill="#b91326"/><path d="M1084.3 922.6l-9.3 12.7l-9.3 13.4l9.4-5.2l9.3-4.8l9.4-11.8l9.3-11.3l-9.4 3.4l-4.7 1.8z" fill="#e65036"/><path d="M1233.5 835.7l-9.2 5.3l-9.2 5.7l9.5 0.7l9.5 0.7l9.2-5.5l9.2-5.1l-9.5-0.9l-4.8-0.5z" fill="#b71126"/><path d="M1830.1 747.3l-8.7 4.3l-8.8 4.1l10 1.6l10.1 1.4l8.7-4.3l8.8-4.4l-10.1-1.3l-5-0.7z" fill="#a50026"/><path d="M1140.3 876l-9.3 9.1l-9.3 9.6l9.4-1.9l9.5-1.8l9.3-8.6l9.2-8.1l-9.4 0.8l-4.7 0.4z" fill="#d22b27"/><path d="M879.4 1247.8l-9.5 9.3l-9.4 7.5l9-19.8l9-20l9.5-7.1l9.4-8.6l-9 19.4l-4.5 9.7z" fill="#f1fad9"/><path d="M263.8 742.3l-10.1-0.4l-10.1-0.3l8.9 6.8l8.8 7.2l10.1 0.9l10.1 1.1l-8.9-7.9l-4.4-3.7z" fill="#a50026"/><path d="M1867.6 740.9l-8.7 4.6l-8.7 4.5l10 1.2l10.1 1.1l8.8-4.7l8.7-4.8l-10.1-0.9l-5-0.5z" fill="#a50026"/><path d="M1270.8 831.1l-9.1 2.2l-9.2 4.2l9.5 0.9l9.6 0.9l9.2-4.4l9.1-3.1l-9.5-0.3l-4.8-0.2z" fill="#b10b26"/><path d="M637.2 1293.4l-10.1-19.7l-10.1-20.5l9 4.1l9 2.1l10.1 20.1l10 19.3l-8.9-1.6l-4.5-1.6z" fill="#e1f3f6"/><path d="M1476 784.7l-9 4.5l-9 4.4l9.7 0.1l9.7 1l9-4.3l9.1-4.2l-9.8-1.1l-4.8-0.4z" fill="#a50026"/><path d="M972.4 1095.5l-9.3 17.2l-9.3 16.6l9.2-15.2l9.2-15l9.4-14.7l9.3-15.2l-9.2 13l-4.6 6.7z" fill="#fece7f"/><path d="M730.4 1342.7l-9.8-12.3l-9.9-14l8.9-9.4l8.9-11.1l9.9 12.6l9.7 11.2l-8.8 12.4l-4.5 5.5z" fill="#c5e6f0"/><path d="M1308.1 836.1l-4.5-3.1l-4.6-1.6l-4.5-0.2l-4.6 0.6l9.6 0.2l9.6 0.4l9.1-2.7l4.6-0.6l4.5 0.3l-9.6 3.1l-4.8 1.8z" fill="#af0926"/><path d="M319.5 779.1l-10.1-2.2l-10.1-2l9 9.4l9 10l10.1 3l10.1 3.2l-9-11l-4.5-5.3z" fill="#a50026"/><path d="M562.3 1189.3l-10.2-19.4l-10.3-19.6l9.2 14l9.2 12.6l10.2 20.4l10.2 20.3l-9.1-13.4l-4.6-7.3z" fill="#fff7b3"/><path d="M1345.3 842.7l-4.5-5.6l-4.5-4l-4.5-2.5l-4.5-1.2l9.7-2.2l9.6-1l9.1-2l9.1-0.1l-4.9 3.2l-4.9 4.2l-4.9 5.1z" fill="#ad0826"/><path d="M394 863.3l-10.1-6l-10.1-6l9.1 14.5l9.1 15l10.2 7.5l10.2 7.6l-9.2-16.6l-4.6-8.1z" fill="#c82227"/><path d="M1513.4 778l-9 4.1l-8.9 4.1l9.7 1.6l9.7 1.7l9-4l9-3.9l-9.7-1.9l-4.9-0.8z" fill="#a50026"/><path d="M767.6 1336.8l-9.7-7.6l-9.8-9.5l8.9-13.9l8.9-15.2l9.8 8.2l9.6 6.6l-8.9 16.3l-4.4 7.7z" fill="#cbe9f2"/><path d="M1905.2 732.9l-8.7 5l-8.7 4.9l10.1 0.7l10.1 0.7l8.8-5l8.7-5.2l-10.2-0.5l-5-0.3z" fill="#a50026"/><path d="M1065.7 948.7l-9.3 13.9l-9.4 14.4l9.4-6.9l9.4-6.5l9.3-12.7l9.3-12.2l-9.3 4.8l-4.7 2.6z" fill="#ee613e"/><path d="M1550.8 774l-8.9 3.7l-9 3.9l9.8 1.9l9.8 2l8.9-3.8l9-3.6l-9.8-2.1l-4.9-1z" fill="#a50026"/><path d="M226 729l-10.1 0.3l-10.1 0.5l8.8 5.7l8.8 6l10.1 0l10.1 0.1l-8.8-6.5l-4.4-3.1z" fill="#a50026"/><path d="M1942.9 723.4l-8.7 5.4l-8.7 5.2l10.1 0.4l5.1 0.2l8.7-5.3l8.8-5.5l-10.2-0.2z" fill="#a50026"/><path d="M1177.7 859.2l-9.3 7.3l-9.3 7.8l9.5-0.7l9.5-0.5l9.3-7l9.2-6.8l-9.5-0.1l-4.7 0z" fill="#c41e27"/><path d="M1588.2 770.9l-8.9 3.6l-8.9 3.6l9.8 2.1l9.8 2.3l8.9-3.6l8.9-3.5l-9.8-2.3l-4.9-1.1z" fill="#a50026"/><path d="M1382.7 831.2l-8.9-4.7l-9-2.4l9.7-3.9l9.7-1.6l9-3.1l9.1-2.6l-4.9 2.5l-4.9 3.6l-4.9 5.2z" fill="#a70226"/><path d="M692.9 1329.7l-9.9-16.4l-10-17.6l9-4.6l8.9-6.4l9.9 16.4l9.9 15.3l-8.9 7.7l-4.4 3z" fill="#cfebf3"/><path d="M953.8 1129.3l-9.4 15.9l-9.4 15.1l9.2-16.9l9.2-16.7l9.4-13.4l9.4-14.2l-9.2 15l-4.6 7.5z" fill="#fee090"/><path d="M1625.6 768.6l-8.9 3.4l-8.9 3.4l9.8 2.4l9.9 2.4l8.9-3.4l8.8-3.4l-9.8-2.4l-4.9-1.2z" fill="#a50026"/><path d="M1663 766.8l-8.9 3.3l-8.9 3.3l9.9 2.5l9.9 2.5l8.8-3.4l8.9-3.3l-9.9-2.4l-4.9-1.3z" fill="#a50026"/><path d="M412.4 895.9l-10.2-7.6l-10.2-7.5l9.2 15.7l9.2 16.2l10.2 9.1l10.2 9.4l-9.2-18l-4.6-8.7z" fill="#da362a"/><path d="M1700.3 765.1l-8.8 3.3l-8.8 3.3l9.9 2.4l9.9 2.5l8.8-3.4l8.8-3.4l-9.9-2.4l-4.9-1.2z" fill="#a50026"/><path d="M1121.7 894.7l-9.3 10.2l-9.3 10.7l9.4-3.1l9.4-2.9l9.4-9.5l9.3-9.1l-9.5 1.8l-4.7 0.9z" fill="#d93429"/><path d="M188.4 719.2l-10.1 0.9l-10.2 1l8.7 4.9l8.8 5.1l10.1-0.7l10.1-0.6l-8.7-5.4l-4.4-2.7z" fill="#a50026"/><path d="M1737.7 762.9l-8.8 3.5l-8.8 3.4l9.9 2.3l10 2.3l8.8-3.6l8.8-3.6l-9.9-2.1l-5-1.1z" fill="#a50026"/><path d="M150.8 711.8l-10.2 1.3l-5.1 0.7l8.7 4.4l8.7 4.6l10.2-1.2l5-0.5l-8.7-4.7l-4.3-2.4z" fill="#a50026"/><path d="M580.6 1217.6l-10.2-20.3l-10.2-20.4l9.1 11l9.1 9.5l10.3 21l10.1 20.8l-9.1-9.9l-4.5-5.6z" fill="#fffebe"/><path d="M1775.2 759.9l-8.8 3.7l-8.8 3.6l10 2.1l9.9 2.1l8.8-3.8l8.8-3.9l-10-1.9l-5-0.9z" fill="#a50026"/><path d="M1215.1 846.7l-9.2 6.2l-9.3 6.4l9.5 0.2l9.5 0.4l9.3-6l9.2-5.8l-9.5-0.7l-4.8-0.3z" fill="#bb1526"/><path d="M281.5 757.6l-10.1-1.1l-10.1-0.9l8.9 7.6l8.9 8.1l10.1 1.7l10.1 1.9l-8.9-8.9l-4.4-4.3z" fill="#a50026"/><path d="M337.5 800.5l-10.1-3.2l-10.1-3l9 10.5l9 11.2l10.1 4.2l10.2 4.3l-9.1-12.3l-4.5-6z" fill="#a50026"/><path d="M1420.4 808.6l-9.1 2.2l-9 2.1l9.7-2.2l9.7-0.3l9.1-4.2l9.1-4.2l-9.8 1.5l-4.8 1.9z" fill="#a50026"/><path d="M1047 977l-9.3 14.9l-9.3 15.2l9.3-8.8l9.3-8.3l9.4-13.4l9.4-13l-9.4 6.5l-4.7 3.4z" fill="#f57547"/><path d="M860.5 1264.6l-9.5 5.7l-9.5 3.7l9-20l9-20.1l9.6-3.7l9.4-5.4l-9 20l-4.5 10z" fill="#eff9dd"/><path d="M430.8 931.2l-10.2-9.4l-10.2-9.1l9.2 16.6l9.3 17.1l10.2 10.9l10.2 11.2l-9.3-18.9l-4.6-9.3z" fill="#e65036"/><path d="M1812.6 755.7l-8.7 4l-8.8 4l10 1.8l10 1.7l8.8-4.2l8.8-4.3l-10.1-1.4l-5-0.8z" fill="#a50026"/><path d="M804.6 1312.8l-9.6-2.7l-9.7-4.7l9-17.4l8.9-18.2l9.6 3.7l9.6 2.1l-8.9 19l-4.5 9.2z" fill="#def2f7"/><path d="M935 1160.3l-9.3 14.1l-9.4 12.9l9.1-18.4l9.2-18.1l9.4-11.5l9.4-12.6l-9.2 16.7l-4.6 8.4z" fill="#feea9f"/><path d="M1850.2 750l-8.8 4.4l-8.7 4.3l10 1.5l10.1 1.3l8.8-4.6l8.7-4.6l-10.1-1.1l-5-0.6z" fill="#a50026"/><path d="M1252.5 837.5l-9.2 5.1l-9.2 5.5l9.5 0.7l9.6 0.9l9.2-5.4l9.2-5l-9.6-0.9l-4.7-0.5z" fill="#b30d26"/><path d="M449.3 968.5l-10.2-11.2l-10.2-10.9l9.2 17.4l9.3 17.5l10.2 12.8l10.2 13l-9.2-19.4l-4.7-9.6z" fill="#f36b42"/><path d="M1458 793.6l-9.1 4.3l-9 4.1l9.7 0.3l9.7 1.1l9.1-4.4l9-4.3l-9.7-1l-4.9-0.2z" fill="#a50026"/><path d="M1159.1 874.3l-9.2 8.1l-9.3 8.6l9.4-1.5l9.5-1.2l9.3-7.8l9.3-7.4l-9.5 0.5l-4.7 0.3z" fill="#ca2427"/><path d="M1887.8 742.8l-8.7 4.8l-8.8 4.7l10.1 1l10.1 0.9l8.8-4.9l8.7-5.1l-10.1-0.7l-5.1-0.3z" fill="#a50026"/><path d="M243.6 741.6l-10.1-0.1l-10.1 0l8.8 6.2l8.8 6.6l10.2 0.6l10.1 0.7l-8.8-7.2l-4.5-3.4z" fill="#a50026"/><path d="M1495.5 786.2l-9.1 4.2l-9 4.3l9.8 1.5l9.7 1.6l9-4.2l9-4.1l-9.7-1.7l-4.9-0.8z" fill="#a50026"/><path d="M1289.9 831.8l-9.1 3.1l-9.2 4.4l9.6 0.9l9.5 1.1l9.2-4.8l9.2-4.1l-9.6-0.4l-4.8-0.1z" fill="#ad0826"/><path d="M1028.4 1007.1l-9.4 15.5l-9.3 15.5l9.3-10.7l9.3-10.2l9.4-13.7l9.3-13.5l-9.3 8.3l-4.7 4.4z" fill="#f88950"/><path d="M655.1 1298.8l-10-19.3l-10.1-20.1l9 0.2l8.9-1.7l10.1 19.2l10 18.6l-8.9 2.6l-4.5 0.5z" fill="#e5f5ef"/><path d="M467.8 1007.1l-10.2-13l-10.2-12.8l9.2 17.6l9.3 17.5l10.2 14.6l10.3 14.9l-9.3-19.4l-4.6-9.7z" fill="#f88950"/><path d="M1103.1 915.6l-9.3 11.3l-9.4 11.8l9.5-4.6l9.4-4.2l9.3-10.3l9.3-10l-9.4 2.9l-4.7 1.5z" fill="#de402e"/><path d="M1925.5 734l-8.7 5.2l-8.8 5l10.2 0.7l5.1 0.3l8.7-5.3l8.7-5.3l-10.1-0.4z" fill="#a50026"/><path d="M355.6 824.5l-10.2-4.3l-10.1-4.2l9 11.8l9.1 12.4l10.2 5.4l10.2 5.7l-9.1-13.7l-4.6-6.6z" fill="#ab0626"/><path d="M1532.9 781.6l-9 3.9l-9 4l9.8 1.9l9.8 1.9l9-3.9l9-3.9l-9.8-2l-4.9-1z" fill="#a50026"/><path d="M1327.3 829.4l-4.5-0.3l-9.1 1.7l-4.6 1.6l9.6 0.6l9.6 0.8l9.2-4.2l9.1-3.4l-9.6 1l-4.9 0.9z" fill="#a70226"/><path d="M1570.4 778.1l-9 3.6l-8.9 3.8l9.8 2.1l9.8 2.2l8.9-3.7l9-3.6l-9.8-2.3l-4.9-1.1z" fill="#a50026"/><path d="M486.4 1045.9l-10.3-14.9l-10.2-14.6l9.2 17.3l9.3 16.9l10.3 16.3l10.2 16.7l-9.2-18.7l-4.7-9.5z" fill="#fca55d"/><path d="M598.8 1239.2l-10.1-20.8l-10.3-21l9.1 7.9l9.1 6.1l10.2 21l10.2 20.8l-9.1-6l-4.5-3.8z" fill="#fbfdc7"/><path d="M299.3 774.9l-10.1-1.9l-10.1-1.7l8.9 8.6l9 9l10.1 2.5l10.2 2.9l-9-10l-4.5-4.8z" fill="#a50026"/><path d="M1607.8 775.4l-8.9 3.5l-8.9 3.6l9.8 2.3l9.8 2.4l9-3.6l8.9-3.4l-9.9-2.4l-4.9-1.2z" fill="#a50026"/><path d="M916.3 1187.3l-9.4 11.6l-9.5 10.2l9.1-19.4l9.2-19.2l9.4-9.2l9.5-10.5l-9.2 18.1l-4.6 9.2z" fill="#fff1aa"/><path d="M205.8 729.8l-10.1 0.6l-10.1 0.7l8.7 5.3l8.8 5.6l10.2-0.4l10.1-0.1l-8.8-6l-4.4-2.9z" fill="#a50026"/><path d="M1645.2 773.4l-8.8 3.4l-8.9 3.4l9.8 2.4l9.9 2.5l8.9-3.4l8.9-3.3l-9.9-2.5l-4.9-1.3z" fill="#a50026"/><path d="M1364.8 824.1l-9.1 0.1l-9.1 2l9.7-0.2l9.6 0.6l9.1-4.3l9.2-3.7l-9.7 1.6l-4.9 1.6z" fill="#a50026"/><path d="M1196.6 859.3l-9.2 6.8l-9.3 7l9.5-0.3l9.5-0.1l9.3-6.5l9.2-6.3l-9.5-0.4l-4.7-0.1z" fill="#be1827"/><path d="M1682.7 771.7l-8.9 3.3l-8.8 3.4l9.9 2.5l9.9 2.5l8.8-3.4l8.9-3.4l-9.9-2.5l-5-1.2z" fill="#a50026"/><path d="M168.1 721.1l-10.1 1.1l-5.1 0.6l8.7 4.7l8.8 4.9l10.1-0.9l5.1-0.4l-8.8-5.1l-4.3-2.5z" fill="#a50026"/><path d="M1009.7 1038.1l-9.4 15.6l-9.4 15.5l9.3-12.7l9.3-12.1l9.4-13.6l9.4-13.6l-9.3 10.2l-4.7 5.3z" fill="#fba05b"/><path d="M1720.1 769.8l-8.8 3.4l-8.8 3.4l9.9 2.4l9.9 2.5l8.9-3.5l8.8-3.6l-10-2.3l-4.9-1.2z" fill="#a50026"/><path d="M504.9 1083.6l-10.2-16.7l-10.3-16.3l9.2 16.4l9.2 15.8l10.3 17.9l10.3 18.1l-9.2-17.2l-4.6-8.9z" fill="#fdbd6f"/><path d="M1757.6 767.2l-8.8 3.6l-8.8 3.6l9.9 2.3l10 2.2l8.8-3.7l8.8-3.8l-9.9-2.1l-5-1z" fill="#a50026"/><path d="M373.8 851.3l-10.2-5.7l-10.2-5.4l9.1 12.9l9.2 13.6l10.2 6.9l10.1 7.2l-9.1-15l-4.6-7.3z" fill="#b91326"/><path d="M1402.3 812.9l-9.1 2.6l-9 3.1l9.6-0.1l9.7 0.8l9.1-4.5l9.1-4.4l-9.7 0.3l-4.8 0.8z" fill="#a50026"/><path d="M1795.1 763.7l-8.8 3.9l-8.8 3.8l10 2l10.1 2l8.8-4.1l8.7-4.1l-10-1.7l-5-0.9z" fill="#a50026"/><path d="M1084.4 938.7l-9.3 12.2l-9.3 12.7l9.4-6.2l9.4-5.6l9.3-11.1l9.4-10.8l-9.4 4.2l-4.8 2.2z" fill="#e54e35"/><path d="M841.5 1274l-9.5 1.7l-9.6-0.1l9-19.6l9-19.9l9.6-0.3l9.5-1.9l-9 20.1l-4.5 10.1z" fill="#f0f9db"/><path d="M1234.1 848.1l-9.2 5.8l-9.3 6l9.5 0.5l9.6 0.7l9.2-5.8l9.3-5.6l-9.6-0.9l-4.7-0.4z" fill="#b50f26"/><path d="M1140.6 891l-9.3 9.1l-9.4 9.5l9.5-2.5l9.5-2.2l9.3-8.5l9.3-8.1l-9.5 1.2l-4.7 0.8z" fill="#d22b27"/><path d="M1832.7 758.7l-8.8 4.3l-8.8 4.2l10.1 1.6l10 1.6l8.8-4.4l8.8-4.5l-10.1-1.3l-5-0.7z" fill="#a50026"/><path d="M1439.9 802l-9.1 4.2l-9.1 4.2l9.8 0.8l9.7 1.3l9.1-4.6l9-4.5l-9.7-1.1l-4.9-0.3z" fill="#a50026"/><path d="M261.3 755.6l-10.1-0.7l-10.2-0.6l8.9 7l8.9 7.4l10.1 1.2l10.2 1.4l-8.9-8.1l-4.5-3.8z" fill="#a50026"/><path d="M748.1 1319.7l-9.7-11.2l-9.9-12.6l8.9-12.6l8.9-13.8l9.9 11.2l9.7 9.9l-8.9 15.2l-4.4 7.1z" fill="#e1f3f6"/><path d="M523.4 1118.8l-10.3-18.1l-10.3-17.9l9.3 14.9l9.2 14.1l10.3 19.1l10.2 19.4l-9.2-15.2l-4.6-8z" fill="#fed081"/><path d="M990.9 1069.2l-9.3 15.2l-9.4 14.7l9.2-14.5l9.3-14l9.4-12.9l9.4-13.3l-9.3 12.1l-4.6 6.3z" fill="#fdb366"/><path d="M710.7 1316.4l-9.9-15.3l-9.9-16.4l8.9-8.2l8.9-9.6l9.9 15l9.9 14l-8.9 11.1l-4.4 4.9z" fill="#e2f4f4"/><path d="M1870.3 752.3l-8.7 4.6l-8.8 4.6l10.1 1.2l10.1 1.2l8.8-4.8l8.7-4.9l-10.1-0.9l-5-0.5z" fill="#a50026"/><path d="M317.3 794.3l-10.2-2.9l-10.1-2.5l8.9 9.6l9 10l10.2 3.6l10.2 3.9l-9-11.2l-4.5-5.3z" fill="#a50026"/><path d="M1271.6 839.3l-9.2 5l-9.2 5.4l9.5 1l9.6 1l9.2-5.3l9.2-5.1l-9.5-1.1l-4.8-0.4z" fill="#af0926"/><path d="M1477.4 794.7l-9 4.3l-9.1 4.4l9.8 1.5l9.7 1.6l9.1-4.4l9-4.3l-9.7-1.6l-4.9-0.8z" fill="#a50026"/><path d="M392 880.8l-10.1-7.2l-10.2-6.9l9.1 14l9.2 14.6l10.2 8.5l10.2 8.9l-9.2-16.2l-4.6-7.9z" fill="#ca2427"/><path d="M1908 744.2l-8.7 5.1l-8.8 4.9l10.2 0.9l5.1 0.4l8.7-5.2l8.8-5.1l-10.2-0.6z" fill="#a50026"/><path d="M897.4 1209.1l-9.4 8.6l-9.5 7.1l9.1-20l9.1-19.8l9.5-6.5l9.5-8l-9.2 19.2l-4.5 9.7z" fill="#fff6b1"/><path d="M1514.9 789.5l-9 4.1l-9 4.2l9.8 1.8l9.8 1.9l9-4.1l9-4.1l-9.8-1.9l-4.9-1z" fill="#a50026"/><path d="M1309.1 832.4l-9.2 4.1l-9.2 4.8l9.6 1.1l9.7 1.2l9.1-5l9.2-4.8l-9.6-0.8l-4.8-0.3z" fill="#a70226"/><path d="M785.3 1305.4l-9.6-6.6l-9.8-8.2l8.9-16.3l9-17l9.7 7l9.7 5.5l-8.9 18.2l-4.5 8.8z" fill="#e7f6eb"/><path d="M1065.8 963.6l-9.4 13l-9.4 13.4l9.4-7.9l9.4-7.3l9.4-11.6l9.4-11.4l-9.4 5.6l-4.7 3.1z" fill="#ed5f3c"/><path d="M617 1253.2l-10.2-20.8l-10.2-21l9 4.3l9.1 2.7l10.1 20.6l10.2 20.4l-9-2.1l-4.5-1.8z" fill="#fafdc9"/><path d="M223.4 741.5l-10.1 0.1l-10.2 0.4l8.8 5.8l8.8 6.1l10.2 0.1l10.1 0.3l-8.8-6.6l-4.4-3.1z" fill="#a50026"/><path d="M1552.5 785.5l-9 3.9l-9 3.9l9.8 2.1l9.8 2.1l9-3.9l9-3.8l-9.8-2.2l-4.9-1.1z" fill="#a50026"/><path d="M1178.1 873.1l-9.3 7.4l-9.3 7.8l9.5-1l9.5-0.7l9.3-7.1l9.3-6.8l-9.5 0.1l-4.8 0.2z" fill="#c21c27"/><path d="M541.8 1150.3l-10.2-19.4l-10.3-19.1l9.1 12.9l9.2 11.7l10.3 20.1l10.3 20.4l-9.2-12.6l-4.6-6.8z" fill="#fee090"/><path d="M1590 782.5l-9 3.6l-8.9 3.7l9.8 2.3l9.8 2.4l9-3.7l8.9-3.6l-9.8-2.4l-4.9-1.2z" fill="#a50026"/><path d="M972.2 1099.1l-9.4 14.2l-9.4 13.4l9.2-16.2l9.3-15.6l9.4-11.8l9.4-12.5l-9.3 14l-4.6 7.2z" fill="#fdc173"/><path d="M185.6 731.1l-10.2 0.8l-5 0.5l8.7 5.1l8.8 5.3l10.1-0.6l5.1-0.2l-8.8-5.6l-4.3-2.7z" fill="#a50026"/><path d="M410.4 912.7l-10.2-8.9l-10.2-8.5l9.2 15l9.2 15.3l10.2 10.2l10.3 10.6l-9.3-17.1l-4.6-8.4z" fill="#da362a"/><path d="M1627.5 780.2l-8.9 3.4l-9 3.6l9.9 2.4l9.9 2.6l8.9-3.6l8.9-3.5l-9.9-2.5l-4.9-1.2z" fill="#a50026"/><path d="M1346.6 826.2l-9.1 3.4l-9.2 4.2l9.7 1.1l9.6 1.2l9.2-4.9l9.1-4.6l-9.6-0.6l-4.9 0z" fill="#a50026"/><path d="M1665 778.4l-8.9 3.3l-8.9 3.4l9.9 2.6l9.9 2.6l8.9-3.4l8.9-3.5l-9.9-2.5l-5-1.3z" fill="#a50026"/><path d="M673 1295.7l-10-18.6l-10.1-19.2l9-3.4l8.9-5.1l10.1 17.9l10 17.4l-8.9 6.4l-4.5 2.5z" fill="#ebf7e4"/><path d="M1121.9 909.6l-9.3 10l-9.3 10.3l9.4-3.8l9.5-3.3l9.3-9.1l9.4-8.8l-9.5 2.2l-4.7 1.2z" fill="#d93429"/><path d="M1702.5 776.6l-8.9 3.4l-8.8 3.4l9.9 2.6l9.9 2.6l8.9-3.6l8.8-3.5l-9.9-2.5l-5-1.2z" fill="#a50026"/><path d="M1740 774.4l-8.8 3.6l-8.9 3.5l10 2.4l9.9 2.5l8.9-3.7l8.8-3.8l-10-2.2l-4.9-1.1z" fill="#a50026"/><path d="M335.3 816l-10.2-3.9l-10.2-3.6l9.1 10.6l9 11.2l10.2 4.7l10.2 5.2l-9.1-12.4l-4.5-6z" fill="#a50026"/><path d="M1384.2 818.6l-9.2 3.7l-9.1 4.3l9.7 1l9.7 1.2l9.1-4.8l9.1-4.7l-9.7-0.8l-4.8-0.1z" fill="#a50026"/><path d="M279.1 771.3l-10.2-1.4l-10.1-1.2l8.9 7.8l8.9 8.2l10.2 1.9l10.2 2.3l-9-9l-4.5-4.4z" fill="#a50026"/><path d="M1215.6 859.9l-9.2 6.3l-9.3 6.5l9.5 0.2l9.6 0.3l9.2-6.2l9.3-5.9l-9.6-0.7l-4.7-0.3z" fill="#b91326"/><path d="M1777.5 771.4l-8.8 3.8l-8.8 3.7l10 2.3l10 2.2l8.8-4l8.9-4l-10.1-2l-5-1z" fill="#a50026"/><path d="M428.9 946.4l-10.3-10.6l-10.2-10.2l9.2 15.6l9.2 15.7l10.3 12l10.3 12.4l-9.3-17.5l-4.6-8.7z" fill="#e54e35"/><path d="M1815.1 767.2l-8.7 4.1l-8.8 4.1l10 1.9l10 1.8l8.8-4.3l8.8-4.4l-10-1.6l-5-0.8z" fill="#a50026"/><path d="M1047 990l-9.3 13.5l-9.4 13.7l9.4-9.7l9.3-9l9.4-11.9l9.4-11.8l-9.4 7.3l-4.7 3.9z" fill="#f47044"/><path d="M1421.7 810.4l-9.1 4.4l-9.1 4.5l9.7 1.2l9.8 1.5l9.1-4.8l9.1-4.7l-9.7-1.3l-4.9-0.5z" fill="#a50026"/><path d="M1253.2 849.7l-9.3 5.6l-9.2 5.8l9.6 0.8l9.5 0.9l9.3-5.6l9.2-5.5l-9.6-1l-4.7-0.5z" fill="#b10b26"/><path d="M1852.8 761.5l-8.8 4.5l-8.8 4.4l10.1 1.6l10.1 1.4l8.8-4.7l8.8-4.8l-10.1-1.2l-5.1-0.6z" fill="#a50026"/><path d="M560.2 1176.9l-10.3-20.4l-10.3-20.1l9.2 10.5l9.1 9.1l10.3 20.6l10.2 20.8l-9.1-9.5l-4.5-5.3z" fill="#fee79b"/><path d="M953.4 1126.7l-9.4 12.6l-9.4 11.5l9.2-17.6l9.2-16.9l9.4-10.3l9.5-11.1l-9.3 15.6l-4.6 8z" fill="#fece7f"/><path d="M1890.5 754.2l-8.7 4.9l-8.8 4.8l10.1 1.2l5.1 0.5l8.8-5l8.8-5.1l-10.2-0.8z" fill="#a50026"/><path d="M878.5 1224.8l-9.4 5.4l-9.6 3.7l9.1-20.2l9.1-20l9.5-3.6l9.5-5.1l-9.1 19.8l-4.5 10z" fill="#fff8b5"/><path d="M1459.3 803.4l-9 4.5l-9.1 4.6l9.7 1.5l9.8 1.7l9.1-4.6l9-4.6l-9.7-1.6l-4.9-0.8z" fill="#a50026"/><path d="M822.4 1275.6l-9.6-2.1l-9.6-3.7l9-18.8l8.9-19.1l9.7 2.9l9.6 1.3l-9 19.9l-4.5 9.8z" fill="#f5fbd2"/><path d="M447.4 981.3l-10.3-12.4l-10.3-12l9.2 15.8l9.3 15.8l10.3 13.7l10.3 14.2l-9.3-17.5l-4.6-8.8z" fill="#f16640"/><path d="M1159.5 888.3l-9.3 8.1l-9.3 8.5l9.5-1.9l9.5-1.4l9.3-7.6l9.3-7.4l-9.5 0.7l-4.8 0.5z" fill="#c82227"/><path d="M241 754.3l-10.1-0.3l-10.2-0.1l8.9 6.4l8.8 6.8l10.2 0.6l10.2 1l-8.9-7.4l-4.4-3.5z" fill="#a50026"/><path d="M1496.9 797.8l-9 4.3l-9.1 4.4l9.8 1.8l9.8 1.9l9-4.4l9.1-4.3l-9.8-1.9l-4.9-0.9z" fill="#a50026"/><path d="M353.4 840.2l-10.2-5.2l-10.2-4.7l9.1 11.6l9.1 12.2l10.2 6l10.3 6.6l-9.2-13.6l-4.5-6.5z" fill="#a90426"/><path d="M1103.3 929.9l-9.4 10.8l-9.3 11.1l9.4-5.2l9.5-4.6l9.3-9.7l9.4-9.5l-9.5 3.3l-4.7 1.9z" fill="#de402e"/><path d="M1290.7 841.3l-9.2 5.1l-9.2 5.3l9.6 1.2l9.6 1.2l9.2-5.3l9.3-5.2l-9.7-1.2l-4.8-0.6z" fill="#a90426"/><path d="M1534.5 793.3l-9 4.1l-9 4.1l9.8 2.1l9.8 2.1l9-4.1l9-4.1l-9.8-2.1l-4.9-1.1z" fill="#a50026"/><path d="M1028.3 1017.2l-9.4 13.6l-9.4 13.6l9.4-11.5l9.3-10.8l9.4-11.8l9.4-11.8l-9.3 9l-4.7 4.8z" fill="#f7814c"/><path d="M203.1 742l-10.1 0.5l-5.1 0.3l8.8 5.5l8.8 5.8l10.1-0.2l5.1 0l-8.8-6.1l-4.4-3z" fill="#a50026"/><path d="M465.9 1016.4l-10.3-14.2l-10.3-13.7l9.2 15.6l9.2 15.3l10.4 15.3l10.3 15.9l-9.3-16.9l-4.6-8.6z" fill="#f67f4b"/><path d="M297 788.9l-10.2-2.3l-10.2-1.9l9 8.6l9 9.1l10.2 2.9l10.1 3.2l-9-10l-4.4-4.9z" fill="#a50026"/><path d="M1572.1 789.8l-9 3.8l-9 3.9l9.8 2.3l9.9 2.4l9-3.9l8.9-3.8l-9.8-2.4l-4.9-1.2z" fill="#a50026"/><path d="M1328.3 833.8l-9.2 4.8l-9.1 5l9.6 1.3l9.6 1.4l9.2-5.2l9.2-5l-9.6-1.2l-4.9-0.6z" fill="#a50026"/><path d="M635 1259.4l-10.2-20.4l-10.1-20.6l9 0.9l9-0.7l10.1 19.7l10.1 19.6l-8.9 1.7l-4.5 0.2z" fill="#fcfec5"/><path d="M1609.6 787.2l-8.9 3.6l-9 3.7l9.9 2.4l9.9 2.6l8.9-3.7l9-3.6l-9.9-2.6l-4.9-1.2z" fill="#a50026"/><path d="M1647.2 785.1l-8.9 3.5l-8.9 3.6l9.9 2.6l9.9 2.7l8.9-3.6l8.9-3.6l-9.9-2.6l-5-1.3z" fill="#a50026"/><path d="M1197.1 872.7l-9.3 6.8l-9.3 7.1l9.5-0.4l9.6-0.1l9.3-6.6l9.3-6.3l-9.6-0.3l-4.7-0.1z" fill="#bd1726"/><path d="M1684.8 783.4l-8.9 3.5l-8.9 3.4l9.9 2.7l9.9 2.8l8.9-3.6l8.9-3.6l-9.9-2.6l-5-1.3z" fill="#a50026"/><path d="M1365.9 826.6l-9.1 4.6l-9.2 4.9l9.7 1.3l9.7 1.5l9.1-5.1l9.2-5l-9.7-1.2l-4.8-0.6z" fill="#a50026"/><path d="M1722.3 781.5l-8.8 3.5l-8.9 3.6l10 2.6l9.9 2.6l8.9-3.7l8.8-3.7l-9.9-2.5l-5-1.2z" fill="#a50026"/><path d="M934.6 1150.8l-9.5 10.5l-9.4 9.2l9.1-18.6l9.3-18l9.4-8.3l9.5-9.3l-9.2 16.9l-4.6 8.8z" fill="#fed889"/><path d="M1759.9 778.9l-8.8 3.8l-8.9 3.7l10 2.5l10 2.4l8.9-4l8.8-3.9l-10-2.2l-5-1.1z" fill="#a50026"/><path d="M371.7 866.7l-10.3-6.6l-10.2-6l9.1 12.6l9.2 13l10.2 7.5l10.3 8.1l-9.2-14.6l-4.6-7.1z" fill="#b91326"/><path d="M578.4 1197.4l-10.2-20.8l-10.3-20.6l9.1 7.6l9.1 6.2l10.2 20.6l10.3 21l-9.1-6.1l-4.5-3.7z" fill="#feeba1"/><path d="M484.4 1050.6l-10.3-15.9l-10.4-15.3l9.3 14.9l9.2 14.3l10.3 16.8l10.3 17.4l-9.2-15.8l-4.6-8.1z" fill="#fa9857"/><path d="M1797.6 775.4l-8.9 4l-8.8 4l10 2.2l10.1 2.1l8.8-4.3l8.8-4.3l-10-1.8l-5-1z" fill="#a50026"/><path d="M1403.5 819.3l-9.1 4.7l-9.1 4.8l9.7 1.5l9.7 1.5l9.1-5l9.2-4.8l-9.8-1.5l-4.8-0.6z" fill="#a50026"/><path d="M728.5 1295.9l-9.9-14l-9.9-15l8.9-11l9-12.1l9.9 13.4l9.8 12.3l-8.9 13.8l-4.4 6.4z" fill="#f1fad9"/><path d="M1084.6 951.8l-9.4 11.4l-9.4 11.6l9.4-6.7l9.5-6l9.4-10.2l9.4-9.9l-9.5 4.6l-4.7 2.5z" fill="#e44c34"/><path d="M1234.7 861.1l-9.3 5.9l-9.2 6.2l9.5 0.5l9.6 0.7l9.3-5.9l9.2-5.7l-9.5-0.9l-4.8-0.5z" fill="#b30d26"/><path d="M1009.5 1044.4l-9.4 13.3l-9.4 12.9l9.3-13.2l9.4-12.4l9.4-11.3l9.4-11.6l-9.3 10.8l-4.7 5.6z" fill="#f99355"/><path d="M1140.9 904.9l-9.4 8.8l-9.3 9.1l9.5-2.8l9.5-2.4l9.3-8.1l9.4-7.9l-9.5 1.4l-4.8 0.9z" fill="#d02927"/><path d="M1835.2 770.4l-8.8 4.4l-8.8 4.3l10.1 1.9l10.1 1.7l8.8-4.6l8.8-4.7l-10.1-1.4l-5-0.8z" fill="#a50026"/><path d="M258.8 768.7l-10.2-1l-10.2-0.6l8.9 7.1l8.9 7.5l10.2 1.3l10.2 1.7l-8.9-8.2l-4.5-4z" fill="#a50026"/><path d="M1873 763.9l-8.8 4.8l-8.8 4.7l10.1 1.5l5.1 0.7l8.8-5l8.8-5l-10.1-1.1z" fill="#a50026"/><path d="M765.9 1290.6l-9.7-9.9l-9.9-11.2l9-14.7l8.9-15.5l9.8 9.6l9.8 8.4l-9 17l-4.4 8.3z" fill="#f3fbd4"/><path d="M1441.2 812.5l-9.1 4.7l-9.1 4.8l9.7 1.5l9.8 1.8l9.1-4.9l9.1-4.7l-9.8-1.7l-4.9-0.8z" fill="#a50026"/><path d="M314.9 808.5l-10.1-3.2l-10.2-2.9l9 9.6l9 10l10.2 3.9l10.2 4.4l-9-11.2l-4.5-5.3z" fill="#a50026"/><path d="M859.5 1233.9l-9.5 1.9l-9.6 0.3l9-19.8l9.1-19.6l9.6-0.8l9.6-2.2l-9.1 20l-4.5 10z" fill="#fff7b3"/><path d="M690.9 1284.7l-10-17.4l-10.1-17.9l9-6.7l8.9-8l10 16.4l10 15.8l-8.9 9.6l-4.5 4.3z" fill="#f6fbd0"/><path d="M1272.3 851.7l-9.2 5.5l-9.3 5.6l9.6 1.1l9.6 1.2l9.3-5.6l9.2-5.4l-9.6-1.2l-4.8-0.6z" fill="#ad0826"/><path d="M1478.8 806.5l-9 4.6l-9.1 4.6l9.7 1.8l9.8 1.9l9.1-4.7l9.1-4.5l-9.8-1.9l-4.9-0.9z" fill="#a50026"/><path d="M390 895.3l-10.3-8.1l-10.2-7.5l9.1 13.4l9.2 13.7l10.3 9.1l10.3 9.7l-9.2-15.3l-4.6-7.6z" fill="#c82227"/><path d="M502.8 1082.8l-10.3-17.4l-10.3-16.8l9.2 13.6l9.2 12.9l10.3 18l10.4 18.7l-9.2-14.1l-4.6-7.3z" fill="#fdad60"/><path d="M220.7 753.9l-10.1 0.1l-5.1 0.1l8.8 6.1l8.9 6.4l10.1 0.3l5.1 0.2l-8.8-6.8l-4.5-3.2z" fill="#a50026"/><path d="M1516.5 801.5l-9.1 4.3l-9 4.4l9.8 2l9.8 2.2l9-4.4l9.1-4.3l-9.8-2.1l-4.9-1.1z" fill="#a50026"/><path d="M1310 843.6l-9.3 5.2l-9.2 5.3l9.7 1.4l9.6 1.4l9.2-5.3l9.2-5.3l-9.6-1.4l-4.8-0.7z" fill="#a70226"/><path d="M1178.5 886.6l-9.3 7.4l-9.3 7.6l9.5-1.1l9.5-0.7l9.4-7l9.3-6.7l-9.6 0.1l-4.7 0.2z" fill="#c21c27"/><path d="M1554.1 797.5l-9 4.1l-9 4.1l9.8 2.3l9.9 2.3l9-4.1l9-4l-9.9-2.4l-4.9-1.2z" fill="#a50026"/><path d="M915.7 1170.5l-9.5 8l-9.5 6.5l9.2-19.3l9.1-18.6l9.6-6l9.5-7.2l-9.3 18l-4.5 9.2z" fill="#fede8e"/><path d="M990.7 1070.6l-9.4 12.5l-9.4 11.8l9.3-14.8l9.3-13.9l9.4-10.4l9.5-10.8l-9.4 12.4l-4.6 6.5z" fill="#fba35c"/><path d="M1065.8 974.8l-9.4 11.8l-9.4 11.9l9.5-8.3l9.4-7.6l9.4-10.3l9.4-10.2l-9.5 6l-4.7 3.3z" fill="#eb5a3a"/><path d="M1591.7 794.5l-8.9 3.8l-9 3.9l9.8 2.5l9.9 2.6l9-4l9-3.8l-9.9-2.6l-4.9-1.2z" fill="#a50026"/><path d="M803.2 1269.8l-9.7-5.5l-9.7-7l9-17.6l8.9-17.8l9.8 5.7l9.6 4.3l-8.9 19.1l-4.5 9.4z" fill="#fcfec5"/><path d="M1629.4 792.2l-9 3.6l-8.9 3.7l9.9 2.7l9.9 2.8l8.9-3.8l9-3.7l-9.9-2.7l-5-1.3z" fill="#a50026"/><path d="M1347.6 836.1l-9.2 5l-9.2 5.2l9.7 1.5l9.7 1.5l9.2-5.2l9.2-5.2l-9.7-1.5l-4.9-0.7z" fill="#a50026"/><path d="M408.4 925.6l-10.3-9.7l-10.3-9.1l9.2 13.9l9.2 14.1l10.3 10.7l10.3 11.4l-9.2-15.7l-4.6-7.9z" fill="#d83128"/><path d="M1667 790.3l-8.9 3.6l-8.9 3.6l9.9 2.8l9.9 2.8l8.9-3.7l8.9-3.6l-9.9-2.8l-5-1.3z" fill="#a50026"/><path d="M1122.2 922.8l-9.4 9.5l-9.3 9.7l9.4-4l9.5-3.5l9.4-8.5l9.4-8.4l-9.5 2.4l-4.8 1.3z" fill="#d83128"/><path d="M1704.6 788.6l-8.9 3.6l-8.9 3.6l10 2.7l9.9 2.9l8.9-3.8l8.9-3.8l-9.9-2.6l-5-1.3z" fill="#a50026"/><path d="M596.6 1211.4l-10.3-21l-10.2-20.6l9 4.6l9.1 3.2l10.2 20.2l10.3 20.6l-9.1-2.7l-4.5-1.9z" fill="#feeca2"/><path d="M521.3 1111.8l-10.4-18.7l-10.3-18l9.2 12l9.1 10.9l10.4 18.9l10.3 19.5l-9.2-11.7l-4.5-6.3z" fill="#fdbb6d"/><path d="M333 830.3l-10.2-4.4l-10.2-3.9l9 10.5l9.1 10.8l10.3 5.1l10.2 5.7l-9.1-12.2l-4.5-5.9z" fill="#a50026"/><path d="M1742.2 786.4l-8.8 3.7l-8.9 3.7l10 2.7l10 2.7l8.9-4l8.8-3.9l-10-2.4l-5-1.3z" fill="#a50026"/><path d="M276.6 784.7l-10.2-1.7l-10.2-1.3l9 7.9l8.9 8.2l10.3 2.1l10.2 2.5l-9-9.1l-4.5-4.4z" fill="#a50026"/><path d="M1216.2 873.2l-9.3 6.3l-9.3 6.6l9.5 0.1l9.6 0.5l9.3-6.2l9.3-6.1l-9.6-0.7l-4.8-0.3z" fill="#b71126"/><path d="M1385.3 828.8l-9.2 5l-9.1 5.1l9.7 1.6l9.7 1.6l9.1-5.2l9.2-5.1l-9.7-1.5l-4.9-0.8z" fill="#a50026"/><path d="M1779.9 783.4l-8.8 3.9l-8.9 4l10.1 2.4l10 2.5l8.9-4.3l8.8-4.2l-10.1-2.1l-5-1.1z" fill="#a50026"/><path d="M652.9 1257.9l-10.1-19.6l-10.1-19.7l8.9-2.3l9-3.8l10.1 18.5l10.1 18.4l-8.9 5.1l-4.5 1.9z" fill="#fffcba"/><path d="M1817.6 779.1l-8.8 4.3l-8.8 4.3l10.1 2.1l10 2.1l8.9-4.6l8.8-4.6l-10.1-1.7l-5-0.9z" fill="#a50026"/><path d="M1855.4 773.4l-8.8 4.7l-8.8 4.6l10.1 1.8l5.1 0.8l8.8-4.8l8.8-4.9l-10.1-1.4z" fill="#a50026"/><path d="M1423 822l-9.2 4.8l-9.1 5l9.7 1.7l9.8 1.8l9.1-5.1l9.2-4.9l-9.8-1.8l-4.9-0.8z" fill="#a50026"/><path d="M426.8 956.9l-10.3-11.4l-10.3-10.7l9.2 14.2l9.2 14.1l10.3 12.4l10.4 13l-9.3-15.8l-4.6-7.9z" fill="#e24731"/><path d="M1253.8 862.8l-9.2 5.7l-9.3 5.9l9.6 0.9l9.6 1.2l9.3-5.8l9.2-5.6l-9.6-1.2l-4.8-0.6z" fill="#af0926"/><path d="M238.4 767.1l-10.1-0.4l-5.1-0.1l8.8 6.7l8.9 7l10.2 0.9l5.1 0.5l-8.9-7.5l-4.4-3.6z" fill="#a50026"/><path d="M1047 998.5l-9.4 11.8l-9.4 11.8l9.4-9.9l9.4-9l9.5-10.3l9.4-10.3l-9.4 7.6l-4.8 4z" fill="#f16640"/><path d="M971.9 1094.9l-9.5 11.1l-9.4 10.3l9.3-16.2l9.3-15.1l9.4-9.1l9.5-9.7l-9.3 13.9l-4.7 7.3z" fill="#fdaf62"/><path d="M1460.7 815.7l-9.1 4.7l-9.1 4.9l9.7 1.8l9.8 1.9l9.1-4.9l9.1-4.7l-9.8-1.9l-4.8-0.9z" fill="#a50026"/><path d="M1159.9 901.6l-9.4 7.9l-9.3 8.1l9.5-1.9l9.5-1.4l9.4-7.3l9.3-7.2l-9.5 0.7l-4.8 0.5z" fill="#c62027"/><path d="M1498.4 810.2l-9.1 4.5l-9.1 4.7l9.8 2l9.8 2.1l9.1-4.6l9.1-4.5l-9.8-2.2l-4.9-1z" fill="#a50026"/><path d="M1291.5 854.1l-9.2 5.4l-9.3 5.6l9.7 1.3l9.6 1.5l9.3-5.5l9.2-5.5l-9.6-1.4l-4.9-0.7z" fill="#a90426"/><path d="M351.2 854.1l-10.2-5.7l-10.3-5.1l9.1 11.3l9.1 11.7l10.3 6.4l10.3 7l-9.2-13l-4.5-6.4z" fill="#a90426"/><path d="M539.6 1136.4l-10.3-19.5l-10.4-18.9l9.2 9.9l9.1 8.6l10.4 19.4l10.3 20.1l-9.1-9.1l-4.6-5.1z" fill="#fdc778"/><path d="M1103.5 942l-9.4 9.9l-9.4 10.2l9.5-5.3l9.5-4.7l9.4-8.8l9.3-8.8l-9.5 3.5l-4.7 1.9z" fill="#dc3b2c"/><path d="M896.7 1185l-9.5 5.1l-9.5 3.6l9.1-19.4l9.1-18.8l9.6-3.6l9.5-4.8l-9.1 18.6l-4.6 9.6z" fill="#fee192"/><path d="M840.4 1236.1l-9.6-1.3l-9.7-2.9l9.1-19l9-18.9l9.7 2l9.6 0.7l-9.1 19.6l-4.5 9.9z" fill="#fff2ac"/><path d="M1536.1 805.7l-9.1 4.3l-9 4.4l9.8 2.2l9.9 2.4l9-4.4l9.1-4.3l-9.9-2.3l-4.9-1.2z" fill="#a50026"/><path d="M445.3 988.5l-10.4-13l-10.3-12.4l9.2 14.1l9.2 13.7l10.4 13.9l10.3 14.6l-9.2-15.3l-4.6-7.8z" fill="#ec5c3b"/><path d="M294.6 802.4l-10.2-2.5l-10.3-2.1l9 8.7l9 9l10.3 3l10.2 3.5l-9-10l-4.5-4.9z" fill="#a50026"/><path d="M1573.8 802.2l-9 4l-9 4.1l9.8 2.5l9.9 2.7l9-4.2l9-4l-9.9-2.6l-4.9-1.3z" fill="#a50026"/><path d="M1329.2 846.3l-9.2 5.3l-9.2 5.3l9.7 1.6l9.6 1.6l9.3-5.4l9.2-5.4l-9.7-1.5l-4.8-0.8z" fill="#a50026"/><path d="M1611.5 799.5l-9 3.8l-9 4l9.9 2.7l9.9 2.8l9-4l9-3.8l-9.9-2.8l-5-1.3z" fill="#a50026"/><path d="M1649.2 797.5l-9 3.7l-8.9 3.8l9.9 2.8l9.9 3l9-3.9l8.9-3.8l-9.9-2.8l-5-1.4z" fill="#a50026"/><path d="M1197.6 886.1l-9.3 6.7l-9.4 7l9.6-0.3l9.6 0l9.3-6.5l9.3-6.3l-9.6-0.5l-4.7-0.1z" fill="#bb1526"/><path d="M1686.8 795.8l-8.9 3.6l-8.9 3.7l9.9 3l10 2.9l8.9-3.8l8.9-3.8l-9.9-2.9l-5-1.3z" fill="#a50026"/><path d="M1367 838.9l-9.2 5.2l-9.2 5.2l9.7 1.7l9.7 1.7l9.2-5.3l9.2-5.3l-9.7-1.6l-4.9-0.8z" fill="#a50026"/><path d="M1724.5 793.8l-8.9 3.8l-8.9 3.8l10 2.8l10 2.9l8.9-4l8.9-3.9l-10-2.7l-5-1.3z" fill="#a50026"/><path d="M1028.2 1022.1l-9.4 11.6l-9.4 11.3l9.4-11.5l9.4-10.5l9.4-9.8l9.4-10l-9.4 9l-4.7 4.8z" fill="#f57547"/><path d="M1762.2 791.3l-8.8 3.9l-8.9 4l10 2.7l10 2.7l8.9-4.2l8.9-4.2l-10-2.5l-5.1-1.2z" fill="#a50026"/><path d="M614.7 1218.4l-10.3-20.6l-10.2-20.2l9 1.6l9.1 0.3l10.2 19.4l10.2 19.7l-9 0.7l-4.5-0.2z" fill="#feeba1"/><path d="M953 1116.3l-9.5 9.3l-9.4 8.3l9.2-17.1l9.3-16.2l9.5-7.4l9.5-8.2l-9.3 15.1l-4.7 8z" fill="#fdb769"/><path d="M746.3 1269.5l-9.8-12.3l-9.9-13.4l8.9-13l9-13.7l9.9 11.6l9.8 10.6l-8.9 15.5l-4.5 7.5z" fill="#fffcba"/><path d="M369.5 879.7l-10.3-7l-10.3-6.4l9.2 12l9.1 12.2l10.3 7.8l10.3 8.5l-9.2-13.7l-4.6-6.8z" fill="#b71126"/><path d="M463.7 1019.4l-10.3-14.6l-10.4-13.9l9.2 13.5l9.2 13l10.4 15.1l10.4 16.1l-9.2-14.3l-4.7-7.4z" fill="#f47044"/><path d="M1837.8 782.7l-8.8 4.6l-8.9 4.6l10.1 2.1l5.1 1l8.8-4.8l8.9-4.9l-10.1-1.7z" fill="#a50026"/><path d="M256.2 781.7l-10.2-1l-5.1-0.4l9 7.4l8.9 7.7l10.2 1.5l5.1 0.9l-8.9-8.2l-4.5-4z" fill="#a50026"/><path d="M708.7 1266.9l-10-15.8l-10-16.4l9-9.3l8.9-10.3l10 14.7l10 14l-9 12.1l-4.4 5.7z" fill="#fffbb9"/><path d="M1800 787.7l-8.8 4.2l-8.9 4.3l10.1 2.4l10 2.4l8.9-4.5l8.8-4.6l-10-2.1l-5.1-1z" fill="#a50026"/><path d="M1404.7 831.8l-9.2 5.1l-9.1 5.2l9.7 1.7l9.7 1.9l9.2-5.3l9.2-5.1l-9.8-1.8l-4.8-0.8z" fill="#a50026"/><path d="M1235.3 874.4l-9.3 6.1l-9.3 6.2l9.6 0.6l9.6 1l9.3-6l9.3-5.8l-9.6-1.2l-4.8-0.4z" fill="#b30d26"/><path d="M1141.2 917.6l-9.4 8.4l-9.4 8.5l9.6-2.8l9.5-2.3l9.4-7.6l9.3-7.5l-9.5 1.4l-4.8 0.9z" fill="#ce2827"/><path d="M1084.7 962.1l-9.4 10.2l-9.4 10.3l9.4-6.7l9.5-5.8l9.4-9l9.5-9l-9.5 4.7l-4.8 2.5z" fill="#e14430"/><path d="M1442.5 825.3l-9.2 4.9l-9.1 5.1l9.7 1.8l9.8 2l9.2-5.1l9.1-5l-9.8-1.9l-4.9-0.9z" fill="#a50026"/><path d="M557.9 1156l-10.3-20.1l-10.4-19.4l9.1 7.5l9.1 6.2l10.4 19.5l10.3 20.1l-9.1-6.2l-4.6-3.6z" fill="#fecc7e"/><path d="M783.8 1257.3l-9.8-8.4l-9.8-9.6l9-16l9-16.3l9.8 8l9.7 6.9l-8.9 17.8l-4.5 8.9z" fill="#fff7b3"/><path d="M312.6 822l-10.2-3.5l-10.3-3l9.1 9.5l9 9.8l10.3 4l10.2 4.5l-9.1-10.8l-4.5-5.3z" fill="#a50026"/><path d="M1273 865.1l-9.2 5.6l-9.3 5.8l9.6 1.2l9.7 1.5l9.2-5.7l9.3-5.6l-9.6-1.5l-4.8-0.7z" fill="#ab0626"/><path d="M1480.2 819.4l-9.1 4.7l-9.1 4.9l9.8 2l9.8 2.2l9.1-4.9l9.1-4.8l-9.8-2.1l-4.9-1z" fill="#a50026"/><path d="M670.8 1249.4l-10.1-18.4l-10.1-18.5l9-5.2l9-6.3l10.1 16.9l10 16.8l-8.9 8l-4.5 3.5z" fill="#fff3ad"/><path d="M387.8 906.8l-10.3-8.5l-10.3-7.8l9.2 12.5l9.1 12.6l10.4 9.2l10.3 10l-9.2-14.1l-4.6-7z" fill="#c41e27"/><path d="M482.2 1048.6l-10.4-16.1l-10.4-15.1l9.2 12.4l9.2 11.8l10.4 16.3l10.4 17.2l-9.2-12.9l-4.6-6.7z" fill="#f7844e"/><path d="M1518 814.4l-9.1 4.5l-9.1 4.6l9.9 2.3l9.8 2.4l9.1-4.7l9.1-4.5l-9.9-2.4l-4.9-1.1z" fill="#a50026"/><path d="M1009.4 1045l-9.5 10.8l-9.4 10.4l9.3-12.9l9.4-11.9l9.5-9l9.5-9.4l-9.4 10.5l-4.7 5.6z" fill="#f7814c"/><path d="M1310.8 856.9l-9.2 5.5l-9.3 5.5l9.7 1.6l9.6 1.7l9.3-5.6l9.2-5.5l-9.6-1.6l-4.9-0.8z" fill="#a50026"/><path d="M877.7 1193.7l-9.6 2.2l-9.6 0.8l9.1-19.2l9.2-18.5l9.6-1.2l9.5-2.3l-9.1 18.8l-4.6 9.6z" fill="#fee090"/><path d="M1555.8 810.3l-9.1 4.3l-9 4.4l9.8 2.5l9.9 2.7l9-4.5l9.1-4.2l-9.9-2.7l-4.9-1.2z" fill="#a50026"/><path d="M1178.9 899.8l-9.3 7.2l-9.4 7.3l9.6-1l9.6-0.5l9.3-6.7l9.4-6.6l-9.6 0l-4.8 0.1z" fill="#c01a27"/><path d="M1593.5 807.3l-9 4l-9 4.2l9.9 2.7l9.9 2.9l9-4.2l9-4.1l-9.9-2.8l-4.9-1.4z" fill="#a50026"/><path d="M1631.3 805l-9 3.8l-9 4l9.9 2.9l9.9 3.1l9-4.1l9-3.9l-9.9-3l-5-1.4z" fill="#a50026"/><path d="M1348.6 849.3l-9.2 5.4l-9.3 5.4l9.7 1.7l9.7 1.8l9.3-5.5l9.2-5.4l-9.7-1.7l-4.9-0.9z" fill="#a50026"/><path d="M934.1 1133.9l-9.5 7.2l-9.6 6l9.3-17.7l9.2-16.8l9.5-5.5l9.6-6.5l-9.3 16.2l-4.6 8.4z" fill="#fdbd6f"/><path d="M274.1 797.8l-10.2-1.7l-5.1-0.7l9 8.1l9 8.4l10.2 2.3l5.1 1.3l-9-9l-4.5-4.4z" fill="#a50026"/><path d="M1669 803.1l-8.9 3.8l-9 3.9l9.9 3l10 3.1l9-3.9l8.9-4l-10-2.9l-4.9-1.5z" fill="#a50026"/><path d="M1706.7 801.4l-8.9 3.8l-8.9 3.8l10 3.1l10 3.1l8.9-4.1l8.9-4l-10-2.9l-5-1.4z" fill="#a50026"/><path d="M1065.9 982.6l-9.4 10.3l-9.5 10.3l9.5-8.2l9.5-7.1l9.4-8.9l9.4-8.9l-9.5 5.8l-4.7 3.3z" fill="#e65036"/><path d="M821.1 1231.9l-9.6-4.3l-9.8-5.7l9.1-17.9l9-17.7l9.7 4.5l9.7 3.2l-9 18.9l-4.5 9.5z" fill="#feeca2"/><path d="M1122.4 934.5l-9.3 8.8l-9.4 8.8l9.5-3.9l9.5-3.2l9.4-7.8l9.4-7.8l-9.5 2.3l-4.8 1.3z" fill="#d42d27"/><path d="M1744.5 799.2l-8.9 3.9l-8.9 4l10 2.9l10 3l9-4.2l8.8-4.2l-10-2.7l-5-1.4z" fill="#a50026"/><path d="M330.7 843.3l-10.2-4.5l-10.3-4l9.1 10.1l9.1 10.5l10.2 5.1l10.3 5.8l-9.1-11.7l-4.5-5.7z" fill="#a50026"/><path d="M1386.4 842.1l-9.2 5.3l-9.2 5.3l9.7 1.8l9.8 2l9.2-5.5l9.1-5.3l-9.7-1.9l-4.9-0.8z" fill="#a50026"/><path d="M406.2 934.8l-10.3-10l-10.4-9.2l9.2 12.7l9.2 12.7l10.4 10.6l10.3 11.5l-9.2-14.1l-4.6-7.1z" fill="#d22b27"/><path d="M1216.7 886.7l-9.3 6.3l-9.3 6.5l9.5 0.3l9.7 0.7l9.3-6.2l9.3-6l-9.6-1l-4.8-0.3z" fill="#b71126"/><path d="M1820.1 791.9l-8.8 4.6l-8.9 4.5l10.1 2.3l5.1 1.2l8.8-4.7l8.9-4.8l-10.1-2.1z" fill="#a50026"/><path d="M1782.3 796.2l-8.9 4.2l-8.9 4.2l10.1 2.7l10.1 2.6l8.8-4.4l8.9-4.5l-10-2.4l-5.1-1.2z" fill="#a50026"/><path d="M500.6 1075.1l-10.4-17.2l-10.4-16.3l9.2 11l9.2 10.2l10.4 17.1l10.3 18.1l-9.1-10.9l-4.6-5.9z" fill="#f99355"/><path d="M1424.2 835.3l-9.2 5.1l-9.2 5.3l9.8 1.9l9.8 2l9.2-5.3l9.1-5.2l-9.8-2l-4.8-0.9z" fill="#a50026"/><path d="M576.1 1169.8l-10.3-20.1l-10.4-19.5l9.1 4.9l9.1 3.6l10.3 19.1l10.3 19.8l-9.1-3.2l-4.5-2.1z" fill="#fece7f"/><path d="M632.7 1218.6l-10.2-19.7l-10.2-19.4l9-1.2l9-2.5l10.2 18.2l10.1 18.5l-9 3.8l-4.4 1.3z" fill="#fee699"/><path d="M990.5 1066.2l-9.5 9.7l-9.4 9.1l9.3-14.2l9.4-12.9l9.4-8l9.5-8.5l-9.4 11.9l-4.6 6.3z" fill="#f88c51"/><path d="M1254.5 876.5l-9.3 5.8l-9.3 6l9.6 1.1l9.7 1.3l9.3-5.8l9.3-5.7l-9.7-1.5l-4.8-0.6z" fill="#af0926"/><path d="M1462 829l-9.1 5l-9.2 5.1l9.8 2.1l9.8 2.2l9.2-5.2l9.1-5l-9.8-2.2l-4.9-1z" fill="#a50026"/><path d="M1160.2 914.3l-9.3 7.5l-9.4 7.6l9.5-1.7l9.6-1.1l9.4-7l9.4-6.8l-9.6 0.5l-4.8 0.5z" fill="#c41e27"/><path d="M424.6 963.1l-10.3-11.5l-10.4-10.6l9.2 12.6l9.2 12.4l10.4 12l10.3 12.9l-9.2-13.7l-4.6-7z" fill="#dd3d2d"/><path d="M1499.8 823.5l-9.1 4.8l-9.1 4.9l9.8 2.3l9.9 2.4l9.1-4.9l9.1-4.8l-9.8-2.4l-5-1.2z" fill="#a50026"/><path d="M1292.3 867.9l-9.3 5.6l-9.2 5.7l9.6 1.5l9.7 1.8l9.3-5.7l9.2-5.6l-9.6-1.7l-4.9-0.8z" fill="#a70226"/><path d="M292.1 815.5l-10.2-2.5l-5.1-1.1l9 8.8l9 9.1l10.3 3.2l5.1 1.8l-9-9.8l-4.6-4.8z" fill="#a50026"/><path d="M348.9 866.3l-10.3-5.8l-10.2-5.1l9.1 10.7l9.1 11l10.3 6.3l10.3 7.1l-9.1-12.2l-4.6-6.1z" fill="#a50026"/><path d="M1537.7 819l-9.1 4.5l-9.1 4.7l9.9 2.5l9.8 2.6l9.1-4.6l9.1-4.5l-9.9-2.7l-4.9-1.3z" fill="#a50026"/><path d="M1047 1003.2l-9.4 10l-9.4 9.8l9.4-9.5l9.4-8.4l9.5-8.5l9.5-8.7l-9.5 7.1l-4.7 4z" fill="#eb5a3a"/><path d="M1103.7 952.1l-9.5 9l-9.4 9l9.5-5.1l9.6-4.2l9.4-7.9l9.4-7.9l-9.5 3.2l-4.8 1.9z" fill="#da362a"/><path d="M1330.1 860.1l-9.2 5.5l-9.3 5.6l9.7 1.7l9.7 1.9l9.3-5.6l9.2-5.6l-9.7-1.8l-4.8-0.8z" fill="#a50026"/><path d="M1575.5 815.5l-9.1 4.2l-9 4.5l9.9 2.7l9.9 2.9l9-4.4l9.1-4.3l-9.9-2.9l-5-1.4z" fill="#a50026"/><path d="M518.9 1098l-10.3-18.1l-10.4-17.1l9.2 9.3l9.1 8.3l10.4 17.6l10.3 18.5l-9.1-8.6l-4.6-4.8z" fill="#fba05b"/><path d="M915 1147.1l-9.5 4.8l-9.6 3.6l9.2-17.9l9.3-17l9.6-3.5l9.5-4.5l-9.2 16.8l-4.7 8.7z" fill="#fdbf71"/><path d="M1613.3 812.8l-9 4.1l-9 4.2l9.9 3l9.9 3l9-4.2l9-4.1l-9.9-3.1l-5-1.4z" fill="#a50026"/><path d="M858.5 1196.7l-9.6-0.7l-9.7-2l9.1-18.4l9.2-17.9l9.6 1.2l9.7 0.1l-9.2 18.5l-4.5 9.5z" fill="#feda8a"/><path d="M1651.1 810.8l-9 3.9l-9 4.1l10 3.1l9.9 3.2l9-4.1l9-4.1l-10-3.1l-4.9-1.5z" fill="#a50026"/><path d="M1198.1 899.5l-9.4 6.6l-9.3 6.7l9.5-0.1l9.7 0.3l9.3-6.3l9.4-6.2l-9.7-0.7l-4.7-0.2z" fill="#bb1526"/><path d="M1688.9 809l-8.9 4l-9 3.9l10 3.2l9.9 3.3l9-4.2l9-4l-10-3.1l-5-1.5z" fill="#a50026"/><path d="M1368 852.7l-9.2 5.4l-9.3 5.5l9.8 2l9.7 1.9l9.2-5.5l9.3-5.5l-9.8-2l-4.9-0.9z" fill="#a50026"/><path d="M726.6 1243.8l-10-14l-10-14.7l9-11.1l9-11.7l10 12.6l9.9 12.2l-9 13.7l-4.5 6.6z" fill="#feeca2"/><path d="M1726.7 807.1l-8.9 4l-8.9 4.1l10 3.1l10 3.1l8.9-4.2l8.9-4.2l-10-3l-5-1.4z" fill="#a50026"/><path d="M1802.4 801l-8.9 4.5l-8.8 4.4l10 2.7l5.1 1.3l8.9-4.7l8.9-4.7l-10.1-2.3z" fill="#a50026"/><path d="M443 990.9l-10.3-12.9l-10.4-12l9.2 12.1l9.2 11.8l10.4 13.2l10.3 14.3l-9.2-13l-4.6-6.7z" fill="#e54e35"/><path d="M1764.5 804.6l-8.8 4.2l-9 4.2l10.1 2.9l10 3l9-4.5l8.9-4.5l-10.1-2.6l-5-1.4z" fill="#a50026"/><path d="M764.2 1239.3l-9.8-10.6l-9.9-11.6l9-14.2l9-14.4l9.9 9.6l9.8 8.9l-9 16.3l-4.5 8.1z" fill="#feea9f"/><path d="M971.6 1085l-9.5 8.2l-9.5 7.4l9.3-15l9.3-13.9l9.5-6.6l9.6-7.2l-9.4 12.9l-4.7 7z" fill="#f99355"/><path d="M1405.8 845.7l-9.1 5.3l-9.2 5.5l9.7 2l9.8 2l9.2-5.5l9.2-5.4l-9.8-2l-4.9-1z" fill="#a50026"/><path d="M688.7 1234.7l-10-16.8l-10.1-16.9l9-7.5l9-8.4l10 15.1l10 14.9l-8.9 10.3l-4.5 4.8z" fill="#fee99d"/><path d="M367.2 890.5l-10.3-7.1l-10.3-6.3l9.1 11.2l9.2 11.3l10.3 7.6l10.3 8.4l-9.1-12.6l-4.6-6.3z" fill="#b10b26"/><path d="M1235.9 888.3l-9.3 6l-9.3 6.2l9.6 0.9l9.6 1.2l9.3-6l9.4-5.9l-9.7-1.3l-4.8-0.6z" fill="#b10b26"/><path d="M310.2 834.8l-10.3-3.5l-5.1-1.5l9.1 9.4l9 9.6l10.3 4.2l5.2 2.4l-9.1-10.5l-4.6-5.1z" fill="#a50026"/><path d="M1443.7 839.1l-9.1 5.2l-9.2 5.3l9.8 2.1l9.8 2.3l9.2-5.4l9.1-5.2l-9.8-2.2l-4.9-1.1z" fill="#a50026"/><path d="M594.2 1177.6l-10.3-19.8l-10.3-19.1l9.1 2.4l9 1.1l10.3 18.3l10.3 19l-9.1-0.3l-4.5-0.6z" fill="#fecc7e"/><path d="M1141.5 929.4l-9.4 7.8l-9.4 7.8l9.5-2.5l9.6-1.9l9.4-7l9.4-7l-9.6 1.1l-4.7 0.8z" fill="#ca2427"/><path d="M1028.2 1023l-9.5 9.4l-9.5 9l9.4-10.7l9.5-9.6l9.5-7.8l9.4-8.2l-9.4 8.4l-4.7 4.6z" fill="#ef633f"/><path d="M1273.8 879.2l-9.3 5.7l-9.3 5.8l9.6 1.6l9.7 1.7l9.3-5.8l9.3-5.7l-9.7-1.8l-4.8-0.8z" fill="#ab0626"/><path d="M1481.6 833.2l-9.1 5l-9.2 5.2l9.9 2.3l9.8 2.4l9.1-5.2l9.2-5l-9.9-2.4l-4.9-1.2z" fill="#a50026"/><path d="M801.7 1221.9l-9.7-6.9l-9.8-8l9-16.3l9.1-16.2l9.8 6.4l9.7 5.4l-9 17.7l-4.5 9z" fill="#fee294"/><path d="M1084.8 970.1l-9.4 8.9l-9.4 8.9l9.4-6.3l9.6-5.2l9.4-7.8l9.5-7.8l-9.6 4.2l-4.7 2.4z" fill="#dd3d2d"/><path d="M537.2 1116.5l-10.3-18.5l-10.4-17.6l9.1 7.3l9.2 6.2l10.3 17.7l10.3 18.6l-9.1-6.2l-4.5-3.6z" fill="#fca85e"/><path d="M461.4 1017.4l-10.3-14.3l-10.4-13.2l9.2 11.3l9.2 10.8l10.4 14.3l10.3 15.3l-9.2-11.8l-4.6-6.1z" fill="#ec5c3b"/><path d="M1519.5 828.2l-9.1 4.8l-9.1 4.9l9.8 2.5l9.9 2.6l9.1-4.9l9.1-4.8l-9.8-2.6l-5-1.3z" fill="#a50026"/><path d="M1311.6 871.2l-9.2 5.6l-9.3 5.7l9.7 1.8l9.7 1.9l9.3-5.7l9.2-5.7l-9.7-1.9l-4.8-0.9z" fill="#a50026"/><path d="M1557.4 824.2l-9.1 4.5l-9.1 4.6l9.9 2.8l9.9 2.9l9.1-4.7l9.1-4.5l-9.9-2.9l-5-1.4z" fill="#a50026"/><path d="M650.6 1212.5l-10.1-18.5l-10.2-18.2l9-3.6l9-4.8l10.2 16.7l10.1 16.9l-9 6.3l-4.5 2.8z" fill="#fede8e"/><path d="M385.5 915.6l-10.3-8.4l-10.3-7.6l9.1 11.3l9.2 11.4l10.4 8.9l10.3 9.8l-9.2-12.7l-4.6-6.4z" fill="#be1827"/><path d="M1179.4 912.8l-9.4 6.8l-9.4 7l9.6-0.7l9.6-0.2l9.4-6.4l9.4-6.3l-9.7-0.3l-4.7 0z" fill="#be1827"/><path d="M1595.3 821.1l-9.1 4.3l-9 4.4l9.9 3l9.9 3.1l9.1-4.4l9-4.4l-9.9-3l-5-1.5z" fill="#a50026"/><path d="M1349.5 863.6l-9.2 5.6l-9.3 5.6l9.8 2l9.7 2.1l9.3-5.7l9.2-5.7l-9.7-1.9l-4.9-1z" fill="#a50026"/><path d="M895.9 1155.5l-9.5 2.3l-9.6 1.2l9.1-17.7l9.3-16.8l9.6-1.4l9.6-2.5l-9.3 17l-4.6 8.8z" fill="#fdbd6f"/><path d="M1633.1 818.8l-9 4.1l-9 4.2l9.9 3.2l10 3.3l9-4.3l9-4.2l-9.9-3.2l-5-1.6z" fill="#a50026"/><path d="M1671 816.9l-9 4.1l-9 4.1l10 3.3l10 3.4l9-4.3l8.9-4.1l-9.9-3.3l-5-1.6z" fill="#a50026"/><path d="M328.4 855.4l-10.3-4.6l-5.2-2l9.1 10l9.1 10.1l10.3 5.3l5.2 2.9l-9.1-11l-4.6-5.4z" fill="#a50026"/><path d="M952.6 1100.6l-9.6 6.5l-9.5 5.5l9.3-15.6l9.3-14.4l9.6-5l9.5-5.9l-9.3 13.9l-4.7 7.4z" fill="#fa9857"/><path d="M1708.9 815.2l-9 4l-9 4.2l10 3.3l10.1 3.3l8.9-4.3l9-4.3l-10-3.1l-5-1.6z" fill="#a50026"/><path d="M1784.7 809.9l-8.9 4.5l-9 4.5l10.1 2.9l5.1 1.5l8.9-4.7l8.9-4.7l-10.1-2.6z" fill="#a50026"/><path d="M1746.7 813l-8.9 4.2l-8.9 4.2l10 3.2l10.1 3.2l8.9-4.5l8.9-4.4l-10-3l-5-1.5z" fill="#a50026"/><path d="M1387.5 856.5l-9.3 5.5l-9.2 5.5l9.8 2.1l9.7 2.2l9.3-5.7l9.2-5.6l-9.8-2l-4.9-1.1z" fill="#a50026"/><path d="M1217.3 900.5l-9.4 6.2l-9.3 6.3l9.6 0.6l9.6 1l9.4-6l9.3-6l-9.6-1.2l-4.8-0.5z" fill="#b50f26"/><path d="M1122.7 945l-9.4 7.9l-9.4 7.9l9.5-3.5l9.6-2.7l9.4-7l9.4-7l-9.6 1.9l-4.7 1.2z" fill="#d02927"/><path d="M1009.2 1041.4l-9.5 8.5l-9.4 8l9.3-11.8l9.5-10.6l9.5-7l9.5-7.4l-9.5 9.6l-4.7 5.2z" fill="#f46d43"/><path d="M839.2 1194l-9.7-3.2l-9.7-4.5l9.1-17.3l9.2-16.7l9.7 3.2l9.7 2.2l-9.2 17.9l-4.5 9.1z" fill="#fed081"/><path d="M479.8 1041.6l-10.3-15.3l-10.4-14.3l9.1 10.2l9.2 9.5l10.4 15l10.4 16.1l-9.2-10.2l-4.6-5.4z" fill="#f36b42"/><path d="M1425.4 849.6l-9.2 5.4l-9.2 5.5l9.8 2.2l9.8 2.3l9.2-5.6l9.2-5.4l-9.8-2.3l-4.9-1z" fill="#a50026"/><path d="M1066 987.9l-9.5 8.7l-9.5 8.5l9.5-7.4l9.5-6.3l9.5-7.4l9.5-7.6l-9.6 5.2l-4.7 3z" fill="#e24731"/><path d="M403.9 941l-10.3-9.8l-10.4-8.9l9.2 11.4l9.1 11.2l10.4 10l10.4 11.1l-9.2-12.4l-4.6-6.3z" fill="#ca2427"/><path d="M1255.2 890.7l-9.4 5.9l-9.3 6l9.7 1.4l9.6 1.6l9.4-5.8l9.3-5.8l-9.7-1.7l-4.8-0.8z" fill="#af0926"/><path d="M1463.3 843.4l-9.1 5.2l-9.2 5.4l9.8 2.3l9.9 2.4l9.1-5.4l9.2-5.2l-9.8-2.4l-5-1.2z" fill="#a50026"/><path d="M555.4 1130.2l-10.3-18.6l-10.3-17.7l9.1 5.1l9.1 4.1l10.3 17.4l10.3 18.2l-9.1-3.6l-4.5-2.3z" fill="#fcaa5f"/><path d="M612.3 1179.5l-10.3-19l-10.3-18.3l9.1-0.1l9-1.2l10.3 17.2l10.2 17.7l-9 2.5l-4.5 0.7z" fill="#fdc778"/><path d="M1501.3 837.9l-9.2 5l-9.1 5.2l9.9 2.5l9.8 2.6l9.2-5.1l9.1-5.1l-9.9-2.6l-4.9-1.3z" fill="#a50026"/><path d="M1293.1 882.5l-9.3 5.7l-9.3 5.8l9.7 1.8l9.7 2l9.3-5.8l9.3-5.8l-9.7-1.9l-4.9-0.9z" fill="#a70226"/><path d="M346.6 877.1l-10.3-5.6l-5.2-2.6l9.1 10.3l9.2 10.5l10.3 6.4l5.2 3.5l-9.2-11.3l-4.5-5.7z" fill="#a50026"/><path d="M1160.6 926.6l-9.4 7l-9.4 7l9.6-1.3l9.6-0.7l9.4-6.4l9.4-6.5l-9.6 0.2l-4.8 0.3z" fill="#c21c27"/><path d="M1539.2 833.3l-9.1 4.8l-9.1 4.9l9.9 2.8l9.9 2.9l9.1-4.9l9.1-4.8l-9.9-2.9l-4.9-1.4z" fill="#a50026"/><path d="M1331 874.8l-9.2 5.7l-9.3 5.7l9.7 2.1l9.7 2.1l9.3-5.8l9.3-5.7l-9.7-2.1l-4.9-1z" fill="#a50026"/><path d="M1577.2 829.8l-9.1 4.5l-9.1 4.7l9.9 3l10 3.1l9-4.6l9.1-4.6l-9.9-3.1l-5-1.5z" fill="#a50026"/><path d="M1615.1 827.1l-9 4.4l-9.1 4.4l9.9 3.3l10 3.3l9.1-4.5l9-4.4l-10-3.3l-4.9-1.6z" fill="#a50026"/><path d="M1653 825.1l-9 4.2l-9 4.3l10 3.4l9.9 3.4l9.1-4.3l9-4.3l-10-3.4l-5-1.6z" fill="#a50026"/><path d="M744.5 1217.1l-9.9-12.2l-10-12.6l9-12.3l9.1-12.5l9.9 10.7l9.9 10.3l-9 14.4l-4.5 7.2z" fill="#fed889"/><path d="M933.5 1112.6l-9.5 4.5l-9.6 3.5l9.3-15.8l9.3-14.6l9.6-3.4l9.5-4.2l-9.3 14.4l-4.6 7.7z" fill="#fa9b58"/><path d="M422.3 966l-10.4-11.1l-10.4-10l9.2 11l9.2 10.7l10.4 11.1l10.4 12.2l-9.2-11.8l-4.6-6z" fill="#d62f27"/><path d="M498.2 1062.8l-10.4-16.1l-10.4-15l9.2 8.8l9.1 7.9l10.4 15.5l10.4 16.5l-9.1-8.3l-4.6-4.5z" fill="#f57547"/><path d="M1766.8 818.9l-8.9 4.4l-8.9 4.5l10 3.2l5.1 1.6l8.9-4.7l9-4.6l-10.1-2.9z" fill="#a50026"/><path d="M1690.9 823.4l-8.9 4.1l-9 4.3l10 3.4l10 3.5l9-4.4l9-4.3l-10.1-3.3l-5-1.7z" fill="#a50026"/><path d="M706.6 1215.1l-10-14.9l-10-15.1l9-9.2l9-9.7l10 13.1l10 13l-9 11.7l-4.5 5.7z" fill="#fed889"/><path d="M1369 867.5l-9.2 5.7l-9.3 5.7l9.8 2.1l9.7 2.2l9.3-5.7l9.2-5.7l-9.7-2.2l-4.9-1z" fill="#a50026"/><path d="M1103.9 960.8l-9.5 7.8l-9.4 7.8l9.5-4.4l9.6-3.6l9.4-6.8l9.5-7l-9.6 2.7l-4.8 1.7z" fill="#d62f27"/><path d="M1198.6 913l-9.4 6.3l-9.4 6.4l9.6 0.3l9.6 0.7l9.4-6.1l9.4-6l-9.6-1l-4.8-0.3z" fill="#b91326"/><path d="M1728.9 821.4l-9 4.3l-8.9 4.3l10 3.4l10 3.4l9-4.5l9-4.5l-10.1-3.2l-5-1.6z" fill="#a50026"/><path d="M990.3 1057.9l-9.6 7.2l-9.5 6.6l9.4-12.6l9.4-11.3l9.5-5.9l9.6-6.4l-9.5 10.6l-4.7 5.7z" fill="#f57245"/><path d="M876.8 1159l-9.7-0.1l-9.6-1.2l9.1-17l9.2-16.1l9.7 0.4l9.7-0.5l-9.3 16.8l-4.6 8.7z" fill="#fdb96b"/><path d="M1047 1005.1l-9.4 8.2l-9.5 7.8l9.5-8.4l9.4-7.3l9.5-6.9l9.5-7.1l-9.5 6.3l-4.7 3.5z" fill="#e54e35"/><path d="M1407 860.5l-9.2 5.6l-9.3 5.7l9.8 2.2l9.8 2.3l9.3-5.7l9.2-5.6l-9.8-2.3l-4.9-1.1z" fill="#a50026"/><path d="M782.2 1207l-9.8-8.9l-9.9-9.6l9-14.6l9.1-14.4l9.9 7.8l9.8 7.2l-9.1 16.2l-4.5 8.1z" fill="#fed283"/><path d="M364.9 899.6l-10.4-6.8l-5.1-3.1l9.1 10.5l9.2 10.5l10.3 7.5l5.2 4.1l-9.2-11.4l-4.6-5.7z" fill="#af0926"/><path d="M1236.5 902.6l-9.3 6l-9.4 6l9.7 1.2l9.6 1.5l9.4-5.8l9.3-5.9l-9.6-1.6l-4.9-0.8z" fill="#b10b26"/><path d="M668.6 1201l-10.1-16.9l-10.2-16.7l9-5.7l9.1-6.5l10.1 14.8l10.1 15.1l-9 8.4l-4.5 3.8z" fill="#fece7f"/><path d="M1445 854l-9.2 5.4l-9.2 5.6l9.8 2.3l9.8 2.4l9.3-5.5l9.2-5.5l-9.9-2.4l-4.9-1.2z" fill="#a50026"/><path d="M1274.5 894l-9.3 5.8l-9.4 5.8l9.7 1.8l9.7 1.9l9.3-5.7l9.4-5.8l-9.7-2l-4.9-0.9z" fill="#ab0626"/><path d="M1141.8 940.6l-9.4 7l-9.4 7l9.5-1.9l9.6-1.3l9.5-6.4l9.4-6.4l-9.6 0.7l-4.8 0.6z" fill="#c62027"/><path d="M1483 848.1l-9.2 5.2l-9.1 5.4l9.8 2.5l9.9 2.7l9.2-5.4l9.1-5.3l-9.8-2.6l-5-1.3z" fill="#a50026"/><path d="M440.7 989.9l-10.4-12.2l-10.4-11.1l9.2 10.3l9.2 9.9l10.4 12.1l10.4 13.1l-9.2-10.8l-4.6-5.6z" fill="#dd3d2d"/><path d="M573.6 1138.7l-10.3-18.2l-10.3-17.4l9.1 3l9.1 1.9l10.3 16.7l10.2 17.5l-9-1.1l-4.5-1z" fill="#fca85e"/><path d="M1521 843l-9.1 5.1l-9.2 5.1l9.9 2.8l9.9 2.8l9.2-5.1l9.1-5l-9.9-2.9l-5-1.4z" fill="#a50026"/><path d="M819.8 1186.3l-9.7-5.4l-9.8-6.4l9.1-15.9l9.1-15.4l9.8 4.9l9.8 4.2l-9.2 16.7l-4.5 8.6z" fill="#fdc576"/><path d="M1312.5 886.2l-9.3 5.8l-9.3 5.8l9.7 2l9.7 2.2l9.3-5.8l9.3-5.8l-9.7-2.1l-4.9-1.1z" fill="#a50026"/><path d="M1559 839l-9.1 4.8l-9.1 4.9l9.9 3l9.9 3.1l9.1-4.9l9.2-4.8l-10-3.1l-4.9-1.5z" fill="#a50026"/><path d="M516.5 1080.4l-10.4-16.5l-10.4-15.5l9.2 7.1l9.1 6.3l10.4 15.5l10.4 16.6l-9.2-6.2l-4.5-3.5z" fill="#f67c4a"/><path d="M1085 976.4l-9.5 7.6l-9.5 7.4l9.6-5.4l9.5-4.3l9.5-6.5l9.5-6.8l-9.6 3.6l-4.8 2z" fill="#d93429"/><path d="M1597 835.9l-9.1 4.6l-9 4.6l9.9 3.3l9.9 3.3l9.1-4.7l9.1-4.5l-10-3.3l-4.9-1.7z" fill="#a50026"/><path d="M383.2 922.3l-10.4-7.9l-5.1-3.7l9.1 10.5l9.2 10.4l10.4 8.6l5.1 4.7l-9.1-11.2l-4.6-5.7z" fill="#b91326"/><path d="M1179.8 925.7l-9.4 6.5l-9.4 6.4l9.6-0.2l9.6 0.3l9.4-6l9.4-6l-9.6-0.7l-4.8-0.2z" fill="#bd1726"/><path d="M1350.5 878.9l-9.3 5.7l-9.3 5.8l9.8 2.2l9.8 2.3l9.2-5.9l9.3-5.8l-9.7-2.2l-4.9-1.1z" fill="#a50026"/><path d="M1635 833.6l-9 4.4l-9.1 4.5l10 3.4l10 3.5l9-4.5l9-4.5l-9.9-3.4l-5-1.7z" fill="#a50026"/><path d="M1749 827.8l-9 4.5l-9 4.5l10.1 3.4l5 1.7l9-4.7l9-4.6l-10.1-3.2z" fill="#a50026"/><path d="M630.3 1175.8l-10.2-17.7l-10.3-17.2l9.1-2.2l9-3.2l10.2 15.7l10.2 16.2l-9 4.8l-4.5 1.9z" fill="#fdbd6f"/><path d="M1028.1 1021.1l-9.5 7.4l-9.5 7l9.4-9.3l9.5-8.2l9.5-6.1l9.5-6.5l-9.4 7.3l-4.8 4.1z" fill="#e75337"/><path d="M971.2 1071.7l-9.5 5.9l-9.6 5l9.4-13.1l9.4-11.9l9.6-4.6l9.5-5.2l-9.4 11.3l-4.7 6.2z" fill="#f57748"/><path d="M1673 831.8l-9 4.3l-9.1 4.3l10 3.6l10.1 3.5l9-4.4l9-4.4l-10-3.5l-5-1.7z" fill="#a50026"/><path d="M1711 830l-9 4.3l-9 4.4l10 3.5l10.1 3.5l9-4.5l8.9-4.4l-10-3.4l-5-1.7z" fill="#a50026"/><path d="M914.4 1120.6l-9.6 2.5l-9.6 1.4l9.2-15.6l9.3-14.5l9.7-1.7l9.6-2.5l-9.3 14.6l-4.7 7.8z" fill="#fa9857"/><path d="M1388.5 871.8l-9.2 5.7l-9.3 5.7l9.8 2.3l9.8 2.3l9.3-5.8l9.2-5.7l-9.8-2.3l-4.9-1.1z" fill="#a50026"/><path d="M1217.8 914.6l-9.4 6l-9.4 6.1l9.7 0.9l9.7 1.3l9.3-5.8l9.4-5.8l-9.6-1.5l-4.9-0.6z" fill="#b50f26"/><path d="M459.1 1012l-10.4-13.1l-10.4-12.1l9.1 9.5l9.2 8.9l10.4 12.7l10.4 13.8l-9.2-9.5l-4.5-5z" fill="#e34933"/><path d="M1426.6 865l-9.2 5.6l-9.3 5.7l9.8 2.4l9.9 2.4l9.2-5.7l9.2-5.7l-9.8-2.4l-4.9-1.2z" fill="#a50026"/><path d="M1123 954.6l-9.5 7l-9.4 6.8l9.5-2.7l9.6-1.9l9.5-6.2l9.4-6.2l-9.6 1.3l-4.8 0.9z" fill="#cc2627"/><path d="M857.5 1157.7l-9.7-2.2l-9.7-3.2l9.1-16.1l9.2-15.2l9.7 2.2l9.7 1.4l-9.2 16.1l-4.6 8.4z" fill="#fdb164"/><path d="M1255.8 905.6l-9.3 5.9l-9.4 5.8l9.7 1.7l9.7 1.9l9.4-5.8l9.3-5.8l-9.7-1.9l-4.8-0.9z" fill="#ad0826"/><path d="M1464.7 858.7l-9.2 5.5l-9.3 5.5l9.9 2.6l9.9 2.6l9.2-5.6l9.2-5.4l-9.9-2.7l-4.9-1.2z" fill="#a50026"/><path d="M401.5 944.9l-10.3-9.1l-5.2-4.2l9.2 10.3l9.1 10l10.4 9.5l5.2 5.2l-9.2-10.7l-4.6-5.5z" fill="#c41e27"/><path d="M1502.7 853.2l-9.1 5.3l-9.2 5.4l9.9 2.7l9.9 2.8l9.1-5.3l9.2-5.3l-9.9-2.8l-4.9-1.4z" fill="#a50026"/><path d="M1293.9 897.8l-9.4 5.8l-9.3 5.7l9.7 2.1l9.8 2.2l9.3-5.8l9.3-5.8l-9.7-2.2l-4.9-1z" fill="#a70226"/><path d="M1066 991.4l-9.5 7.1l-9.5 6.9l9.6-6.2l9.5-5.1l9.5-6.1l9.5-6.3l-9.5 4.3l-4.8 2.6z" fill="#dc3b2c"/><path d="M534.8 1093.9l-10.4-16.6l-10.4-15.5l9.2 5.3l9.1 4.4l10.3 15.3l10.4 16.3l-9.1-4.1l-4.6-2.4z" fill="#f7814c"/><path d="M1540.8 848.7l-9.1 5l-9.2 5.1l9.9 3l9.9 3l9.2-5l9.1-5l-9.9-3.1l-5-1.5z" fill="#a50026"/><path d="M591.7 1142.2l-10.2-17.5l-10.3-16.7l9 0.9l9.1 0l10.3 15.6l10.2 16.4l-9 1.2l-4.5 0.2z" fill="#fba35c"/><path d="M1161 938.6l-9.4 6.4l-9.5 6.4l9.6-0.7l9.7-0.2l9.4-5.9l9.4-5.9l-9.6-0.3l-4.8 0z" fill="#c01a27"/><path d="M1331.9 890.4l-9.3 5.8l-9.3 5.8l9.8 2.2l9.7 2.3l9.4-5.8l9.3-5.8l-9.8-2.3l-4.9-1.1z" fill="#a50026"/><path d="M1578.9 845.1l-9.2 4.8l-9.1 4.9l10 3.2l9.9 3.3l9.1-4.9l9.1-4.7l-9.9-3.3l-5-1.7z" fill="#a50026"/><path d="M724.6 1192.3l-10-13l-10-13.1l9-10.2l9.1-10.5l10 11.1l10 10.9l-9.1 12.5l-4.5 6.2z" fill="#fdc173"/><path d="M1009.1 1035.5l-9.6 6.4l-9.5 5.9l9.4-10.1l9.5-8.8l9.6-5.2l9.5-5.7l-9.5 8.2l-4.7 4.5z" fill="#ea5739"/><path d="M1616.9 842.5l-9.1 4.5l-9.1 4.7l10 3.4l10 3.5l9.1-4.6l9.1-4.6l-10-3.5l-5-1.7z" fill="#a50026"/><path d="M1731 836.8l-8.9 4.4l-9 4.5l10 3.6l5.1 1.8l9-4.6l8.9-4.6l-10-3.4z" fill="#a50026"/><path d="M762.5 1188.5l-9.9-10.3l-9.9-10.7l9-12.6l9.1-12.5l9.9 8.7l9.9 8.4l-9.1 14.4l-4.5 7.3z" fill="#fdbf71"/><path d="M952.1 1082.6l-9.5 4.2l-9.6 3.4l9.3-13.4l9.4-12l9.6-3.3l9.6-3.9l-9.4 11.9l-4.7 6.4z" fill="#f57748"/><path d="M1654.9 840.4l-9 4.5l-9 4.5l9.9 3.5l10.1 3.7l9-4.6l9.1-4.5l-10.1-3.5l-5-1.8z" fill="#a50026"/><path d="M1693 838.7l-9 4.4l-9 4.4l10 3.7l10 3.6l9-4.5l9.1-4.6l-10.1-3.5l-5-1.8z" fill="#a50026"/><path d="M686.6 1185.1l-10.1-15.1l-10.1-14.8l9-7.3l9.1-7.7l10 12.9l10.1 13.1l-9 9.7l-4.5 4.7z" fill="#fdbb6d"/><path d="M477.4 1031.7l-10.4-13.8l-10.4-12.7l9.2 8.2l9.2 7.7l10.3 13.1l10.4 14.2l-9.1-7.9l-4.6-4.3z" fill="#e75337"/><path d="M1370 883.2l-9.3 5.8l-9.2 5.9l9.7 2.3l9.8 2.3l9.3-5.8l9.3-5.9l-9.8-2.3l-4.9-1.1z" fill="#a50026"/><path d="M1199 926.7l-9.4 6l-9.4 6l9.7 0.7l9.6 1l9.5-5.7l9.4-5.8l-9.7-1.3l-4.8-0.5z" fill="#b71126"/><path d="M419.9 966.6l-10.4-10.1l-5.2-4.6l9.2 9.7l9.2 9.3l10.4 10.3l0.6 0.7l-9.2-10.1z" fill="#ce2827"/><path d="M895.2 1124.5l-9.7 0.5l-9.7-0.4l9.3-15.1l9.3-14l9.7-0.2l9.6-0.9l-9.3 14.5l-4.6 7.7z" fill="#f99355"/><path d="M1408.1 876.3l-9.2 5.7l-9.3 5.8l9.8 2.4l9.9 2.5l9.2-5.8l9.3-5.8l-9.9-2.4l-4.9-1.2z" fill="#a50026"/><path d="M1104.1 968.4l-9.5 6.8l-9.5 6.5l9.6-3.4l9.6-2.6l9.4-5.9l9.5-6l-9.6 1.9l-4.8 1.3z" fill="#ce2827"/><path d="M800.3 1174.5l-9.8-7.2l-9.9-7.8l9.1-14.2l9.2-13.8l9.8 6.2l9.8 5.5l-9.1 15.4l-4.6 7.9z" fill="#fdb567"/><path d="M1237.1 917.3l-9.4 5.8l-9.3 5.8l9.6 1.6l9.7 1.8l9.4-5.7l9.4-5.7l-9.7-1.9l-4.8-0.9z" fill="#b10b26"/><path d="M1446.2 869.7l-9.2 5.7l-9.2 5.7l9.8 2.5l9.9 2.6l9.2-5.7l9.3-5.6l-9.9-2.6l-4.9-1.3z" fill="#a50026"/><path d="M648.3 1167.4l-10.2-16.2l-10.2-15.7l9.1-4.1l9.1-4.7l10.1 14l10.2 14.5l-9.1 6.5l-4.5 3z" fill="#fdaf62"/><path d="M1275.2 909.3l-9.3 5.8l-9.4 5.8l9.7 2l9.7 2.2l9.4-5.7l9.4-5.8l-9.8-2.2l-4.8-1z" fill="#ab0626"/><path d="M1484.4 863.9l-9.2 5.4l-9.2 5.6l9.8 2.6l9.9 2.8l9.3-5.5l9.2-5.4l-9.9-2.8l-5-1.4z" fill="#a50026"/><path d="M1047 1005.4l-9.5 6.5l-9.5 6.1l9.5-6.9l9.5-5.8l9.6-5.5l9.5-5.7l-9.5 5.1l-4.8 3z" fill="#dd3d2d"/><path d="M1522.5 858.8l-9.2 5.3l-9.1 5.3l9.9 2.9l9.9 2.9l9.2-5.2l9.1-5.2l-9.9-3l-4.9-1.5z" fill="#a50026"/><path d="M1142.1 951.4l-9.4 6.2l-9.5 6.2l9.6-1.3l9.6-0.6l9.5-5.6l9.5-5.8l-9.7 0.2l-4.8 0.2z" fill="#c21c27"/><path d="M1313.3 902l-9.3 5.8l-9.3 5.8l9.7 2.3l9.8 2.3l9.3-5.8l9.3-5.9l-9.7-2.3l-4.9-1.1z" fill="#a50026"/><path d="M553 1103.1l-10.4-16.3l-10.3-15.3l9.1 3.6l9.1 2.6l10.3 14.6l10.4 15.7l-9.1-1.9l-4.6-1.4z" fill="#f67f4b"/><path d="M1560.6 854.8l-9.1 5l-9.2 5l10 3.2l9.9 3.2l9.2-5l9.1-4.9l-9.9-3.3l-5-1.6z" fill="#a50026"/><path d="M990 1047.8l-9.5 5.2l-9.6 4.6l9.4-10.5l9.5-9.3l9.5-4.1l9.6-4.8l-9.5 8.8l-4.7 4.9z" fill="#eb5a3a"/><path d="M838.1 1152.3l-9.8-4.2l-9.8-4.9l9.2-14.7l9.2-13.9l9.8 3.5l9.7 2.9l-9.2 15.2l-4.6 7.9z" fill="#fba35c"/><path d="M495.7 1048.4l-10.4-14.2l-10.3-13.1l9.1 6.9l9.2 6.2l10.3 13.2l10.4 14.4l-9.1-6.3l-4.6-3.4z" fill="#ea5739"/><path d="M1598.7 851.7l-9.1 4.7l-9.1 4.9l10 3.3l10 3.5l9.1-4.8l9.1-4.7l-10-3.5l-5-1.7z" fill="#a50026"/><path d="M1713.1 845.7l-9.1 4.6l-9 4.5l10.1 3.7l5 1.8l9-4.6l9.1-4.6l-10.1-3.6z" fill="#a50026"/><path d="M438.3 986.8l-10.4-10.9l-5.2-5l9.1 8.9l9.2 8.5l10.4 11l5.2 5.9l-9.2-8.9l-4.5-4.7z" fill="#d62f27"/><path d="M1351.5 894.9l-9.3 5.8l-9.4 5.8l9.8 2.4l9.8 2.4l9.3-5.9l9.3-5.9l-9.8-2.3l-4.9-1.2z" fill="#a50026"/><path d="M1636.9 849.4l-9.1 4.6l-9.1 4.6l10 3.6l10 3.6l9.1-4.6l9.1-4.6l-10.1-3.7l-5-1.7z" fill="#a50026"/><path d="M1675 847.5l-9.1 4.5l-9 4.6l10 3.6l10 3.7l9.1-4.5l9-4.6l-10-3.6l-5-1.9z" fill="#a50026"/><path d="M1180.2 938.7l-9.4 5.9l-9.4 5.9l9.6 0.3l9.7 0.8l9.4-5.6l9.4-5.6l-9.6-1l-4.8-0.4z" fill="#bb1526"/><path d="M933 1090.2l-9.6 2.5l-9.7 1.7l9.3-13.2l9.4-12l9.7-1.9l9.6-2.5l-9.4 12l-4.7 6.5z" fill="#f57547"/><path d="M609.8 1140.9l-10.2-16.4l-10.3-15.6l9.1-1l9.1-1.7l10.2 14.2l10.2 15.1l-9 3.2l-4.5 1.2z" fill="#fa9857"/><path d="M1389.6 887.8l-9.3 5.9l-9.3 5.8l9.9 2.4l9.8 2.5l9.3-5.9l9.3-5.8l-9.9-2.5l-4.9-1.2z" fill="#a50026"/><path d="M1085.1 981.7l-9.5 6.3l-9.5 6.1l9.6-4.2l9.5-3.2l9.6-5.4l9.5-5.6l-9.6 2.6l-4.8 1.6z" fill="#d22b27"/><path d="M1218.4 928.9l-9.4 5.8l-9.5 5.7l9.7 1.4l9.7 1.6l9.4-5.5l9.4-5.6l-9.7-1.8l-4.8-0.8z" fill="#b30d26"/><path d="M1427.8 881.1l-9.3 5.8l-9.2 5.8l9.8 2.5l9.9 2.5l9.2-5.8l9.3-5.7l-9.9-2.6l-4.9-1.3z" fill="#a50026"/><path d="M1256.5 920.9l-9.4 5.7l-9.4 5.7l9.7 1.9l9.8 2.1l9.4-5.6l9.3-5.6l-9.7-2.2l-4.9-1z" fill="#ad0826"/><path d="M1466 874.9l-9.3 5.6l-9.2 5.7l9.9 2.6l9.9 2.7l9.2-5.7l9.2-5.5l-9.9-2.8l-4.9-1.3z" fill="#a50026"/><path d="M875.8 1124.6l-9.7-1.4l-9.7-2.2l9.3-14.2l9.3-13.2l9.7 1.3l9.7 0.6l-9.3 14l-4.6 7.4z" fill="#f88c51"/><path d="M1028 1018l-9.5 5.7l-9.6 5.2l9.5-7.5l9.5-6.4l9.6-4.7l9.5-5l-9.5 5.8l-4.7 3.3z" fill="#e0422f"/><path d="M1123.2 963.8l-9.5 6l-9.4 5.9l9.6-1.8l9.6-1.1l9.5-5.4l9.4-5.5l-9.6 0.6l-4.8 0.6z" fill="#c62027"/><path d="M1504.2 869.4l-9.2 5.4l-9.3 5.5l10 2.8l9.9 2.9l9.2-5.4l9.2-5.4l-9.9-2.9l-5-1.5z" fill="#a50026"/><path d="M1294.7 913.6l-9.4 5.8l-9.4 5.7l9.8 2.2l9.7 2.3l9.4-5.7l9.4-5.7l-9.8-2.3l-4.9-1.2z" fill="#a90426"/><path d="M456.6 1005.2l-10.4-11.6l-5.2-5.3l9.2 7.9l9.2 7.4l10.4 11.4l5.2 6.1l-9.2-7.7l-4.6-4z" fill="#da362a"/><path d="M742.7 1167.5l-10-10.9l-10-11.1l9.1-10.6l9.1-10.6l10 9.1l9.9 9l-9.1 12.5l-4.5 6.3z" fill="#fca85e"/><path d="M1542.3 864.8l-9.1 5.2l-9.2 5.2l9.9 3.1l10 3.1l9.2-5.1l9.1-5.1l-9.9-3.2l-5-1.6z" fill="#a50026"/><path d="M704.6 1166.2l-10.1-13.1l-10-12.9l9-8.2l9.1-8.5l10.1 10.9l10 11.1l-9.1 10.5l-4.5 5.1z" fill="#fca55d"/><path d="M514 1061.8l-10.4-14.4l-10.3-13.2l9.1 5.5l9.2 4.7l10.3 13l10.4 14.1l-9.1-4.4l-4.6-2.6z" fill="#ec5c3b"/><path d="M970.9 1057.6l-9.6 3.9l-9.6 3.3l9.4-10.8l9.4-9.4l9.7-3.1l9.6-3.7l-9.5 9.3l-4.7 5.1z" fill="#eb5a3a"/><path d="M1580.5 861.3l-9.1 4.9l-9.2 5l10 3.3l10 3.4l9.1-4.9l9.2-4.9l-10-3.5l-5-1.6z" fill="#a50026"/><path d="M1332.8 906.5l-9.3 5.9l-9.3 5.8l9.7 2.3l9.8 2.4l9.4-5.8l9.3-5.8l-9.8-2.4l-4.9-1.2z" fill="#a50026"/><path d="M571.2 1108l-10.4-15.7l-10.3-14.6l9.1 1.8l9.1 1l10.3 13.7l10.3 14.7l-9.1 0l-4.5-0.3z" fill="#f67c4a"/><path d="M1695 854.8l-9 4.6l-9.1 4.5l10.1 3.8l5 1.8l9.1-4.6l9-4.6l-10.1-3.7z" fill="#a50026"/><path d="M1618.7 858.6l-9.1 4.7l-9.1 4.8l10 3.5l10 3.6l9.1-4.7l9.1-4.7l-10-3.6l-5-1.8z" fill="#a50026"/><path d="M780.6 1159.5l-9.9-8.4l-9.9-8.7l9.1-12.3l9.2-12l9.9 6.9l9.9 6.5l-9.2 13.8l-4.5 7z" fill="#fba05b"/><path d="M1161.4 950.5l-9.5 5.8l-9.5 5.6l9.7 0l9.6 0.4l9.5-5.3l9.5-5.4l-9.7-0.8l-4.8-0.2z" fill="#bd1726"/><path d="M1656.9 856.6l-9.1 4.6l-9.1 4.6l10 3.7l10.1 3.7l9.1-4.7l9-4.6l-10-3.7l-5-1.8z" fill="#a50026"/><path d="M666.4 1155.2l-10.2-14.5l-10.1-14l9-5.4l9.1-5.9l10.2 12.2l10.1 12.6l-9.1 7.7l-4.5 3.7z" fill="#fa9b58"/><path d="M1371 899.5l-9.3 5.9l-9.3 5.9l9.8 2.4l9.9 2.4l9.3-5.9l9.3-5.8l-9.8-2.5l-5-1.2z" fill="#a50026"/><path d="M1066.1 994.1l-9.5 5.7l-9.6 5.5l9.6-4.8l9.6-3.7l9.5-4.9l9.5-5.2l-9.5 3.2l-4.8 2z" fill="#d62f27"/><path d="M1199.5 940.4l-9.4 5.6l-9.4 5.6l9.6 1.1l9.7 1.4l9.5-5.3l9.4-5.4l-9.7-1.6l-4.8-0.7z" fill="#b71126"/><path d="M913.7 1094.4l-9.6 0.9l-9.7 0.2l9.3-12.8l9.4-11.6l9.7-0.6l9.6-1.3l-9.4 12l-4.6 6.5z" fill="#f47044"/><path d="M1409.3 892.7l-9.3 5.8l-9.3 5.9l9.8 2.4l9.9 2.5l9.3-5.8l9.3-5.8l-9.9-2.5l-4.9-1.3z" fill="#a50026"/><path d="M818.5 1143.2l-9.8-5.5l-9.8-6.2l9.1-13.1l9.3-12.5l9.8 4.6l9.8 4.1l-9.2 13.9l-4.6 7.3z" fill="#f99153"/><path d="M1237.7 932.3l-9.4 5.6l-9.4 5.5l9.7 1.8l9.7 2l9.5-5.4l9.4-5.5l-9.8-2.1l-4.8-1z" fill="#b10b26"/><path d="M1447.5 886.2l-9.3 5.7l-9.2 5.8l9.9 2.5l9.9 2.6l9.2-5.7l9.3-5.6l-9.9-2.7l-5-1.3z" fill="#a50026"/><path d="M627.9 1135.5l-10.2-15.1l-10.2-14.2l9.1-2.5l9.1-3.1l10.2 12.7l10.2 13.4l-9.1 4.7l-4.5 2.2z" fill="#f88c51"/><path d="M1008.9 1028.9l-9.6 4.8l-9.5 4.1l9.4-7.9l9.6-6.8l9.6-3.8l9.5-4.3l-9.5 6.4l-4.7 3.6z" fill="#e0422f"/><path d="M1104.3 975.7l-9.5 5.6l-9.6 5.4l9.6-2.3l9.7-1.6l9.5-4.9l9.5-5.1l-9.6 1.1l-4.8 0.8z" fill="#c82227"/><path d="M475 1021.1l-10.4-11.9l-5.2-5.6l9.1 6.8l9.2 6.2l10.4 11.5l5.2 6.1l-9.2-6.2l-4.6-3.4z" fill="#dd3d2d"/><path d="M1485.7 880.3l-9.2 5.5l-9.2 5.7l9.9 2.7l9.9 2.7l9.3-5.5l9.2-5.4l-9.9-2.9l-5-1.4z" fill="#a50026"/><path d="M1275.9 925.1l-9.3 5.6l-9.4 5.6l9.7 2.2l9.8 2.3l9.4-5.5l9.3-5.7l-9.7-2.3l-4.9-1.1z" fill="#ab0626"/><path d="M1524 875.2l-9.2 5.4l-9.2 5.4l9.9 2.9l10 3l9.2-5.3l9.2-5.2l-10-3.1l-4.9-1.5z" fill="#a50026"/><path d="M1314.2 918.2l-9.4 5.7l-9.4 5.7l9.8 2.4l9.8 2.3l9.4-5.6l9.3-5.8l-9.8-2.4l-4.8-1.2z" fill="#a70226"/><path d="M532.3 1071.5l-10.4-14.1l-10.3-13l9.1 4l9.1 3.3l10.4 12.4l10.3 13.6l-9.1-2.6l-4.6-1.7z" fill="#ec5c3b"/><path d="M1562.2 871.2l-9.1 5.1l-9.2 5.1l10 3.2l10 3.3l9.1-5.1l9.2-4.9l-10-3.4l-5-1.7z" fill="#a50026"/><path d="M856.4 1121l-9.7-2.9l-9.8-3.5l9.2-13.1l9.3-12.1l9.8 2.4l9.8 1.8l-9.3 13.2l-4.7 7z" fill="#f67f4b"/><path d="M1676.9 863.9l-9 4.6l-9.1 4.7l10 3.7l5.1 1.8l9.1-4.6l9-4.6l-10-3.7z" fill="#a50026"/><path d="M1142.4 961.9l-9.4 5.5l-9.5 5.4l9.6-0.5l9.7 0.1l9.5-5l9.4-5.1l-9.6-0.4l-4.8-0.1z" fill="#be1827"/><path d="M1600.5 868.1l-9.2 4.9l-9.1 4.9l10 3.4l10 3.5l9.2-4.8l9.1-4.8l-10-3.6l-5-1.7z" fill="#a50026"/><path d="M951.7 1064.8l-9.6 2.5l-9.7 1.9l9.4-10.6l9.5-9.4l9.6-2.1l9.6-2.5l-9.4 9.4l-4.7 5.2z" fill="#ea5739"/><path d="M1352.4 911.3l-9.3 5.8l-9.4 5.8l9.8 2.4l9.9 2.4l9.3-5.8l9.4-5.8l-9.9-2.4l-4.9-1.2z" fill="#a50026"/><path d="M1638.7 865.8l-9.1 4.7l-9.1 4.7l10 3.6l10.1 3.6l9.1-4.6l9.1-4.6l-10.1-3.7l-5-1.9z" fill="#a50026"/><path d="M1047 1005.3l-9.5 5l-9.6 4.7l9.6-5.2l9.5-4.2l9.6-4.3l9.6-4.5l-9.6 3.7l-4.8 2.3z" fill="#d62f27"/><path d="M589.3 1108.9l-10.3-14.7l-10.3-13.7l9.2 0.2l9.1-0.5l10.2 12.6l10.3 13.4l-9.1 1.7l-4.5 0.6z" fill="#f57547"/><path d="M1180.7 951.6l-9.5 5.4l-9.5 5.3l9.7 0.8l9.7 1.2l9.5-5l9.4-5.2l-9.7-1.4l-4.8-0.6z" fill="#b91326"/><path d="M1390.7 904.4l-9.3 5.8l-9.3 5.9l9.8 2.4l9.9 2.4l9.3-5.8l9.3-5.8l-9.9-2.5l-4.9-1.2z" fill="#a50026"/><path d="M1429 897.7l-9.3 5.8l-9.3 5.8l9.9 2.5l9.9 2.5l9.3-5.8l9.3-5.7l-9.9-2.6l-5-1.3z" fill="#a50026"/><path d="M1218.9 943.4l-9.4 5.4l-9.5 5.3l9.7 1.7l9.8 1.9l9.4-5.2l9.4-5.3l-9.7-2l-4.8-0.9z" fill="#b30d26"/><path d="M894.4 1095.5l-9.7-0.6l-9.7-1.3l9.3-12l9.3-11l9.8 0.5l9.7 0l-9.4 11.6l-4.7 6.2z" fill="#f26841"/><path d="M493.3 1034.2l-10.4-12l-5.2-5.6l9.1 5.6l9.2 4.9l10.4 11.3l5.2 6l-9.2-4.7l-4.6-2.6z" fill="#de402e"/><path d="M1467.3 891.5l-9.3 5.6l-9.2 5.7l9.9 2.6l9.9 2.7l9.3-5.6l9.2-5.6l-9.9-2.7l-5-1.4z" fill="#a50026"/><path d="M1085.2 986.7l-9.5 5.2l-9.5 4.9l9.6-2.9l9.6-1.9l9.5-4.5l9.6-4.7l-9.7 1.6l-4.8 1.1z" fill="#ca2427"/><path d="M1257.2 936.3l-9.4 5.5l-9.5 5.4l9.8 2.2l9.7 2.2l9.5-5.3l9.4-5.5l-9.8-2.3l-4.9-1.1z" fill="#ad0826"/><path d="M722.7 1145.5l-10-11.1l-10.1-10.9l9.1-8.6l9.2-8.6l10 9l10 9l-9.1 10.6l-4.6 5.3z" fill="#f88c51"/><path d="M989.8 1037.8l-9.6 3.7l-9.7 3.1l9.5-8.2l9.5-6.9l9.6-3l9.7-3.4l-9.6 6.8l-4.7 3.8z" fill="#e0422f"/><path d="M760.8 1142.4l-9.9-9l-10-9.1l9.2-10.4l9.1-10.1l10 7.2l9.9 7.1l-9.2 12l-4.5 6.1z" fill="#f88950"/><path d="M1505.6 886l-9.2 5.4l-9.3 5.5l10 2.9l9.9 2.8l9.3-5.4l9.2-5.3l-10-3l-4.9-1.5z" fill="#a50026"/><path d="M684.5 1140.2l-10.1-12.6l-10.2-12.2l9.1-6.2l9.2-6.6l10.1 10.3l10 10.6l-9.1 8.5l-4.5 4.1z" fill="#f8864f"/><path d="M1295.4 929.6l-9.3 5.7l-9.4 5.5l9.7 2.3l9.8 2.4l9.4-5.5l9.4-5.7l-9.8-2.3l-4.9-1.2z" fill="#a90426"/><path d="M1543.9 881.4l-9.2 5.2l-9.2 5.3l10 3.1l10 3.1l9.2-5.2l9.2-5l-10-3.3l-5-1.6z" fill="#a50026"/><path d="M1123.5 972.8l-9.5 5.1l-9.5 4.9l9.6-0.8l9.6-0.3l9.6-4.6l9.5-4.7l-9.7-0.1l-4.8 0.2z" fill="#c01a27"/><path d="M798.9 1131.5l-9.9-6.5l-9.9-6.9l9.2-11.5l9.2-10.9l9.9 5.2l9.9 5l-9.3 12.5l-4.5 6.5z" fill="#f67f4b"/><path d="M1582.2 877.9l-9.2 4.9l-9.1 5.1l10 3.3l10 3.3l9.2-4.9l9.1-4.8l-10-3.5l-5-1.7z" fill="#a50026"/><path d="M1658.8 873.2l-9.1 4.6l-9.1 4.6l10 3.7l5.1 1.8l9.1-4.6l9.1-4.6l-10.1-3.7z" fill="#a50026"/><path d="M1333.7 922.9l-9.3 5.8l-9.4 5.6l9.8 2.4l9.8 2.4l9.4-5.7l9.4-5.7l-9.9-2.4l-4.9-1.2z" fill="#a50026"/><path d="M550.5 1077.7l-10.3-13.6l-10.4-12.4l9.2 2.5l9.1 1.9l10.3 11.7l10.3 12.7l-9.1-1l-4.5-0.8z" fill="#eb5a3a"/><path d="M1620.5 875.2l-9.1 4.8l-9.2 4.8l10.1 3.5l10 3.5l9.1-4.7l9.2-4.7l-10.1-3.6l-5-1.8z" fill="#a50026"/><path d="M646.1 1126.7l-10.2-13.4l-10.2-12.7l9.1-3.7l9.1-4.1l10.2 11l10.1 11.6l-9.1 5.9l-4.5 2.8z" fill="#f67a49"/><path d="M1372.1 916.1l-9.4 5.8l-9.3 5.8l9.8 2.4l9.9 2.3l9.3-5.7l9.4-5.8l-9.9-2.4l-4.9-1.2z" fill="#a50026"/><path d="M932.4 1069.2l-9.6 1.3l-9.7 0.6l9.4-10.4l9.4-9.1l9.7-1l9.7-1.4l-9.5 9.4l-4.7 5.1z" fill="#e75337"/><path d="M1027.9 1015l-9.5 4.3l-9.6 3.8l9.5-5.6l9.6-4.5l9.6-3.5l9.5-3.9l-9.5 4.2l-4.8 2.5z" fill="#d83128"/><path d="M1161.7 962.3l-9.4 5.1l-9.5 5l9.6 0.5l9.7 1l9.5-4.7l9.5-4.9l-9.7-1.2l-4.8-0.4z" fill="#bb1526"/><path d="M1410.4 909.3l-9.3 5.8l-9.3 5.8l9.9 2.4l9.9 2.4l9.3-5.7l9.3-5.7l-9.9-2.5l-5-1.3z" fill="#a50026"/><path d="M836.9 1114.6l-9.8-4.1l-9.8-4.6l9.2-11.7l9.3-10.9l9.8 3.2l9.8 2.9l-9.3 12.1l-4.6 6.4z" fill="#f47044"/><path d="M1200 954.1l-9.4 5.2l-9.5 5l9.7 1.5l9.7 1.8l9.5-4.9l9.5-5l-9.8-1.9l-4.8-0.9z" fill="#b50f26"/><path d="M1448.8 902.8l-9.3 5.7l-9.3 5.8l9.9 2.5l9.9 2.5l9.3-5.6l9.3-5.6l-9.9-2.7l-5-1.3z" fill="#a50026"/><path d="M607.5 1106.2l-10.3-13.4l-10.2-12.6l9.1-1.1l9.1-1.6l10.3 11.1l10.2 12l-9.1 3.1l-4.6 1.3z" fill="#f26841"/><path d="M511.6 1044.4l-10.4-11.8l-5.2-5.5l9.2 4.3l9.1 3.7l10.4 10.8l5.1 5.8l-9.1-3.3l-4.6-1.9z" fill="#e0422f"/><path d="M1238.3 947.2l-9.4 5.3l-9.4 5.2l9.7 2l9.8 2.2l9.4-5.1l9.4-5.2l-9.7-2.2l-4.9-1.1z" fill="#b10b26"/><path d="M1066.2 996.8l-9.6 4.5l-9.6 4.3l9.6-3.3l9.6-2.3l9.6-3.9l9.6-4.1l-9.6 1.9l-4.8 1.4z" fill="#cc2627"/><path d="M1487.1 896.9l-9.2 5.6l-9.3 5.6l10 2.6l9.9 2.7l9.3-5.4l9.2-5.4l-9.9-2.8l-5-1.5z" fill="#a50026"/><path d="M1276.7 940.8l-9.4 5.5l-9.5 5.3l9.8 2.3l9.8 2.3l9.4-5.3l9.4-5.4l-9.8-2.4l-4.8-1.1z" fill="#ab0626"/><path d="M970.5 1044.6l-9.6 2.5l-9.6 2.1l9.4-8.2l9.5-7l9.7-2l9.6-2.5l-9.5 6.9l-4.7 3.9z" fill="#de402e"/><path d="M1525.5 891.9l-9.2 5.3l-9.3 5.4l10 2.9l10 2.9l9.2-5.2l9.3-5.1l-10-3.1l-5-1.6z" fill="#a50026"/><path d="M875 1093.6l-9.8-1.8l-9.8-2.4l9.3-11.1l9.4-10.1l9.8 1.4l9.7 1l-9.3 11l-4.7 5.8z" fill="#ed5f3c"/><path d="M1315 934.3l-9.4 5.7l-9.4 5.5l9.8 2.3l9.9 2.3l9.4-5.4l9.3-5.6l-9.8-2.4l-4.9-1.2z" fill="#a70226"/><path d="M1563.9 887.9l-9.2 5l-9.2 5.2l10 3.1l10 3.1l9.2-4.9l9.2-4.9l-10-3.3l-5-1.7z" fill="#a50026"/><path d="M1104.5 982.8l-9.6 4.7l-9.5 4.5l9.6-1.3l9.7-0.6l9.5-4.1l9.5-4.3l-9.6 0.3l-4.8 0.3z" fill="#c21c27"/><path d="M1640.6 882.4l-9.2 4.7l-9.1 4.7l10.1 3.6l5 1.7l9.1-4.6l9.2-4.6l-10.1-3.6z" fill="#a50026"/><path d="M1602.2 884.8l-9.1 4.8l-9.2 4.9l10 3.3l10.1 3.4l9.1-4.7l9.2-4.7l-10-3.5l-5.1-1.8z" fill="#a50026"/><path d="M1353.4 927.7l-9.4 5.7l-9.4 5.7l9.9 2.3l9.9 2.3l9.3-5.6l9.4-5.7l-9.9-2.3l-4.9-1.2z" fill="#a50026"/><path d="M568.7 1080.5l-10.3-12.7l-10.3-11.7l9.2 1.2l9.1 0.7l10.3 10.6l10.3 11.6l-9.1 0.5l-4.6 0z" fill="#e95538"/><path d="M1142.8 972.4l-9.5 4.7l-9.6 4.6l9.7 0.3l9.7 0.7l9.5-4.3l9.5-4.5l-9.7-1l-4.8-0.3z" fill="#bb1526"/><path d="M1008.8 1023.1l-9.7 3.4l-9.6 3l9.5-5.8l9.6-4.8l9.6-2.7l9.7-3.2l-9.6 4.5l-4.8 2.7z" fill="#d62f27"/><path d="M1391.8 920.9l-9.4 5.8l-9.3 5.7l9.9 2.4l9.9 2.3l9.3-5.7l9.4-5.7l-9.9-2.4l-5-1.2z" fill="#a50026"/><path d="M1181.1 964.3l-9.5 4.9l-9.5 4.7l9.7 1.3l9.8 1.6l9.5-4.5l9.4-4.7l-9.7-1.8l-4.8-0.7z" fill="#b71126"/><path d="M913.1 1071.1l-9.7 0l-9.8-0.5l9.4-9.8l9.4-8.6l9.8-0.1l9.7-0.5l-9.4 9.1l-4.7 5.1z" fill="#e54e35"/><path d="M740.9 1124.3l-10-9l-10-9l9.2-8.4l9.2-8.3l10 7.1l9.9 7.1l-9.1 10.1l-4.6 5.2z" fill="#f47044"/><path d="M702.6 1123.5l-10-10.6l-10.1-10.3l9.1-6.6l9.2-6.8l10 8.4l10.1 8.7l-9.2 8.6l-4.5 4.3z" fill="#f47044"/><path d="M1430.2 914.3l-9.3 5.7l-9.3 5.7l9.9 2.4l9.9 2.4l9.3-5.6l9.3-5.6l-9.9-2.5l-5-1.3z" fill="#a50026"/><path d="M1219.5 957.7l-9.5 5l-9.5 4.9l9.8 1.9l9.7 2l9.5-4.7l9.5-4.9l-9.8-2.2l-4.9-1z" fill="#b10b26"/><path d="M779.1 1118.1l-9.9-7.1l-10-7.2l9.2-9.7l9.3-9.2l9.9 5.4l9.9 5.4l-9.2 10.9l-4.6 5.7z" fill="#f36b42"/><path d="M664.2 1115.4l-10.1-11.6l-10.2-11l9.2-4.5l9.1-4.8l10.1 9.3l10.2 9.8l-9.2 6.6l-4.5 3.1z" fill="#f26841"/><path d="M1468.6 908.1l-9.3 5.6l-9.3 5.6l10 2.5l10 2.5l9.2-5.4l9.3-5.5l-9.9-2.7l-5-1.3z" fill="#a50026"/><path d="M1047 1005.6l-9.5 3.9l-9.6 3.5l9.5-3.5l9.6-2.7l9.6-3.2l9.6-3.6l-9.6 2.3l-4.8 1.5z" fill="#ca2427"/><path d="M529.8 1051.7l-10.3-11.4l-5.2-5.2l9.2 3l9.1 2.4l10.4 10.2l5.1 5.4l-9.1-1.9l-4.6-1.1z" fill="#de402e"/><path d="M1257.8 951.6l-9.4 5.2l-9.4 5.1l9.7 2.2l9.8 2.2l9.5-5l9.4-5.1l-9.8-2.3l-4.9-1.2z" fill="#ad0826"/><path d="M1507 902.6l-9.2 5.4l-9.3 5.4l10 2.7l10 2.7l9.3-5.2l9.2-5.2l-10-2.9l-5-1.5z" fill="#a50026"/><path d="M817.3 1105.9l-9.9-5l-9.9-5.2l9.3-10.2l9.3-9.5l9.8 3.7l9.9 3.6l-9.3 10.9l-4.6 5.7z" fill="#ee613e"/><path d="M1296.2 945.5l-9.4 5.4l-9.4 5.3l9.8 2.3l9.8 2.2l9.5-5.2l9.4-5.4l-9.9-2.3l-4.9-1.2z" fill="#a90426"/><path d="M951.3 1049.2l-9.7 1.4l-9.7 1l9.4-7.9l9.5-6.8l9.7-1.2l9.7-1.7l-9.5 7l-4.7 3.9z" fill="#dd3d2d"/><path d="M1545.5 898.1l-9.3 5.1l-9.2 5.2l10 2.9l10.1 3l9.2-5l9.2-5l-10-3.1l-5-1.6z" fill="#a50026"/><path d="M1622.3 891.8l-9.2 4.7l-9.1 4.7l10.1 3.4l5 1.7l9.2-4.6l9.1-4.6l-10.1-3.5z" fill="#a50026"/><path d="M625.7 1100.6l-10.2-12l-10.3-11.1l9.2-2.2l9.1-2.6l10.2 9.7l10.2 10.4l-9.1 4.1l-4.6 1.9z" fill="#ec5c3b"/><path d="M1085.4 992l-9.6 4.1l-9.6 3.9l9.7-1.6l9.6-0.8l9.6-3.6l9.6-3.9l-9.7 0.6l-4.8 0.6z" fill="#c21c27"/><path d="M1583.9 894.5l-9.2 4.9l-9.2 4.9l10 3.2l10.1 3.2l9.2-4.8l9.2-4.7l-10.1-3.4l-5-1.6z" fill="#a50026"/><path d="M1334.6 939.1l-9.3 5.6l-9.4 5.4l9.8 2.3l9.9 2.2l9.4-5.4l9.4-5.5l-9.9-2.3l-4.9-1.2z" fill="#a50026"/><path d="M1123.7 981.7l-9.5 4.3l-9.5 4.1l9.6 0l9.7 0.5l9.6-3.8l9.5-4.1l-9.7-0.7l-4.8-0.2z" fill="#bd1726"/><path d="M1373.1 932.4l-9.4 5.7l-9.3 5.6l9.8 2.2l9.9 2.2l9.4-5.5l9.4-5.5l-9.9-2.3l-5-1.2z" fill="#a50026"/><path d="M855.4 1089.4l-9.8-2.9l-9.8-3.2l9.3-10l9.4-9l9.8 2.1l9.8 1.8l-9.4 10.1l-4.6 5.4z" fill="#e75337"/><path d="M989.5 1029.5l-9.6 2.5l-9.7 2l9.5-5.8l9.6-4.8l9.7-2l9.6-2.5l-9.6 4.8l-4.7 2.7z" fill="#d42d27"/><path d="M1162.1 973.9l-9.5 4.5l-9.5 4.3l9.7 1.1l9.7 1.4l9.6-4.1l9.5-4.3l-9.8-1.6l-4.8-0.7z" fill="#b71126"/><path d="M1411.6 925.7l-9.4 5.7l-9.3 5.7l9.9 2.2l9.9 2.2l9.4-5.5l9.3-5.5l-9.9-2.4l-5-1.2z" fill="#a50026"/><path d="M587 1080.2l-10.3-11.6l-10.3-10.6l9.2 0.1l9.1-0.4l10.3 9.4l10.2 10.4l-9.1 1.6l-4.6 0.7z" fill="#e44c34"/><path d="M1200.5 967.6l-9.4 4.7l-9.5 4.5l9.7 1.8l9.8 1.9l9.5-4.4l9.4-4.6l-9.7-2l-4.9-1z" fill="#b30d26"/><path d="M1450 919.3l-9.3 5.6l-9.3 5.6l10 2.3l9.9 2.3l9.3-5.4l9.4-5.4l-10-2.5l-5-1.3z" fill="#a50026"/><path d="M893.6 1070.6l-9.7-1l-9.8-1.4l9.4-9l9.4-8l9.8 0.7l9.7 0.3l-9.4 8.6l-4.7 4.8z" fill="#e14430"/><path d="M1239 961.9l-9.5 4.9l-9.5 4.7l9.8 2.2l9.8 2.1l9.5-4.6l9.4-4.9l-9.8-2.2l-4.8-1.1z" fill="#af0926"/><path d="M1027.9 1013l-9.7 3.2l-9.6 2.7l9.6-3.7l9.6-2.8l9.6-2.6l9.6-3l-9.6 2.7l-4.8 1.6z" fill="#ca2427"/><path d="M1488.5 913.4l-9.3 5.5l-9.2 5.4l9.9 2.5l10 2.4l9.3-5.2l9.3-5.2l-10-2.7l-5-1.3z" fill="#a50026"/><path d="M548.1 1056.1l-10.3-10.6l-5.2-5l9.2 1.9l9.2 1.3l10.3 9.3l5.1 5l-9.1-0.7l-4.6-0.5z" fill="#dd3d2d"/><path d="M1277.4 956.2l-9.4 5.1l-9.5 5l9.8 2.3l9.9 2.2l9.4-5l9.4-5.1l-9.8-2.2l-4.9-1.2z" fill="#ab0626"/><path d="M1527 908.4l-9.2 5.2l-9.3 5.2l10 2.7l10.1 2.7l9.2-5l9.3-4.9l-10.1-3l-5-1.4z" fill="#a50026"/><path d="M1604 901.2l-9.2 4.7l-9.2 4.8l10.1 3.2l5 1.5l9.2-4.5l9.2-4.6l-10.1-3.4z" fill="#a50026"/><path d="M1565.5 904.3l-9.2 5l-9.2 5l10 2.9l10.1 2.9l9.2-4.7l9.2-4.7l-10.1-3.2l-5-1.6z" fill="#a50026"/><path d="M1315.9 950.1l-9.4 5.4l-9.5 5.2l9.9 2.2l9.8 2.2l9.5-5.2l9.4-5.3l-9.9-2.2l-4.9-1.1z" fill="#a70226"/><path d="M1066.2 1000l-9.6 3.6l-9.6 3.2l9.7-1.8l9.6-1l9.6-3.1l9.6-3.3l-9.6 0.8l-4.8 0.7z" fill="#c21c27"/><path d="M720.9 1106.3l-10.1-8.7l-10-8.4l9.2-6.6l9.2-6.6l10 6.7l10.1 6.9l-9.2 8.3l-4.6 4.2z" fill="#eb5a3a"/><path d="M931.9 1051.6l-9.7 0.5l-9.8 0.1l9.5-7.5l9.5-6.4l9.7-0.5l9.7-0.9l-9.5 6.8l-4.7 3.8z" fill="#da362a"/><path d="M759.2 1103.8l-9.9-7.1l-10-7.1l9.2-8l9.2-7.6l10 5.4l10 5.5l-9.3 9.2l-4.6 4.8z" fill="#ea5739"/><path d="M1354.4 943.7l-9.4 5.5l-9.4 5.4l9.9 2.2l9.9 2.1l9.4-5.3l9.3-5.5l-9.9-2.2l-4.9-1.1z" fill="#a50026"/><path d="M682.5 1102.6l-10.2-9.8l-10.1-9.3l9.2-4.9l9.2-5l10.1 7.6l10.1 8l-9.2 6.8l-4.6 3.3z" fill="#ea5739"/><path d="M1104.7 990.1l-9.6 3.9l-9.6 3.6l9.7-0.3l9.7 0.3l9.6-3.4l9.5-3.6l-9.7-0.5l-4.8 0z" fill="#bd1726"/><path d="M1392.9 937.1l-9.4 5.5l-9.4 5.5l10 2.2l9.9 2l9.4-5.3l9.3-5.5l-9.9-2.2l-5-1.1z" fill="#a50026"/><path d="M797.5 1095.7l-9.9-5.4l-9.9-5.4l9.2-8.7l9.3-8.1l10 4l9.9 3.9l-9.3 9.5l-4.7 5z" fill="#e65036"/><path d="M1143.1 982.7l-9.5 4.1l-9.6 3.8l9.7 0.9l9.7 1.3l9.6-3.7l9.5-3.9l-9.7-1.4l-4.8-0.6z" fill="#b71126"/><path d="M643.9 1092.8l-10.2-10.4l-10.2-9.7l9.2-2.9l9.2-3.1l10.2 8.1l10.1 8.7l-9.1 4.8l-4.6 2.3z" fill="#e54e35"/><path d="M970.2 1034l-9.7 1.7l-9.7 1.2l9.5-5.7l9.6-4.6l9.7-1.4l9.7-1.8l-9.6 4.8l-4.7 2.8z" fill="#d22b27"/><path d="M1431.4 930.5l-9.3 5.5l-9.4 5.5l10 2.2l9.9 2.1l9.4-5.3l9.3-5.4l-9.9-2.3l-5-1.2z" fill="#a50026"/><path d="M1181.6 976.8l-9.5 4.3l-9.6 4.1l9.8 1.6l9.7 1.8l9.5-3.9l9.6-4.2l-9.8-1.9l-4.9-1z" fill="#b30d26"/><path d="M835.8 1083.3l-9.9-3.6l-9.8-3.7l9.3-8.7l9.3-7.9l9.9 2.5l9.9 2.4l-9.4 9l-4.7 4.9z" fill="#e24731"/><path d="M1220 971.5l-9.4 4.6l-9.5 4.4l9.7 2l9.8 2.1l9.5-4.3l9.5-4.5l-9.8-2.1l-4.9-1.1z" fill="#b10b26"/><path d="M1470 924.3l-9.4 5.4l-9.3 5.4l10 2.3l10 2.2l9.3-5.2l9.3-5.2l-10-2.4l-5-1.3z" fill="#a50026"/><path d="M605.2 1077.5l-10.2-10.4l-10.3-9.4l9.2-0.9l9.2-1.2l10.2 8.2l10.2 8.9l-9.1 2.6l-4.6 1.1z" fill="#e0422f"/><path d="M1258.5 966.3l-9.4 4.9l-9.5 4.6l9.8 2.2l9.8 2.1l9.5-4.6l9.5-4.7l-9.9-2.2l-4.9-1.2z" fill="#ad0826"/><path d="M1008.6 1018.9l-9.6 2.5l-9.7 2l9.6-3.7l9.5-2.9l9.7-2l9.7-2.4l-9.6 2.8l-4.8 1.8z" fill="#c82227"/><path d="M1508.5 918.8l-9.3 5.2l-9.3 5.2l10.1 2.5l10 2.4l9.3-4.9l9.3-5l-10.1-2.7l-5-1.3z" fill="#a50026"/><path d="M1585.6 910.7l-9.2 4.7l-9.2 4.7l10 3l5.1 1.4l9.2-4.5l9.2-4.6l-10.1-3.1z" fill="#a50026"/><path d="M1297 960.7l-9.4 5.1l-9.4 5l9.8 2.1l9.9 2.1l9.4-4.9l9.4-5l-9.8-2.2l-4.9-1.1z" fill="#a90426"/><path d="M1547.1 914.3l-9.3 4.9l-9.2 5l10 2.7l10.1 2.7l9.2-4.7l9.3-4.8l-10.1-2.9l-5-1.5z" fill="#a50026"/><path d="M874.1 1068.2l-9.8-1.8l-9.8-2.1l9.4-8.1l9.4-7.2l9.8 1.2l9.8 1l-9.4 8l-4.7 4.4z" fill="#dc3b2c"/><path d="M566.4 1058l-10.3-9.8l-5.1-4.5l9.1 0.9l9.2 0.4l10.3 8.2l5.1 4.5l-9.1 0.4l-4.6 0z" fill="#da362a"/><path d="M1047 1006.8l-9.6 3l-9.6 2.6l9.6-1.9l9.6-1.2l9.7-2.6l9.6-2.7l-9.6 1l-4.8 0.8z" fill="#c01a27"/><path d="M1335.6 954.6l-9.4 5.3l-9.5 5.2l9.9 2.1l9.9 2l9.4-5.1l9.5-5.2l-9.9-2.1l-5-1.1z" fill="#a50026"/><path d="M1374.1 948.1l-9.3 5.5l-9.4 5.3l9.9 2l9.9 1.9l9.4-5.2l9.4-5.3l-9.9-2l-5-1.1z" fill="#a50026"/><path d="M1085.5 997.6l-9.6 3.3l-9.6 3.1l9.7-0.5l9.7 0.1l9.6-2.9l9.6-3.1l-9.7-0.3l-4.9 0.1z" fill="#bb1526"/><path d="M912.4 1052.2l-9.7-0.3l-9.8-0.7l9.4-6.9l9.5-5.9l9.8 0.1l9.8-0.2l-9.5 6.4l-4.7 3.6z" fill="#d62f27"/><path d="M1124 990.6l-9.5 3.6l-9.6 3.4l9.7 0.7l9.7 1.1l9.6-3.2l9.5-3.4l-9.7-1.3l-4.8-0.5z" fill="#b71126"/><path d="M1412.7 941.5l-9.3 5.5l-9.4 5.3l9.9 2l10 1.9l9.4-5.2l9.3-5.2l-9.9-2.1l-5-1.1z" fill="#a50026"/><path d="M1162.5 985.2l-9.5 3.9l-9.6 3.7l9.8 1.5l9.7 1.7l9.6-3.6l9.5-3.8l-9.7-1.8l-4.9-0.8z" fill="#b30d26"/><path d="M1451.3 935.1l-9.3 5.4l-9.4 5.3l10 2l10 2.1l9.4-5.1l9.3-5.2l-10-2.2l-5-1.2z" fill="#a50026"/><path d="M950.8 1036.9l-9.7 0.9l-9.7 0.5l9.5-5.4l9.5-4.4l9.8-0.8l9.7-1.1l-9.6 4.6l-4.7 2.7z" fill="#cc2627"/><path d="M1201.1 980.5l-9.6 4.2l-9.5 3.9l9.8 2l9.8 2l9.5-3.9l9.5-4.1l-9.8-2.1l-4.9-1z" fill="#b10b26"/><path d="M739.3 1089.6l-10.1-6.9l-10-6.7l9.2-6.3l9.3-6l10 5.1l10 5.2l-9.2 7.6l-4.6 3.9z" fill="#e14430"/><path d="M700.8 1089.2l-10.1-8l-10.1-7.6l9.2-4.9l9.2-5l10.1 6l10.1 6.3l-9.2 6.6l-4.6 3.3z" fill="#e14430"/><path d="M1489.9 929.2l-9.3 5.2l-9.3 5.2l10 2.2l10.1 2.2l9.3-4.9l9.3-5l-10-2.4l-5.1-1.2z" fill="#a50026"/><path d="M1239.6 975.8l-9.5 4.5l-9.5 4.3l9.8 2.1l9.8 2.1l9.5-4.2l9.5-4.5l-9.8-2.1l-4.9-1.1z" fill="#ad0826"/><path d="M777.7 1084.9l-10-5.5l-10-5.4l9.3-7.1l9.3-6.7l10 3.9l9.9 4l-9.3 8.1l-4.6 4.2z" fill="#de402e"/><path d="M662.2 1083.5l-10.1-8.7l-10.2-8.1l9.2-3.3l9.2-3.5l10.1 6.6l10.2 7.1l-9.2 5l-4.6 2.5z" fill="#de402e"/><path d="M1567.2 920.1l-9.3 4.8l-9.2 4.7l10.1 2.6l5 1.4l9.3-4.5l9.2-4.6l-10.1-2.9z" fill="#a50026"/><path d="M1278.2 970.8l-9.5 4.7l-9.5 4.6l9.9 2.1l9.8 2.1l9.5-4.6l9.5-4.7l-9.9-2.1l-4.9-1.1z" fill="#a90426"/><path d="M1528.6 924.2l-9.3 5l-9.3 4.9l10.1 2.5l10 2.4l9.3-4.7l9.3-4.7l-10.1-2.7l-5-1.3z" fill="#a50026"/><path d="M989.3 1023.4l-9.7 1.8l-9.7 1.4l9.6-3.7l9.5-2.8l9.8-1.5l9.6-1.8l-9.5 2.9l-4.8 1.7z" fill="#c41e27"/><path d="M816.1 1076l-9.9-3.9l-10-4l9.4-7.4l9.3-6.7l10 2.7l9.8 2.7l-9.3 7.9l-4.7 4.2z" fill="#dc3b2c"/><path d="M1316.7 965.1l-9.4 5l-9.4 4.9l9.8 2l9.9 1.9l9.5-4.8l9.4-4.9l-9.9-2l-4.9-1.1z" fill="#a50026"/><path d="M623.5 1072.7l-10.2-8.9l-10.2-8.2l9.2-1.5l9.2-1.7l10.2 6.8l10.2 7.5l-9.2 3.1l-4.6 1.5z" fill="#db382b"/><path d="M1027.8 1012.4l-9.7 2.4l-9.7 2l9.7-2l9.6-1.3l9.7-2l9.6-2.2l-9.6 1.2l-4.8 0.9z" fill="#be1827"/><path d="M1355.4 958.9l-9.5 5.2l-9.4 5.1l9.9 1.9l10 1.8l9.4-5l9.4-5.1l-9.9-1.9l-5-1z" fill="#a50026"/><path d="M584.7 1057.7l-10.2-8.7l-5.2-4l9.2 0l9.2-0.3l10.3 7.1l5.1 3.8l-9.2 1.2l-4.6 0.5z" fill="#d62f27"/><path d="M854.5 1064.3l-9.9-2.4l-9.9-2.5l9.4-7.1l9.5-6.2l9.8 1.5l9.9 1.4l-9.4 7.2l-4.7 3.9z" fill="#d83128"/><path d="M1066.3 1004l-9.6 2.7l-9.7 2.6l9.7-0.6l9.7 0l9.6-2.4l9.7-2.7l-9.7-0.1l-4.9 0.2z" fill="#b91326"/><path d="M1394 952.3l-9.4 5.3l-9.4 5.2l10 1.8l9.9 1.8l9.4-5l9.4-5.2l-10-1.9l-4.9-1z" fill="#a50026"/><path d="M1104.9 997.6l-9.6 3.1l-9.6 2.9l9.7 0.6l9.7 0.9l9.6-2.7l9.6-3l-9.7-1.1l-4.9-0.4z" fill="#b50f26"/><path d="M1432.6 945.8l-9.3 5.2l-9.4 5.2l10 1.9l10 1.8l9.4-5l9.3-5l-10-2.1l-5-1z" fill="#a50026"/><path d="M892.9 1051.2l-9.8-1l-9.8-1.2l9.4-6.2l9.5-5.3l9.8 0.5l9.8 0.4l-9.5 5.9l-4.7 3.3z" fill="#d02927"/><path d="M1143.4 992.8l-9.5 3.4l-9.6 3.2l9.7 1.4l9.8 1.6l9.6-3.1l9.5-3.3l-9.7-1.7l-4.9-0.8z" fill="#b30d26"/><path d="M1182 988.6l-9.5 3.8l-9.6 3.6l9.8 1.8l9.8 1.9l9.5-3.4l9.6-3.7l-9.8-2l-4.9-1z" fill="#b10b26"/><path d="M1471.3 939.6l-9.3 5.2l-9.4 5.1l10.1 1.9l10 1.9l9.4-4.8l9.3-4.9l-10.1-2.2l-5-1.1z" fill="#a50026"/><path d="M1220.6 984.6l-9.5 4.1l-9.5 3.9l9.8 2l9.8 2.1l9.5-3.9l9.5-4l-9.8-2.1l-4.9-1z" fill="#ad0826"/><path d="M931.4 1038.3l-9.8 0.2l-9.8-0.1l9.5-5l9.6-4.1l9.8-0.3l9.7-0.5l-9.5 4.4l-4.8 2.5z" fill="#c82227"/><path d="M1548.7 929.6l-9.3 4.7l-9.3 4.7l10.1 2.3l5.1 1.2l9.3-4.4l9.2-4.5l-10.1-2.7z" fill="#a50026"/><path d="M1510 934.1l-9.3 5l-9.3 4.9l10.1 2.1l10 2.1l9.3-4.6l9.3-4.6l-10-2.4l-5.1-1.2z" fill="#a50026"/><path d="M1259.2 980.1l-9.5 4.5l-9.5 4.2l9.9 2l9.8 2l9.5-4.2l9.5-4.3l-9.8-2.1l-5-1z" fill="#ab0626"/><path d="M1297.9 975l-9.5 4.7l-9.5 4.6l9.9 1.9l9.9 1.8l9.5-4.4l9.4-4.7l-9.9-1.9l-4.9-1z" fill="#a70226"/><path d="M969.9 1026.6l-9.7 1.1l-9.8 0.8l9.6-3.6l9.6-2.6l9.7-1l9.7-1.2l-9.5 2.8l-4.8 1.7z" fill="#c01a27"/><path d="M1336.5 969.2l-9.4 4.9l-9.5 4.8l10 1.8l9.9 1.7l9.4-4.7l9.5-4.8l-10-1.8l-4.9-1z" fill="#a50026"/><path d="M719.2 1076l-10.1-6.3l-10.1-6l9.3-4.7l9.3-4.6l10.1 4.5l10 4.8l-9.3 6l-4.6 3.2z" fill="#d93429"/><path d="M757.7 1074l-10-5.2l-10-5.1l9.3-5.7l9.3-5.2l10 3.6l10 3.8l-9.3 6.7l-4.6 3.5z" fill="#d83128"/><path d="M680.6 1073.6l-10.2-7.1l-10.1-6.6l9.2-3.4l9.3-3.5l10.1 5.2l10.1 5.5l-9.2 5l-4.6 2.4z" fill="#d83128"/><path d="M1008.4 1016.8l-9.6 1.8l-9.8 1.5l9.7-2.1l9.6-1.3l9.7-1.5l9.7-1.7l-9.6 1.3l-4.8 0.9z" fill="#bb1526"/><path d="M1375.2 962.8l-9.4 5.1l-9.4 5l9.9 1.7l10 1.5l9.4-4.8l9.4-4.9l-9.9-1.8l-5-0.9z" fill="#a50026"/><path d="M796.2 1068.1l-9.9-4l-10-3.9l9.4-6.1l9.3-5.5l10 2.7l9.9 2.7l-9.3 6.7l-4.7 3.6z" fill="#d42d27"/><path d="M641.9 1066.7l-10.2-7.5l-10.2-6.8l9.2-2l9.3-2l10.1 5.5l10.2 6l-9.2 3.5l-4.6 1.7z" fill="#d42d27"/><path d="M1047 1009.3l-9.6 2.2l-9.7 2l9.7-0.7l9.6-0.1l9.7-1.9l9.7-2.1l-9.7 0l-4.8 0.2z" fill="#b71126"/><path d="M603.1 1055.6l-10.3-7.4l-5.1-3.5l9.2-0.6l9.3-0.8l10.2 5.9l5.1 3.2l-9.2 1.7l-4.6 0.8z" fill="#ce2827"/><path d="M1413.9 956.2l-9.4 5.2l-9.4 5l10 1.7l10 1.5l9.4-4.8l9.4-4.9l-10-1.8l-5-0.9z" fill="#a50026"/><path d="M1085.7 1003.6l-9.7 2.7l-9.6 2.4l9.7 0.4l9.7 0.9l9.6-2.3l9.7-2.6l-9.7-0.9l-4.9-0.3z" fill="#b30d26"/><path d="M834.7 1059.4l-9.8-2.7l-10-2.7l9.4-6l9.5-5.3l9.9 1.7l9.9 1.7l-9.5 6.2l-4.7 3.4z" fill="#ce2827"/><path d="M1124.3 999.4l-9.6 3l-9.6 2.7l9.7 1.3l9.8 1.5l9.6-2.6l9.6-2.9l-9.8-1.6l-4.8-0.7z" fill="#b10b26"/><path d="M1452.6 949.9l-9.3 5l-9.4 5l10.1 1.7l10 1.6l9.4-4.7l9.3-4.8l-10-1.9l-5-1z" fill="#a50026"/><path d="M1162.9 996l-9.5 3.3l-9.6 3.1l9.7 1.7l9.8 1.9l9.6-3l9.6-3.3l-9.8-1.9l-4.9-0.9z" fill="#af0926"/><path d="M1201.6 992.6l-9.6 3.7l-9.5 3.4l9.8 2l9.8 2l9.6-3.4l9.5-3.6l-9.8-2.1l-4.9-1z" fill="#ad0826"/><path d="M1530.1 939l-9.3 4.6l-9.3 4.6l10.1 2.1l5.1 1l9.3-4.4l9.3-4.4l-10.1-2.4z" fill="#a50026"/><path d="M1491.4 944l-9.3 4.9l-9.4 4.8l10.1 1.9l10.1 1.8l9.3-4.6l9.3-4.6l-10-2.1l-5.1-1z" fill="#a50026"/><path d="M873.3 1049l-9.9-1.4l-9.8-1.5l9.4-5.5l9.5-4.6l9.9 0.8l9.8 0.7l-9.5 5.3l-4.7 3z" fill="#c82227"/><path d="M1240.2 988.8l-9.5 4l-9.5 3.9l9.8 2l9.9 1.9l9.5-3.8l9.5-4l-9.8-2l-4.9-1z" fill="#ab0626"/><path d="M1278.9 984.3l-9.5 4.3l-9.5 4.2l9.9 1.9l9.9 1.8l9.5-4.2l9.5-4.3l-9.9-1.8l-4.9-0.9z" fill="#a70226"/><path d="M911.8 1038.4l-9.8-0.4l-9.8-0.5l9.5-4.5l9.5-3.6l9.9 0l9.8-0.1l-9.6 4.1l-4.7 2.4z" fill="#c21c27"/><path d="M1317.6 978.9l-9.4 4.7l-9.5 4.4l9.9 1.8l10 1.6l9.4-4.4l9.5-4.6l-9.9-1.7l-5-0.9z" fill="#a50026"/><path d="M950.4 1028.5l-9.7 0.5l-9.8 0.3l9.5-3.2l9.6-2.5l9.8-0.6l9.8-0.7l-9.6 2.6l-4.8 1.7z" fill="#bd1726"/><path d="M1356.4 972.9l-9.5 4.8l-9.4 4.7l9.9 1.6l10 1.4l9.5-4.5l9.4-4.8l-10-1.5l-4.9-0.9z" fill="#a50026"/><path d="M989 1020.1l-9.7 1.2l-9.7 1l9.6-1.9l9.6-1.3l9.8-1.1l9.7-1.3l-9.6 1.3l-4.8 1z" fill="#b71126"/><path d="M1395.1 966.4l-9.4 4.9l-9.4 4.8l10 1.5l10 1.4l9.4-4.6l9.4-4.8l-10-1.5l-5-0.9z" fill="#a50026"/><path d="M1027.7 1013.5l-9.7 1.7l-9.7 1.5l9.7-0.6l9.6-0.2l9.7-1.5l9.7-1.7l-9.6 0.1l-4.9 0.3z" fill="#b30d26"/><path d="M1433.9 959.9l-9.4 4.9l-9.4 4.8l10.1 1.5l10 1.4l9.4-4.6l9.4-4.7l-10-1.6l-5.1-0.9z" fill="#a50026"/><path d="M1066.4 1008.7l-9.7 2.1l-9.7 1.9l9.7 0.4l9.8 0.8l9.6-1.9l9.7-2l-9.7-0.9l-4.9-0.3z" fill="#b10b26"/><path d="M1105.1 1005.1l-9.7 2.6l-9.6 2.3l9.7 1.1l9.8 1.5l9.6-2.3l9.7-2.4l-9.8-1.5l-4.9-0.7z" fill="#af0926"/><path d="M699 1063.7l-10.1-5.5l-10.1-5.2l9.3-3.3l9.3-3.3l10.1 3.9l10.1 4.1l-9.3 4.6l-4.6 2.3z" fill="#cc2627"/><path d="M737.7 1063.7l-10-4.8l-10.1-4.5l9.3-4.3l9.3-4l10.1 3.2l10 3.5l-9.3 5.2l-4.7 2.8z" fill="#cc2627"/><path d="M1143.8 1002.4l-9.6 2.9l-9.6 2.6l9.7 1.7l9.8 1.8l9.6-2.6l9.6-2.8l-9.8-1.9l-4.8-0.9z" fill="#ad0826"/><path d="M621.5 1052.4l-10.2-6.3l-5.1-2.8l9.2-1.1l9.3-1.2l10.2 4.8l5.1 2.6l-9.3 2l-4.6 1z" fill="#c62027"/><path d="M1472.7 953.7l-9.3 4.8l-9.4 4.7l10.1 1.6l10.1 1.6l9.3-4.5l9.4-4.5l-10.1-1.8l-5-0.9z" fill="#a50026"/><path d="M1511.5 948.2l-9.3 4.6l-9.3 4.6l10.1 1.8l5 0.8l9.4-4.3l9.3-4.4l-10.1-2z" fill="#a50026"/><path d="M660.3 1059.9l-10.2-6l-10.1-5.5l9.2-2.2l9.3-2.2l10.2 4.3l10.1 4.7l-9.3 3.5l-4.6 1.7z" fill="#c82227"/><path d="M776.3 1060.2l-10-3.8l-10-3.6l9.4-4.9l9.4-4.4l10 2.5l9.9 2.6l-9.3 5.5l-4.7 3z" fill="#c82227"/><path d="M1182.5 999.7l-9.6 3.3l-9.6 3l9.8 1.9l9.9 2l9.5-3l9.6-3.2l-9.8-2l-4.9-1z" fill="#ad0826"/><path d="M1221.2 996.7l-9.5 3.6l-9.6 3.4l9.9 2l9.8 1.9l9.6-3.4l9.5-3.6l-9.9-1.9l-4.9-1z" fill="#ab0626"/><path d="M814.9 1054l-9.9-2.7l-10-2.7l9.4-5l9.5-4.3l9.9 1.7l10 1.7l-9.5 5.3l-4.7 2.9z" fill="#c41e27"/><path d="M1259.9 992.8l-9.5 4l-9.5 3.8l9.9 1.8l9.9 1.8l9.5-3.8l9.5-3.9l-9.9-1.8l-4.9-0.9z" fill="#a70226"/><path d="M1298.7 988l-9.5 4.3l-9.5 4.2l9.9 1.6l10 1.6l9.5-4.1l9.5-4.2l-10-1.6l-4.9-0.9z" fill="#a50026"/><path d="M853.6 1046.1l-9.9-1.7l-9.9-1.7l9.4-4.6l9.5-3.9l9.9 0.9l9.9 0.9l-9.5 4.6l-4.7 2.6z" fill="#c01a27"/><path d="M1337.5 982.4l-9.5 4.6l-9.4 4.4l9.9 1.4l10 1.4l9.5-4.3l9.4-4.5l-10-1.4l-4.9-0.8z" fill="#a50026"/><path d="M892.2 1037.5l-9.8-0.7l-9.9-0.8l9.5-3.9l9.5-3.1l9.9 0.2l9.8 0.2l-9.5 3.6l-4.8 2.2z" fill="#bb1526"/><path d="M1376.3 976.1l-9.4 4.8l-9.5 4.5l10 1.4l10 1.2l9.5-4.4l9.4-4.6l-10-1.4l-5-0.7z" fill="#a50026"/><path d="M930.9 1029.3l-9.8 0.1l-9.9 0l9.6-2.9l9.6-2.1l9.8-0.3l9.8-0.5l-9.6 2.5l-4.8 1.5z" fill="#b71126"/><path d="M1415.1 969.6l-9.4 4.8l-9.4 4.6l10.1 1.3l10 1.2l9.4-4.4l9.4-4.6l-10-1.4l-5-0.7z" fill="#a50026"/><path d="M969.6 1022.3l-9.8 0.7l-9.8 0.6l9.6-1.7l9.7-1.1l9.7-0.8l9.8-0.9l-9.6 1.3l-4.8 0.8z" fill="#b30d26"/><path d="M1008.3 1016.7l-9.7 1.3l-9.8 1.1l9.7-0.6l9.6-0.1l9.8-1.1l9.7-1.4l-9.6 0.2l-4.9 0.2z" fill="#af0926"/><path d="M1454 963.2l-9.4 4.7l-9.4 4.6l10.1 1.4l10.1 1.2l9.4-4.3l9.4-4.4l-10.1-1.6l-5.1-0.7z" fill="#a50026"/><path d="M1047 1012.7l-9.7 1.7l-9.7 1.5l9.7 0.4l9.7 0.8l9.8-1.5l9.7-1.7l-9.8-0.8l-4.8-0.2z" fill="#ad0826"/><path d="M1492.9 957.4l-9.4 4.5l-9.3 4.5l10.1 1.5l5 0.7l9.4-4.3l9.3-4.3l-10.1-1.7z" fill="#a50026"/><path d="M1085.8 1010l-9.7 2l-9.6 1.9l9.7 1.1l9.7 1.4l9.7-1.8l9.7-2l-9.8-1.5l-4.8-0.6z" fill="#ad0826"/><path d="M1124.6 1007.9l-9.7 2.4l-9.6 2.3l9.8 1.6l9.7 1.8l9.7-2.2l9.6-2.4l-9.8-1.8l-4.9-0.9z" fill="#ab0626"/><path d="M1163.3 1006l-9.6 2.8l-9.6 2.6l9.8 1.9l9.8 1.9l9.7-2.5l9.6-2.8l-9.9-2l-4.9-0.9z" fill="#ab0626"/><path d="M1202.1 1003.7l-9.6 3.2l-9.5 3l9.8 1.9l9.9 1.9l9.5-3l9.6-3.1l-9.8-1.9l-5-1z" fill="#a90426"/><path d="M1240.9 1000.6l-9.5 3.6l-9.6 3.4l9.9 1.8l9.9 1.7l9.5-3.4l9.6-3.5l-9.9-1.8l-5-0.9z" fill="#a70226"/><path d="M640 1048.4l-10.2-5.1l-5.1-2.3l9.3-1.2l9.3-1.4l10.1 3.7l5.1 1.9l-9.3 2.2l-4.6 1.1z" fill="#bd1726"/><path d="M1279.7 996.5l-9.5 3.9l-9.5 3.8l9.9 1.6l9.9 1.5l9.6-3.7l9.5-3.9l-10-1.6l-4.9-0.8z" fill="#a50026"/><path d="M717.6 1054.4l-10.1-4.1l-10.1-3.9l9.3-3.1l9.4-2.8l10.1 2.7l10 2.9l-9.3 4l-4.7 2.1z" fill="#c01a27"/><path d="M678.8 1053l-10.1-4.7l-10.2-4.3l9.3-2.1l9.3-2.1l10.2 3.1l10.1 3.5l-9.3 3.3l-4.7 1.6z" fill="#be1827"/><path d="M756.3 1052.8l-10-3.5l-10.1-3.2l9.4-3.7l9.4-3.3l10 2.1l10.1 2.3l-9.4 4.4l-4.7 2.4z" fill="#be1827"/><path d="M1318.6 991.4l-9.5 4.2l-9.5 4.1l9.9 1.4l10 1.3l9.5-4.1l9.5-4.1l-10-1.4l-5-0.7z" fill="#a50026"/><path d="M795 1048.6l-9.9-2.6l-10-2.5l9.4-3.9l9.4-3.5l10 1.6l10 1.6l-9.5 4.3l-4.7 2.4z" fill="#bd1726"/><path d="M1357.4 985.4l-9.4 4.5l-9.5 4.3l10 1.2l10 1.1l9.5-4.2l9.4-4.3l-10-1.2l-5-0.7z" fill="#a50026"/><path d="M833.8 1042.7l-10-1.7l-9.9-1.7l9.4-3.8l9.5-3.2l10 0.9l9.9 1l-9.5 3.9l-4.7 2.2z" fill="#b91326"/><path d="M872.5 1036l-9.9-0.9l-9.9-0.9l9.5-3.3l9.5-2.6l9.9 0.3l9.9 0.4l-9.5 3.1l-4.8 1.9z" fill="#b50f26"/><path d="M1396.3 979l-9.4 4.6l-9.5 4.4l10.1 1.1l10 1l9.5-4.2l9.4-4.4l-10-1.2l-5.1-0.6z" fill="#a50026"/><path d="M911.2 1029.4l-9.8-0.2l-9.9-0.2l9.6-2.5l9.6-1.8l9.8-0.1l9.9-0.2l-9.6 2.1l-4.8 1.4z" fill="#b10b26"/><path d="M1435.2 972.5l-9.4 4.6l-9.4 4.4l10.1 1.1l10.1 1.1l9.4-4.3l9.4-4.3l-10.1-1.2l-5-0.7z" fill="#a50026"/><path d="M1474.2 966.4l-9.4 4.4l-9.4 4.3l10.1 1.2l5.1 0.6l9.4-4.1l9.3-4.2l-10.1-1.5z" fill="#a50026"/><path d="M950 1023.6l-9.8 0.5l-9.8 0.3l9.6-1.6l9.6-0.9l9.9-0.5l9.8-0.6l-9.7 1.1l-4.8 0.8z" fill="#ad0826"/><path d="M988.8 1019.1l-9.8 0.9l-9.7 0.8l9.6-0.6l9.7 0l9.8-0.8l9.7-1l-9.6 0.1l-4.9 0.2z" fill="#ab0626"/><path d="M1027.6 1015.9l-9.7 1.4l-9.8 1.1l9.7 0.4l9.8 0.7l9.7-1.1l9.7-1.3l-9.7-0.8l-4.8-0.2z" fill="#a90426"/><path d="M1066.5 1013.9l-9.7 1.7l-9.8 1.5l9.8 1l9.7 1.4l9.7-1.5l9.7-1.6l-9.7-1.4l-4.9-0.6z" fill="#a90426"/><path d="M1105.3 1012.6l-9.7 2l-9.7 1.8l9.8 1.6l9.8 1.8l9.7-1.8l9.6-2l-9.7-1.8l-4.9-0.8z" fill="#a90426"/><path d="M1144.1 1011.4l-9.6 2.4l-9.7 2.2l9.8 1.8l9.9 2l9.6-2.2l9.6-2.4l-9.8-1.9l-4.9-1z" fill="#a90426"/><path d="M1183 1009.9l-9.6 2.8l-9.7 2.5l9.9 1.9l9.8 1.9l9.7-2.5l9.6-2.8l-9.9-1.9l-4.9-0.9z" fill="#a70226"/><path d="M1221.8 1007.6l-9.6 3.1l-9.5 3l9.8 1.8l9.9 1.8l9.6-3l9.6-3.2l-9.9-1.7l-5-0.9z" fill="#a50026"/><path d="M1260.7 1004.2l-9.6 3.5l-9.5 3.4l9.9 1.6l9.9 1.5l9.6-3.4l9.5-3.5l-9.9-1.5l-5-0.8z" fill="#a50026"/><path d="M1299.6 999.7l-9.5 3.9l-9.6 3.7l10 1.4l10 1.2l9.5-3.7l9.5-3.8l-10-1.3l-5-0.7z" fill="#a50026"/><path d="M1338.5 994.2l-9.5 4.1l-9.5 4.1l10 1.1l10 1l9.5-3.9l9.5-4.1l-10-1.1l-5-0.6z" fill="#a50026"/><path d="M658.5 1044l-10.2-3.8l-5-1.8l9.3-1.3l9.3-1.3l10.2 2.6l5 1.4l-9.3 2.1l-4.6 1.1z" fill="#b50f26"/><path d="M697.4 1046.4l-10.1-3.5l-10.2-3.1l9.4-2l9.4-1.8l10.1 2.1l10.1 2.4l-9.4 2.8l-4.6 1.6z" fill="#b50f26"/><path d="M736.2 1046.1l-10-2.9l-10.1-2.7l9.4-2.7l9.4-2.3l10.1 1.7l10 1.9l-9.4 3.3l-4.7 1.8z" fill="#b50f26"/><path d="M1377.4 988l-9.4 4.3l-9.5 4.2l10 1l10.1 0.9l9.5-4.1l9.4-4.2l-10-1l-5-0.5z" fill="#a50026"/><path d="M775.1 1043.5l-10.1-2.3l-10-2.1l9.4-3l9.5-2.6l10 1.3l10 1.3l-9.4 3.5l-4.7 1.9z" fill="#b30d26"/><path d="M813.9 1039.3l-10-1.6l-10-1.6l9.5-2.9l9.5-2.5l10 0.7l9.9 0.9l-9.5 3.2l-4.7 1.8z" fill="#b10b26"/><path d="M1416.4 981.5l-9.4 4.4l-9.5 4.2l10.1 1l10.1 0.8l9.4-4.1l9.5-4.1l-10.1-1.1l-5.1-0.5z" fill="#a50026"/><path d="M1455.4 975.1l-9.4 4.3l-9.4 4.3l10.1 0.9l5.1 0.5l9.4-4.1l9.4-4.1l-10.1-1.1z" fill="#a50026"/><path d="M852.7 1034.2l-9.9-1l-10-0.9l9.5-2.6l9.6-2.1l9.9 0.3l9.9 0.4l-9.5 2.6l-4.8 1.5z" fill="#ad0826"/><path d="M891.5 1029l-9.9-0.4l-9.9-0.3l9.6-2.1l9.6-1.4l9.9-0.1l9.9 0l-9.6 1.8l-4.8 1.2z" fill="#ab0626"/><path d="M930.4 1024.4l-9.9 0.2l-9.8 0.1l9.6-1.3l9.6-0.7l9.9-0.4l9.8-0.4l-9.6 0.9l-4.8 0.7z" fill="#a70226"/><path d="M969.3 1020.8l-9.8 0.6l-9.9 0.5l9.7-0.4l9.7 0.1l9.8-0.7l9.8-0.7l-9.7 0l-4.8 0.3z" fill="#a70226"/><path d="M1008.1 1018.4l-9.7 1l-9.8 0.8l9.7 0.4l9.7 0.8l9.8-0.9l9.8-1l-9.8-0.7l-4.8-0.3z" fill="#a50026"/><path d="M1124.8 1016l-9.6 2l-9.7 1.8l9.8 1.8l9.8 1.9l9.7-1.8l9.7-1.9l-9.9-2l-4.9-0.9z" fill="#a50026"/><path d="M1085.9 1016.4l-9.7 1.6l-9.7 1.5l9.8 1.6l9.8 1.7l9.7-1.4l9.7-1.6l-9.8-1.8l-4.9-0.8z" fill="#a50026"/><path d="M1047 1017.1l-9.7 1.3l-9.7 1.1l9.7 1.1l9.7 1.4l9.8-1.2l9.7-1.3l-9.7-1.4l-4.9-0.5z" fill="#a50026"/><path d="M1163.7 1015.2l-9.6 2.4l-9.6 2.2l9.8 1.9l9.9 1.9l9.6-2.2l9.6-2.4l-9.8-1.9l-4.9-0.9z" fill="#a50026"/><path d="M1202.7 1013.7l-9.6 2.8l-9.7 2.5l9.9 1.9l9.9 1.7l9.6-2.6l9.6-2.7l-9.9-1.8l-4.9-0.9z" fill="#a50026"/><path d="M1241.6 1011.1l-9.6 3.2l-9.6 3l9.9 1.6l10 1.5l9.6-3l9.5-3.2l-9.9-1.5l-5-0.8z" fill="#a50026"/><path d="M1280.5 1007.3l-9.5 3.5l-9.6 3.4l10 1.4l10 1.2l9.5-3.4l9.6-3.5l-10-1.2l-5-0.7z" fill="#a50026"/><path d="M1319.5 1002.4l-9.5 3.8l-9.5 3.7l10 1.1l10 1l9.5-3.7l9.5-3.8l-10-1l-5-0.6z" fill="#a50026"/><path d="M1358.5 996.5l-9.5 4.1l-9.5 3.9l10 0.9l10.1 0.8l9.5-3.9l9.5-3.9l-10.1-0.9l-5-0.5z" fill="#a50026"/><path d="M677.1 1039.8l-10.1-2.8l-5.1-1.2l9.4-1.3l9.3-1.2l10.2 1.7l5.1 1l-9.4 1.8l-4.7 1z" fill="#ad0826"/><path d="M1397.5 990.1l-9.4 4.2l-9.5 4.1l10.1 0.8l10.1 0.6l9.4-3.9l9.5-4l-10.1-0.8l-5-0.5z" fill="#a50026"/><path d="M1436.6 983.7l-9.5 4.1l-9.4 4.1l10.1 0.8l5.1 0.3l9.4-3.9l9.5-4l-10.2-0.9z" fill="#a50026"/><path d="M716.1 1040.5l-10.1-2.4l-10.1-2.1l9.4-1.7l9.4-1.6l10.1 1.3l10.1 1.5l-9.4 2.3l-4.7 1.3z" fill="#ab0626"/><path d="M755 1039.1l-10-1.9l-10.1-1.7l9.4-2.1l9.5-1.9l10 0.9l10.1 1.1l-9.5 2.6l-4.7 1.4z" fill="#ab0626"/><path d="M793.9 1036.1l-10-1.3l-10-1.3l9.4-2.2l9.5-1.8l10.1 0.5l10 0.7l-9.5 2.5l-4.8 1.4z" fill="#a90426"/><path d="M832.8 1032.3l-9.9-0.9l-10-0.7l9.5-2.1l9.5-1.5l10 0.2l10 0.3l-9.6 2.1l-4.7 1.2z" fill="#a70226"/><path d="M871.7 1028.3l-9.9-0.4l-9.9-0.3l9.5-1.6l9.6-1.1l10-0.1l9.9 0l-9.6 1.4l-4.8 1z" fill="#a50026"/><path d="M910.7 1024.7l-9.9 0l-9.9 0.1l9.6-1l9.6-0.5l9.9-0.3l9.9-0.3l-9.6 0.7l-4.8 0.6z" fill="#a50026"/><path d="M1144.5 1019.8l-9.7 1.9l-9.7 1.8l9.9 2l9.8 2l9.7-1.9l9.7-2l-9.9-1.9l-4.9-1z" fill="#a50026"/><path d="M1105.5 1019.8l-9.7 1.6l-9.7 1.4l9.8 1.9l9.8 1.9l9.7-1.4l9.7-1.7l-9.8-1.9l-4.9-0.9z" fill="#a50026"/><path d="M1183.4 1019l-9.6 2.4l-9.6 2.2l9.8 1.9l9.9 1.8l9.7-2.2l9.6-2.5l-9.9-1.7l-4.9-0.9z" fill="#a50026"/><path d="M1066.5 1019.5l-9.7 1.3l-9.8 1.2l9.8 1.5l9.8 1.8l9.8-1.2l9.7-1.3l-9.8-1.7l-4.9-0.8z" fill="#a50026"/><path d="M949.6 1021.9l-9.8 0.4l-9.9 0.4l9.7-0.3l9.6 0.2l9.9-0.5l9.9-0.5l-9.7-0.1l-4.8 0.1z" fill="#a50026"/><path d="M1027.6 1019.5l-9.8 1l-9.8 0.9l9.7 1.1l9.8 1.4l9.8-0.9l9.7-1l-9.7-1.4l-4.9-0.6z" fill="#a50026"/><path d="M1222.4 1017.3l-9.6 2.7l-9.6 2.6l9.9 1.7l10 1.6l9.6-2.7l9.6-2.8l-10-1.5l-4.9-0.8z" fill="#a50026"/><path d="M988.6 1020.2l-9.8 0.7l-9.8 0.7l9.6 0.5l9.8 0.8l9.8-0.7l9.8-0.8l-9.7-0.8l-4.9-0.2z" fill="#a50026"/><path d="M1261.4 1014.2l-9.5 3.2l-9.6 3l9.9 1.4l10 1.3l9.6-3.1l9.6-3.2l-10-1.2l-5-0.7z" fill="#a50026"/><path d="M1300.5 1009.9l-9.6 3.5l-9.5 3.4l9.9 1.1l10.1 1l9.5-3.4l9.6-3.5l-10-1l-5-0.5z" fill="#a50026"/><path d="M1339.5 1004.5l-9.5 3.8l-9.5 3.7l10 0.8l10.1 0.8l9.5-3.7l9.5-3.7l-10.1-0.8l-5-0.4z" fill="#a50026"/><path d="M1378.6 998.4l-9.5 3.9l-9.5 3.9l10.1 0.7l10.1 0.6l9.5-3.8l9.5-3.9l-10.1-0.6l-5.1-0.4z" fill="#a50026"/><path d="M1417.7 991.9l-9.5 4l-9.4 3.9l10.1 0.6l5.1 0.3l9.4-3.8l9.5-3.9l-10.1-0.7z" fill="#a50026"/><path d="M695.9 1036l-10.2-1.9l-5.1-0.8l9.4-1l9.5-1l10.1 0.9l5.1 0.5l-9.4 1.6l-4.7 0.8z" fill="#a50026"/><path d="M734.9 1035.5l-10.1-1.5l-10.1-1.3l9.4-1.3l9.5-1.1l10.1 0.5l10.1 0.7l-9.5 1.9l-4.7 1z" fill="#a50026"/><path d="M773.9 1033.5l-10.1-1.1l-10-0.9l9.4-1.5l9.5-1.2l10.1 0.2l10 0.5l-9.5 1.8l-4.7 1.1z" fill="#a50026"/><path d="M812.9 1030.7l-10-0.7l-10.1-0.5l9.6-1.5l9.5-1.1l10 0l10 0.2l-9.5 1.5l-4.8 1z" fill="#a50026"/><path d="M1164.2 1023.6l-9.7 2l-9.7 1.9l9.9 1.9l9.9 1.9l9.7-1.9l9.6-2.1l-9.9-1.8l-4.9-1z" fill="#a50026"/><path d="M1125.1 1023.5l-9.7 1.7l-9.7 1.4l9.9 2l9.8 2.1l9.7-1.6l9.7-1.6l-9.8-2l-5-1z" fill="#a50026"/><path d="M1203.2 1022.6l-9.6 2.5l-9.7 2.2l9.9 1.7l10 1.7l9.6-2.3l9.7-2.5l-10-1.6l-4.9-0.8z" fill="#a50026"/><path d="M851.9 1027.6l-10-0.3l-10-0.2l9.6-1.2l9.6-0.8l10-0.1l9.9-0.1l-9.6 1.1l-4.8 0.7z" fill="#a50026"/><path d="M1086.1 1022.8l-9.7 1.3l-9.8 1.2l9.8 1.9l9.8 2l9.8-1.2l9.7-1.4l-9.8-1.9l-4.9-1z" fill="#a50026"/><path d="M1047 1022l-9.7 1l-9.8 0.9l9.8 1.6l9.7 1.8l9.8-1l9.8-1l-9.8-1.8l-4.9-0.8z" fill="#a50026"/><path d="M1242.3 1020.4l-9.6 2.8l-9.6 2.7l9.9 1.4l10 1.4l9.6-2.8l9.6-2.8l-10-1.3l-5-0.7z" fill="#a50026"/><path d="M890.9 1024.8l-9.9 0l-10 0.1l9.6-0.7l9.7-0.3l9.9-0.3l9.9-0.3l-9.6 0.5l-4.8 0.4z" fill="#a50026"/><path d="M1008 1021.4l-9.8 0.8l-9.8 0.7l9.7 1.1l9.8 1.5l9.8-0.8l9.8-0.8l-9.8-1.4l-4.8-0.6z" fill="#a50026"/><path d="M929.9 1022.7l-9.9 0.3l-9.9 0.3l9.7-0.1l9.7 0.4l9.9-0.5l9.8-0.5l-9.6-0.2l-4.9 0.1z" fill="#a50026"/><path d="M969 1021.6l-9.9 0.5l-9.9 0.5l9.7 0.6l9.8 0.9l9.8-0.6l9.9-0.6l-9.8-0.8l-4.8-0.3z" fill="#a50026"/><path d="M1281.4 1016.8l-9.6 3.2l-9.6 3.1l10 1.1l10 1l9.6-3.1l9.6-3.2l-10.1-1l-4.9-0.5z" fill="#a50026"/><path d="M1320.5 1012l-9.6 3.5l-9.5 3.4l10 0.8l10.1 0.8l9.5-3.4l9.6-3.5l-10.1-0.8l-5-0.4z" fill="#a50026"/><path d="M1359.6 1006.2l-9.5 3.7l-9.5 3.7l10 0.6l10.1 0.5l9.6-3.6l9.5-3.6l-10.1-0.6l-5.1-0.4z" fill="#a50026"/><path d="M1398.8 999.8l-9.5 3.9l-9.5 3.8l10.1 0.5l5.1 0.2l9.5-3.7l9.5-3.8l-10.2-0.5z" fill="#a50026"/><path d="M714.7 1032.7l-10.2-1l-5-0.4l9.4-0.8l9.5-0.6l10.1 0.2l5.1 0.2l-9.5 1.1l-4.7 0.7z" fill="#a50026"/><path d="M1183.9 1027.3l-9.6 2.1l-9.7 1.9l9.9 1.8l9.9 1.8l9.7-2l9.7-2.2l-10-1.7l-4.9-0.8z" fill="#a50026"/><path d="M1144.8 1027.5l-9.7 1.6l-9.7 1.6l9.9 2l9.9 2l9.7-1.7l9.7-1.7l-9.9-1.9l-4.9-1z" fill="#a50026"/><path d="M1105.7 1026.6l-9.7 1.4l-9.8 1.2l9.9 2l9.8 2.1l9.8-1.3l9.7-1.3l-9.8-2.1l-5-1z" fill="#a50026"/><path d="M1223.1 1025.9l-9.7 2.5l-9.6 2.3l9.9 1.5l10 1.5l9.6-2.4l9.7-2.6l-10-1.4l-5-0.7z" fill="#a50026"/><path d="M753.8 1031.5l-10.1-0.7l-10.1-0.5l9.4-0.9l9.6-0.7l10.1 0l10 0.1l-9.5 1.2l-4.7 0.7z" fill="#a50026"/><path d="M1066.6 1025.3l-9.8 1l-9.8 1l9.8 1.9l9.9 2l9.8-0.9l9.7-1.1l-9.8-2l-4.9-1z" fill="#a50026"/><path d="M792.8 1029.5l-10-0.5l-10.1-0.2l9.6-1l9.5-0.6l10.1-0.2l10-0.1l-9.5 1.1l-4.8 0.7z" fill="#a50026"/><path d="M1262.2 1023.1l-9.6 2.8l-9.6 2.8l10 1.2l10 1.1l9.6-2.8l9.6-3l-10-1l-5-0.6z" fill="#a50026"/><path d="M1027.5 1023.9l-9.8 0.8l-9.8 0.8l9.7 1.6l9.8 1.8l9.8-0.8l9.8-0.8l-9.7-1.8l-4.9-0.8z" fill="#a50026"/><path d="M831.9 1027.1l-10-0.2l-10 0l9.6-0.8l9.6-0.4l10-0.3l10-0.3l-9.6 0.8l-4.8 0.5z" fill="#a50026"/><path d="M988.4 1022.9l-9.9 0.6l-9.8 0.6l9.7 1.2l9.7 1.5l9.9-0.7l9.9-0.6l-9.8-1.5l-4.9-0.6z" fill="#a50026"/><path d="M871 1024.9l-9.9 0.1l-10 0.1l9.6-0.3l9.6-0.1l10-0.4l10-0.4l-9.7 0.3l-4.8 0.3z" fill="#a50026"/><path d="M949.2 1022.6l-9.8 0.5l-9.9 0.5l9.6 0.7l9.8 0.9l9.9-0.5l9.9-0.6l-9.8-0.9l-4.8-0.3z" fill="#a50026"/><path d="M910.1 1023.3l-9.9 0.3l-9.9 0.3l9.6 0.2l9.7 0.4l9.9-0.5l10-0.4l-9.7-0.4l-4.8 0z" fill="#a50026"/><path d="M1301.4 1018.9l-9.6 3.2l-9.6 3.1l10 0.9l10.1 0.8l9.6-3.1l9.6-3.3l-10.1-0.8l-5-0.4z" fill="#a50026"/><path d="M1340.6 1013.6l-9.6 3.5l-9.5 3.4l10 0.6l10.1 0.5l9.6-3.4l9.5-3.5l-10.1-0.5l-5-0.3z" fill="#a50026"/><path d="M1379.8 1007.5l-9.5 3.6l-9.6 3.6l10.1 0.5l5.1 0.2l9.5-3.6l9.6-3.6l-10.2-0.5z" fill="#a50026"/><path d="M733.6 1030.3l-10.2-0.3l-5-0.1l9.5-0.5l9.5-0.3l10.1-0.3l5.1-0.1l-9.6 0.7l-4.7 0.4z" fill="#a50026"/><path d="M1164.6 1031.3l-9.7 1.7l-9.7 1.7l9.9 1.9l9.9 1.9l9.7-1.8l9.7-1.8l-9.9-1.8l-5-0.9z" fill="#a50026"/><path d="M1203.8 1030.7l-9.7 2.2l-9.7 2l10 1.6l10 1.6l9.6-2.1l9.7-2.3l-10-1.5l-4.9-0.7z" fill="#a50026"/><path d="M1125.4 1030.7l-9.7 1.3l-9.8 1.3l9.9 2.1l9.9 2.1l9.7-1.4l9.8-1.4l-9.9-2l-5-1z" fill="#a50026"/><path d="M1243 1028.7l-9.7 2.6l-9.6 2.4l10 1.3l10 1.3l9.6-2.6l9.7-2.7l-10-1.1l-5-0.6z" fill="#a50026"/><path d="M1086.2 1029.2l-9.7 1.1l-9.8 0.9l9.8 2.2l9.9 2.1l9.8-1l9.7-1.2l-9.8-2.1l-5-1z" fill="#a50026"/><path d="M1047 1027.3l-9.8 0.8l-9.8 0.8l9.8 2l9.8 2.1l9.9-0.8l9.8-1l-9.9-2l-4.9-1z" fill="#a50026"/><path d="M1282.2 1025.2l-9.6 3l-9.6 2.8l10 1l10.1 0.9l9.6-2.9l9.6-3.1l-10.1-0.8l-5-0.4z" fill="#a50026"/><path d="M772.7 1028.8l-10-0.1l-10.1 0l9.5-0.5l9.5-0.2l10.1-0.5l10.1-0.3l-9.5 0.6l-4.8 0.5z" fill="#a50026"/><path d="M1007.9 1025.5l-9.9 0.6l-9.9 0.7l9.8 1.7l9.8 1.8l9.9-0.7l9.8-0.7l-9.8-1.8l-4.9-0.8z" fill="#a50026"/><path d="M811.9 1026.9l-10 0.1l-10.1 0.2l9.6-0.4l9.6-0.1l10-0.5l10.1-0.5l-9.6 0.4l-4.8 0.4z" fill="#a50026"/><path d="M968.7 1024.1l-9.9 0.6l-9.9 0.5l9.7 1.3l9.8 1.5l9.9-0.6l9.8-0.6l-9.7-1.5l-4.9-0.6z" fill="#a50026"/><path d="M851.1 1025.1l-10 0.3l-10 0.3l9.6-0.1l9.6 0.2l10-0.6l10-0.5l-9.6 0.1l-4.8 0.1z" fill="#a50026"/><path d="M929.5 1023.6l-10 0.4l-9.9 0.5l9.7 0.8l9.7 1.1l9.9-0.6l10-0.6l-9.8-0.9l-4.8-0.4z" fill="#a50026"/><path d="M890.3 1023.9l-10 0.4l-10 0.4l9.7 0.4l9.6 0.6l10-0.6l10-0.6l-9.7-0.4l-4.8-0.1z" fill="#a50026"/><path d="M1321.5 1020.5l-9.6 3.3l-9.6 3.1l10.1 0.7l10.1 0.6l9.5-3.2l9.6-3.4l-10.1-0.5l-5-0.3z" fill="#a50026"/><path d="M1360.7 1014.7l-9.5 3.5l-9.6 3.4l10.1 0.5l5.1 0.2l9.6-3.4l9.5-3.5l-10.1-0.4z" fill="#a50026"/><path d="M1184.4 1034.9l-9.7 1.8l-9.7 1.8l10 1.8l9.9 1.8l9.8-1.9l9.7-2.1l-10-1.6l-5-0.8z" fill="#a50026"/><path d="M1145.2 1034.7l-9.8 1.4l-9.7 1.4l9.9 2.1l9.9 2l9.8-1.5l9.7-1.6l-9.9-1.9l-5-1z" fill="#a50026"/><path d="M1223.7 1033.7l-9.7 2.3l-9.6 2.1l9.9 1.5l10 1.5l9.7-2.4l9.7-2.4l-10-1.3l-5-0.6z" fill="#a50026"/><path d="M1105.9 1033.3l-9.7 1.2l-9.8 1l9.9 2.2l9.8 2.3l9.8-1.2l9.8-1.3l-9.9-2.1l-4.9-1z" fill="#a50026"/><path d="M1263 1031l-9.7 2.7l-9.6 2.6l10 1.1l10.1 1.1l9.6-2.7l9.7-2.9l-10.1-0.9l-5-0.5z" fill="#a50026"/><path d="M752.6 1028.7l-10.2 0.2l-5 0.2l9.5-0.2l9.6 0.1l10.1-0.7l5-0.3l-9.5 0.2l-4.8 0.2z" fill="#a50026"/><path d="M1066.7 1031.2l-9.8 1l-9.9 0.8l9.9 2.2l9.8 2.2l9.9-0.9l9.8-1l-9.9-2.1l-4.9-1.1z" fill="#a50026"/><path d="M1027.4 1028.9l-9.8 0.7l-9.9 0.7l9.8 2.1l9.8 2.1l9.9-0.7l9.8-0.8l-9.8-2.1l-4.9-1z" fill="#a50026"/><path d="M1341.6 1021.6l-9.6 3.4l-9.5 3.2l10.1 0.5l5 0.3l9.6-3.3l9.6-3.4l-10.1-0.4z" fill="#a50026"/><path d="M1302.3 1026.9l-9.6 3.1l-9.6 2.9l10 0.8l10.1 0.7l9.6-3l9.7-3.2l-10.1-0.6l-5.1-0.3z" fill="#a50026"/><path d="M988.1 1026.8l-9.8 0.6l-9.9 0.6l9.7 1.8l9.8 1.9l9.9-0.7l9.9-0.7l-9.8-1.8l-4.9-0.9z" fill="#a50026"/><path d="M791.8 1027.2l-10.1 0.3l-10.1 0.5l9.6 0l9.6 0.2l10.1-0.8l10.1-0.7l-9.6 0.1l-4.8 0.2z" fill="#a50026"/><path d="M948.9 1025.2l-10 0.6l-9.9 0.6l9.7 1.4l9.8 1.5l9.9-0.6l10-0.7l-9.8-1.5l-4.9-0.7z" fill="#a50026"/><path d="M831.1 1025.7l-10.1 0.5l-10 0.5l9.6 0.2l9.6 0.4l10.1-0.8l10-0.7l-9.6-0.2l-4.8 0z" fill="#a50026"/><path d="M909.6 1024.5l-10 0.6l-10 0.6l9.7 0.9l9.8 1.2l9.9-0.7l10-0.7l-9.7-1.1l-4.9-0.4z" fill="#a50026"/><path d="M870.3 1024.7l-10 0.5l-10 0.6l9.7 0.5l9.6 0.8l10-0.7l10-0.7l-9.6-0.6l-4.9-0.2z" fill="#a50026"/><path d="M1165 1038.5l-9.7 1.6l-9.8 1.5l10 2l10 2l9.7-1.7l9.7-1.8l-9.9-1.8l-5-0.9z" fill="#a50026"/><path d="M1204.4 1038.1l-9.7 2.1l-9.8 1.9l10 1.7l10 1.6l9.8-2.1l9.6-2.2l-10-1.5l-5-0.7z" fill="#a50026"/><path d="M1125.7 1037.5l-9.8 1.3l-9.8 1.2l10 2.2l9.9 2.2l9.8-1.3l9.7-1.5l-9.9-2l-4.9-1z" fill="#a50026"/><path d="M1243.7 1036.3l-9.7 2.4l-9.7 2.4l10.1 1.3l10 1.2l9.7-2.5l9.7-2.6l-10.1-1.1l-5-0.5z" fill="#a50026"/><path d="M1086.4 1035.5l-9.8 1l-9.9 0.9l9.9 2.4l9.9 2.3l9.8-1l9.8-1.1l-9.8-2.3l-5-1.1z" fill="#a50026"/><path d="M1322.5 1028.2l-9.7 3.2l-9.6 3l10.1 0.7l5.1 0.2l9.6-3.1l9.6-3.2l-10.1-0.5z" fill="#a50026"/><path d="M1283.1 1032.9l-9.7 2.9l-9.6 2.7l10 0.9l10.1 0.9l9.7-2.9l9.6-3l-10.1-0.7l-5-0.4z" fill="#a50026"/><path d="M1047 1033l-9.8 0.8l-9.9 0.7l9.9 2.3l9.8 2.4l9.9-0.9l9.8-0.9l-9.8-2.2l-4.9-1.1z" fill="#a50026"/><path d="M771.6 1028l-10.1 0.6l-5 0.4l9.5 0.2l9.6 0.5l10.1-1l5.1-0.5l-9.6-0.2l-4.8 0z" fill="#a50026"/><path d="M1007.7 1030.3l-9.9 0.7l-9.9 0.7l9.8 2.1l9.9 2.2l9.9-0.7l9.8-0.8l-9.8-2.1l-4.9-1.1z" fill="#a50026"/><path d="M968.4 1028l-10 0.7l-9.9 0.6l9.8 1.8l9.8 2l9.9-0.7l9.9-0.7l-9.8-1.9l-4.9-0.9z" fill="#a50026"/><path d="M929 1026.4l-10 0.7l-9.9 0.7l9.7 1.4l9.7 1.6l10-0.8l10-0.7l-9.8-1.5l-4.8-0.7z" fill="#a50026"/><path d="M811 1026.7l-10.1 0.7l-10.1 0.8l9.6 0.4l9.6 0.7l10.1-1l10.1-1l-9.6-0.4l-4.8-0.1z" fill="#a50026"/><path d="M889.6 1025.7l-10 0.7l-10 0.7l9.7 1l9.7 1.3l10.1-0.9l10-0.7l-9.8-1.2l-4.8-0.5z" fill="#a50026"/><path d="M850.3 1025.8l-10 0.7l-10.1 0.8l9.7 0.7l9.6 0.9l10.1-0.9l10-0.9l-9.6-0.8l-4.9-0.2z" fill="#a50026"/><path d="M1184.9 1042.1l-9.7 1.8l-9.7 1.7l9.9 1.9l10.1 1.8l9.7-1.9l9.7-2l-10-1.6l-5-0.9z" fill="#a50026"/><path d="M1145.5 1041.6l-9.7 1.5l-9.8 1.3l9.9 2.2l10 2.2l9.8-1.6l9.8-1.6l-10-2l-5-1z" fill="#a50026"/><path d="M1224.3 1041.1l-9.6 2.2l-9.8 2.1l10.1 1.5l10 1.5l9.7-2.3l9.7-2.5l-10-1.2l-5-0.7z" fill="#a50026"/><path d="M1303.2 1034.4l-9.6 3l-9.7 2.9l10.1 0.8l5.1 0.4l9.7-3.1l9.6-3.1l-10.1-0.5z" fill="#a50026"/><path d="M1106.1 1040l-9.8 1.1l-9.8 1l9.9 2.4l10 2.4l9.8-1.2l9.8-1.3l-9.9-2.2l-5-1.1z" fill="#a50026"/><path d="M1263.8 1038.5l-9.7 2.6l-9.7 2.5l10.1 1.2l10.1 1.1l9.7-2.8l9.6-2.8l-10.1-0.9l-5-0.4z" fill="#a50026"/><path d="M1066.7 1037.4l-9.8 0.9l-9.9 0.9l9.9 2.4l9.9 2.5l9.9-1l9.8-1l-9.9-2.3l-4.9-1.2z" fill="#a50026"/><path d="M1027.3 1034.5l-9.8 0.8l-9.9 0.7l9.8 2.4l9.9 2.4l9.9-0.8l9.8-0.8l-9.8-2.4l-4.9-1.2z" fill="#a50026"/><path d="M790.8 1028.2l-10.1 0.9l-5.1 0.6l9.6 0.6l9.7 0.8l10.1-1.2l5-0.6l-9.6-0.7l-4.8-0.2z" fill="#a50026"/><path d="M987.9 1031.7l-9.9 0.7l-9.9 0.7l9.8 2.1l9.8 2.3l9.9-0.7l10-0.8l-9.9-2.2l-4.9-1.1z" fill="#a50026"/><path d="M948.5 1029.3l-10 0.7l-10 0.8l9.8 1.9l9.8 2l10-0.8l10-0.8l-9.8-2l-4.9-0.9z" fill="#a50026"/><path d="M909.1 1027.8l-10 0.7l-10.1 0.9l9.8 1.5l9.7 1.7l10.1-0.9l9.9-0.9l-9.7-1.6l-4.9-0.8z" fill="#a50026"/><path d="M869.6 1027.1l-10 0.9l-10.1 0.9l9.7 1.2l9.8 1.4l10-1.1l10-1l-9.7-1.3l-4.8-0.5z" fill="#a50026"/><path d="M830.2 1027.3l-10.1 1l-10.1 1l9.7 0.9l9.7 1l10.1-1.2l10-1.1l-9.6-0.9l-4.9-0.4z" fill="#a50026"/><path d="M1283.9 1040.3l-9.6 2.8l-9.7 2.8l10.1 1l5 0.5l9.7-2.9l9.7-3l-10.1-0.8z" fill="#a50026"/><path d="M1165.5 1045.6l-9.8 1.6l-9.8 1.6l10 2.1l10 2.1l9.8-1.8l9.8-1.9l-10.1-1.8l-4.9-0.9z" fill="#a50026"/><path d="M1204.9 1045.4l-9.7 2l-9.7 1.9l10 1.8l10 1.8l9.8-2.2l9.7-2.3l-10-1.5l-5.1-0.7z" fill="#a50026"/><path d="M1126 1044.4l-9.8 1.3l-9.8 1.2l9.9 2.4l10 2.4l9.8-1.5l9.8-1.4l-10-2.2l-4.9-1.1z" fill="#a50026"/><path d="M1244.4 1043.6l-9.7 2.5l-9.7 2.3l10.1 1.4l10.1 1.3l9.7-2.6l9.7-2.6l-10.1-1.1l-5-0.6z" fill="#a50026"/><path d="M1086.5 1042.1l-9.8 1l-9.9 1l9.9 2.5l10 2.6l9.8-1.2l9.9-1.1l-10-2.4l-4.9-1.2z" fill="#a50026"/><path d="M1047 1039.2l-9.8 0.8l-9.9 0.8l9.8 2.6l9.9 2.6l9.9-1l9.9-0.9l-9.9-2.5l-4.9-1.2z" fill="#a50026"/><path d="M1007.6 1036l-10 0.8l-9.9 0.7l9.8 2.5l9.9 2.5l9.9-0.8l10-0.9l-9.9-2.4l-4.9-1.2z" fill="#a50026"/><path d="M810 1029.3l-10.1 1.2l-5 0.6l9.6 1l9.7 1.2l10.1-1.4l5.1-0.7l-9.7-1l-4.8-0.5z" fill="#a50026"/><path d="M968.1 1033.1l-10 0.8l-10 0.8l9.8 2.2l9.9 2.4l9.9-0.9l10-0.9l-9.8-2.3l-4.9-1z" fill="#a50026"/><path d="M928.5 1030.8l-9.9 0.9l-10.1 0.9l9.8 1.9l9.8 2.1l10-1l10-0.9l-9.8-2l-4.9-1z" fill="#a50026"/><path d="M889 1029.4l-10 1l-10 1.1l9.7 1.5l9.7 1.8l10.1-1.1l10-1.1l-9.7-1.7l-4.9-0.8z" fill="#a50026"/><path d="M849.5 1028.9l-10 1.1l-10.1 1.2l9.7 1.3l9.7 1.5l10.1-1.4l10.1-1.1l-9.8-1.4l-4.8-0.6z" fill="#a50026"/><path d="M1264.6 1045.9l-9.7 2.6l-9.7 2.6l10.1 1.3l5 0.6l9.7-2.8l9.7-2.8l-10.1-1z" fill="#a50026"/><path d="M1185.5 1049.3l-9.8 1.9l-9.8 1.8l10 2l10.1 2l9.8-2l9.7-2.1l-10-1.8l-5-0.9z" fill="#a50026"/><path d="M1145.9 1048.8l-9.8 1.4l-9.8 1.5l10 2.3l10 2.4l9.8-1.7l9.8-1.7l-10-2.1l-5-1.1z" fill="#a50026"/><path d="M1225 1048.4l-9.7 2.3l-9.8 2.2l10.1 1.6l10.1 1.7l9.7-2.5l9.8-2.6l-10.1-1.3l-5.1-0.7z" fill="#a50026"/><path d="M1106.4 1046.9l-9.9 1.1l-9.8 1.2l9.9 2.6l10 2.6l9.8-1.4l9.9-1.3l-10-2.4l-5-1.2z" fill="#a50026"/><path d="M1066.8 1044.1l-9.9 0.9l-9.9 1l10 2.7l9.9 2.7l9.9-1.1l9.9-1.1l-10-2.6l-4.9-1.3z" fill="#a50026"/><path d="M1027.3 1040.8l-10 0.9l-9.9 0.8l9.9 2.7l9.9 2.7l9.9-1l9.9-0.9l-9.9-2.6l-4.9-1.3z" fill="#a50026"/><path d="M987.7 1037.5l-10 0.9l-9.9 0.9l9.8 2.5l9.9 2.6l9.9-1l10-0.9l-9.9-2.5l-4.9-1.3z" fill="#a50026"/><path d="M829.4 1031.2l-10.1 1.3l-5.1 0.8l9.7 1.3l9.7 1.6l10.1-1.5l5.1-0.7l-9.7-1.5l-4.9-0.7z" fill="#a50026"/><path d="M948.1 1034.7l-10 0.9l-10 1l9.8 2.3l9.8 2.4l10.1-1.1l10-0.9l-9.9-2.4l-4.9-1.1z" fill="#a50026"/><path d="M908.5 1032.6l-10 1.1l-10.1 1.1l9.8 2l9.8 2.1l10.1-1.2l10-1.1l-9.8-2.1l-4.9-1z" fill="#a50026"/><path d="M869 1031.5l-10.1 1.1l-10.1 1.4l9.7 1.6l9.8 1.9l10.1-1.4l10-1.3l-9.7-1.8l-4.9-0.8z" fill="#a50026"/><path d="M1245.2 1051.1l-9.8 2.6l-9.7 2.5l10.1 1.5l5 0.8l9.8-2.7l9.7-2.8l-10.1-1.2z" fill="#a50026"/><path d="M1165.9 1053l-9.8 1.7l-9.8 1.7l10 2.3l10 2.3l9.9-2l9.8-2l-10.1-2l-5-1z" fill="#a50026"/><path d="M1205.5 1052.9l-9.7 2.1l-9.8 2l10 2l10.1 1.9l9.8-2.3l9.8-2.4l-10.1-1.7l-5.1-0.8z" fill="#a50026"/><path d="M1126.3 1051.7l-9.9 1.3l-9.8 1.4l10 2.6l10 2.6l9.8-1.6l9.9-1.6l-10-2.4l-5-1.2z" fill="#a50026"/><path d="M1086.7 1049.2l-9.9 1.1l-9.9 1.1l9.9 2.8l10 2.8l9.9-1.3l9.9-1.3l-10-2.6l-5-1.3z" fill="#a50026"/><path d="M1047 1046l-9.9 0.9l-9.9 1l9.9 2.9l9.9 2.9l10-1.2l9.9-1.1l-9.9-2.7l-5-1.4z" fill="#a50026"/><path d="M1007.4 1042.5l-10 0.9l-9.9 1l9.9 2.8l9.9 2.9l9.9-1.1l10-1.1l-9.9-2.7l-5-1.4z" fill="#a50026"/><path d="M967.8 1039.3l-10 0.9l-10.1 1.1l9.9 2.6l9.9 2.7l10-1.1l10-1.1l-9.9-2.6l-4.9-1.3z" fill="#a50026"/><path d="M848.8 1034l-10.1 1.4l-5.1 0.8l9.8 1.7l9.7 1.9l10.1-1.6l5.1-0.7l-9.8-1.9l-4.8-0.8z" fill="#a50026"/><path d="M928.1 1036.6l-10 1.1l-10.1 1.2l9.8 2.3l9.9 2.5l10-1.2l10-1.2l-9.8-2.4l-4.9-1.2z" fill="#a50026"/><path d="M888.4 1034.8l-10 1.3l-10.1 1.4l9.8 2l9.8 2.2l10-1.5l10.1-1.3l-9.8-2.1l-4.9-1z" fill="#a50026"/><path d="M1225.7 1056.2l-9.8 2.4l-9.8 2.3l10.1 1.9l5.1 0.9l9.7-2.6l9.8-2.6l-10.1-1.6z" fill="#a50026"/><path d="M1186 1057l-9.8 2l-9.9 2l10.1 2.3l10.1 2.2l9.8-2.2l9.8-2.4l-10.1-1.9l-5-1z" fill="#a50026"/><path d="M1146.3 1056.4l-9.9 1.6l-9.8 1.6l10 2.6l10 2.6l9.9-1.9l9.8-1.9l-10-2.3l-5-1.2z" fill="#a50026"/><path d="M1106.6 1054.4l-9.9 1.3l-9.9 1.3l10 2.9l10 2.8l9.9-1.5l9.9-1.6l-10-2.6l-5-1.3z" fill="#a50026"/><path d="M1066.9 1051.4l-9.9 1.1l-10 1.2l10 3l10 3l9.9-1.3l9.9-1.4l-10-2.8l-4.9-1.4z" fill="#a50026"/><path d="M1027.2 1047.9l-10 1.1l-9.9 1.1l9.9 2.9l9.9 3.1l10-1.2l9.9-1.2l-9.9-2.9l-5-1.5z" fill="#a50026"/><path d="M987.5 1044.4l-10 1.1l-10 1.1l9.8 2.9l10 2.9l10-1.2l10-1.1l-9.9-2.9l-5-1.4z" fill="#a50026"/><path d="M868.3 1037.5l-10.1 1.5l-5.1 0.8l9.8 2.1l9.8 2.2l10.1-1.6l5.1-0.8l-9.8-2.2l-4.9-1.1z" fill="#a50026"/><path d="M947.7 1041.3l-10 1.2l-10 1.2l9.8 2.7l9.9 2.7l10-1.3l10.1-1.2l-9.9-2.7l-4.9-1.3z" fill="#a50026"/><path d="M908 1038.9l-10.1 1.3l-10 1.5l9.8 2.4l9.8 2.5l10.1-1.5l10.1-1.4l-9.9-2.5l-4.9-1.2z" fill="#a50026"/><path d="M1206.1 1060.9l-9.8 2.4l-9.8 2.2l10.1 2.2l5 1.1l9.9-2.5l9.8-2.6l-10.1-1.8z" fill="#a50026"/><path d="M1166.3 1061l-9.8 1.9l-9.9 1.9l10.1 2.6l10.1 2.6l9.8-2.2l9.9-2.3l-10.1-2.2l-5-1.2z" fill="#a50026"/><path d="M1126.6 1059.6l-9.9 1.6l-9.9 1.5l10 2.9l10.1 2.9l9.9-1.8l9.8-1.9l-10-2.6l-5-1.3z" fill="#a50026"/><path d="M1086.8 1057l-9.9 1.4l-9.9 1.3l10 3.1l10 3.1l9.9-1.6l9.9-1.6l-10-2.8l-5-1.4z" fill="#a50026"/><path d="M1047 1053.7l-9.9 1.2l-10 1.2l10 3.1l9.9 3.3l10-1.4l10-1.4l-10-3l-5-1.5z" fill="#a50026"/><path d="M1007.3 1050.1l-10 1.1l-10 1.2l9.9 3.1l9.9 3.2l10-1.3l10-1.3l-9.9-3.1l-5-1.5z" fill="#a50026"/><path d="M887.9 1041.7l-10.2 1.6l-5 0.8l9.8 2.4l9.8 2.6l10.1-1.7l5.1-0.8l-9.8-2.5l-4.9-1.3z" fill="#a50026"/><path d="M967.5 1046.6l-10.1 1.2l-10 1.3l9.9 3l9.9 3.1l10-1.5l10.1-1.3l-10-2.9l-4.9-1.5z" fill="#a50026"/><path d="M927.7 1043.7l-10.1 1.4l-10.1 1.5l9.8 2.7l9.9 2.8l10.1-1.5l10.1-1.5l-9.9-2.7l-4.9-1.4z" fill="#a50026"/><path d="M1186.5 1065.5l-9.9 2.3l-9.8 2.2l10.1 2.5l5 1.3l9.9-2.5l9.8-2.5l-10.1-2.2z" fill="#a50026"/><path d="M1146.6 1064.8l-9.8 1.9l-9.9 1.8l10 2.9l10.1 2.9l9.9-2.2l9.9-2.1l-10.1-2.6l-5-1.3z" fill="#a50026"/><path d="M1106.8 1062.7l-9.9 1.6l-9.9 1.6l10 3.1l10 3.2l10-1.9l9.9-1.8l-10.1-2.9l-5-1.4z" fill="#a50026"/><path d="M1067 1059.7l-10 1.4l-10 1.4l10 3.2l10 3.4l10-1.6l10-1.6l-10-3.1l-5-1.6z" fill="#a50026"/><path d="M1027.1 1056.1l-10 1.3l-10 1.3l10 3.3l9.9 3.4l10.1-1.5l9.9-1.4l-9.9-3.3l-5-1.5z" fill="#a50026"/><path d="M987.3 1052.4l-10.1 1.3l-10 1.5l9.9 3.1l9.9 3.4l10.1-1.5l10-1.5l-9.9-3.2l-5-1.5z" fill="#a50026"/><path d="M907.5 1046.6l-10.1 1.6l-5.1 0.9l9.9 2.7l9.9 2.9l10.1-1.7l5-0.9l-9.9-2.8l-4.9-1.4z" fill="#a50026"/><path d="M947.4 1049.1l-10.1 1.5l-10.1 1.5l9.9 3l9.9 3.2l10.1-1.6l10.1-1.5l-9.9-3.1l-5-1.5z" fill="#a50026"/><path d="M1166.8 1070l-9.9 2.1l-9.9 2.2l10.1 2.8l5.1 1.5l9.8-2.4l9.9-2.4l-10.1-2.6z" fill="#a50026"/><path d="M1126.9 1068.5l-9.9 1.8l-10 1.9l10.1 3.1l10.1 3.2l9.9-2.1l9.9-2.1l-10.1-2.9l-5-1.4z" fill="#a50026"/><path d="M1087 1065.9l-10 1.6l-10 1.6l10.1 3.3l10 3.4l10-1.8l9.9-1.8l-10-3.2l-5-1.6z" fill="#a50026"/><path d="M1047 1062.5l-9.9 1.4l-10.1 1.5l10 3.5l10 3.5l10.1-1.7l9.9-1.6l-10-3.4l-5-1.6z" fill="#a50026"/><path d="M1007.1 1058.7l-10 1.5l-10.1 1.5l10 3.4l10 3.5l10-1.6l10-1.6l-9.9-3.4l-5-1.6z" fill="#a50026"/><path d="M927.2 1052.1l-10.1 1.7l-5 0.9l9.8 3.1l9.9 3.1l10.2-1.8l5-0.8l-9.9-3.2l-4.9-1.5z" fill="#a50026"/><path d="M967.2 1055.2l-10.1 1.5l-10.1 1.6l9.9 3.3l10 3.4l10.1-1.7l10-1.6l-9.9-3.4l-5-1.6z" fill="#a50026"/><path d="M1147 1074.3l-9.9 2.1l-9.9 2.1l10.1 3.2l5 1.6l9.9-2.4l10-2.3l-10.2-2.9z" fill="#a50026"/><path d="M1107 1072.2l-9.9 1.8l-10 1.8l10.1 3.5l10 3.4l10-2.1l10-2.1l-10.1-3.2l-5-1.5z" fill="#a50026"/><path d="M1067 1069.1l-9.9 1.6l-10.1 1.7l10.1 3.6l10 3.6l10-1.9l10-1.9l-10-3.4l-5.1-1.7z" fill="#a50026"/><path d="M1027 1065.4l-10 1.6l-10 1.6l10 3.6l10 3.7l10-1.8l10-1.7l-10-3.5l-5-1.8z" fill="#a50026"/><path d="M947 1058.3l-10.1 1.7l-5.1 0.9l10 3.4l9.9 3.4l10.1-1.9l5.1-0.8l-10-3.4l-4.9-1.7z" fill="#a50026"/><path d="M987 1061.7l-10 1.6l-10.1 1.7l9.9 3.5l10 3.6l10.1-1.8l10.1-1.7l-10-3.5l-5-1.7z" fill="#a50026"/><path d="M1127.2 1078.5l-10 2.1l-10 2.1l10.1 3.5l5.1 1.7l10-2.3l9.9-2.3l-10.1-3.2z" fill="#a50026"/><path d="M1087.1 1075.8l-10 1.9l-10 1.9l10.1 3.6l10.1 3.7l10-2.1l9.9-2.1l-10-3.4l-5.1-1.7z" fill="#a50026"/><path d="M1047 1072.4l-10 1.7l-10 1.8l10 3.7l10 3.8l10.1-1.9l10-1.9l-10-3.6l-5-1.8z" fill="#a50026"/><path d="M966.9 1065l-10.1 1.8l-5.1 0.9l10 3.6l10 3.6l10.1-1.9l5-0.9l-10-3.6l-4.9-1.8z" fill="#a50026"/><path d="M1007 1068.6l-10.1 1.7l-10.1 1.8l10 3.7l10 3.8l10.1-1.9l10.1-1.8l-10-3.7l-5-1.8z" fill="#a50026"/><path d="M1107.2 1082.7l-9.9 2.1l-10 2.1l10 3.7l5.1 1.8l10-2.2l10-2.3l-10.1-3.5z" fill="#a50026"/><path d="M1067.1 1079.6l-10 1.9l-10.1 1.9l10.1 3.9l10.1 3.8l10-2.1l10.1-2.1l-10.1-3.7l-5.1-1.8z" fill="#a50026"/><path d="M986.8 1072.1l-10.1 1.9l-5 0.9l9.9 3.8l10.1 3.9l10.1-2l5-1l-10-3.8l-5-1.9z" fill="#a50026"/><path d="M1027 1075.9l-10.1 1.8l-10.1 1.9l10.1 3.9l10 3.9l10.1-2l10-2l-10-3.8l-5-1.9z" fill="#a50026"/><path d="M1087.3 1086.9l-10.1 2.1l-10 2.1l10.1 3.9l5 2l10.1-2.3l10-2.3l-10.1-3.6z" fill="#a50026"/><path d="M1006.8 1079.6l-10.1 2l-5 1l10 3.9l10 4l10.2-2.1l5-1l-10-3.9l-5.1-2z" fill="#a50026"/><path d="M1047 1083.4l-10 2l-10.1 2l10.1 4l10 4l10.1-2.2l10.1-2.1l-10.1-3.8l-5-2z" fill="#a50026"/><path d="M1067.2 1091.1l-10.1 2.1l-10.1 2.2l10.1 4l5.1 2l10.1-2.2l10-2.2l-10.1-3.9z" fill="#a50026"/><path d="M1026.9 1087.4l-10.1 2l-5.1 1.1l10.1 4l10.1 4.1l10.1-2.1l5-1.1l-10-4l-5.1-2z" fill="#a50026"/><path d="M1047 1095.4l-10.1 2.1l-5 1.1l10.1 4.1l5 2.1l10.2-2.3l5-1.1l-10.1-4z" fill="#a50026"/></g>
<path d="M2310.7 1672.2l100.6 0l0-1001.8l-100.6 0z" fill="#ffffff"/>
<linearGradient id="g2606" x1="0" y1="0" x2="0" y2="1"><stop offset="0.0020" stop-color="#a50026" stop-opacity="0.85"/><stop offset="0.0137" stop-color="#ab0626" stop-opacity="0.85"/><stop offset="0.0293" stop-color="#b30d26" stop-opacity="0.85"/><stop offset="0.0449" stop-color="#bb1526" stop-opacity="0.85"/><stop offset="0.0605" stop-color="#c21c27" stop-opacity="0.85"/><stop offset="0.0762" stop-color="#ca2427" stop-opacity="0.85"/><stop offset="0.0918" stop-color="#d22b27" stop-opacity="0.85"/><stop offset="0.1074" stop-color="#d93429" stop-opacity="0.85"/><stop offset="0.1230" stop-color="#dd3d2d" stop-opacity="0.85"/><stop offset="0.1387" stop-color="#e24731" stop-opacity="0.85"/><stop offset="0.1543" stop-color="#e65036" stop-opacity="0.85"/><stop offset="0.1699" stop-color="#eb5a3a" stop-opacity="0.85"/><stop offset="0.1855" stop-color="#ef633f" stop-opacity="0.85"/><stop offset="0.2012" stop-color="#f46d43" stop-opacity="0.85"/><stop offset="0.2168" stop-color="#f57748" stop-opacity="0.85"/><stop offset="0.2324" stop-color="#f7814c" stop-opacity="0.85"/><stop offset="0.2480" stop-color="#f88c51" stop-opacity="0.85"/><stop offset="0.2637" stop-color="#fa9656" stop-opacity="0.85"/><stop offset="0.2793" stop-color="#fba05b" stop-opacity="0.85"/><stop offset="0.2949" stop-color="#fcaa5f" stop-opacity="0.85"/><stop offset="0.3105" stop-color="#fdb366" stop-opacity="0.85"/><stop offset="0.3262" stop-color="#fdbb6d" stop-opacity="0.85"/><stop offset="0.3418" stop-color="#fdc374" stop-opacity="0.85"/><stop offset="0.3574" stop-color="#feca7c" stop-opacity="0.85"/><stop offset="0.3730" stop-color="#fed283" stop-opacity="0.85"/><stop offset="0.3887" stop-color="#feda8a" stop-opacity="0.85"/><stop offset="0.4043" stop-color="#fee192" stop-opacity="0.85"/><stop offset="0.4199" stop-color="#fee699" stop-opacity="0.85"/><stop offset="0.4355" stop-color="#feeba1" stop-opacity="0.85"/><stop offset="0.4512" stop-color="#fff0a8" stop-opacity="0.85"/><stop offset="0.4668" stop-color="#fff5af" stop-opacity="0.85"/><stop offset="0.4824" stop-color="#fffab7" stop-opacity="0.85"/><stop offset="0.4980" stop-color="#fffebe" stop-opacity="0.85"/><stop offset="0.5137" stop-color="#fbfdc7" stop-opacity="0.85"/><stop offset="0.5293" stop-color="#f6fbd0" stop-opacity="0.85"/><stop offset="0.5449" stop-color="#f1fad9" stop-opacity="0.85"/><stop offset="0.5605" stop-color="#ecf8e2" stop-opacity="0.85"/><stop offset="0.5762" stop-color="#e7f6eb" stop-opacity="0.85"/><stop offset="0.5918" stop-color="#e2f4f4" stop-opacity="0.85"/><stop offset="0.6074" stop-color="#dcf1f7" stop-opacity="0.85"/><stop offset="0.6230" stop-color="#d4edf4" stop-opacity="0.85"/><stop offset="0.6387" stop-color="#cbe9f2" stop-opacity="0.85"/><stop offset="0.6543" stop-color="#c3e5f0" stop-opacity="0.85"/><stop offset="0.6699" stop-color="#bbe1ed" stop-opacity="0.85"/><stop offset="0.6855" stop-color="#b2ddeb" stop-opacity="0.85"/><stop offset="0.7012" stop-color="#aad8e9" stop-opacity="0.85"/><stop offset="0.7168" stop-color="#a1d1e5" stop-opacity="0.85"/><stop offset="0.7324" stop-color="#99cae1" stop-opacity="0.85"/><stop offset="0.7480" stop-color="#90c3dd" stop-opacity="0.85"/><stop offset="0.7637" stop-color="#87bdd9" stop-opacity="0.85"/><stop offset="0.7793" stop-color="#7fb6d6" stop-opacity="0.85"/><stop offset="0.7949" stop-color="#76afd2" stop-opacity="0.85"/><stop offset="0.8105" stop-color="#6ea6ce" stop-opacity="0.85"/><stop offset="0.8262" stop-color="#679ec9" stop-opacity="0.85"/><stop offset="0.8418" stop-color="#6095c4" stop-opacity="0.85"/><stop offset="0.8574" stop-color="#588cc0" stop-opacity="0.85"/><stop offset="0.8730" stop-color="#5183bb" stop-opacity="0.85"/><stop offset="0.8887" stop-color="#4a7ab7" stop-opacity="0.85"/><stop offset="0.9043" stop-color="#4471b2" stop-opacity="0.85"/><stop offset="0.9199" stop-color="#4167ad" stop-opacity="0.85"/><stop offset="0.9355" stop-color="#3e5ea8" stop-opacity="0.85"/><stop offset="0.9512" stop-color="#3a54a4" stop-opacity="0.85"/><stop offset="0.9668" stop-color="#374a9f" stop-opacity="0.85"/><stop offset="0.9824" stop-color="#34409a" stop-opacity="0.85"/><stop offset="0.9980" stop-color="#313695" stop-opacity="0.85"/></linearGradient><rect x="2310.7" y="670.4" width="100.6" height="1001.8" fill="url(#g2606)"/>
<path d="M2411.3 1672.2l9 0" fill="#000000" stroke="#000000" stroke-width="2.07"/>
<text transform="translate(2429.4 1682.1)" font-size="25.83" fill="#000000"  textLength="62.8" lengthAdjust="spacingAndGlyphs">−5.0</text>
<path d="M2411.3 1547l9 0" fill="#000000" stroke="#000000" stroke-width="2.07"/>
<text transform="translate(2429.4 1556.8)" font-size="25.83" fill="#000000"  textLength="62.8" lengthAdjust="spacingAndGlyphs">−2.5</text>
<path d="M2411.3 1421.8l9 0" fill="#000000" stroke="#000000" stroke-width="2.07"/>
<text transform="translate(2429.4 1431.6)" font-size="25.83" fill="#000000"  textLength="41.2" lengthAdjust="spacingAndGlyphs">0.0</text>
<path d="M2411.3 1296.5l9 0" fill="#000000" stroke="#000000" stroke-width="2.07"/>
<text transform="translate(2429.4 1306.4)" font-size="25.83" fill="#000000"  textLength="41.2" lengthAdjust="spacingAndGlyphs">2.5</text>
<path d="M2411.3 1171.3l9 0" fill="#000000" stroke="#000000" stroke-width="2.07"/>
<text transform="translate(2429.4 1181.2)" font-size="25.83" fill="#000000"  textLength="41.2" lengthAdjust="spacingAndGlyphs">5.0</text>
<path d="M2411.3 1046.1l9 0" fill="#000000" stroke="#000000" stroke-width="2.07"/>
<text transform="translate(2429.4 1056)" font-size="25.83" fill="#000000"  textLength="41.2" lengthAdjust="spacingAndGlyphs">7.5</text>
<path d="M2411.3 920.8l9 0" fill="#000000" stroke="#000000" stroke-width="2.07"/>
<text transform="translate(2429.4 930.7)" font-size="25.83" fill="#000000"  textLength="57.6" lengthAdjust="spacingAndGlyphs">10.0</text>
<path d="M2411.3 795.6l9 0" fill="#000000" stroke="#000000" stroke-width="2.07"/>
<text transform="translate(2429.4 805.5)" font-size="25.83" fill="#000000"  textLength="57.6" lengthAdjust="spacingAndGlyphs">12.5</text>
<path d="M2411.3 670.4l9 0" fill="#000000" stroke="#000000" stroke-width="2.07"/>
<text transform="translate(2429.4 680.3)" font-size="25.83" fill="#000000"  textLength="57.6" lengthAdjust="spacingAndGlyphs">15.0</text>
<text transform="translate(2516.5 1078.5) rotate(-270)" font-size="31" fill="#000000" font-weight="bold" textLength="185.7" lengthAdjust="spacingAndGlyphs">Loss Value</text>
<path d="M2310.7 1672.2l100.6 0l0-1001.8l-100.6 0l0 1001.8l0 0" fill="none" stroke="#000000" stroke-width="2.07" stroke-linejoin="miter" stroke-linecap="square"/>
</svg></body></html>
